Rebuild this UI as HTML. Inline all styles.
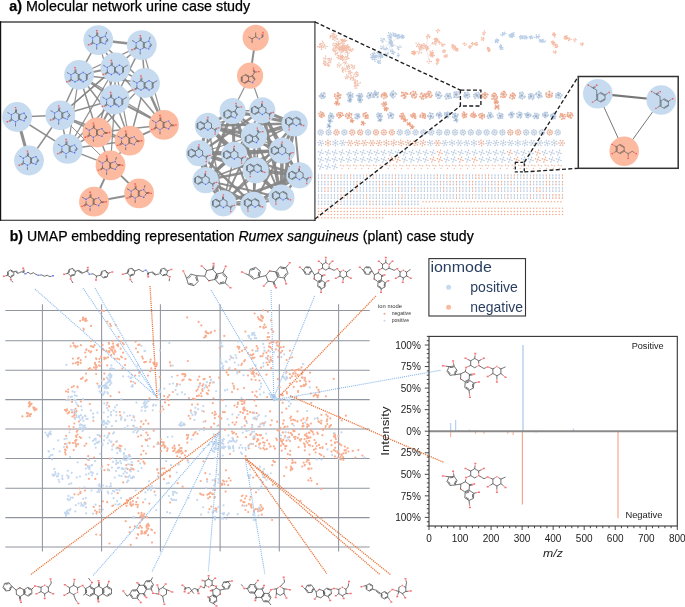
<!DOCTYPE html>
<html><head><meta charset="utf-8"><style>
html,body{margin:0;padding:0;background:#fff;width:685px;height:607px;overflow:hidden}
svg{display:block;will-change:transform}
text{font-family:"Liberation Sans",sans-serif}
</style></head><body>
<svg width="685" height="607" viewBox="0 0 685 607">
<text x="9.2" y="10.9" font-size="14.2" textLength="241" lengthAdjust="spacingAndGlyphs" fill="#000" stroke="#000" stroke-width="0.25"><tspan font-weight="bold">a)</tspan> Molecular network urine case study</text>
<text x="9.7" y="241.3" font-size="14.2" textLength="464" lengthAdjust="spacingAndGlyphs" fill="#000" stroke="#000" stroke-width="0.25"><tspan font-weight="bold">b)</tspan> UMAP embedding representation <tspan font-style="italic">Rumex sanguineus</tspan> (plant) case study</text>
<line x1="98.3" y1="40.1" x2="141.8" y2="45.1" stroke="#858585" stroke-width="2.5" stroke-opacity="0.92"/>
<line x1="98.3" y1="40.1" x2="115.4" y2="67.5" stroke="#858585" stroke-width="1.5" stroke-opacity="0.92"/>
<line x1="98.3" y1="40.1" x2="79.1" y2="74.8" stroke="#858585" stroke-width="1.5" stroke-opacity="0.92"/>
<line x1="141.8" y1="45.1" x2="115.4" y2="67.5" stroke="#858585" stroke-width="1.5" stroke-opacity="0.92"/>
<line x1="141.8" y1="45.1" x2="145" y2="83" stroke="#858585" stroke-width="1.5" stroke-opacity="0.92"/>
<line x1="115.4" y1="67.5" x2="79.1" y2="74.8" stroke="#858585" stroke-width="2" stroke-opacity="0.92"/>
<line x1="115.4" y1="67.5" x2="145" y2="83" stroke="#858585" stroke-width="1.5" stroke-opacity="0.92"/>
<line x1="115.4" y1="67.5" x2="114.7" y2="99.5" stroke="#858585" stroke-width="1.5" stroke-opacity="0.92"/>
<line x1="79.1" y1="74.8" x2="114.7" y2="99.5" stroke="#858585" stroke-width="2" stroke-opacity="0.92"/>
<line x1="79.1" y1="74.8" x2="145" y2="83" stroke="#858585" stroke-width="1.5" stroke-opacity="0.92"/>
<line x1="145" y1="83" x2="114.7" y2="99.5" stroke="#858585" stroke-width="1.5" stroke-opacity="0.92"/>
<line x1="79.1" y1="74.8" x2="60.3" y2="115.3" stroke="#858585" stroke-width="1.5" stroke-opacity="0.92"/>
<line x1="79.1" y1="74.8" x2="97.3" y2="132.5" stroke="#858585" stroke-width="1.5" stroke-opacity="0.92"/>
<line x1="79.1" y1="74.8" x2="129.6" y2="140.7" stroke="#858585" stroke-width="1.5" stroke-opacity="0.92"/>
<line x1="115.4" y1="67.5" x2="97.3" y2="132.5" stroke="#858585" stroke-width="1.5" stroke-opacity="0.92"/>
<line x1="114.7" y1="99.5" x2="97.3" y2="132.5" stroke="#858585" stroke-width="2" stroke-opacity="0.92"/>
<line x1="114.7" y1="99.5" x2="129.6" y2="140.7" stroke="#858585" stroke-width="1.5" stroke-opacity="0.92"/>
<line x1="114.7" y1="99.5" x2="163.9" y2="124.9" stroke="#858585" stroke-width="2" stroke-opacity="0.92"/>
<line x1="145" y1="83" x2="163.9" y2="124.9" stroke="#858585" stroke-width="2.5" stroke-opacity="0.92"/>
<line x1="145" y1="83" x2="129.6" y2="140.7" stroke="#858585" stroke-width="1.5" stroke-opacity="0.92"/>
<line x1="115.4" y1="67.5" x2="163.9" y2="124.9" stroke="#858585" stroke-width="1.5" stroke-opacity="0.92"/>
<line x1="114.7" y1="99.5" x2="60.3" y2="115.3" stroke="#858585" stroke-width="1.5" stroke-opacity="0.92"/>
<line x1="17.1" y1="117" x2="60.3" y2="115.3" stroke="#858585" stroke-width="1.5" stroke-opacity="0.92"/>
<line x1="17.1" y1="117" x2="29" y2="160.5" stroke="#858585" stroke-width="3" stroke-opacity="0.92"/>
<line x1="17.1" y1="117" x2="67.6" y2="148.9" stroke="#858585" stroke-width="1.5" stroke-opacity="0.92"/>
<line x1="60.3" y1="115.3" x2="29" y2="160.5" stroke="#858585" stroke-width="1.5" stroke-opacity="0.92"/>
<line x1="60.3" y1="115.3" x2="67.6" y2="148.9" stroke="#858585" stroke-width="1.5" stroke-opacity="0.92"/>
<line x1="67.6" y1="148.9" x2="97.3" y2="132.5" stroke="#858585" stroke-width="1.5" stroke-opacity="0.92"/>
<line x1="67.6" y1="148.9" x2="110.5" y2="165.4" stroke="#858585" stroke-width="1.5" stroke-opacity="0.92"/>
<line x1="60.3" y1="115.3" x2="129.6" y2="140.7" stroke="#858585" stroke-width="1.5" stroke-opacity="0.92"/>
<line x1="97.3" y1="132.5" x2="129.6" y2="140.7" stroke="#858585" stroke-width="1.5" stroke-opacity="0.92"/>
<line x1="129.6" y1="140.7" x2="163.9" y2="124.9" stroke="#858585" stroke-width="2" stroke-opacity="0.92"/>
<line x1="97.3" y1="132.5" x2="110.5" y2="165.4" stroke="#858585" stroke-width="1.5" stroke-opacity="0.92"/>
<line x1="129.6" y1="140.7" x2="110.5" y2="165.4" stroke="#858585" stroke-width="1.5" stroke-opacity="0.92"/>
<line x1="110.5" y1="165.4" x2="139.1" y2="193.4" stroke="#858585" stroke-width="2" stroke-opacity="0.92"/>
<line x1="110.5" y1="165.4" x2="94" y2="201.7" stroke="#858585" stroke-width="2" stroke-opacity="0.92"/>
<line x1="139.1" y1="193.4" x2="94" y2="201.7" stroke="#858585" stroke-width="2" stroke-opacity="0.92"/>
<line x1="60.3" y1="115.3" x2="115.4" y2="67.5" stroke="#858585" stroke-width="1.5" stroke-opacity="0.92"/>
<line x1="67.6" y1="148.9" x2="114.7" y2="99.5" stroke="#858585" stroke-width="1.5" stroke-opacity="0.92"/>
<line x1="98.3" y1="40.1" x2="145" y2="83" stroke="#858585" stroke-width="1.5" stroke-opacity="0.92"/>
<line x1="141.8" y1="45.1" x2="114.7" y2="99.5" stroke="#858585" stroke-width="1.5" stroke-opacity="0.92"/>
<line x1="60.3" y1="115.3" x2="97.3" y2="132.5" stroke="#858585" stroke-width="1.5" stroke-opacity="0.92"/>
<line x1="67.6" y1="148.9" x2="129.6" y2="140.7" stroke="#858585" stroke-width="1.5" stroke-opacity="0.92"/>
<line x1="145" y1="83" x2="97.3" y2="132.5" stroke="#858585" stroke-width="1.2" stroke-opacity="0.92"/>
<line x1="115.4" y1="67.5" x2="129.6" y2="140.7" stroke="#858585" stroke-width="1.2" stroke-opacity="0.92"/>
<line x1="141.8" y1="45.1" x2="79.1" y2="74.8" stroke="#858585" stroke-width="1.2" stroke-opacity="0.92"/>
<line x1="163.9" y1="124.9" x2="97.3" y2="132.5" stroke="#858585" stroke-width="1.5" stroke-opacity="0.92"/>
<line x1="67.6" y1="148.9" x2="79.1" y2="74.8" stroke="#858585" stroke-width="1.2" stroke-opacity="0.92"/>
<line x1="98.3" y1="40.1" x2="114.7" y2="99.5" stroke="#858585" stroke-width="1.2" stroke-opacity="0.92"/>
<line x1="115.4" y1="67.5" x2="67.6" y2="148.9" stroke="#858585" stroke-width="1.2" stroke-opacity="0.92"/>
<line x1="79.1" y1="74.8" x2="163.9" y2="124.9" stroke="#858585" stroke-width="1.2" stroke-opacity="0.92"/>
<line x1="141.8" y1="45.1" x2="163.9" y2="124.9" stroke="#858585" stroke-width="1.2" stroke-opacity="0.92"/>
<line x1="114.7" y1="99.5" x2="110.5" y2="165.4" stroke="#858585" stroke-width="1.2" stroke-opacity="0.92"/>
<line x1="60.3" y1="115.3" x2="110.5" y2="165.4" stroke="#858585" stroke-width="1.0" stroke-opacity="0.92"/>
<line x1="115.4" y1="67.5" x2="60.3" y2="115.3" stroke="#858585" stroke-width="1.2" stroke-opacity="0.92"/>
<line x1="255.7" y1="37.8" x2="250.1" y2="75.7" stroke="#858585" stroke-width="2" stroke-opacity="0.92"/>
<line x1="250.1" y1="75.7" x2="232.6" y2="111" stroke="#858585" stroke-width="1.2" stroke-opacity="0.92"/>
<line x1="250.1" y1="75.7" x2="262.3" y2="110.3" stroke="#858585" stroke-width="1.2" stroke-opacity="0.92"/>
<line x1="294.6" y1="123.5" x2="299.5" y2="175.3" stroke="#858585" stroke-width="2" stroke-opacity="0.92"/>
<line x1="232.6" y1="111" x2="262.3" y2="110.3" stroke="#858585" stroke-width="1.5" stroke-opacity="0.92"/>
<line x1="232.6" y1="111" x2="207.9" y2="125.8" stroke="#858585" stroke-width="3" stroke-opacity="0.92"/>
<line x1="232.6" y1="111" x2="294.6" y2="123.5" stroke="#858585" stroke-width="3" stroke-opacity="0.92"/>
<line x1="232.6" y1="111" x2="254" y2="135.7" stroke="#858585" stroke-width="1.5" stroke-opacity="0.92"/>
<line x1="232.6" y1="111" x2="199" y2="153.2" stroke="#858585" stroke-width="2" stroke-opacity="0.92"/>
<line x1="232.6" y1="111" x2="234.3" y2="154.8" stroke="#858585" stroke-width="3" stroke-opacity="0.92"/>
<line x1="232.6" y1="111" x2="282.1" y2="150.5" stroke="#858585" stroke-width="2.5" stroke-opacity="0.92"/>
<line x1="232.6" y1="111" x2="255.7" y2="170.3" stroke="#858585" stroke-width="3.5" stroke-opacity="0.92"/>
<line x1="232.6" y1="111" x2="205.6" y2="180.2" stroke="#858585" stroke-width="3" stroke-opacity="0.92"/>
<line x1="262.3" y1="110.3" x2="207.9" y2="125.8" stroke="#858585" stroke-width="1.2" stroke-opacity="0.92"/>
<line x1="262.3" y1="110.3" x2="294.6" y2="123.5" stroke="#858585" stroke-width="3" stroke-opacity="0.92"/>
<line x1="262.3" y1="110.3" x2="254" y2="135.7" stroke="#858585" stroke-width="1.2" stroke-opacity="0.92"/>
<line x1="262.3" y1="110.3" x2="199" y2="153.2" stroke="#858585" stroke-width="2.5" stroke-opacity="0.92"/>
<line x1="262.3" y1="110.3" x2="234.3" y2="154.8" stroke="#858585" stroke-width="2" stroke-opacity="0.92"/>
<line x1="262.3" y1="110.3" x2="282.1" y2="150.5" stroke="#858585" stroke-width="3" stroke-opacity="0.92"/>
<line x1="262.3" y1="110.3" x2="255.7" y2="170.3" stroke="#858585" stroke-width="1.5" stroke-opacity="0.92"/>
<line x1="262.3" y1="110.3" x2="299.5" y2="175.3" stroke="#858585" stroke-width="1.5" stroke-opacity="0.92"/>
<line x1="262.3" y1="110.3" x2="281.4" y2="197.7" stroke="#858585" stroke-width="3.5" stroke-opacity="0.92"/>
<line x1="207.9" y1="125.8" x2="294.6" y2="123.5" stroke="#858585" stroke-width="2.5" stroke-opacity="0.92"/>
<line x1="207.9" y1="125.8" x2="254" y2="135.7" stroke="#858585" stroke-width="3" stroke-opacity="0.92"/>
<line x1="207.9" y1="125.8" x2="199" y2="153.2" stroke="#858585" stroke-width="3" stroke-opacity="0.92"/>
<line x1="207.9" y1="125.8" x2="234.3" y2="154.8" stroke="#858585" stroke-width="2.5" stroke-opacity="0.92"/>
<line x1="207.9" y1="125.8" x2="282.1" y2="150.5" stroke="#858585" stroke-width="2.5" stroke-opacity="0.92"/>
<line x1="207.9" y1="125.8" x2="255.7" y2="170.3" stroke="#858585" stroke-width="3.5" stroke-opacity="0.92"/>
<line x1="207.9" y1="125.8" x2="205.6" y2="180.2" stroke="#858585" stroke-width="1.5" stroke-opacity="0.92"/>
<line x1="207.9" y1="125.8" x2="223.4" y2="203.3" stroke="#858585" stroke-width="1.5" stroke-opacity="0.92"/>
<line x1="294.6" y1="123.5" x2="254" y2="135.7" stroke="#858585" stroke-width="3.5" stroke-opacity="0.92"/>
<line x1="294.6" y1="123.5" x2="234.3" y2="154.8" stroke="#858585" stroke-width="1.5" stroke-opacity="0.92"/>
<line x1="294.6" y1="123.5" x2="282.1" y2="150.5" stroke="#858585" stroke-width="3" stroke-opacity="0.92"/>
<line x1="294.6" y1="123.5" x2="255.7" y2="170.3" stroke="#858585" stroke-width="2.5" stroke-opacity="0.92"/>
<line x1="294.6" y1="123.5" x2="281.4" y2="197.7" stroke="#858585" stroke-width="3.5" stroke-opacity="0.92"/>
<line x1="254" y1="135.7" x2="199" y2="153.2" stroke="#858585" stroke-width="1.2" stroke-opacity="0.92"/>
<line x1="254" y1="135.7" x2="234.3" y2="154.8" stroke="#858585" stroke-width="3.5" stroke-opacity="0.92"/>
<line x1="254" y1="135.7" x2="282.1" y2="150.5" stroke="#858585" stroke-width="1.2" stroke-opacity="0.92"/>
<line x1="254" y1="135.7" x2="255.7" y2="170.3" stroke="#858585" stroke-width="1.5" stroke-opacity="0.92"/>
<line x1="254" y1="135.7" x2="205.6" y2="180.2" stroke="#858585" stroke-width="3" stroke-opacity="0.92"/>
<line x1="254" y1="135.7" x2="299.5" y2="175.3" stroke="#858585" stroke-width="1.2" stroke-opacity="0.92"/>
<line x1="254" y1="135.7" x2="223.4" y2="203.3" stroke="#858585" stroke-width="2" stroke-opacity="0.92"/>
<line x1="254" y1="135.7" x2="253.4" y2="204.9" stroke="#858585" stroke-width="1.2" stroke-opacity="0.92"/>
<line x1="254" y1="135.7" x2="281.4" y2="197.7" stroke="#858585" stroke-width="2" stroke-opacity="0.92"/>
<line x1="199" y1="153.2" x2="234.3" y2="154.8" stroke="#858585" stroke-width="2.5" stroke-opacity="0.92"/>
<line x1="199" y1="153.2" x2="282.1" y2="150.5" stroke="#858585" stroke-width="3" stroke-opacity="0.92"/>
<line x1="199" y1="153.2" x2="255.7" y2="170.3" stroke="#858585" stroke-width="3.5" stroke-opacity="0.92"/>
<line x1="199" y1="153.2" x2="205.6" y2="180.2" stroke="#858585" stroke-width="2.5" stroke-opacity="0.92"/>
<line x1="199" y1="153.2" x2="223.4" y2="203.3" stroke="#858585" stroke-width="3.5" stroke-opacity="0.92"/>
<line x1="199" y1="153.2" x2="253.4" y2="204.9" stroke="#858585" stroke-width="2.5" stroke-opacity="0.92"/>
<line x1="234.3" y1="154.8" x2="282.1" y2="150.5" stroke="#858585" stroke-width="2.5" stroke-opacity="0.92"/>
<line x1="234.3" y1="154.8" x2="255.7" y2="170.3" stroke="#858585" stroke-width="3.5" stroke-opacity="0.92"/>
<line x1="234.3" y1="154.8" x2="205.6" y2="180.2" stroke="#858585" stroke-width="3" stroke-opacity="0.92"/>
<line x1="234.3" y1="154.8" x2="299.5" y2="175.3" stroke="#858585" stroke-width="2.5" stroke-opacity="0.92"/>
<line x1="234.3" y1="154.8" x2="223.4" y2="203.3" stroke="#858585" stroke-width="1.5" stroke-opacity="0.92"/>
<line x1="234.3" y1="154.8" x2="253.4" y2="204.9" stroke="#858585" stroke-width="2" stroke-opacity="0.92"/>
<line x1="234.3" y1="154.8" x2="281.4" y2="197.7" stroke="#858585" stroke-width="1.2" stroke-opacity="0.92"/>
<line x1="282.1" y1="150.5" x2="255.7" y2="170.3" stroke="#858585" stroke-width="1.2" stroke-opacity="0.92"/>
<line x1="282.1" y1="150.5" x2="205.6" y2="180.2" stroke="#858585" stroke-width="1.5" stroke-opacity="0.92"/>
<line x1="282.1" y1="150.5" x2="299.5" y2="175.3" stroke="#858585" stroke-width="2.5" stroke-opacity="0.92"/>
<line x1="282.1" y1="150.5" x2="223.4" y2="203.3" stroke="#858585" stroke-width="1.5" stroke-opacity="0.92"/>
<line x1="282.1" y1="150.5" x2="253.4" y2="204.9" stroke="#858585" stroke-width="2" stroke-opacity="0.92"/>
<line x1="282.1" y1="150.5" x2="281.4" y2="197.7" stroke="#858585" stroke-width="3.5" stroke-opacity="0.92"/>
<line x1="255.7" y1="170.3" x2="205.6" y2="180.2" stroke="#858585" stroke-width="2.5" stroke-opacity="0.92"/>
<line x1="255.7" y1="170.3" x2="299.5" y2="175.3" stroke="#858585" stroke-width="3.5" stroke-opacity="0.92"/>
<line x1="255.7" y1="170.3" x2="223.4" y2="203.3" stroke="#858585" stroke-width="2" stroke-opacity="0.92"/>
<line x1="255.7" y1="170.3" x2="253.4" y2="204.9" stroke="#858585" stroke-width="2.5" stroke-opacity="0.92"/>
<line x1="255.7" y1="170.3" x2="281.4" y2="197.7" stroke="#858585" stroke-width="3" stroke-opacity="0.92"/>
<line x1="205.6" y1="180.2" x2="223.4" y2="203.3" stroke="#858585" stroke-width="2.5" stroke-opacity="0.92"/>
<line x1="205.6" y1="180.2" x2="253.4" y2="204.9" stroke="#858585" stroke-width="3" stroke-opacity="0.92"/>
<line x1="205.6" y1="180.2" x2="281.4" y2="197.7" stroke="#858585" stroke-width="2" stroke-opacity="0.92"/>
<line x1="299.5" y1="175.3" x2="223.4" y2="203.3" stroke="#858585" stroke-width="3" stroke-opacity="0.92"/>
<line x1="299.5" y1="175.3" x2="253.4" y2="204.9" stroke="#858585" stroke-width="3" stroke-opacity="0.92"/>
<line x1="299.5" y1="175.3" x2="281.4" y2="197.7" stroke="#858585" stroke-width="2.5" stroke-opacity="0.92"/>
<line x1="223.4" y1="203.3" x2="253.4" y2="204.9" stroke="#858585" stroke-width="3" stroke-opacity="0.92"/>
<line x1="223.4" y1="203.3" x2="281.4" y2="197.7" stroke="#858585" stroke-width="1.5" stroke-opacity="0.92"/>
<line x1="253.4" y1="204.9" x2="281.4" y2="197.7" stroke="#858585" stroke-width="2" stroke-opacity="0.92"/>
<circle cx="98.3" cy="40.1" r="14.9" fill="#c6dbef"/>
<circle cx="141.8" cy="45.1" r="14.9" fill="#c6dbef"/>
<circle cx="115.4" cy="67.5" r="14.9" fill="#c6dbef"/>
<circle cx="79.1" cy="74.8" r="14.9" fill="#c6dbef"/>
<circle cx="145" cy="83" r="14.9" fill="#c6dbef"/>
<circle cx="114.7" cy="99.5" r="14.9" fill="#c6dbef"/>
<circle cx="17.1" cy="117" r="14.9" fill="#c6dbef"/>
<circle cx="60.3" cy="115.3" r="14.9" fill="#c6dbef"/>
<circle cx="163.9" cy="124.9" r="14.9" fill="#fcbba1"/>
<circle cx="97.3" cy="132.5" r="14.9" fill="#fcbba1"/>
<circle cx="129.6" cy="140.7" r="14.9" fill="#fcbba1"/>
<circle cx="67.6" cy="148.9" r="14.9" fill="#c6dbef"/>
<circle cx="29" cy="160.5" r="14.9" fill="#c6dbef"/>
<circle cx="110.5" cy="165.4" r="14.9" fill="#fcbba1"/>
<circle cx="139.1" cy="193.4" r="14.9" fill="#fcbba1"/>
<circle cx="94" cy="201.7" r="14.9" fill="#fcbba1"/>
<circle cx="255.7" cy="37.8" r="13.1" fill="#fcbba1"/>
<circle cx="250.1" cy="75.7" r="13.1" fill="#fcbba1"/>
<circle cx="232.6" cy="111" r="13.1" fill="#c6dbef"/>
<circle cx="262.3" cy="110.3" r="13.1" fill="#c6dbef"/>
<circle cx="207.9" cy="125.8" r="13.1" fill="#c6dbef"/>
<circle cx="294.6" cy="123.5" r="13.1" fill="#c6dbef"/>
<circle cx="254" cy="135.7" r="13.1" fill="#c6dbef"/>
<circle cx="199" cy="153.2" r="13.1" fill="#c6dbef"/>
<circle cx="234.3" cy="154.8" r="13.1" fill="#c6dbef"/>
<circle cx="282.1" cy="150.5" r="13.1" fill="#c6dbef"/>
<circle cx="255.7" cy="170.3" r="13.1" fill="#c6dbef"/>
<circle cx="205.6" cy="180.2" r="13.1" fill="#c6dbef"/>
<circle cx="299.5" cy="175.3" r="13.1" fill="#c6dbef"/>
<circle cx="223.4" cy="203.3" r="13.1" fill="#c6dbef"/>
<circle cx="253.4" cy="204.9" r="13.1" fill="#c6dbef"/>
<circle cx="281.4" cy="197.7" r="13.1" fill="#c6dbef"/>
<path d="M96.7 35.4L98.8 36.6M98.8 36.6L100.8 37.8M100.8 37.8L100.8 40.1M99.8 37.8L99.8 40.1M100.8 40.1L100.8 42.5M99.8 40.1L99.8 42.5M100.8 42.5L98.8 43.6M94.7 43.6L92.6 42.5M92.6 42.5L92.6 40.1M94.7 36.6L96.7 35.4M100.8 42.5L103 43.2M106.6 42L108 40.1M105.9 41.4L107.3 39.5M108 40.1L106.6 38.2M103 37L100.8 37.8M96.7 35.4L96.7 33M97.7 35.4L97.7 33M92.6 42.5L90.6 43.6M93.1 43.3L91.1 44.4M90.6 36.6L88.6 35.4M96.7 47.2L96.7 49.5M106 34.1L106.7 31.8M140.2 40.4L142.3 41.6M142.3 41.6L144.3 42.8M144.3 42.8L144.3 45.1M143.3 42.8L143.3 45.1M144.3 45.1L144.3 47.5M143.3 45.1L143.3 47.5M144.3 47.5L142.3 48.6M138.2 48.6L136.1 47.5M136.1 47.5L136.1 45.1M138.2 41.6L140.2 40.4M144.3 47.5L146.5 48.2M150.1 47L151.5 45.1M149.4 46.4L150.8 44.5M151.5 45.1L150.1 43.2M146.5 42L144.3 42.8M140.2 40.4L140.2 38M141.2 40.4L141.2 38M136.1 47.5L134.1 48.6M136.6 48.3L134.6 49.4M134.1 41.6L132.1 40.4M140.2 52.2L140.2 54.5M149.5 39.1L150.2 36.8M111.3 65.2L113.4 66.3M113.4 66.3L115.4 67.5M115.4 67.5L115.4 69.8M114.5 67.5L114.5 69.8M115.4 69.8L115.4 72.2M114.5 69.8L114.5 72.2M115.4 72.2L113.4 73.4M109.3 73.4L107.3 72.2M107.3 72.2L107.3 69.8M109.3 66.3L111.3 65.2M121.5 66.3L123.5 67.5M123.5 67.5L123.5 69.8M122.6 67.5L122.6 69.8M123.5 69.8L123.5 72.2M122.6 69.8L122.6 72.2M123.5 72.2L121.5 73.4M117.4 73.4L115.4 72.2M117.9 72.6L115.9 71.4M115.4 67.5L117.4 66.3M111.3 65.2L111.3 62.8M112.3 65.2L112.3 62.8M107.3 72.2L105.2 73.4M107.7 73L105.7 74.2M105.2 66.3L103.2 65.2M123.5 67.5L125.6 66.3M125.6 66.3L127.6 65.2M75 72.5L77.1 73.6M77.1 73.6L79.1 74.8M79.1 74.8L79.1 77.2M78.2 74.8L78.2 77.2M79.1 77.2L79.1 79.5M78.2 77.2L78.2 79.5M79.1 79.5L77.1 80.7M73 80.7L71 79.5M71 79.5L71 77.2M73 73.6L75 72.5M85.2 73.6L87.2 74.8M87.2 74.8L87.2 77.2M86.3 74.8L86.3 77.2M87.2 77.2L87.2 79.5M86.3 77.2L86.3 79.5M87.2 79.5L85.2 80.7M81.1 80.7L79.1 79.5M81.6 79.9L79.6 78.7M79.1 74.8L81.1 73.6M75 72.5L75 70.1M76 72.5L76 70.1M71 79.5L68.9 80.7M71.4 80.3L69.4 81.5M68.9 73.6L66.9 72.5M87.2 74.8L89.3 73.6M89.3 73.6L91.3 72.5M140.9 80.7L143 81.8M143 81.8L145 83M145 83L145 85.3M144.1 83L144.1 85.3M145 85.3L145 87.7M144.1 85.3L144.1 87.7M145 87.7L143 88.9M138.9 88.9L136.9 87.7M136.9 87.7L136.9 85.3M138.9 81.8L140.9 80.7M151.1 81.8L153.1 83M153.1 83L153.1 85.3M152.2 83L152.2 85.3M153.1 85.3L153.1 87.7M152.2 85.3L152.2 87.7M153.1 87.7L151.1 88.9M147 88.9L145 87.7M147.5 88.1L145.5 86.9M145 83L147 81.8M140.9 80.7L140.9 78.3M141.9 80.7L141.9 78.3M136.9 87.7L134.8 88.9M137.3 88.5L135.3 89.7M134.8 81.8L132.8 80.7M153.1 83L155.2 81.8M155.2 81.8L157.2 80.7M110.6 97.2L112.7 98.3M112.7 98.3L114.7 99.5M114.7 99.5L114.7 101.8M113.8 99.5L113.8 101.8M114.7 101.8L114.7 104.2M113.8 101.8L113.8 104.2M114.7 104.2L112.7 105.4M108.6 105.4L106.6 104.2M106.6 104.2L106.6 101.8M108.6 98.3L110.6 97.2M120.8 98.3L122.8 99.5M122.8 99.5L122.8 101.8M121.9 99.5L121.9 101.8M122.8 101.8L122.8 104.2M121.9 101.8L121.9 104.2M122.8 104.2L120.8 105.4M116.7 105.4L114.7 104.2M117.2 104.6L115.2 103.4M114.7 99.5L116.7 98.3M110.6 97.2L110.6 94.8M111.6 97.2L111.6 94.8M106.6 104.2L104.5 105.4M107 105L105 106.2M104.5 98.3L102.5 97.2M122.8 99.5L124.9 98.3M124.9 98.3L126.9 97.2M15.5 112.3L17.6 113.5M17.6 113.5L19.6 114.7M19.6 114.7L19.6 117M18.6 114.7L18.6 117M19.6 117L19.6 119.3M18.6 117L18.6 119.3M19.6 119.3L17.6 120.5M13.5 120.5L11.4 119.3M11.4 119.3L11.4 117M13.5 113.5L15.5 112.3M19.6 119.3L21.8 120.1M25.4 118.9L26.8 117M24.7 118.3L26.1 116.4M26.8 117L25.4 115.1M21.8 113.9L19.6 114.7M15.5 112.3L15.5 109.9M16.5 112.3L16.5 109.9M11.4 119.3L9.4 120.5M11.9 120.2L9.9 121.3M9.4 113.5L7.4 112.3M15.5 124.1L15.5 126.4M58.7 110.6L60.8 111.8M60.8 111.8L62.8 113M62.8 113L62.8 115.3M61.8 113L61.8 115.3M62.8 115.3L62.8 117.6M61.8 115.3L61.8 117.6M62.8 117.6L60.8 118.8M56.7 118.8L54.6 117.6M54.6 117.6L54.6 115.3M56.7 111.8L58.7 110.6M62.8 117.6L65 118.4M68.6 117.2L70 115.3M67.9 116.6L69.3 114.7M70 115.3L68.6 113.4M65 112.2L62.8 113M58.7 110.6L58.7 108.2M59.7 110.6L59.7 108.2M54.6 117.6L52.6 118.8M55.1 118.5L53.1 119.6M52.6 111.8L50.6 110.6M58.7 122.3L58.7 124.7M160 120.2L162 121.4M162 121.4L164 122.6M164 122.6L164 124.9M163.1 122.6L163.1 124.9M164 124.9L164 127.2M163.1 124.9L163.1 127.2M164 127.2L162 128.4M157.9 128.4L155.9 127.2M155.9 127.2L155.9 124.9M157.9 121.4L160 120.2M164 127.2L166.3 128M169.9 126.8L171.3 124.9M171.3 124.9L169.9 123M166.3 121.8L164 122.6M160 120.2L160 117.8M160.9 120.2L160.9 117.8M155.9 127.2L153.9 128.4M156.4 128.1L154.3 129.2M153.9 121.4L151.8 120.2M160 131.9L160 134.3M171.3 124.9L173.6 124.9M171.3 125.8L173.6 125.8M93.4 127.8L95.4 129M95.4 129L97.4 130.2M97.4 130.2L97.4 132.5M96.5 130.2L96.5 132.5M97.4 132.5L97.4 134.8M96.5 132.5L96.5 134.8M97.4 134.8L95.4 136M91.3 136L89.3 134.8M89.3 134.8L89.3 132.5M91.3 129L93.4 127.8M97.4 134.8L99.7 135.6M103.3 134.4L104.7 132.5M104.7 132.5L103.3 130.6M99.7 129.4L97.4 130.2M93.4 127.8L93.4 125.4M94.3 127.8L94.3 125.4M89.3 134.8L87.3 136M89.8 135.7L87.7 136.8M87.3 129L85.2 127.8M93.4 139.6L93.4 141.9M104.7 132.5L107 132.5M104.7 133.4L107 133.4M125.7 136L127.7 137.2M127.7 137.2L129.7 138.3M129.7 138.3L129.7 140.7M128.8 138.3L128.8 140.7M129.7 140.7L129.7 143M128.8 140.7L128.8 143M129.7 143L127.7 144.2M123.6 144.2L121.6 143M121.6 143L121.6 140.7M123.6 137.2L125.7 136M129.7 143L132 143.8M135.6 142.6L137 140.7M137 140.7L135.6 138.8M132 137.6L129.7 138.3M125.7 136L125.7 133.6M126.6 136L126.6 133.6M121.6 143L119.6 144.2M122.1 143.9L120 145M119.6 137.2L117.5 136M125.7 147.8L125.7 150.1M137 140.7L139.3 140.7M137 141.6L139.3 141.6M66 144.2L68.1 145.4M68.1 145.4L70.1 146.6M70.1 146.6L70.1 148.9M69.1 146.6L69.1 148.9M70.1 148.9L70.1 151.2M69.1 148.9L69.1 151.2M70.1 151.2L68.1 152.4M64 152.4L61.9 151.2M61.9 151.2L61.9 148.9M64 145.4L66 144.2M70.1 151.2L72.3 152M75.9 150.8L77.3 148.9M75.2 150.2L76.6 148.3M77.3 148.9L75.9 147M72.3 145.8L70.1 146.6M66 144.2L66 141.9M67 144.2L67 141.9M61.9 151.2L59.9 152.4M62.4 152.1L60.4 153.2M59.9 145.4L57.9 144.2M66 155.9L66 158.3M27.4 155.8L29.5 157M29.5 157L31.5 158.2M31.5 158.2L31.5 160.5M30.5 158.2L30.5 160.5M31.5 160.5L31.5 162.8M30.5 160.5L30.5 162.8M31.5 162.8L29.5 164M25.4 164L23.3 162.8M23.3 162.8L23.3 160.5M25.4 157L27.4 155.8M31.5 162.8L33.7 163.6M37.3 162.4L38.7 160.5M36.6 161.8L38 159.9M38.7 160.5L37.3 158.6M33.7 157.4L31.5 158.2M27.4 155.8L27.4 153.4M28.4 155.8L28.4 153.4M23.3 162.8L21.3 164M23.8 163.7L21.8 164.8M21.3 157L19.3 155.8M27.4 167.6L27.4 169.9M106.6 160.7L108.6 161.9M108.6 161.9L110.6 163.1M110.6 163.1L110.6 165.4M109.7 163.1L109.7 165.4M110.6 165.4L110.6 167.8M109.7 165.4L109.7 167.8M110.6 167.8L108.6 168.9M104.5 168.9L102.5 167.8M102.5 167.8L102.5 165.4M104.5 161.9L106.6 160.7M110.6 167.8L112.9 168.5M116.5 167.3L117.9 165.4M117.9 165.4L116.5 163.5M112.9 162.3L110.6 163.1M106.6 160.7L106.6 158.4M107.5 160.7L107.5 158.4M102.5 167.8L100.5 168.9M103 168.6L100.9 169.7M100.5 161.9L98.4 160.7M106.6 172.4L106.6 174.8M117.9 165.4L120.2 165.4M117.9 164.5L120.2 164.5M115.8 159.4L116.5 157.1M135.2 188.7L137.2 189.9M137.2 189.9L139.2 191.1M139.2 191.1L139.2 193.4M138.3 191.1L138.3 193.4M139.2 193.4L139.2 195.8M138.3 193.4L138.3 195.8M139.2 195.8L137.2 196.9M133.1 196.9L131.1 195.8M131.1 195.8L131.1 193.4M133.1 189.9L135.2 188.7M139.2 195.8L141.5 196.5M145.1 195.3L146.5 193.4M146.5 193.4L145.1 191.5M141.5 190.3L139.2 191.1M135.2 188.7L135.2 186.4M136.1 188.7L136.1 186.4M131.1 195.8L129.1 196.9M131.6 196.6L129.5 197.7M129.1 189.9L127 188.7M135.2 200.4L135.2 202.8M146.5 193.4L148.8 193.4M146.5 192.5L148.8 192.5M144.4 187.4L145.1 185.1M90.1 197L92.1 198.2M92.1 198.2L94.1 199.3M94.1 199.3L94.1 201.7M93.2 199.3L93.2 201.7M94.1 201.7L94.1 204M93.2 201.7L93.2 204M94.1 204L92.1 205.2M88 205.2L86 204M86 204L86 201.7M88 198.2L90.1 197M94.1 204L96.4 204.8M100 203.6L101.4 201.7M101.4 201.7L100 199.8M96.4 198.6L94.1 199.3M90.1 197L90.1 194.6M91 197L91 194.6M86 204L84 205.2M86.5 204.9L84.4 206M84 198.2L81.9 197M90.1 208.8L90.1 211.1M101.4 201.7L103.7 201.7M101.4 202.6L103.7 202.6M248.4 36.8L250.2 37.8M250.2 37.8L252.1 38.8M252.1 38.8L253.9 37.8M253.9 37.8L255.7 36.8M255.7 36.8L257.5 37.8M261.2 37.8L263 36.8M263 36.8L263 34.6M262.1 36.8L262.1 34.6M252.1 38.8L252.1 40.9M252.1 40.9L252.1 43M255.7 36.8L255.7 34.6M255.7 34.6L255.7 32.5M245 74.9L246.8 76M245.4 74.2L247.2 75.2M246.8 76L248.6 77M247.2 75.2L249 76.3M248.6 77L248.6 79.1M248.6 79.1L248.6 81.2M248.6 81.2L246.8 82.3M248.2 80.5L246.4 81.5M246.8 82.3L245 83.3M246.4 81.5L244.5 82.6M245 83.3L243.1 82.3M243.1 82.3L241.3 81.2M241.3 81.2L241.3 79.1M242.2 81.2L242.2 79.1M241.3 79.1L241.3 77M242.2 79.1L242.2 77M241.3 77L243.1 76M243.1 76L245 74.9M248.6 81.2L250.6 81.9M253.8 80.8L255.1 79.1M255.1 79.1L253.8 77.4M254.4 79.6L253.1 77.9M253.8 77.4L252.6 75.7M253.1 77.9L251.9 76.2M252.6 75.7L250.6 76.4M250.6 76.4L248.6 77M252.6 75.7L253.6 73.9M253.6 73.9L254.7 72.1M254.7 72.1L254.1 70.1M253.9 72.3L253.3 70.3M254.7 72.1L256.8 71.9M227.5 110.2L229.3 111.3M227.9 109.5L229.7 110.5M229.3 111.3L231.1 112.3M229.7 110.5L231.5 111.6M231.1 112.3L231.1 114.4M231.1 114.4L231.1 116.5M231.1 116.5L229.3 117.6M230.7 115.8L228.9 116.8M229.3 117.6L227.5 118.6M228.9 116.8L227 117.9M227.5 118.6L225.6 117.6M225.6 117.6L223.8 116.5M223.8 116.5L223.8 114.4M224.7 116.5L224.7 114.4M223.8 114.4L223.8 112.3M224.7 114.4L224.7 112.3M223.8 112.3L225.6 111.3M225.6 111.3L227.5 110.2M231.1 116.5L233.1 117.2M236.3 116.1L237.6 114.4M237.6 114.4L236.3 112.7M236.9 114.9L235.6 113.2M236.3 112.7L235.1 111M235.6 113.2L234.4 111.5M235.1 111L233.1 111.7M233.1 111.7L231.1 112.3M235.1 111L236.1 109.2M236.1 109.2L237.2 107.4M237.2 107.4L236.6 105.4M236.4 107.6L235.8 105.6M237.2 107.4L239.3 107.2M255 106.1L256.8 107.2M254.6 106.8L256.4 107.9M256.8 107.2L258.7 108.2M256.4 107.9L258.2 108.9M258.7 108.2L258.7 110.3M258.7 110.3L258.7 112.4M258.7 112.4L256.8 113.4M258.2 111.7L256.4 112.7M256.8 113.4L255 114.5M256.4 112.7L254.6 113.8M255 114.5L253.2 113.4M253.2 113.4L251.4 112.4M251.4 112.4L251.4 110.3M252.2 112.4L252.2 110.3M251.4 110.3L251.4 108.2M252.2 110.3L252.2 108.2M251.4 108.2L253.2 107.2M253.2 107.2L255 106.1M262.3 106.1L264.1 107.2M264.1 107.2L265.9 108.2M265.9 108.2L265.9 110.3M265.9 110.3L265.9 112.4M265.9 112.4L264.1 113.4M260.5 113.4L258.7 112.4M258.7 108.2L260.5 107.2M260.5 107.2L262.3 106.1M262.3 106.1L262.3 104M261.5 106.1L261.5 104M265.9 112.4L267.8 113.4M267.8 113.4L269.6 114.5M269.6 114.5L271.4 113.4M269.2 113.8L271 112.7M269.6 114.5L269.6 116.6M200.6 121.6L202.4 122.7M200.2 122.3L202 123.4M202.4 122.7L204.3 123.7M202 123.4L203.8 124.4M204.3 123.7L204.3 125.8M204.3 125.8L204.3 127.9M204.3 127.9L202.4 128.9M203.8 127.2L202 128.2M202.4 128.9L200.6 130M202 128.2L200.2 129.3M200.6 130L198.8 128.9M198.8 128.9L197 127.9M197 127.9L197 125.8M197.8 127.9L197.8 125.8M197 125.8L197 123.7M197.8 125.8L197.8 123.7M197 123.7L198.8 122.7M198.8 122.7L200.6 121.6M207.9 121.6L209.7 122.7M209.7 122.7L211.5 123.7M211.5 123.7L211.5 125.8M211.5 125.8L211.5 127.9M211.5 127.9L209.7 128.9M206.1 128.9L204.3 127.9M204.3 123.7L206.1 122.7M206.1 122.7L207.9 121.6M207.9 121.6L207.9 119.5M207.1 121.6L207.1 119.5M211.5 127.9L213.4 128.9M213.4 128.9L215.2 130M215.2 130L217 128.9M214.8 129.3L216.6 128.2M215.2 130L215.2 132.1M289.1 117.2L291 118.2M288.7 117.9L290.5 119M291 118.2L292.8 119.3M290.5 119L292.4 120M292.8 119.3L292.8 121.4M292.8 121.4L292.8 123.5M292.8 123.5L291 124.5M292.4 122.8L290.5 123.8M291 124.5L289.1 125.6M290.5 123.8L288.7 124.9M289.1 125.6L287.3 124.5M287.3 124.5L285.5 123.5M285.5 123.5L285.5 121.4M286.3 123.5L286.3 121.4M285.5 121.4L285.5 119.3M286.3 121.4L286.3 119.3M285.5 119.3L287.3 118.2M287.3 118.2L289.1 117.2M296.4 117.2L298.2 118.2M296 117.9L297.8 119M298.2 118.2L300.1 119.3M297.8 119L299.6 120M300.1 119.3L300.1 121.4M300.1 121.4L300.1 123.5M300.1 123.5L298.2 124.5M294.6 124.5L292.8 123.5M292.8 119.3L294.6 118.2M294.6 118.2L296.4 117.2M289.1 125.6L289.1 127.7M300.1 123.5L301.9 124.5M299.6 124.2L301.5 125.3M248.9 134.9L250.7 136M249.3 134.2L251.1 135.2M250.7 136L252.5 137M251.1 135.2L252.9 136.3M252.5 137L252.5 139.1M252.5 139.1L252.5 141.2M252.5 141.2L250.7 142.3M252.1 140.5L250.3 141.5M250.7 142.3L248.9 143.3M250.3 141.5L248.4 142.6M248.9 143.3L247 142.3M247 142.3L245.2 141.2M245.2 141.2L245.2 139.1M246.1 141.2L246.1 139.1M245.2 139.1L245.2 137M246.1 139.1L246.1 137M245.2 137L247 136M247 136L248.9 134.9M252.5 141.2L254.5 141.9M257.7 140.8L259 139.1M259 139.1L257.7 137.4M258.3 139.6L257 137.9M257.7 137.4L256.5 135.7M257 137.9L255.8 136.2M256.5 135.7L254.5 136.4M254.5 136.4L252.5 137M256.5 135.7L257.5 133.9M257.5 133.9L258.6 132.1M258.6 132.1L258 130.1M257.8 132.3L257.2 130.3M258.6 132.1L260.7 131.9M191.7 149L193.5 150.1M191.3 149.7L193.1 150.8M193.5 150.1L195.4 151.1M193.1 150.8L194.9 151.8M195.4 151.1L195.4 153.2M195.4 153.2L195.4 155.3M195.4 155.3L193.5 156.3M194.9 154.6L193.1 155.6M193.5 156.3L191.7 157.4M193.1 155.6L191.3 156.7M191.7 157.4L189.9 156.3M189.9 156.3L188.1 155.3M188.1 155.3L188.1 153.2M188.9 155.3L188.9 153.2M188.1 153.2L188.1 151.1M188.9 153.2L188.9 151.1M188.1 151.1L189.9 150.1M189.9 150.1L191.7 149M199 149L200.8 150.1M200.8 150.1L202.6 151.1M202.6 151.1L202.6 153.2M202.6 153.2L202.6 155.3M202.6 155.3L200.8 156.3M197.2 156.3L195.4 155.3M195.4 151.1L197.2 150.1M197.2 150.1L199 149M199 149L199 146.9M198.2 149L198.2 146.9M202.6 155.3L204.5 156.3M204.5 156.3L206.3 157.4M206.3 157.4L208.1 156.3M205.9 156.7L207.7 155.6M206.3 157.4L206.3 159.5M227 150.6L228.8 151.7M226.6 151.3L228.4 152.4M228.8 151.7L230.7 152.7M228.4 152.4L230.2 153.4M230.7 152.7L230.7 154.8M230.7 154.8L230.7 156.9M230.7 156.9L228.8 157.9M230.2 156.2L228.4 157.2M228.8 157.9L227 159M228.4 157.2L226.6 158.3M227 159L225.2 157.9M225.2 157.9L223.4 156.9M223.4 156.9L223.4 154.8M224.2 156.9L224.2 154.8M223.4 154.8L223.4 152.7M224.2 154.8L224.2 152.7M223.4 152.7L225.2 151.7M225.2 151.7L227 150.6M234.3 150.6L236.1 151.7M236.1 151.7L237.9 152.7M237.9 152.7L237.9 154.8M237.9 154.8L237.9 156.9M237.9 156.9L236.1 157.9M232.5 157.9L230.7 156.9M230.7 152.7L232.5 151.7M232.5 151.7L234.3 150.6M234.3 150.6L234.3 148.5M233.5 150.6L233.5 148.5M237.9 156.9L239.8 157.9M239.8 157.9L241.6 159M241.6 159L243.4 157.9M241.2 158.3L243 157.2M241.6 159L241.6 161.1M274.8 146.3L276.6 147.4M274.4 147L276.2 148.1M276.6 147.4L278.5 148.4M276.2 148.1L278 149.1M278.5 148.4L278.5 150.5M278.5 150.5L278.5 152.6M278.5 152.6L276.6 153.6M278 151.9L276.2 152.9M276.6 153.6L274.8 154.7M276.2 152.9L274.4 154M274.8 154.7L273 153.6M273 153.6L271.2 152.6M271.2 152.6L271.2 150.5M272 152.6L272 150.5M271.2 150.5L271.2 148.4M272 150.5L272 148.4M271.2 148.4L273 147.4M273 147.4L274.8 146.3M282.1 146.3L283.9 147.4M283.9 147.4L285.7 148.4M285.7 148.4L285.7 150.5M285.7 150.5L285.7 152.6M285.7 152.6L283.9 153.6M280.3 153.6L278.5 152.6M278.5 148.4L280.3 147.4M280.3 147.4L282.1 146.3M282.1 146.3L282.1 144.2M281.3 146.3L281.3 144.2M285.7 152.6L287.6 153.6M287.6 153.6L289.4 154.7M289.4 154.7L291.2 153.6M289 154L290.8 152.9M289.4 154.7L289.4 156.8M250.2 164L252.1 165.1M249.8 164.7L251.6 165.8M252.1 165.1L253.9 166.1M251.6 165.8L253.5 166.8M253.9 166.1L253.9 168.2M253.9 168.2L253.9 170.3M253.9 170.3L252.1 171.4M253.5 169.6L251.6 170.6M252.1 171.4L250.2 172.4M251.6 170.6L249.8 171.7M250.2 172.4L248.4 171.4M248.4 171.4L246.6 170.3M246.6 170.3L246.6 168.2M247.4 170.3L247.4 168.2M246.6 168.2L246.6 166.1M247.4 168.2L247.4 166.1M246.6 166.1L248.4 165.1M248.4 165.1L250.2 164M257.5 164L259.3 165.1M257.1 164.7L258.9 165.8M259.3 165.1L261.2 166.1M258.9 165.8L260.7 166.8M261.2 166.1L261.2 168.2M261.2 168.2L261.2 170.3M261.2 170.3L259.3 171.4M255.7 171.4L253.9 170.3M253.9 166.1L255.7 165.1M255.7 165.1L257.5 164M250.2 172.4L250.2 174.5M261.2 170.3L263 171.4M260.7 171L262.6 172.1M198.3 176L200.1 177.1M197.9 176.7L199.7 177.8M200.1 177.1L202 178.1M199.7 177.8L201.5 178.8M202 178.1L202 180.2M202 180.2L202 182.3M202 182.3L200.1 183.3M201.5 181.6L199.7 182.6M200.1 183.3L198.3 184.4M199.7 182.6L197.9 183.7M198.3 184.4L196.5 183.3M196.5 183.3L194.7 182.3M194.7 182.3L194.7 180.2M195.5 182.3L195.5 180.2M194.7 180.2L194.7 178.1M195.5 180.2L195.5 178.1M194.7 178.1L196.5 177.1M196.5 177.1L198.3 176M205.6 176L207.4 177.1M207.4 177.1L209.2 178.1M209.2 178.1L209.2 180.2M209.2 180.2L209.2 182.3M209.2 182.3L207.4 183.3M203.8 183.3L202 182.3M202 178.1L203.8 177.1M203.8 177.1L205.6 176M205.6 176L205.6 173.9M204.8 176L204.8 173.9M209.2 182.3L211.1 183.3M211.1 183.3L212.9 184.4M212.9 184.4L214.7 183.3M212.5 183.7L214.3 182.6M212.9 184.4L212.9 186.5M292.2 171.1L294 172.2M291.8 171.8L293.6 172.9M294 172.2L295.9 173.2M293.6 172.9L295.4 173.9M295.9 173.2L295.9 175.3M295.9 175.3L295.9 177.4M295.9 177.4L294 178.4M295.4 176.7L293.6 177.7M294 178.4L292.2 179.5M293.6 177.7L291.8 178.8M292.2 179.5L290.4 178.4M290.4 178.4L288.6 177.4M288.6 177.4L288.6 175.3M289.4 177.4L289.4 175.3M288.6 175.3L288.6 173.2M289.4 175.3L289.4 173.2M288.6 173.2L290.4 172.2M290.4 172.2L292.2 171.1M299.5 171.1L301.3 172.2M301.3 172.2L303.1 173.2M303.1 173.2L303.1 175.3M303.1 175.3L303.1 177.4M303.1 177.4L301.3 178.4M297.7 178.4L295.9 177.4M295.9 173.2L297.7 172.2M297.7 172.2L299.5 171.1M299.5 171.1L299.5 169M298.7 171.1L298.7 169M303.1 177.4L305 178.4M305 178.4L306.8 179.5M306.8 179.5L308.6 178.4M306.4 178.8L308.2 177.7M306.8 179.5L306.8 181.6M216.1 199.1L217.9 200.2M215.7 199.8L217.5 200.9M217.9 200.2L219.8 201.2M217.5 200.9L219.3 201.9M219.8 201.2L219.8 203.3M219.8 203.3L219.8 205.4M219.8 205.4L217.9 206.4M219.3 204.7L217.5 205.7M217.9 206.4L216.1 207.5M217.5 205.7L215.7 206.8M216.1 207.5L214.3 206.4M214.3 206.4L212.5 205.4M212.5 205.4L212.5 203.3M213.3 205.4L213.3 203.3M212.5 203.3L212.5 201.2M213.3 203.3L213.3 201.2M212.5 201.2L214.3 200.2M214.3 200.2L216.1 199.1M223.4 199.1L225.2 200.2M225.2 200.2L227 201.2M227 201.2L227 203.3M227 203.3L227 205.4M227 205.4L225.2 206.4M221.6 206.4L219.8 205.4M219.8 201.2L221.6 200.2M221.6 200.2L223.4 199.1M223.4 199.1L223.4 197M222.6 199.1L222.6 197M227 205.4L228.9 206.4M228.9 206.4L230.7 207.5M230.7 207.5L232.5 206.4M230.3 206.8L232.1 205.7M230.7 207.5L230.7 209.6M247.9 198.6L249.8 199.7M247.5 199.3L249.3 200.4M249.8 199.7L251.6 200.7M249.3 200.4L251.2 201.4M251.6 200.7L251.6 202.8M251.6 202.8L251.6 204.9M251.6 204.9L249.8 205.9M251.2 204.2L249.3 205.2M249.8 205.9L247.9 207M249.3 205.2L247.5 206.3M247.9 207L246.1 205.9M246.1 205.9L244.3 204.9M244.3 204.9L244.3 202.8M245.1 204.9L245.1 202.8M244.3 202.8L244.3 200.7M245.1 202.8L245.1 200.7M244.3 200.7L246.1 199.7M246.1 199.7L247.9 198.6M255.2 198.6L257 199.7M254.8 199.3L256.6 200.4M257 199.7L258.9 200.7M256.6 200.4L258.4 201.4M258.9 200.7L258.9 202.8M258.9 202.8L258.9 204.9M258.9 204.9L257 205.9M253.4 205.9L251.6 204.9M251.6 200.7L253.4 199.7M253.4 199.7L255.2 198.6M247.9 207L247.9 209.1M258.9 204.9L260.7 205.9M258.4 205.6L260.3 206.7M275.9 191.4L277.8 192.4M275.5 192.1L277.3 193.2M277.8 192.4L279.6 193.5M277.3 193.2L279.2 194.2M279.6 193.5L279.6 195.6M279.6 195.6L279.6 197.7M279.6 197.7L277.8 198.8M279.2 197L277.3 198M277.8 198.8L275.9 199.8M277.3 198L275.5 199.1M275.9 199.8L274.1 198.8M274.1 198.8L272.3 197.7M272.3 197.7L272.3 195.6M273.1 197.7L273.1 195.6M272.3 195.6L272.3 193.5M273.1 195.6L273.1 193.5M272.3 193.5L274.1 192.4M274.1 192.4L275.9 191.4M283.2 191.4L285 192.4M282.8 192.1L284.6 193.2M285 192.4L286.9 193.5M284.6 193.2L286.4 194.2M286.9 193.5L286.9 195.6M286.9 195.6L286.9 197.7M286.9 197.7L285 198.8M281.4 198.8L279.6 197.7M279.6 193.5L281.4 192.4M281.4 192.4L283.2 191.4M275.9 199.8L275.9 201.9M286.9 197.7L288.7 198.8M286.4 198.4L288.3 199.5" stroke="#3c3c3c" stroke-width="0.6" fill="none"/>
<path d="M98.8 43.6L97.9 44.1M95.6 44.1L94.7 43.6M92.6 40.1L92.6 39.1M93.8 37.1L94.7 36.6M103 43.2L104 43.5M106 42.8L106.6 42M105.3 42.3L105.9 41.4M106.6 38.2L106 37.4M104 36.7L103 37M91.5 37.1L90.6 36.6M96.7 46.1L96.7 47.2M105.7 35L106 34.1M142.3 48.6L141.4 49.1M139.1 49.1L138.2 48.6M136.1 45.1L136.1 44.1M137.3 42.1L138.2 41.6M146.5 48.2L147.5 48.5M149.5 47.8L150.1 47M148.8 47.3L149.4 46.4M150.1 43.2L149.5 42.4M147.5 41.7L146.5 42M135 42.1L134.1 41.6M140.2 51.1L140.2 52.2M149.2 40L149.5 39.1M113.4 73.4L112.5 73.9M110.2 73.9L109.3 73.4M107.3 69.8L107.3 68.8M108.4 66.8L109.3 66.3M120.6 65.8L121.5 66.3M121.5 73.4L120.6 73.9M118.3 73.9L117.4 73.4M118.8 73.1L117.9 72.6M117.4 66.3L118.3 65.8M106.1 66.8L105.2 66.3M77.1 80.7L76.2 81.2M73.9 81.2L73 80.7M71 77.2L71 76.1M72.1 74.1L73 73.6M84.3 73.1L85.2 73.6M85.2 80.7L84.3 81.2M82 81.2L81.1 80.7M82.5 80.4L81.6 79.9M81.1 73.6L82 73.1M69.8 74.1L68.9 73.6M143 88.9L142.1 89.4M139.8 89.4L138.9 88.9M136.9 85.3L136.9 84.3M138 82.3L138.9 81.8M150.2 81.3L151.1 81.8M151.1 88.9L150.2 89.4M147.9 89.4L147 88.9M148.4 88.6L147.5 88.1M147 81.8L147.9 81.3M135.7 82.3L134.8 81.8M112.7 105.4L111.8 105.9M109.5 105.9L108.6 105.4M106.6 101.8L106.6 100.8M107.7 98.8L108.6 98.3M119.9 97.8L120.8 98.3M120.8 105.4L119.9 105.9M117.6 105.9L116.7 105.4M118.1 105.1L117.2 104.6M116.7 98.3L117.6 97.8M105.4 98.8L104.5 98.3M17.6 120.5L16.7 121M14.4 121L13.5 120.5M11.4 117L11.4 116M12.6 114L13.5 113.5M21.8 120.1L22.8 120.4M24.8 119.7L25.4 118.9M24.1 119.2L24.7 118.3M25.4 115.1L24.8 114.3M22.8 113.6L21.8 113.9M10.3 114L9.4 113.5M15.5 123L15.5 124.1M60.8 118.8L59.9 119.3M57.6 119.3L56.7 118.8M54.6 115.3L54.6 114.3M55.8 112.3L56.7 111.8M65 118.4L66 118.7M68 118L68.6 117.2M67.3 117.5L67.9 116.6M68.6 113.4L68 112.6M66 111.9L65 112.2M53.5 112.3L52.6 111.8M58.7 121.3L58.7 122.3M162 128.4L161.1 128.9M158.8 128.9L157.9 128.4M155.9 124.9L155.9 123.9M157 121.9L157.9 121.4M166.3 128L167.3 128.3M169.3 127.6L169.9 126.8M169.9 123L169.3 122.2M167.3 121.5L166.3 121.8M154.8 121.9L153.9 121.4M160 130.9L160 131.9M95.4 136L94.5 136.5M92.2 136.5L91.3 136M89.3 132.5L89.3 131.5M90.4 129.5L91.3 129M99.7 135.6L100.7 135.9M102.7 135.2L103.3 134.4M103.3 130.6L102.7 129.8M100.7 129.1L99.7 129.4M88.2 129.5L87.3 129M93.4 138.5L93.4 139.6M127.7 144.2L126.8 144.7M124.5 144.7L123.6 144.2M121.6 140.7L121.6 139.7M122.7 137.7L123.6 137.2M132 143.8L133 144.1M135 143.4L135.6 142.6M135.6 138.8L135 138M133 137.3L132 137.6M120.5 137.7L119.6 137.2M125.7 146.7L125.7 147.8M68.1 152.4L67.2 152.9M64.9 152.9L64 152.4M61.9 148.9L61.9 147.9M63.1 145.9L64 145.4M72.3 152L73.3 152.3M75.3 151.6L75.9 150.8M74.6 151.1L75.2 150.2M75.9 147L75.3 146.2M73.3 145.5L72.3 145.8M60.8 145.9L59.9 145.4M66 154.9L66 155.9M29.5 164L28.6 164.5M26.3 164.5L25.4 164M23.3 160.5L23.3 159.5M24.5 157.5L25.4 157M33.7 163.6L34.7 163.9M36.7 163.2L37.3 162.4M36 162.7L36.6 161.8M37.3 158.6L36.7 157.8M34.7 157.1L33.7 157.4M22.2 157.5L21.3 157M27.4 166.5L27.4 167.6M108.6 168.9L107.7 169.4M105.4 169.4L104.5 168.9M102.5 165.4L102.5 164.4M103.6 162.4L104.5 161.9M112.9 168.5L113.9 168.8M115.9 168.1L116.5 167.3M116.5 163.5L115.9 162.7M113.9 162L112.9 162.3M101.4 162.4L100.5 161.9M106.6 171.4L106.6 172.4M115.5 160.3L115.8 159.4M137.2 196.9L136.3 197.4M134 197.4L133.1 196.9M131.1 193.4L131.1 192.4M132.2 190.4L133.1 189.9M141.5 196.5L142.5 196.8M144.5 196.1L145.1 195.3M145.1 191.5L144.5 190.7M142.5 190L141.5 190.3M130 190.4L129.1 189.9M135.2 199.4L135.2 200.4M144.1 188.3L144.4 187.4M92.1 205.2L91.2 205.7M88.9 205.7L88 205.2M86 201.7L86 200.7M87.1 198.7L88 198.2M96.4 204.8L97.4 205.1M99.4 204.4L100 203.6M100 199.8L99.4 199M97.4 198.3L96.4 198.6M84.9 198.7L84 198.2M90.1 207.7L90.1 208.8M257.5 37.8L258.3 38.3M260.4 38.3L261.2 37.8M250.6 81.9L251.5 82.2M253.3 81.6L253.8 80.8M233.1 117.2L234 117.5M235.8 116.9L236.3 116.1M264.1 113.4L263.3 113.9M261.3 113.9L260.5 113.4M209.7 128.9L208.9 129.4M206.9 129.4L206.1 128.9M298.2 124.5L297.4 125M295.4 125L294.6 124.5M254.5 141.9L255.4 142.2M257.2 141.6L257.7 140.8M200.8 156.3L200 156.8M198 156.8L197.2 156.3M236.1 157.9L235.3 158.4M233.3 158.4L232.5 157.9M283.9 153.6L283.1 154.1M281.1 154.1L280.3 153.6M259.3 171.4L258.5 171.8M256.5 171.8L255.7 171.4M207.4 183.3L206.6 183.8M204.6 183.8L203.8 183.3M301.3 178.4L300.5 178.9M298.5 178.9L297.7 178.4M225.2 206.4L224.4 206.9M222.4 206.9L221.6 206.4M257 205.9L256.2 206.4M254.2 206.4L253.4 205.9M285 198.8L284.2 199.2M282.2 199.2L281.4 198.8" stroke="#4058f0" stroke-width="0.6" fill="none"/>
<path d="M96.7 33L96.7 32M97.7 33L97.7 32M90.6 43.6L89.7 44.1M91.1 44.4L90.2 45M140.2 38L140.2 37M141.2 38L141.2 37M134.1 48.6L133.2 49.1M134.6 49.4L133.7 50M111.3 62.8L111.3 61.8M112.3 62.8L112.3 61.8M105.2 73.4L104.3 73.9M105.7 74.2L104.8 74.7M75 70.1L75 69.1M76 70.1L76 69.1M68.9 80.7L68 81.2M69.4 81.5L68.5 82M140.9 78.3L140.9 77.3M141.9 78.3L141.9 77.3M134.8 88.9L133.9 89.4M135.3 89.7L134.4 90.2M110.6 94.8L110.6 93.8M111.6 94.8L111.6 93.8M104.5 105.4L103.6 105.9M105 106.2L104.1 106.7M15.5 109.9L15.5 108.9M16.5 109.9L16.5 108.9M9.4 120.5L8.5 121M9.9 121.3L9 121.9M58.7 108.2L58.7 107.2M59.7 108.2L59.7 107.2M52.6 118.8L51.7 119.3M53.1 119.6L52.2 120.2M160 117.8L160 116.8M160.9 117.8L160.9 116.8M153.9 128.4L153 128.9M154.3 129.2L153.4 129.8M173.6 124.9L174.7 124.9M173.6 125.8L174.7 125.8M93.4 125.4L93.4 124.4M94.3 125.4L94.3 124.4M87.3 136L86.4 136.5M87.7 136.8L86.8 137.4M107 132.5L108.1 132.5M107 133.4L108.1 133.4M125.7 133.6L125.7 132.6M126.6 133.6L126.6 132.6M119.6 144.2L118.7 144.7M120 145L119.1 145.6M139.3 140.7L140.4 140.7M139.3 141.6L140.4 141.6M66 141.9L66 140.8M67 141.9L67 140.8M59.9 152.4L59 152.9M60.4 153.2L59.5 153.8M27.4 153.4L27.4 152.4M28.4 153.4L28.4 152.4M21.3 164L20.4 164.5M21.8 164.8L20.9 165.4M106.6 158.4L106.6 157.3M107.5 158.4L107.5 157.3M100.5 168.9L99.6 169.4M100.9 169.7L100 170.3M120.2 165.4L121.3 165.4M120.2 164.5L121.3 164.5M135.2 186.4L135.2 185.3M136.1 186.4L136.1 185.3M129.1 196.9L128.2 197.4M129.5 197.7L128.6 198.3M148.8 193.4L149.9 193.4M148.8 192.5L149.9 192.5M90.1 194.6L90.1 193.6M91 194.6L91 193.6M84 205.2L83.1 205.7M84.4 206L83.5 206.6M103.7 201.7L104.8 201.7M103.7 202.6L104.8 202.6M263 34.6L263 33.7M262.1 34.6L262.1 33.7M254.1 70.1L253.8 69.2M253.3 70.3L253 69.5M256.8 71.9L257.7 71.8M236.6 105.4L236.3 104.5M235.8 105.6L235.5 104.8M239.3 107.2L240.2 107.1M262.3 104L262.3 103.1M261.5 104L261.5 103.1M271.4 113.4L272.2 113M271 112.7L271.8 112.3M269.6 116.6L269.6 117.5M207.9 119.5L207.9 118.6M207.1 119.5L207.1 118.6M217 128.9L217.8 128.5M216.6 128.2L217.4 127.8M215.2 132.1L215.2 133M289.1 127.7L289.1 128.6M301.9 124.5L302.7 125M301.5 125.3L302.3 125.7M258 130.1L257.7 129.2M257.2 130.3L256.9 129.5M260.7 131.9L261.6 131.8M199 146.9L199 146M198.2 146.9L198.2 146M208.1 156.3L208.9 155.9M207.7 155.6L208.5 155.2M206.3 159.5L206.3 160.4M234.3 148.5L234.3 147.6M233.5 148.5L233.5 147.6M243.4 157.9L244.2 157.5M243 157.2L243.8 156.8M241.6 161.1L241.6 162M282.1 144.2L282.1 143.3M281.3 144.2L281.3 143.3M291.2 153.6L292 153.2M290.8 152.9L291.6 152.5M289.4 156.8L289.4 157.7M250.2 174.5L250.2 175.4M263 171.4L263.8 171.8M262.6 172.1L263.4 172.5M205.6 173.9L205.6 173M204.8 173.9L204.8 173M214.7 183.3L215.5 182.9M214.3 182.6L215.1 182.2M212.9 186.5L212.9 187.4M299.5 169L299.5 168.1M298.7 169L298.7 168.1M308.6 178.4L309.4 178M308.2 177.7L309 177.3M306.8 181.6L306.8 182.5M223.4 197L223.4 196.1M222.6 197L222.6 196.1M232.5 206.4L233.3 206M232.1 205.7L232.9 205.3M230.7 209.6L230.7 210.5M247.9 209.1L247.9 210M260.7 205.9L261.5 206.4M260.3 206.7L261.1 207.1M275.9 201.9L275.9 202.8M288.7 198.8L289.5 199.2M288.3 199.5L289.1 199.9" stroke="#f03c3c" stroke-width="0.6" fill="none"/>
<path d="M96 44.8L97.5 44.8M91.9 37.8L93.4 37.8M104.5 43.9L106 43.9M104.5 36.3L106 36.3M139.5 49.8L141 49.8M135.4 42.8L136.9 42.8M148 48.9L149.5 48.9M148 41.3L149.5 41.3M110.6 74.5L112.1 74.5M106.5 67.5L108 67.5M118.7 65.2L120.2 65.2M118.7 74.5L120.2 74.5M74.3 81.8L75.8 81.8M70.2 74.8L71.7 74.8M82.4 72.5L83.9 72.5M82.4 81.8L83.9 81.8M140.2 90L141.7 90M136.1 83L137.6 83M148.3 80.7L149.8 80.7M148.3 90L149.8 90M109.9 106.5L111.4 106.5M105.8 99.5L107.3 99.5M118 97.2L119.5 97.2M118 106.5L119.5 106.5M14.8 121.7L16.3 121.7M10.7 114.7L12.2 114.7M23.3 120.8L24.8 120.8M23.3 113.2L24.8 113.2M58 120L59.5 120M53.9 113L55.4 113M66.5 119.1L68 119.1M66.5 111.5L68 111.5M159.2 129.6L160.7 129.6M155.1 122.6L156.7 122.6M167.8 128.7L169.3 128.7M167.8 121.1L169.3 121.1M92.6 137.2L94.1 137.2M88.5 130.2L90.1 130.2M101.2 136.3L102.7 136.3M101.2 128.7L102.7 128.7M124.9 145.4L126.4 145.4M120.8 138.3L122.4 138.3M133.5 144.5L135 144.5M133.5 136.9L135 136.9M65.3 153.6L66.8 153.6M61.2 146.6L62.7 146.6M73.8 152.7L75.3 152.7M73.8 145.1L75.3 145.1M26.7 165.2L28.2 165.2M22.6 158.2L24.1 158.2M35.2 164.3L36.7 164.3M35.2 156.7L36.7 156.7M105.8 170.1L107.3 170.1M101.7 163.1L103.3 163.1M114.4 169.2L115.9 169.2M114.4 161.6L115.9 161.6M134.4 198.1L135.9 198.1M130.3 191.1L131.9 191.1M143 197.2L144.5 197.2M143 189.6L144.5 189.6M89.3 206.4L90.8 206.4M85.2 199.3L86.8 199.3M97.9 205.5L99.4 205.5M97.9 197.9L99.4 197.9" stroke="#4058f0" stroke-width="1.41" stroke-opacity="0.8" fill="none"/>
<path d="M96 30.7L97.5 30.7M87.8 44.8L89.3 44.8M139.5 35.7L141 35.7M131.3 49.8L132.8 49.8M110.6 60.5L112.1 60.5M102.4 74.5L103.9 74.5M74.3 67.8L75.8 67.8M66.1 81.8L67.6 81.8M140.2 76L141.7 76M132 90L133.5 90M109.9 92.5L111.4 92.5M101.7 106.5L103.2 106.5M14.8 107.6L16.3 107.6M6.6 121.7L8.1 121.7M58 105.9L59.5 105.9M49.8 120L51.3 120M159.2 115.5L160.7 115.5M151.1 129.6L152.6 129.6M175.2 124.9L176.7 124.9M92.6 123.1L94.1 123.1M84.5 137.2L86 137.2M108.6 132.5L110.1 132.5M124.9 131.3L126.4 131.3M116.8 145.4L118.3 145.4M140.9 140.7L142.4 140.7M65.3 139.5L66.8 139.5M57.1 153.6L58.6 153.6M26.7 151.1L28.2 151.1M18.5 165.2L20 165.2M105.8 156L107.3 156M97.7 170.1L99.2 170.1M121.8 165.4L123.3 165.4M134.4 184L135.9 184M126.3 198.1L127.8 198.1M150.4 193.4L151.9 193.4M89.3 192.3L90.8 192.3M81.2 206.4L82.7 206.4M105.3 201.7L106.8 201.7" stroke="#f03c3c" stroke-width="1.41" stroke-opacity="0.8" fill="none"/>
<path d="M258.7 38.8L260 38.8M251.9 82.5L253.3 82.5M234.4 117.8L235.8 117.8M261.6 114.5L263 114.5M207.2 130L208.6 130M295.7 125.6L297.1 125.6M255.8 142.5L257.2 142.5M198.3 157.4L199.7 157.4M233.6 159L235 159M281.4 154.7L282.8 154.7M256.8 172.4L258.2 172.4M204.9 184.4L206.3 184.4M298.8 179.5L300.2 179.5M222.7 207.5L224.1 207.5M254.5 207L255.9 207M282.5 199.8L283.9 199.8" stroke="#4058f0" stroke-width="1.26" stroke-opacity="0.8" fill="none"/>
<path d="M262.3 32.5L263.6 32.5M252.8 68.1L254.1 68.1M258.2 71.6L259.6 71.6M235.3 103.4L236.6 103.4M240.7 106.9L242.1 106.9M261.6 101.9L263 101.9M272.5 112.4L273.9 112.4M268.9 118.7L270.2 118.7M207.2 117.4L208.6 117.4M218.1 127.9L219.5 127.9M214.5 134.2L215.8 134.2M288.5 129.8L289.8 129.8M303 125.6L304.4 125.6M256.7 128.1L258 128.1M262.1 131.6L263.5 131.6M198.3 144.8L199.7 144.8M209.2 155.3L210.6 155.3M205.6 161.6L206.9 161.6M233.6 146.4L235 146.4M244.5 156.9L245.9 156.9M240.9 163.2L242.2 163.2M281.4 142.1L282.8 142.1M292.3 152.6L293.7 152.6M288.7 158.9L290 158.9M249.6 176.6L250.9 176.6M264.1 172.4L265.5 172.4M204.9 171.8L206.3 171.8M215.8 182.3L217.2 182.3M212.2 188.6L213.5 188.6M298.8 166.9L300.2 166.9M309.7 177.4L311.1 177.4M306.1 183.7L307.4 183.7M222.7 194.9L224.1 194.9M233.6 205.4L235 205.4M230 211.7L231.3 211.7M247.3 211.2L248.6 211.2M261.8 207L263.2 207M275.3 204L276.6 204M289.8 199.8L291.2 199.8" stroke="#f03c3c" stroke-width="1.26" stroke-opacity="0.8" fill="none"/>
<path d="M0 22H315.6" stroke="#4a4a4a" stroke-width="1.4" fill="none"/>
<path d="M314.9 21.3V221" stroke="#4a4a4a" stroke-width="1.3" fill="none"/>
<path d="M0.6 21.3V220.8" stroke="#111" stroke-width="1.2" fill="none"/>
<path d="M0 220.3H315.5" stroke="#1a1a1a" stroke-width="1.1" fill="none"/>
<path d="M5.3 310.5H369.7M5.3 340.8H369.7M5.3 370.2H369.7M5.3 399.6H369.7M5.3 429.0H369.7M5.3 458.4H369.7M5.3 488.2H369.7M5.3 517.6H369.7M5.3 547.0H369.7M42.4 304.2V551.4M101.6 304.2V551.4M160.4 304.2V551.4M220.1 304.2V551.4M279.3 304.2V551.4M338.6 304.2V551.4" stroke="#7d838f" stroke-width="1.05" stroke-opacity="0.85" fill="none"/>
<path d="M91.1 340.9h0M181.6 450.9h0M203.3 384.3h0M243.0 412.9h0M245.1 417.1h0M282.1 412.5h0M144.6 463.7h0M118.2 346.2h0M310.8 393.6h0M301.3 420.4h0M163.8 472.9h0M319.6 453.8h0M257.9 317.3h0M234.7 424.7h0M77.5 430.5h0M179.6 451.3h0M256.6 373.7h0M293.4 373.1h0M74.3 423.5h0M301.8 374.2h0M187.1 438.8h0M142.1 446.1h0M279.9 400.1h0M93.7 506.9h0M85.6 320.0h0M216.0 510.5h0M307.6 443.0h0M75.1 440.8h0M246.3 496.2h0M76.4 437.0h0M258.6 510.1h0M108.4 464.8h0M119.2 359.3h0M161.8 474.7h0M244.6 400.5h0M74.5 494.3h0M246.4 505.6h0M111.7 347.0h0M81.8 378.8h0M181.4 453.6h0M298.1 391.0h0M259.5 380.5h0M187.3 442.7h0M337.4 452.6h0M107.2 502.2h0M207.4 494.7h0M331.1 440.5h0M263.3 353.7h0M330.3 418.3h0M291.0 468.9h0M126.3 465.1h0M228.2 485.2h0M310.1 372.7h0M263.4 448.2h0M113.1 343.7h0M247.2 411.0h0M250.7 496.9h0M273.3 460.9h0M261.9 321.0h0M226.6 372.5h0M294.0 437.1h0M69.1 426.5h0M246.1 437.2h0M145.5 531.6h0M317.9 433.8h0M141.3 533.6h0M165.0 402.4h0M244.4 401.9h0M228.8 369.3h0M170.7 365.7h0M169.7 470.6h0M76.1 446.5h0M180.6 451.0h0M289.8 358.0h0M258.4 439.9h0M130.7 544.8h0M325.7 426.1h0M65.0 443.9h0M322.4 429.1h0M278.1 356.9h0M117.3 358.7h0M241.9 496.0h0M331.0 425.2h0M184.5 424.5h0M190.7 380.1h0M321.3 455.2h0M69.1 412.4h0M137.9 504.8h0M297.5 411.4h0M68.1 392.0h0M131.7 465.0h0M260.4 319.9h0M185.0 374.0h0M269.0 346.3h0M130.0 470.2h0M278.6 345.8h0M140.6 426.8h0M200.7 481.0h0M143.3 515.3h0M142.9 358.6h0M291.9 376.3h0M169.3 395.2h0M94.1 457.6h0M142.0 531.3h0M204.7 378.8h0M253.9 372.6h0M333.9 450.0h0M335.0 436.2h0M183.6 379.5h0M80.4 491.9h0M237.0 407.0h0M308.5 438.0h0M263.8 328.1h0M26.9 412.9h0M326.8 421.2h0M162.4 406.5h0M72.9 443.1h0M188.3 435.0h0M127.8 500.7h0M293.2 462.3h0M309.2 440.9h0M75.7 408.8h0M257.8 348.3h0M185.5 451.2h0M110.6 396.1h0M299.7 369.7h0M123.1 352.7h0M244.1 361.3h0M327.7 416.4h0M66.7 446.6h0M283.0 432.4h0M150.2 371.3h0M277.9 379.2h0M271.1 368.1h0M222.9 412.2h0M293.1 419.7h0M71.4 409.8h0M27.1 416.5h0M120.9 340.9h0M280.8 352.7h0M107.4 402.8h0M175.0 448.5h0M315.7 443.3h0M266.5 352.7h0M90.9 346.0h0M102.5 344.9h0M141.5 514.7h0M114.2 354.1h0M139.5 344.7h0M109.4 543.5h0M239.4 371.9h0M141.3 531.4h0M147.2 524.7h0M131.2 504.6h0M238.0 402.6h0M107.2 365.3h0M281.8 450.7h0M247.6 414.0h0M85.7 356.8h0M244.2 403.4h0M201.0 393.3h0M69.8 443.1h0M274.1 461.8h0M295.4 462.7h0M76.5 411.2h0M109.0 351.2h0M67.6 413.3h0M304.9 464.8h0M180.3 448.2h0M295.3 462.6h0M301.7 373.4h0M304.6 465.5h0M352.7 450.9h0M297.5 421.1h0M161.0 445.9h0M282.7 432.5h0M113.6 347.8h0M262.4 356.1h0M257.5 509.1h0M309.4 381.4h0M260.2 326.8h0M267.9 364.9h0M290.1 454.8h0M300.4 440.7h0M291.8 468.0h0M138.2 436.5h0M96.4 359.1h0M85.1 503.8h0M73.0 363.5h0M242.3 350.5h0M160.6 411.4h0M167.6 448.8h0M358.4 450.1h0M122.7 343.2h0M28.5 413.5h0M293.1 374.0h0M210.0 496.9h0M135.6 341.7h0M125.2 419.8h0M271.6 342.3h0M84.5 319.0h0M289.9 374.2h0M212.9 494.2h0M174.4 450.4h0M66.1 435.8h0M208.2 498.3h0M216.5 508.8h0M267.1 440.3h0M280.8 438.8h0M88.8 460.0h0M149.8 438.5h0M143.5 424.1h0M294.5 431.2h0M125.0 503.6h0M109.2 433.3h0M161.3 446.1h0M320.0 447.8h0M201.4 396.2h0M245.0 498.5h0M309.0 432.7h0M106.4 350.9h0M244.7 425.7h0M117.1 447.5h0M107.4 321.7h0M193.0 398.6h0M269.2 443.9h0M256.4 475.5h0M243.4 409.6h0M212.8 403.2h0M80.9 378.8h0M117.7 493.2h0M196.9 396.2h0M301.8 377.5h0M31.6 403.8h0M76.2 444.7h0M213.8 382.3h0M197.7 389.5h0M296.8 370.0h0M245.4 331.6h0M335.6 451.0h0M95.3 478.9h0M233.0 438.8h0M335.2 447.8h0M285.2 446.2h0M122.3 368.5h0M205.6 335.5h0M289.9 383.5h0M91.1 325.9h0M267.6 337.2h0M96.8 511.9h0M290.3 417.9h0M164.4 468.3h0M96.0 365.2h0M149.0 525.7h0M295.3 370.4h0M272.2 361.0h0M248.2 512.1h0M278.9 346.1h0M250.3 370.7h0M89.8 404.1h0M90.5 352.4h0M144.3 362.2h0M180.0 457.7h0M253.5 439.1h0M244.4 502.2h0M269.2 337.0h0M130.4 502.4h0M310.5 478.1h0M208.6 390.4h0M253.1 372.8h0M279.7 387.0h0M246.4 347.4h0M221.9 484.9h0M96.0 369.2h0M286.5 399.9h0M137.8 352.2h0M266.7 362.6h0M292.4 460.0h0M226.6 481.3h0M255.6 380.0h0M111.0 349.7h0M69.6 443.2h0M234.0 432.5h0M138.4 460.9h0M78.3 406.1h0M301.8 386.2h0M271.6 329.3h0M86.3 443.7h0M209.3 385.6h0M93.4 420.8h0M80.4 493.2h0M72.9 358.6h0M254.5 376.4h0M309.0 468.5h0M295.1 439.0h0M298.3 369.4h0M86.0 373.6h0M322.4 435.2h0M242.1 363.5h0M355.5 457.6h0M102.1 466.5h0M211.1 332.1h0M73.7 386.2h0M74.2 345.7h0M143.5 450.8h0M348.4 451.5h0M75.2 346.1h0M305.7 381.6h0M73.2 343.2h0M209.5 509.2h0M280.3 440.5h0M255.5 509.2h0M197.9 379.8h0M308.8 425.8h0M89.0 478.8h0M127.6 468.9h0M85.2 320.9h0M272.1 520.0h0M104.4 373.6h0M81.0 438.0h0M113.4 346.3h0M94.8 363.8h0M144.3 462.9h0M86.4 349.4h0M251.9 358.4h0M153.4 362.6h0M271.8 420.3h0M240.4 400.5h0M78.4 494.5h0M219.7 348.0h0M215.5 508.4h0M149.3 503.6h0M221.2 418.1h0M269.6 361.5h0M109.0 343.8h0M76.7 431.7h0M253.0 443.9h0M97.3 383.6h0M288.5 432.6h0M335.0 456.4h0M86.7 379.8h0M242.5 505.4h0M152.0 542.5h0M335.0 443.0h0M137.6 507.1h0M261.7 315.8h0M167.5 448.4h0M341.2 445.3h0M239.5 352.0h0M267.8 311.7h0M261.7 510.1h0M292.0 370.0h0M112.4 505.9h0M74.5 413.5h0M30.0 416.1h0M156.2 366.3h0M148.1 535.2h0M172.9 392.0h0M163.6 444.0h0M256.4 391.5h0M73.7 450.1h0M165.4 446.6h0M283.6 346.9h0M303.6 425.8h0M176.2 452.5h0M273.3 331.7h0M218.9 425.3h0M317.0 395.5h0M198.6 387.0h0M318.5 389.9h0M36.6 409.3h0M131.5 506.0h0M77.5 434.5h0M203.5 461.3h0M118.7 336.8h0M136.6 538.2h0M250.4 434.7h0M79.7 437.0h0M307.1 438.3h0M298.0 370.0h0M125.8 476.9h0M261.0 435.2h0M75.9 435.8h0M269.6 343.3h0M299.9 439.7h0M147.1 517.2h0M89.9 368.2h0M170.0 475.8h0M74.7 415.4h0M146.1 453.5h0M139.1 372.7h0M194.5 433.4h0M309.9 445.4h0M93.5 347.1h0M273.8 446.4h0M88.7 350.8h0M261.1 367.7h0M339.7 443.9h0M200.1 383.4h0M278.7 350.7h0M141.1 454.6h0M141.6 512.8h0M235.3 369.2h0M102.9 348.9h0M163.4 409.3h0M244.9 349.3h0M88.2 456.2h0M174.9 448.4h0M225.0 429.9h0M300.8 386.3h0M245.0 409.7h0M257.5 435.0h0M290.8 466.6h0M206.1 335.9h0M340.9 459.4h0M244.1 407.5h0M177.0 384.1h0M125.4 358.9h0M313.9 449.8h0M157.3 469.8h0M29.7 404.1h0M214.1 423.7h0M202.4 389.1h0M111.7 349.5h0M267.2 397.0h0M281.5 441.2h0M154.8 532.8h0M28.9 406.5h0M96.2 534.5h0M215.0 481.0h0M123.3 482.4h0M131.0 381.4h0M185.9 450.8h0M72.1 412.4h0M205.4 421.2h0M309.2 462.9h0M215.0 411.8h0M334.0 433.5h0M285.1 436.0h0M116.3 441.7h0M250.7 505.4h0M133.2 504.4h0M236.2 434.1h0M254.5 438.1h0M245.7 456.2h0M343.6 453.3h0M145.8 420.5h0M177.8 451.4h0M143.1 502.3h0M187.9 437.4h0M207.3 387.3h0M204.1 428.0h0M290.7 470.3h0M339.6 458.8h0M104.0 379.5h0M27.3 413.5h0M179.7 451.4h0M236.3 422.3h0M317.6 397.3h0M103.9 378.8h0M263.1 442.3h0M148.4 525.8h0M233.8 386.2h0M137.7 534.0h0M318.4 421.3h0M253.4 374.2h0M338.2 451.1h0M141.0 435.3h0M100.4 535.0h0M121.1 356.6h0M164.7 445.9h0M144.9 532.2h0M133.7 425.9h0M309.8 464.2h0M132.1 465.0h0M228.1 374.9h0M151.2 529.5h0M242.6 495.6h0M76.5 439.8h0M306.7 461.7h0M77.9 364.7h0M242.1 404.2h0M282.7 443.8h0M292.4 469.1h0M246.3 421.2h0M104.3 359.2h0M300.0 380.8h0M277.2 421.7h0M115.4 351.8h0M80.2 320.8h0M264.7 449.5h0M282.2 350.8h0M245.4 510.0h0M114.8 358.8h0M30.8 404.1h0M286.5 440.7h0M270.1 411.3h0M231.6 357.5h0M263.0 508.7h0M66.0 391.3h0M109.0 470.3h0M34.8 410.5h0M264.3 445.5h0M290.1 441.1h0M174.4 445.9h0M258.7 375.1h0M282.8 376.5h0M207.1 479.4h0M75.6 363.1h0M91.8 369.9h0M22.4 416.4h0M34.8 408.0h0M184.7 376.5h0M34.6 408.0h0M339.8 458.0h0M283.0 423.7h0M232.8 433.4h0M69.2 411.9h0M136.1 504.5h0M65.0 409.9h0M177.4 384.4h0M301.5 367.4h0M174.3 445.6h0M316.7 387.4h0M286.5 446.0h0M286.8 378.2h0M205.3 473.2h0M96.1 358.4h0M301.3 439.0h0M148.1 523.8h0M223.1 480.6h0M270.9 359.8h0M136.3 502.0h0M77.5 346.3h0M95.0 510.5h0M254.1 412.7h0M186.7 435.1h0M149.5 398.3h0M295.0 420.4h0M168.7 400.1h0M142.2 356.7h0M190.3 418.6h0M80.7 360.2h0M158.7 443.8h0M292.3 423.8h0M197.7 404.3h0M276.2 438.5h0M284.8 426.7h0M214.6 414.9h0M187.8 361.0h0M258.8 319.2h0M260.3 510.7h0M259.8 426.5h0M230.0 454.1h0M108.6 351.8h0M188.7 415.8h0M307.3 460.0h0M272.8 484.9h0M270.6 446.4h0M303.9 443.3h0M305.0 377.9h0M214.8 330.8h0M141.9 519.7h0M259.8 435.1h0M244.3 410.4h0M33.3 407.7h0M304.6 439.0h0M282.1 441.9h0M279.5 341.7h0M177.2 456.3h0M343.4 460.0h0M309.3 432.9h0M272.0 348.8h0M160.9 439.5h0M315.6 452.5h0M99.9 365.8h0M302.5 377.9h0M286.8 392.1h0M302.2 466.5h0M206.0 385.5h0M257.6 439.0h0M163.0 445.1h0M275.0 448.7h0M147.0 530.7h0M341.6 420.5h0M240.4 412.2h0M302.5 426.2h0M212.4 413.0h0M297.8 437.9h0M262.7 438.2h0M183.5 374.2h0M272.3 465.2h0M77.4 362.0h0M132.9 501.1h0M75.6 347.4h0M275.0 462.0h0M130.5 503.6h0M303.9 384.8h0M210.8 332.8h0M211.9 493.7h0M225.6 491.6h0M292.2 357.3h0M281.4 394.6h0M339.5 416.9h0M362.5 455.6h0M96.9 367.0h0M108.8 342.8h0M341.5 455.5h0M244.0 388.1h0M287.8 454.0h0M293.4 429.8h0M256.9 397.0h0M285.3 448.7h0M207.0 332.9h0M241.3 365.0h0M138.7 527.9h0M286.3 467.4h0M96.7 350.1h0M293.4 373.2h0M210.0 383.1h0M86.2 350.0h0M267.8 340.0h0M269.5 362.2h0M170.1 502.5h0M227.0 370.5h0M248.7 445.4h0M65.0 449.5h0M228.9 478.1h0M307.5 436.3h0M118.5 448.2h0M30.3 403.7h0M72.1 401.9h0M179.0 450.2h0M225.9 470.3h0M188.9 398.0h0M95.5 369.4h0M181.6 448.1h0M169.9 476.7h0M103.4 349.8h0M262.6 423.4h0M214.4 497.7h0M311.2 403.1h0M80.9 401.5h0M151.3 368.3h0M146.5 526.2h0M140.5 516.2h0M318.2 395.4h0M164.4 447.7h0M196.4 390.8h0M195.8 413.0h0M82.8 319.3h0M277.0 440.0h0M198.6 321.9h0M345.9 415.7h0M296.5 397.1h0M314.8 394.8h0M275.8 349.4h0M270.6 357.4h0M335.0 434.5h0M260.1 443.4h0M256.7 346.2h0M256.1 405.8h0M300.5 500.8h0M221.2 418.7h0M327.3 424.1h0M123.8 344.3h0M84.6 445.8h0M251.2 489.0h0M256.0 492.3h0M254.5 357.5h0M78.3 362.4h0M201.3 325.4h0M335.0 442.3h0M28.8 402.8h0M135.2 383.3h0M167.1 450.8h0M291.1 416.5h0M230.6 480.6h0M289.9 350.7h0M306.7 420.1h0M270.6 425.1h0M314.5 440.0h0M337.8 457.5h0M321.4 414.8h0M210.1 492.7h0M145.6 439.6h0M237.7 389.3h0M125.7 521.2h0M86.7 320.7h0M295.7 373.4h0M304.5 379.8h0M177.6 483.2h0M243.4 408.2h0M237.6 436.9h0M304.3 370.0h0M119.9 450.6h0M120.6 348.7h0M190.8 410.7h0M215.9 414.0h0M333.7 378.9h0M270.2 446.6h0M224.8 412.2h0M264.8 477.6h0M326.2 443.9h0M252.5 392.1h0M287.2 458.8h0M260.4 356.4h0M266.8 448.9h0M207.8 394.2h0M321.1 423.4h0M144.3 513.9h0M70.7 346.3h0M195.6 432.0h0M327.2 419.4h0M78.1 444.1h0M168.8 404.9h0M313.6 396.1h0M256.4 419.1h0M133.6 469.4h0M302.7 377.7h0M283.2 439.8h0M134.7 526.4h0M154.5 491.7h0M302.8 428.5h0M244.8 418.7h0M129.2 455.2h0M76.1 446.3h0M162.2 468.5h0M73.6 427.0h0M83.0 317.7h0M277.6 341.3h0M66.0 411.1h0M272.1 340.7h0M252.9 371.4h0M247.9 353.0h0M323.9 456.5h0M71.8 387.3h0M331.6 445.2h0M304.6 379.8h0M267.5 358.9h0M173.3 451.2h0M307.1 426.9h0M202.4 385.9h0M85.9 318.7h0M91.2 351.3h0M305.0 435.1h0M145.9 361.8h0M344.6 450.4h0M33.4 407.3h0M199.3 376.7h0M245.0 360.0h0M189.3 379.4h0M304.8 444.7h0M197.5 433.8h0M317.7 418.6h0M283.5 444.2h0M108.2 470.1h0M290.9 433.1h0M276.5 342.9h0M119.6 445.7h0M253.3 354.2h0M232.0 431.5h0M158.5 473.2h0M117.6 345.2h0M259.6 510.7h0M95.1 362.8h0M255.8 446.0h0M69.4 442.6h0M204.1 337.5h0M99.5 358.8h0M187.2 317.4h0M153.8 446.7h0M319.3 392.2h0M251.5 504.4h0M141.2 421.4h0M184.9 455.3h0M297.8 374.9h0M33.8 407.7h0M30.3 405.5h0M96.0 367.1h0M67.2 447.6h0M200.1 493.6h0M185.5 375.5h0M306.4 441.3h0M115.8 325.0h0M307.3 424.4h0M137.7 498.0h0M305.0 446.8h0M299.0 434.3h0M213.5 398.3h0M29.5 402.2h0M329.7 426.2h0M131.3 468.7h0M101.0 356.7h0M119.2 392.3h0M219.1 416.7h0M67.9 399.6h0M268.1 356.0h0M326.3 414.6h0M238.8 348.7h0M251.6 428.7h0M259.6 508.8h0M141.2 459.0h0M126.7 500.1h0M153.7 363.4h0M146.6 527.7h0M114.8 350.4h0M257.5 350.5h0M65.7 454.4h0M341.8 454.3h0M224.0 481.4h0M143.3 461.6h0M308.4 425.4h0M303.7 462.6h0M270.9 320.4h0M30.3 404.2h0M208.5 333.4h0M258.1 511.3h0M253.1 358.2h0M232.0 392.1h0M112.2 350.8h0M319.5 422.3h0M145.9 532.8h0M316.8 446.0h0M234.1 388.4h0M298.5 447.2h0M96.5 513.6h0M306.0 384.2h0M296.6 381.6h0M275.9 398.8h0M308.8 469.2h0M347.6 448.2h0M236.9 417.6h0M112.7 340.9h0M113.3 352.7h0M85.0 490.6h0M232.6 422.5h0M129.6 532.4h0M329.5 427.6h0M304.9 385.4h0M109.0 351.1h0M335.2 437.5h0M163.7 442.4h0M345.8 450.4h0M287.5 426.7h0M157.3 469.1h0M339.6 418.1h0M211.3 506.6h0M282.8 395.4h0M31.0 414.1h0M205.7 331.9h0M346.0 453.0h0M141.8 527.7h0M254.4 418.3h0M138.3 344.9h0M84.9 502.5h0M68.2 389.5h0M311.4 480.7h0M255.0 395.6h0M146.1 440.4h0M85.1 352.5h0M295.5 376.2h0M307.4 417.9h0M131.4 504.9h0M286.6 360.1h0M325.5 428.1h0M268.4 350.7h0M269.5 347.2h0M77.6 387.5h0M142.3 533.3h0M280.3 427.9h0M101.7 310.7h0M262.8 318.3h0M262.7 474.5h0M182.2 374.1h0M166.4 399.5h0M138.2 534.8h0M82.8 377.6h0M261.6 316.9h0M94.5 345.2h0M74.6 418.0h0M308.4 480.4h0M121.9 357.3h0M147.8 435.1h0M281.0 445.7h0M286.5 372.1h0M248.0 375.5h0M110.1 324.1h0M279.4 430.2h0M202.5 390.9h0M192.0 404.6h0M72.4 416.5h0M224.4 484.3h0M292.2 462.9h0M152.0 530.1h0M198.8 395.4h0M214.9 497.1h0M193.2 435.2h0M121.3 446.0h0M340.4 457.3h0M120.1 448.5h0M194.8 399.0h0M316.0 442.5h0M306.6 433.6h0M78.7 357.8h0M245.0 400.0h0M293.6 386.9h0M222.6 400.2h0M264.5 442.8h0M142.7 518.7h0M306.4 436.2h0M112.1 349.5h0M282.7 402.8h0M65.7 450.2h0M252.5 368.4h0M138.6 513.2h0M277.1 345.4h0M208.9 494.1h0M120.3 415.4h0M263.4 327.1h0M255.8 369.5h0M284.4 427.8h0M259.2 444.1h0M132.8 468.8h0M331.5 451.5h0M283.8 420.4h0M35.0 409.4h0M166.4 471.0h0M78.0 358.6h0M29.1 406.4h0M154.1 364.3h0M76.1 440.4h0M263.1 317.3h0M297.4 421.5h0M240.7 500.6h0M315.6 448.7h0M108.0 357.4h0M109.3 352.2h0M77.4 386.5h0M130.0 527.3h0M260.7 505.0h0M250.0 412.2h0M159.7 377.1h0M78.9 421.6h0M80.8 345.2h0M79.6 488.6h0M99.2 361.8h0M303.4 418.7h0M205.5 336.8h0M344.9 446.6h0M345.8 450.1h0M96.1 374.0h0M104.0 311.0h0M252.5 350.3h0M147.9 525.0h0M67.0 410.1h0M280.9 347.3h0M339.5 454.1h0M116.9 345.0h0M259.1 444.4h0M322.4 448.1h0M304.8 450.4h0M187.6 460.3h0M148.4 423.7h0M29.5 414.7h0M254.6 313.5h0M321.3 488.9h0M144.6 533.5h0M130.3 504.5h0M291.4 433.8h0M131.1 505.3h0M292.1 434.9h0M252.6 412.7h0M265.8 327.2h0M298.1 392.0h0M261.1 315.6h0M337.2 442.0h0M338.3 436.0h0M310.4 437.4h0M308.9 445.2h0M182.3 380.5h0M241.3 500.4h0M209.9 376.9h0M310.9 423.6h0M74.1 415.5h0M140.2 525.9h0M290.3 378.1h0M261.3 320.4h0M83.7 329.8h0M131.1 469.0h0M161.2 451.2h0M311.5 468.5h0M118.1 344.3h0M219.1 377.7h0M153.7 430.7h0M107.9 469.7h0M142.4 517.2h0M182.6 486.7h0M206.8 393.1h0M91.9 346.4h0M202.5 389.4h0M323.1 430.0h0M310.8 430.0h0M252.2 425.2h0M27.7 416.2h0M264.3 423.3h0M85.3 381.2h0M220.1 415.5h0M315.5 394.3h0M67.1 409.4h0M256.7 413.2h0M74.6 411.9h0M144.6 516.9h0M251.2 506.5h0M237.7 404.2h0M148.3 528.7h0M162.0 442.1h0M75.3 442.9h0M203.4 495.1h0M201.4 494.5h0M234.5 405.6h0M146.4 432.7h0M150.7 359.7h0M129.8 498.6h0M302.5 372.3h0M164.0 479.2h0M248.9 503.9h0M264.5 324.7h0M254.4 400.5h0M133.8 417.2h0M270.4 347.2h0M65.0 452.3h0M101.4 362.8h0M251.5 379.4h0M232.7 383.6h0M313.5 434.3h0M309.5 454.5h0M99.0 365.3h0M203.5 379.3h0M343.2 457.1h0M304.0 386.1h0M290.3 450.8h0M322.5 447.2h0M105.9 358.2h0M294.8 370.8h0M99.7 506.0h0M215.0 490.0h0M110.0 458.7h0M136.0 348.5h0M253.8 439.2h0M224.3 335.9h0M182.7 453.0h0M100.2 436.3h0M289.3 437.2h0M125.0 365.2h0M113.5 444.7h0M164.2 396.2h0M321.4 420.7h0M237.6 346.7h0M250.4 354.8h0M312.7 432.1h0M311.5 430.9h0M272.6 395.1h0M242.1 401.2h0M109.1 406.4h0M284.2 476.1h0M295.5 436.8h0M256.2 434.1h0M82.9 319.9h0M325.9 396.3h0M251.7 507.6h0M252.1 355.4h0M277.6 430.5h0M178.4 452.4h0M293.4 431.1h0M286.4 408.7h0M113.1 505.5h0M286.9 393.6h0M99.6 512.0h0M110.9 326.0h0M266.5 374.7h0M257.0 441.4h0M253.1 477.6h0M212.9 512.3h0M104.4 470.2h0M302.9 423.4h0M267.3 358.4h0M291.1 420.3h0M260.5 448.5h0M222.0 483.7h0M319.0 444.9h0M335.9 439.1h0M158.0 442.7h0M150.1 362.1h0M156.6 363.1h0M172.7 447.9h0M169.9 362.4h0M243.4 502.2h0M312.6 446.1h0M34.0 409.2h0M261.4 507.0h0M94.0 367.4h0M203.7 411.5h0M88.6 369.2h0M87.6 459.4h0M258.6 469.0h0M177.4 375.5h0M167.9 397.1h0M69.8 429.5h0M205.9 331.3h0M253.9 510.9h0M126.5 505.9h0M148.0 375.6h0M85.8 464.7h0M249.8 499.6h0M333.9 436.3h0M251.7 373.4h0M317.1 483.9h0M104.3 357.6h0M111.2 355.2h0M259.2 319.4h0M248.8 448.5h0M308.6 460.0h0M261.8 514.7h0M317.3 432.5h0M127.2 503.2h0M263.2 310.3h0M139.9 522.6h0M242.1 350.9h0M273.4 342.1h0M147.0 440.2h0M178.4 450.5h0M80.7 362.9h0M179.1 445.2h0M102.9 501.3h0M83.5 328.5h0M308.3 468.7h0M251.0 443.8h0M239.3 347.2h0M119.8 412.0h0M268.3 333.0h0M135.1 375.5h0M211.2 427.2h0M99.7 509.5h0M214.8 418.2h0M109.5 348.1h0M156.8 364.8h0" stroke="#f8ad8f" stroke-width="2.20" stroke-linecap="round" fill="none"/>
<path d="M249.7 477.9h0M263.8 425.4h0M48.0 436.7h0M223.5 505.3h0M95.0 439.7h0M100.7 490.2h0M47.0 434.9h0M98.9 441.6h0M151.2 488.7h0M242.7 432.7h0M111.4 365.4h0M97.1 474.1h0M180.1 384.6h0M110.9 375.4h0M269.0 360.3h0M139.4 375.8h0M225.3 446.8h0M125.4 476.3h0M233.2 358.0h0M131.7 374.5h0M106.8 405.0h0M101.2 386.0h0M97.8 442.7h0M275.0 398.3h0M106.9 437.6h0M160.4 391.7h0M309.8 387.4h0M212.5 442.1h0M254.7 436.2h0M227.3 515.1h0M228.3 442.7h0M286.3 400.0h0M114.1 432.3h0M87.6 418.8h0M65.1 513.3h0M267.5 474.7h0M266.5 487.2h0M85.5 416.3h0M80.2 420.1h0M83.1 399.1h0M58.2 440.4h0M191.4 439.3h0M101.1 513.5h0M270.3 351.6h0M169.7 384.1h0M168.6 482.9h0M314.8 418.7h0M102.5 445.2h0M228.4 435.4h0M109.2 422.1h0M164.3 388.7h0M223.0 447.5h0M148.1 400.5h0M214.7 441.8h0M215.0 484.0h0M66.9 443.7h0M221.7 518.3h0M67.8 470.8h0M89.7 467.0h0M129.1 458.7h0M264.5 351.2h0M188.4 462.4h0M253.8 334.4h0M88.7 473.7h0M67.9 510.3h0M58.5 473.9h0M98.7 485.4h0M223.3 366.1h0M99.6 391.4h0M241.5 398.0h0M55.3 472.1h0M136.0 428.2h0M144.3 406.2h0M152.7 410.4h0M135.7 490.5h0M68.3 478.2h0M257.5 416.7h0M274.9 396.9h0M147.9 490.0h0M181.4 422.3h0M183.3 424.4h0M116.4 415.3h0M99.4 484.4h0M263.0 481.8h0M133.5 516.9h0M128.1 477.1h0M105.8 388.0h0M289.8 399.4h0M83.4 505.9h0M218.5 506.9h0M130.4 456.3h0M215.3 447.6h0M291.5 396.7h0M108.4 380.7h0M133.9 477.2h0M104.5 393.1h0M106.7 388.4h0M214.1 485.4h0M274.1 352.2h0M84.5 487.3h0M147.9 439.0h0M106.9 387.4h0M283.5 377.1h0M221.2 362.5h0M261.0 383.4h0M239.2 448.1h0M148.6 401.1h0M81.8 428.4h0M174.9 491.9h0M48.9 451.6h0M236.7 440.7h0M260.2 394.4h0M266.1 357.9h0M274.7 395.6h0M67.7 498.9h0M85.0 415.5h0M248.3 335.8h0M287.5 437.6h0M321.6 459.6h0M107.1 408.0h0M127.7 425.8h0M244.2 505.8h0M107.7 491.6h0M259.1 447.4h0M218.8 479.6h0M130.1 415.5h0M274.0 400.5h0M65.7 514.1h0M252.3 427.4h0M110.0 368.9h0M142.0 407.3h0M98.6 385.8h0M223.7 448.4h0M167.6 437.1h0M249.2 337.7h0M114.4 491.6h0M151.9 486.0h0M82.8 430.0h0M240.7 445.0h0M255.9 351.1h0M219.9 365.0h0M68.4 500.1h0M80.0 476.5h0M129.6 475.7h0M132.1 478.2h0M316.7 459.4h0M130.9 468.4h0M116.0 471.1h0M217.4 449.2h0M202.0 410.8h0M220.6 359.7h0M71.9 396.7h0M232.3 437.8h0M79.8 425.2h0M102.4 443.7h0M282.3 400.2h0M180.5 423.3h0M263.9 474.6h0M229.7 359.4h0M78.6 503.5h0M216.0 445.7h0M81.2 505.4h0M107.6 382.5h0M109.9 384.9h0M211.9 449.8h0M52.0 459.4h0M256.5 419.7h0M99.1 435.2h0M147.3 406.5h0M95.7 447.7h0M207.1 481.7h0M215.0 436.8h0M95.0 439.7h0M108.2 493.2h0M205.6 385.7h0M88.2 467.3h0M146.7 402.8h0M77.1 404.5h0M85.9 428.0h0M158.6 390.6h0M102.1 421.1h0M88.1 459.1h0M116.0 421.2h0M106.4 387.2h0M97.5 412.7h0M68.4 396.6h0M125.0 428.1h0M290.7 403.6h0M77.6 462.3h0M134.9 428.2h0M213.1 490.0h0M167.2 512.2h0M66.6 438.5h0M215.0 458.1h0M48.5 451.1h0M117.1 501.2h0M109.8 486.8h0M137.8 430.9h0M111.5 441.6h0M58.7 479.8h0M272.0 396.0h0M110.9 368.3h0M125.0 420.5h0M116.7 463.0h0M137.0 527.7h0M259.7 389.3h0M111.0 442.1h0M121.3 399.2h0M221.2 342.7h0M233.1 446.1h0M111.3 376.1h0M74.2 399.9h0M108.5 470.0h0M121.1 419.7h0M242.0 340.5h0M265.3 422.2h0M121.8 469.0h0M270.7 395.2h0M71.8 410.2h0M293.8 425.6h0M106.7 377.7h0M212.6 512.2h0M215.0 449.4h0M147.8 401.0h0M222.4 346.2h0M332.2 454.9h0M93.0 413.8h0M72.7 497.7h0M183.5 425.0h0M173.0 491.9h0M89.6 437.6h0M130.9 471.4h0M237.3 373.5h0M168.8 496.0h0M86.1 474.6h0M172.3 436.5h0M212.7 480.2h0M218.3 474.6h0M252.9 444.0h0M113.6 498.2h0M201.1 514.7h0M216.4 440.3h0M225.7 361.4h0M123.5 473.5h0M171.9 376.9h0M52.6 474.8h0M62.1 478.4h0M141.5 491.0h0M287.3 378.2h0M284.2 354.4h0M261.3 486.7h0M125.0 471.5h0M133.4 432.2h0M121.6 417.3h0M206.0 488.0h0M62.3 475.8h0M123.9 454.7h0M229.5 367.9h0M114.7 477.5h0M85.1 427.5h0M263.4 363.1h0M157.9 476.0h0M263.8 392.4h0M98.8 441.9h0M252.0 334.8h0M194.7 412.0h0M317.4 417.8h0M280.9 435.4h0M127.0 482.2h0M260.0 466.7h0M108.1 393.7h0M144.4 351.1h0M103.4 420.8h0M258.7 489.5h0M226.4 518.8h0M70.3 399.5h0M131.6 377.6h0M157.2 444.2h0M130.1 464.6h0M263.1 477.2h0M241.9 453.9h0M215.3 449.2h0M110.7 414.6h0M66.5 400.2h0M111.9 467.5h0M92.1 465.1h0M120.2 461.2h0M255.6 365.4h0M199.6 385.2h0M128.5 376.5h0M76.8 417.0h0M82.1 418.6h0M110.2 376.1h0M66.0 514.8h0M258.8 510.3h0M111.0 415.3h0M93.3 417.7h0M113.0 433.5h0M147.8 489.4h0M117.8 468.2h0M231.9 441.0h0M170.1 513.1h0M104.7 391.6h0M49.4 432.9h0M105.1 423.4h0M108.3 435.3h0M66.8 512.2h0M112.0 426.1h0M141.4 345.8h0M216.5 442.5h0M145.2 405.1h0M67.0 511.2h0M92.9 513.7h0M128.6 455.8h0M303.0 364.2h0M131.1 477.9h0M82.2 505.2h0M255.1 335.5h0M222.8 455.5h0M221.5 518.5h0M116.8 405.2h0M141.5 410.7h0M237.7 514.2h0M125.1 449.3h0M91.4 472.2h0M91.0 472.2h0M233.7 451.0h0M223.4 444.1h0M227.3 389.7h0M146.6 407.1h0M117.3 453.2h0M214.6 443.8h0M50.6 455.3h0M116.4 448.3h0M215.0 519.2h0M140.2 463.4h0M174.0 499.9h0M120.5 449.6h0M93.1 413.6h0M113.6 410.4h0M249.0 477.1h0M123.1 376.3h0M215.6 442.2h0M242.3 447.8h0M198.2 409.2h0M223.7 446.5h0M216.1 391.0h0M172.6 365.6h0M208.8 444.9h0M172.0 499.9h0M106.9 388.3h0M111.8 493.5h0M45.5 432.6h0M278.2 398.9h0M228.8 424.9h0M83.2 498.8h0M75.8 505.2h0M156.3 510.1h0M122.4 468.2h0M180.9 426.0h0M134.7 428.3h0M222.8 441.3h0M80.9 415.2h0M149.1 481.2h0M254.2 413.0h0M107.4 423.9h0M285.7 432.2h0M103.0 394.9h0M107.8 420.9h0M229.0 448.6h0M118.1 462.8h0M253.2 437.3h0M250.3 369.2h0M119.7 504.0h0M288.4 400.0h0M288.6 439.7h0M209.8 474.1h0M233.1 439.4h0M208.4 512.3h0M132.7 386.4h0M214.2 451.9h0M203.5 448.8h0M137.7 365.3h0M219.9 515.0h0M228.6 447.0h0M81.8 410.0h0M126.8 472.8h0M110.7 376.4h0M141.6 468.1h0M207.0 382.2h0M284.7 437.5h0M108.1 417.0h0M221.1 447.1h0M203.2 406.0h0M112.1 368.6h0M158.0 476.5h0M195.4 407.8h0M249.1 335.8h0M234.1 441.2h0M121.1 418.3h0M133.0 476.5h0M113.4 369.3h0M107.3 387.4h0M145.4 492.4h0M180.2 424.2h0M248.3 475.8h0M70.4 509.2h0M124.1 412.5h0M80.4 424.3h0M274.8 399.6h0M83.8 429.4h0M364.5 457.4h0M110.8 376.0h0M221.5 443.3h0M214.1 448.4h0M131.8 462.2h0M69.5 432.5h0M250.0 469.5h0M76.3 415.2h0M62.6 479.1h0M79.2 417.7h0M48.6 434.4h0M263.3 366.3h0M155.9 405.3h0M79.0 416.2h0M237.9 341.6h0M159.1 394.3h0M87.6 465.8h0M145.2 401.1h0M136.8 427.8h0M253.3 418.5h0M266.5 480.0h0M110.8 486.2h0M138.2 471.1h0M194.4 419.9h0M91.6 465.1h0M133.4 415.9h0M223.1 518.6h0M108.3 387.8h0M231.0 441.5h0M184.9 394.3h0M49.3 457.0h0M76.7 477.4h0M295.8 399.8h0M102.9 386.1h0M177.4 394.4h0M251.0 339.1h0M112.2 446.3h0M263.1 471.3h0M253.7 512.8h0M98.9 387.6h0M338.6 458.5h0M101.0 392.7h0M89.3 466.4h0M124.0 453.2h0M67.2 475.5h0M103.0 485.6h0M213.3 444.4h0M105.0 385.8h0M66.5 364.8h0M218.6 479.0h0M235.6 355.3h0M110.0 377.8h0M110.8 483.6h0M216.5 511.8h0M215.0 518.6h0M145.2 350.8h0M155.5 495.2h0M243.5 375.2h0M116.3 411.8h0M210.9 379.6h0M237.3 371.8h0M203.7 430.2h0M145.2 499.3h0M230.6 356.2h0M119.7 450.7h0M57.9 476.1h0M69.5 510.4h0M274.5 399.3h0M305.2 422.6h0M250.0 444.0h0M274.1 399.6h0M228.7 446.4h0M258.6 515.6h0M82.6 430.9h0M90.8 410.4h0M217.5 425.9h0M107.4 392.3h0M83.7 426.9h0M67.4 513.4h0M82.7 417.2h0M209.2 444.5h0M117.2 441.3h0M228.8 513.4h0M258.3 426.7h0M281.3 357.1h0M222.1 447.3h0M75.9 402.5h0M191.3 412.7h0M229.8 447.1h0M171.0 465.2h0M218.5 444.4h0M265.6 416.2h0M341.5 432.3h0M92.7 472.9h0M100.2 486.7h0M143.0 430.0h0M307.1 410.9h0M224.0 513.2h0M140.3 371.5h0M95.0 461.2h0M143.7 403.5h0M173.0 383.5h0M223.8 439.2h0M253.1 515.0h0M222.5 513.7h0M134.8 420.5h0M144.2 402.6h0M70.1 457.0h0M81.3 503.0h0M110.4 381.6h0M222.6 440.2h0M255.8 520.0h0M229.6 440.9h0M116.1 464.2h0M125.0 460.0h0M102.2 423.2h0M68.7 513.7h0M80.1 427.7h0M130.3 378.2h0M232.9 447.7h0M246.3 430.9h0M112.1 449.7h0M212.2 442.0h0M169.3 343.0h0M74.7 392.2h0M83.4 420.8h0M101.4 489.7h0M126.0 456.1h0M254.7 338.1h0M181.9 392.3h0M95.6 438.5h0M102.9 509.5h0M127.2 457.8h0M192.5 414.9h0M131.5 386.5h0M285.7 379.7h0M135.0 430.0h0M286.5 376.7h0M195.2 414.7h0M217.5 443.5h0M84.7 425.3h0M159.5 399.0h0M247.0 422.9h0M104.0 440.3h0M104.5 435.8h0M166.9 483.5h0M195.6 411.9h0M104.7 387.3h0M188.6 497.8h0M239.3 447.7h0M259.3 507.6h0M183.7 423.6h0M173.2 493.7h0M214.6 510.7h0M68.5 495.9h0M262.8 472.0h0M119.2 467.5h0M59.3 482.0h0M334.5 433.0h0M75.1 418.8h0M99.1 435.5h0M158.5 391.2h0M104.5 388.0h0M154.3 488.0h0M101.7 380.5h0M218.3 443.2h0M82.0 425.1h0M145.2 407.6h0M115.0 407.3h0M173.0 495.0h0M233.4 448.4h0M55.2 474.5h0M184.2 425.1h0M97.5 434.8h0M108.3 410.4h0M222.0 447.7h0M75.7 400.0h0M104.4 386.2h0M71.3 483.3h0M127.5 416.0h0M203.1 507.3h0M275.9 399.6h0M108.3 493.3h0M107.9 443.3h0M116.2 421.1h0M223.0 368.7h0M89.5 469.2h0M153.1 405.7h0M94.5 439.3h0M218.4 482.7h0M121.0 498.1h0M271.0 397.2h0M64.5 439.1h0M263.2 343.9h0M254.9 417.4h0M271.7 395.2h0M55.6 474.1h0M64.0 447.0h0M50.0 433.7h0M59.7 451.4h0M106.0 383.3h0M166.2 461.2h0M213.8 434.4h0M249.0 430.0h0M252.2 431.7h0M124.1 457.3h0M113.0 490.8h0M220.2 366.7h0M106.1 385.6h0M285.8 373.3h0M84.5 503.7h0M123.1 459.4h0M222.2 363.6h0M101.2 468.6h0M215.0 479.3h0M118.2 504.7h0M227.5 419.1h0M236.4 357.9h0M251.9 425.6h0M257.3 351.0h0M238.5 365.1h0M107.5 437.4h0M58.4 473.8h0M104.1 385.6h0M210.7 380.6h0M69.2 484.2h0M215.0 519.6h0M272.3 397.9h0M270.8 473.3h0M218.8 448.1h0M147.8 445.9h0M52.4 454.8h0M125.0 419.6h0M121.1 463.3h0M159.8 350.4h0M203.5 421.9h0M103.5 424.9h0M117.2 489.7h0M288.9 401.1h0M264.1 469.0h0M128.1 464.3h0M254.0 431.7h0M131.8 420.0h0M145.2 410.8h0M53.2 474.6h0M171.3 498.8h0M126.6 460.0h0M181.7 425.5h0M75.4 413.0h0M108.6 375.3h0M121.5 476.2h0M116.3 489.6h0M91.6 490.5h0M220.5 439.5h0M104.3 403.4h0M88.3 467.7h0M253.9 436.7h0M178.9 464.4h0M176.7 493.1h0M70.8 497.5h0M113.3 369.6h0M240.9 452.5h0M107.5 387.5h0M108.8 382.2h0M107.8 378.6h0M214.6 447.5h0M71.7 472.8h0M75.3 511.4h0M48.1 435.5h0M74.7 395.4h0M97.4 492.0h0M76.0 412.6h0M103.6 422.0h0M132.5 385.1h0M136.5 402.6h0M98.7 490.0h0M204.6 387.8h0M149.6 487.0h0M94.8 444.2h0M85.9 507.4h0M176.5 386.2h0M99.2 492.0h0M264.3 347.5h0M85.8 468.6h0M99.6 385.8h0M272.6 395.3h0M81.2 406.3h0M119.5 490.3h0M106.6 423.2h0M212.6 382.6h0M199.4 430.1h0M226.6 362.0h0M106.0 426.9h0M116.4 460.7h0M54.3 468.9h0M248.4 446.9h0M262.2 483.4h0M261.2 423.6h0M230.1 448.5h0M251.3 433.3h0M112.6 458.2h0M130.5 459.0h0M235.8 442.0h0M245.5 447.9h0M216.5 470.5h0M260.7 480.1h0M222.0 346.7h0M266.1 433.6h0M175.5 389.9h0M258.9 414.9h0M95.6 504.5h0M133.1 425.8h0M106.0 387.2h0M110.2 379.9h0M111.5 375.0h0M245.8 450.0h0M261.1 386.6h0M95.6 504.7h0M253.8 519.9h0M276.2 397.8h0M97.2 442.5h0M128.6 480.6h0M66.1 515.8h0M93.3 417.1h0M264.4 350.6h0M273.8 397.0h0M284.4 378.2h0M153.0 344.2h0M92.1 475.4h0M214.8 516.8h0M70.7 396.9h0M74.5 409.9h0M234.7 362.5h0M133.3 381.9h0M212.7 451.0h0M238.6 414.8h0M222.4 367.6h0M53.8 476.0h0M274.8 398.0h0M136.8 432.7h0M109.8 373.7h0M131.6 377.3h0M68.0 513.1h0M197.2 499.9h0M70.0 499.5h0M176.1 500.2h0M327.4 449.4h0M103.1 393.8h0M115.4 504.4h0M254.2 332.8h0M223.7 514.3h0M241.8 427.2h0M226.0 406.0h0M51.0 434.3h0M72.5 391.4h0M153.6 404.5h0M74.4 399.6h0M273.4 398.0h0M85.7 497.9h0M96.6 442.7h0M65.0 512.5h0M111.2 377.1h0M225.0 390.4h0M179.3 425.2h0M256.2 338.2h0M123.8 469.1h0M126.0 468.4h0M50.5 431.6h0M57.0 476.4h0M246.8 431.0h0M109.3 440.3h0M289.0 406.2h0M127.8 480.5h0M103.8 412.5h0M76.8 395.8h0M215.6 447.9h0M216.6 443.5h0M119.2 475.6h0M111.0 412.0h0M111.3 383.3h0M260.3 424.2h0M106.6 486.4h0M53.7 448.8h0M68.7 476.5h0M83.3 426.0h0M93.0 440.9h0M107.7 382.6h0M222.1 517.8h0M276.0 397.5h0M221.8 443.1h0M113.9 368.8h0M220.6 344.8h0M250.3 475.1h0M269.4 393.8h0M86.1 513.3h0M120.5 451.3h0M145.6 404.3h0M150.9 490.0h0M232.4 414.4h0M113.0 461.8h0M131.1 497.9h0M105.4 384.5h0M176.8 472.5h0M95.7 439.7h0M106.8 385.6h0M252.2 333.0h0M159.5 389.7h0M86.5 419.1h0M100.3 453.9h0M104.1 421.2h0M85.7 503.6h0" stroke="#c4d8ef" stroke-width="2.20" stroke-linecap="round" fill="none"/>
<text x="378" y="308.3" font-size="6" textLength="24" lengthAdjust="spacingAndGlyphs" fill="#333">ion mode</text>
<circle cx="384.5" cy="313.7" r="1" fill="#f6a383"/>
<text x="391.7" y="315" font-size="5.4" textLength="19.3" lengthAdjust="spacingAndGlyphs" fill="#333">negative</text>
<circle cx="384.5" cy="320.8" r="1" fill="#c2d7ef"/>
<text x="391.7" y="322.3" font-size="5.4" textLength="17.3" lengthAdjust="spacingAndGlyphs" fill="#333">positive</text>
<path d="M338 44.6L342.5 49M345 40.3L338 44.6M342 40.4L345 40.3M346.7 49.8L342.5 49M347.7 47.1L346.7 49.8M344 47.9L342.5 49M339.7 49.6L342.5 49M337.7 47.7L339.7 49.6M345.1 49.2L346.7 49.8M340.9 57.3L339.7 49.6M342.7 46.8L344 47.9M343.1 47L342.7 46.8M341 47.7L342.7 46.8M424.2 45.1L421.3 45.9M421 47.9L421.3 45.9M420.6 48L421 47.9M436 39.3L436.4 40.2M439.7 42.5L436.4 40.2M432.4 55.7L431.7 54.4M431 53.8L431.7 54.4M414.4 52.7L413.7 53.5M413.4 52.7L413.7 53.5M437.8 60L437.4 63M453 45.7L454.2 47.8M456.6 49.4L454.2 47.8M472.7 43.8L476 44M489.1 50.2L488.4 48.7M554.5 35.1L553.9 34.5M552.9 42.6L553.9 44M556.5 46.2L553.9 44M565.6 37.4L566.2 37.3M569.1 39L566.2 37.3" stroke="#ebd2c8" stroke-width="0.5" fill="none"/>
<path d="M342.5 49L343.4 49.3M342.5 49L342.2 50.9M342.5 49L341.4 49.2M342.5 49L342.4 47.9M338 44.6L340 44.3M338 44.6L339 46.4M338 44.6L337.3 45.2M338 44.6L336.4 43.6M338 44.6L338.2 43.4M345 40.3L346.7 40.4M345 40.3L345.4 41.5M345 40.3L343.4 40.5M345 40.3L344.8 38.9M342 40.4L343.9 39.9M342 40.4L342.9 41.8M342 40.4L341.1 40.8M342 40.4L341 39.5M342 40.4L342.3 39.6M346.7 49.8L348.3 50M346.7 49.8L346.4 50.8M346.7 49.8L344.9 50M346.7 49.8L346.7 48.3M347.7 47.1L348.7 47.3M347.7 47.1L348.3 48.7M347.7 47.1L347 47.8M347.7 47.1L346.7 46.8M347.7 47.1L346.7 45.8M347.7 47.1L348.5 46.2M344 47.9L345.3 47.8M344 47.9L344.2 48.9M344 47.9L342.4 48.3M344 47.9L344.3 46.9M339.7 49.6L341.2 49.2M339.7 49.6L339.5 50.5M339.7 49.6L338.4 49.4M339.7 49.6L339.5 48M337.7 47.7L339.6 47.1M337.7 47.7L338.5 48.8M337.7 47.7L336.8 48.1M337.7 47.7L336.3 46.3M337.7 47.7L338.4 46M345.1 49.2L346.4 49M345.1 49.2L345.5 50.5M345.1 49.2L343.3 49.6M345.1 49.2L345.2 48.1M340.9 57.3L342.5 57.8M340.9 57.3L341.8 58.2M340.9 57.3L340.6 59.2M340.9 57.3L339.5 58.5M340.9 57.3L340 56.8M340.9 57.3L341 55.5M340.9 57.3L341.6 56M342.7 46.8L344.4 46.3M342.7 46.8L343.6 48M342.7 46.8L342.4 48M342.7 46.8L341.1 46.7M342.7 46.8L342.3 45.6M342.7 46.8L343.9 45.6M343.1 47L344.6 47.2M343.1 47L344.2 48M343.1 47L342.5 48.5M343.1 47L341.3 47.1M343.1 47L342.4 45.4M343.1 47L343.8 45.6M341 47.7L342.9 47.5M341 47.7L341.8 49.2M341 47.7L340.1 49.4M341 47.7L339.7 48.3M341 47.7L339.3 47.2M341 47.7L341.1 46.2M341 47.7L342.2 46.5M421.3 45.9L423 45.4M421.3 45.9L422.2 47.5M421.3 45.9L420.8 46.8M421.3 45.9L420.1 46.1M421.3 45.9L421 44.8M421.3 45.9L421.7 44.7M424.2 45.1L425.6 45.2M424.2 45.1L424.2 46.4M424.2 45.1L422.3 45.4M424.2 45.1L423.9 43.7M421 47.9L422 48.2M421 47.9L421.9 49.1M421 47.9L420 49.5M421 47.9L419.4 47.9M421 47.9L420 46.4M421 47.9L421.8 47M420.6 48L421.9 47.7M420.6 48L420.2 49.4M420.6 48L418.9 48M420.6 48L420.1 46.2M436.4 40.2L437.9 40.5M436.4 40.2L437.8 41.6M436.4 40.2L435.7 41.6M436.4 40.2L435.2 40M436.4 40.2L435.7 39.1M436.4 40.2L436.7 39.3M436 39.3L437.9 39.2M436 39.3L436.9 40.2M436 39.3L435.4 41.1M436 39.3L434.2 39M436 39.3L435.5 38.4M436 39.3L436.6 38.3M439.7 42.5L441.2 42.9M439.7 42.5L439.6 44.1M439.7 42.5L438.4 42.6M439.7 42.5L439.4 41.2M431.7 54.4L432.9 54.4M431.7 54.4L432.9 56M431.7 54.4L431.5 55.5M431.7 54.4L430 55.2M431.7 54.4L430.2 53.8M431.7 54.4L431.7 53.1M431.7 54.4L432.8 53.4M432.4 55.7L434.3 55.5M432.4 55.7L432.7 56.9M432.4 55.7L431 56.7M432.4 55.7L431.5 54.9M432.4 55.7L432.6 54.1M431 53.8L432.8 53.8M431 53.8L431.6 54.7M431 53.8L431 55.5M431 53.8L430.1 54.1M431 53.8L430.3 53.1M431 53.8L430.6 52.9M431 53.8L432 52.5M413.7 53.5L415.4 53.6M413.7 53.5L414.4 54.8M413.7 53.5L413.4 54.4M413.7 53.5L412.3 53.4M413.7 53.5L413.1 51.7M413.7 53.5L414.5 52.2M414.4 52.7L415.5 52.3M414.4 52.7L415 53.7M414.4 52.7L413.6 54.2M414.4 52.7L413.3 52.8M414.4 52.7L414.1 51.8M414.4 52.7L414.9 51.7M413.4 52.7L414.8 52.8M413.4 52.7L414.2 54.2M413.4 52.7L413.2 54.4M413.4 52.7L411.9 53.4M413.4 52.7L411.9 51.8M413.4 52.7L412.8 51.4M413.4 52.7L414.1 51M437.4 63L438.3 62.9M437.4 63L436.9 64.6M437.4 63L436.3 63.2M437.4 63L437.4 61.4M437.8 60L439.1 60.1M437.8 60L438.4 60.9M437.8 60L437.7 60.9M437.8 60L436.4 60.5M437.8 60L436.6 59.2M437.8 60L437.5 58.8M437.8 60L438.8 59.1M427 48L428.7 48.3M427 48L427.6 49.3M427 48L427.1 49.4M427 48L426 48.5M427 48L425.9 47.7M427 48L427 46.1M427 48L427.7 47M438 31L439.7 30.5M438 31L437.7 32.6M438 31L436.5 30.7M438 31L438.2 29.2M443 45L444.8 44.5M443 45L443 46.1M443 45L442.2 46M443 45L441.8 44.5M443 45L443.1 43.9M454.2 47.8L455.5 47.6M454.2 47.8L454.7 48.6M454.2 47.8L453.7 49.5M454.2 47.8L452.4 48.2M454.2 47.8L452.7 46.7M454.2 47.8L454.1 46.8M454.2 47.8L455.4 46.3M453 45.7L454 45.7M453 45.7L453.6 47M453 45.7L451.9 47M453 45.7L451.9 45.2M453 45.7L453.1 44.5M456.6 49.4L457.6 49.3M456.6 49.4L458 50.8M456.6 49.4L456.6 50.7M456.6 49.4L455.3 50.4M456.6 49.4L455.7 49M456.6 49.4L456.6 48.2M456.6 49.4L457.6 48.4M464.7 44L466.6 44.1M464.7 44L464.9 45.4M464.7 44L463.3 43.7M464.7 44L464.7 43M476 44L477.6 44.1M476 44L476.9 45M476 44L476 45.4M476 44L474.8 44.3M476 44L474.5 43.4M476 44L475.8 42.9M476 44L477 42.6M472.7 43.8L474.2 43.8M472.7 43.8L472.6 44.7M472.7 43.8L471.5 43.5M472.7 43.8L472.5 42.4M482.7 39.2L484 38.8M482.7 39.2L483.3 40.3M482.7 39.2L481.4 39.9M482.7 39.2L481.5 37.8M482.7 39.2L483.4 37.5M488.4 48.7L489.4 48.9M488.4 48.7L489 49.7M488.4 48.7L487.5 49.6M488.4 48.7L487.4 48.6M488.4 48.7L487.6 47.5M488.4 48.7L488.8 47.7M489.1 50.2L490.2 50.1M489.1 50.2L489.5 51.1M489.1 50.2L488.7 51.4M489.1 50.2L488.3 50.9M489.1 50.2L488 49.3M489.1 50.2L488.6 49M489.1 50.2L489.7 49.2M444 51L445.4 50.8M444 51L444.9 52.2M444 51L443.2 52.6M444 51L442.9 51.7M444 51L443.1 50.5M444 51L444 50.1M444 51L444.7 50.1M484 33L485.1 32.7M484 33L484 34.8M484 33L483 34M484 33L483 32.6M484 33L484.3 31M553.9 34.5L555 34.4M553.9 34.5L554.4 36.2M553.9 34.5L553.2 35.2M553.9 34.5L552.7 34.5M553.9 34.5L553.1 33.1M553.9 34.5L554.3 32.9M554.5 35.1L555.7 34.8M554.5 35.1L554.9 37M554.5 35.1L553.3 35.3M554.5 35.1L554.3 33.7M553.9 44L555.7 44.3M553.9 44L554.9 44.7M553.9 44L553.5 45.9M553.9 44L552.9 44.2M553.9 44L552.8 43M553.9 44L553.6 43.1M553.9 44L554.8 42.8M552.9 42.6L554.6 42.5M552.9 42.6L553.2 43.5M552.9 42.6L552.6 43.5M552.9 42.6L551.9 42.7M552.9 42.6L551.5 41.8M552.9 42.6L552.6 41.3M552.9 42.6L553.6 41.1M556.5 46.2L557.8 46.3M556.5 46.2L557.2 46.8M556.5 46.2L556.5 47.6M556.5 46.2L555.3 47.4M556.5 46.2L555.4 45.8M556.5 46.2L556 44.9M556.5 46.2L557.3 44.6M566.2 37.3L567.5 37.7M566.2 37.3L566.8 38.6M566.2 37.3L565.9 38.4M566.2 37.3L564.7 37.5M566.2 37.3L565.9 36.3M566.2 37.3L566.9 35.8M565.6 37.4L567 37.1M565.6 37.4L566.4 39.1M565.6 37.4L565.2 39.1M565.6 37.4L564.1 38.6M565.6 37.4L564.5 36.5M565.6 37.4L565.6 36.1M565.6 37.4L566.6 36.6M569.1 39L571 39.4M569.1 39L569.5 39.9M569.1 39L568.5 40.5M569.1 39L567.5 38.6M569.1 39L568.2 38.1M569.1 39L569.5 38M555 52L556.3 51.9M555 52L555.3 53.3M555 52L554 52.5M555 52L553.5 51.3M555 52L555.7 50.9M575 40L576.1 39.7M575 40L574.8 41.7M575 40L573.6 39.9M575 40L575.2 38.6M582 44L583.3 43.9M582 44L582.4 45.3M582 44L581.2 44.8M582 44L580.8 43.5M582 44L582.6 42.9M470 47L471.8 46.6M470 47L470.3 47.9M470 47L469.5 48M470 47L468.7 46.9M470 47L469.3 46M470 47L470.8 45.8M446 56L447.1 56.2M446 56L447 56.9M446 56L445.4 57M446 56L444.2 56.7M446 56L444.2 55.7M446 56L445.8 55M446 56L447.1 55.0" stroke="#ebd2c8" stroke-width="0.45" fill="none"/>
<path d="M342.5 50L351.2 50M342.5 50L347.6 52.9M342.5 50L347 57.7M342.5 50L342.5 57.9M342.5 50L338.3 57.2M342.5 50L336.3 53.6M342.5 50L334.4 50M342.5 50L334.8 45.6M342.5 50L338.4 42.9M342.5 50L342.5 41.4M342.5 50L345.1 45.6M342.5 50L347.5 47.1M345 62L348 67.2M345 62L343.6 69.9M345 62L352.8 66.5M345 62L338.9 65.5M350 72L352.1 77.6M350 72L356.6 74.4M350 72L347 77.2M355 81L355.9 85.9M355 81L358.1 83.6M330 60L324.8 63M330 60L325.3 58.3M330 60L328.3 64.7M325 46L320 46M325 46L321.9 43.4M325 46L321.5 48M336 38L333.5 33.7M336 38L332.2 36.6M426 48L417.5 44.9M426 48L419.1 52M426 48L434.7 43M426 48L432.1 53.1M426 48L429.6 61.5M426 48L428.1 36.2" stroke="#e5d3cb" stroke-width="0.5" fill="none"/>
<path d="M342.5 50L343.9 50.1M342.5 50L343.2 51.3M342.5 50L341.5 52.4M342.5 50L341.1 50.1M342.5 50L341.5 49.1M342.5 50L342.8 48.1M342.5 50L343.7 48.7M351.2 50L353.2 49.8M351.2 50L351.8 51.4M351.2 50L350.3 50.8M351.2 50L349.6 50.1M351.2 50L350.4 48.9M351.2 50L352.4 48.8M347.6 52.9L349.2 53M347.6 52.9L347.9 54.8M347.6 52.9L346.1 52.4M347.6 52.9L347.4 51.6M347 57.7L349 58.2M347 57.7L347.9 58.7M347 57.7L346.4 59.6M347 57.7L344.4 57.9M347 57.7L345.5 56.8M347 57.7L347.1 56.5M347 57.7L347.7 55.8M342.5 57.9L344.2 58M342.5 57.9L343.4 59.7M342.5 57.9L342.6 60.5M342.5 57.9L341.2 59.2M342.5 57.9L340.8 57.6M342.5 57.9L341.8 56.7M342.5 57.9L342.7 55.7M342.5 57.9L343.4 56.6M338.3 57.2L340.9 56.8M338.3 57.2L338.3 58.8M338.3 57.2L337 57.2M338.3 57.2L338.5 55.4M336.3 53.6L337.6 53.1M336.3 53.6L337.4 55.1M336.3 53.6L335.5 54.8M336.3 53.6L335.1 53.6M336.3 53.6L335.1 51.5M336.3 53.6L337.4 52.3M334.4 50L336.2 50.2M334.4 50L335.5 51.7M334.4 50L333.8 51.2M334.4 50L332.8 50.4M334.4 50L332.9 49.2M334.4 50L333.6 48.2M334.4 50L335.4 48.6M334.8 45.6L336 45.2M334.8 45.6L336.3 47.2M334.8 45.6L335.5 47.6M334.8 45.6L333.9 47.1M334.8 45.6L332.8 45.1M334.8 45.6L333.3 43.5M334.8 45.6L335.1 43.2M334.8 45.6L336.4 44.6M338.4 42.9L340.2 43.5M338.4 42.9L338.6 44.5M338.4 42.9L337.2 44.9M338.4 42.9L336.8 41.6M338.4 42.9L338.9 41.3M342.5 41.4L344.5 41.4M342.5 41.4L343 43M342.5 41.4L341.3 43M342.5 41.4L341.7 40.4M342.5 41.4L342.7 39.1M345.1 45.6L346.3 45.7M345.1 45.6L344.6 48.1M345.1 45.6L343.1 44.7M345.1 45.6L344.2 43.3M347.5 47.1L349.9 47.3M347.5 47.1L349 49.1M347.5 47.1L345.4 47.6M347.5 47.1L346.3 46.3M347.5 47.1L347.7 44.8M345 62L346.3 62.1M345 62L345.5 63.6M345 62L343.8 62.4M345 62L345.1 59.8M348 67.2L349.7 66.7M348 67.2L349.6 68.4M348 67.2L348 69.7M348 67.2L347.2 68.2M348 67.2L346.6 67M348 67.2L346.8 65.7M348 67.2L348.6 65.3M348 67.2L349.2 66.2M343.6 69.9L345.9 69.4M343.6 69.9L345.7 71.4M343.6 69.9L343 72.2M343.6 69.9L342.4 71.2M343.6 69.9L342.4 70.2M343.6 69.9L342 68.7M343.6 69.9L342.7 67.6M343.6 69.9L344.9 68.6M352.8 66.5L354.6 67.1M352.8 66.5L354.5 68.1M352.8 66.5L353.1 68.7M352.8 66.5L351.8 67.5M352.8 66.5L351.3 64.9M352.8 66.5L352.2 65.3M352.8 66.5L354.6 65.4M338.9 65.5L340.9 64.9M338.9 65.5L339.6 66.9M338.9 65.5L337.4 66.9M338.9 65.5L337.4 64.7M338.9 65.5L339 63.1M350 72L351.8 72.4M350 72L350.5 73.9M350 72L348.9 73.7M350 72L348.3 71.7M350 72L349.1 71.2M350 72L350.4 70.8M352.1 77.6L353.7 77.9M352.1 77.6L353.1 78.8M352.1 77.6L350.7 79.7M352.1 77.6L350.5 78.7M352.1 77.6L350 77.2M352.1 77.6L350.8 75.6M352.1 77.6L353.6 76.6M356.6 74.4L358.1 74.1M356.6 74.4L358 75.2M356.6 74.4L357 76.2M356.6 74.4L355.6 76.7M356.6 74.4L354.1 74.7M356.6 74.4L355.3 72.7M356.6 74.4L356.5 71.9M356.6 74.4L357.6 72.5M347 77.2L348.5 77.1M347 77.2L347.2 78.4M347 77.2L345.7 78.7M347 77.2L345 76.9M347 77.2L346.6 75M347 77.2L347.9 76.1M355 81L357.2 80.6M355 81L355.5 82.3M355 81L354.3 83M355 81L353 80.3M355 81L353.6 78.9M355 81L355.2 79.7M355.9 85.9L357.1 85.6M355.9 85.9L356.8 88.1M355.9 85.9L355.2 88.3M355.9 85.9L354.4 86.3M355.9 85.9L354.8 85.1M355.9 85.9L355.3 83.8M355.9 85.9L357.2 84.6M358.1 83.6L360.3 82.7M358.1 83.6L358.2 85.7M358.1 83.6L355.6 82.8M358.1 83.6L357.5 81.5M330 60L331.5 59.6M330 60L330.8 62.2M330 60L330.3 62.6M330 60L329 60.9M330 60L328.3 58.8M330 60L329.5 58.4M330 60L331.3 58.1M324.8 63L327 63.2M324.8 63L325.5 64.5M324.8 63L324.9 65.4M324.8 63L324.1 64.2M324.8 63L323.5 63.2M324.8 63L323.5 61M324.8 63L324.6 61.6M324.8 63L325.5 61.6M325.3 58.3L327.8 58.9M325.3 58.3L325.1 59.9M325.3 58.3L323.8 58.3M325.3 58.3L325.7 56M328.3 64.7L329.5 65.1M328.3 64.7L328.8 66.3M328.3 64.7L327.5 65.6M328.3 64.7L325.8 65.1M328.3 64.7L327.4 63.9M328.3 64.7L328.8 62.6M325 46L327.1 46.4M325 46L325.4 48.3M325 46L323.6 46.1M325 46L324.5 44.6M320 46L321.7 46M320 46L321.5 47.2M320 46L319.2 46.9M320 46L317.6 46.8M320 46L319.5 44.3M320 46L320.8 43.6M321.9 43.4L323.7 43M321.9 43.4L322.1 45.1M321.9 43.4L320.1 44.2M321.9 43.4L322.5 41.3M321.5 48L323.5 47.6M321.5 48L321.4 49.4M321.5 48L319.8 47.6M321.5 48L321.4 46.3M336 38L337.7 38.6M336 38L337.2 39.4M336 38L334.9 40.3M336 38L333.7 39M336 38L334.8 37.3M336 38L336 36.2M336 38L336.8 35.6M333.5 33.7L334.9 34.2M333.5 33.7L333.2 35.3M333.5 33.7L332 33.7M333.5 33.7L333.9 32.1M332.2 36.6L334.5 36.4M332.2 36.6L333.7 37.6M332.2 36.6L332.8 39.2M332.2 36.6L330.2 37.8M332.2 36.6L330.5 36.5M332.2 36.6L330.2 35.5M332.2 36.6L332.2 35.4M332.2 36.6L332.9 35.5M426 48L427.2 47.5M426 48L426.6 50.3M426 48L423.7 48.2M426 48L425.5 46.3M417.5 44.9L419.3 44.5M417.5 44.9L418.2 46.6M417.5 44.9L416.6 46.5M417.5 44.9L416.1 43.3M417.5 44.9L418.8 43.1M419.1 52L421.4 52.7M419.1 52L418.7 53.7M419.1 52L417 51.7M419.1 52L419.7 49.9M434.7 43L436.1 43.3M434.7 43L435.9 44.8M434.7 43L434 44.1M434.7 43L432.1 43.5M434.7 43L432.6 42.6M434.7 43L434.6 41.2M434.7 43L436.3 41.8M432.1 53.1L433.4 52.6M432.1 53.1L432.6 54.4M432.1 53.1L431.1 54.8M432.1 53.1L430.8 51.2M432.1 53.1L432.6 50.7M429.6 61.5L431.3 61.5M429.6 61.5L428.8 63.6M429.6 61.5L427.2 61.8M429.6 61.5L429.2 59.6M428.1 36.2L430 36.4M428.1 36.2L429.4 37.5M428.1 36.2L427 38.3M428.1 36.2L426.5 36.5M428.1 36.2L427.7 34.9M428.1 36.2L428.9 34.9" stroke="#e5d3cb" stroke-width="0.45" fill="none"/>
<path d="M390.1 37.8L391 42M392.1 45.4L391 42M373.5 55.8L373.8 57.3M375.1 56.7L373.8 57.3M380.9 56.7L381.4 55.4M378.6 52.7L381.4 55.4M401.5 36.5L402.3 36.4M402.7 37.4L402.3 36.4M396.1 35.7L393.7 34.5M496.5 41.3L497 40.2M501.2 48.2L500.7 45.9M504.3 33.4L502.6 34.5M510.3 35.2L512.1 36.4M512.8 34.2L512.1 36.4M536.4 36.9L538.7 36.4M540.7 40.7L543.4 41.0" stroke="#cdd5df" stroke-width="0.5" fill="none"/>
<path d="M391 42L392.4 42M391 42L391.5 42.9M391 42L390.4 43.6M391 42L389.5 42.4M391 42L390.2 40.4M391 42L391.4 40.4M390.1 37.8L391.6 37.8M390.1 37.8L390.9 39.3M390.1 37.8L389.3 39.4M390.1 37.8L388.2 37.7M390.1 37.8L389.7 36.9M390.1 37.8L390.6 36.5M392.1 45.4L393.6 45.6M392.1 45.4L392.2 46.4M392.1 45.4L390.9 45.7M392.1 45.4L392.2 43.7M373.8 57.3L375.5 56.9M373.8 57.3L374.2 59.2M373.8 57.3L372.3 57.9M373.8 57.3L372.6 56M373.8 57.3L374.2 56.3M373.5 55.8L374.6 56.1M373.5 55.8L373 57.2M373.5 55.8L372.6 55.9M373.5 55.8L373.4 54.7M375.1 56.7L376.6 57.1M375.1 56.7L375.5 57.6M375.1 56.7L373.8 57.4M375.1 56.7L374.1 55.8M375.1 56.7L375.7 55.7M381.4 55.4L382.7 55.1M381.4 55.4L382.2 56.8M381.4 55.4L380.1 56.3M381.4 55.4L380.3 54.4M381.4 55.4L381.7 54.3M380.9 56.7L382.8 56.8M380.9 56.7L381.8 57.6M380.9 56.7L380.4 58.6M380.9 56.7L380.2 57.3M380.9 56.7L379.4 56.4M380.9 56.7L380.7 55.6M380.9 56.7L381.6 55.4M378.6 52.7L379.6 52.9M378.6 52.7L379.6 54.3M378.6 52.7L377.7 53.6M378.6 52.7L377.1 52.4M378.6 52.7L378.3 51.6M378.6 52.7L379.7 51.3M402.3 36.4L403.6 36.3M402.3 36.4L402.1 37.9M402.3 36.4L401 36.4M402.3 36.4L402.5 35.3M401.5 36.5L403.3 36.4M401.5 36.5L401.7 37.8M401.5 36.5L399.6 36.9M401.5 36.5L402 34.9M402.7 37.4L404.2 37.3M402.7 37.4L403.1 38.3M402.7 37.4L401.6 38.1M402.7 37.4L401.6 36.4M402.7 37.4L403.7 35.8M393.7 34.5L395.4 34M393.7 34.5L394.1 36.2M393.7 34.5L393.3 35.7M393.7 34.5L391.8 34.9M393.7 34.5L393 32.9M393.7 34.5L394 33.5M396.1 35.7L398 35.5M396.1 35.7L396.7 36.4M396.1 35.7L395.9 36.8M396.1 35.7L395.2 36M396.1 35.7L395.2 35.4M396.1 35.7L395.7 33.8M396.1 35.7L397 34.7M386 49L387.3 48.7M386 49L386.1 49.9M386 49L384.8 49.6M386 49L384.9 48.6M386 49L386.4 47.7M398.5 55.4L399.6 55.1M398.5 55.4L398.1 56.7M398.5 55.4L397.5 55.4M398.5 55.4L398.2 53.5M379 62L380 62M379 62L380.2 63.3M379 62L378.7 63.5M379 62L377.4 62.3M379 62L378.2 61.5M379 62L378.1 60.5M379 62L380.1 60.5M497 40.2L498.7 40.3M497 40.2L496.6 41.7M497 40.2L495.8 39.9M497 40.2L496.9 38.9M496.5 41.3L497.9 41.2M496.5 41.3L497.8 42.8M496.5 41.3L495.4 42.6M496.5 41.3L495.4 41.3M496.5 41.3L495.3 40.1M496.5 41.3L497.8 39.8M500.7 45.9L501.6 45.8M500.7 45.9L500.9 47.3M500.7 45.9L499.7 46.1M500.7 45.9L500.5 44.6M501.2 48.2L502.8 47.7M501.2 48.2L502.8 49.3M501.2 48.2L500.9 49.5M501.2 48.2L500.2 48.9M501.2 48.2L499.9 47.3M501.2 48.2L500.8 46.6M501.2 48.2L501.9 47.4M502.6 34.5L503.7 34.3M502.6 34.5L502.4 36M502.6 34.5L500.9 34.7M502.6 34.5L502.3 32.6M504.3 33.4L505.9 33.5M504.3 33.4L504 34.9M504.3 33.4L503 33.6M504.3 33.4L504.2 32.2M512.1 36.4L514 36.5M512.1 36.4L512.3 37.3M512.1 36.4L511.9 37.5M512.1 36.4L510.4 36.8M512.1 36.4L511.1 34.9M512.1 36.4L513.2 35.2M510.3 35.2L511.7 34.9M510.3 35.2L510.9 36.2M510.3 35.2L509.8 37M510.3 35.2L509 35.6M510.3 35.2L509.8 34.4M510.3 35.2L510.8 34.2M512.8 34.2L514 34.4M512.8 34.2L513.5 35.2M512.8 34.2L512.8 35.4M512.8 34.2L511 34.9M512.8 34.2L511.8 33.4M512.8 34.2L512.8 33.2M512.8 34.2L514 32.6M521 37.3L522.7 37.5M521 37.3L521.9 38.5M521 37.3L520.3 39.1M521 37.3L520.1 37.7M521 37.3L519.5 36.6M521 37.3L520.5 35.7M521 37.3L521.9 36M526 37.3L527.6 37.7M526 37.3L526.3 38.9M526 37.3L524.9 38.4M526 37.3L525.3 36.7M526 37.3L526.5 36.3M531 37.3L532.8 37.3M531 37.3L532.4 38.5M531 37.3L530.7 38.7M531 37.3L529.9 37.7M531 37.3L529.4 36.8M531 37.3L530.6 36.3M531 37.3L531.6 36M538.7 36.4L539.7 36.6M538.7 36.4L538.7 38M538.7 36.4L536.8 36.2M538.7 36.4L539 34.6M536.4 36.9L537.8 37.1M536.4 36.9L536.6 37.9M536.4 36.9L534.7 37.4M536.4 36.9L536.3 34.9M543.4 41L545.4 41.3M543.4 41L544.1 42.2M543.4 41L542.5 42.2M543.4 41L541.5 41.5M543.4 41L542.5 39.8M543.4 41L543.7 39.9M540.7 40.7L542 40.5M540.7 40.7L541.1 41.8M540.7 40.7L539.8 41.9M540.7 40.7L539.3 40.3M540.7 40.7L540 39.7M540.7 40.7L541.1 39.9M524 37L525.7 37.2M524 37L524.6 38.8M524 37L523 38.6M524 37L522.1 36.8M524 37L523 35.9M524 37L525 35.6" stroke="#cdd5df" stroke-width="0.45" fill="none"/>
<path d="M391 43L382.5 39.9M391 43L382.3 48M391 43L398.8 47.5M391 43L398.7 36.6M391 43L389.6 35.1M391 43L392.6 51.9M391 43L386.9 54.3M378 56L372 56M378 56L373.7 53.5M378 56L374.2 59.2" stroke="#cfd3d9" stroke-width="0.5" fill="none"/>
<path d="M391 43L392.6 43.6M391 43L391.6 45.2M391 43L390.3 44.2M391 43L389.3 43.4M391 43L389.2 41.1M391 43L390.2 41.4M391 43L391.9 41.4M382.5 39.9L384.5 39.1M382.5 39.9L383.2 42.1M382.5 39.9L382.1 42M382.5 39.9L380.9 40.6M382.5 39.9L381 38.5M382.5 39.9L383.8 38.5M382.3 48L383.7 48.1M382.3 48L384 49.8M382.3 48L381.4 48.8M382.3 48L380.6 48.4M382.3 48L380.9 46.3M382.3 48L383.3 45.9M398.8 47.5L401.2 47.1M398.8 47.5L398.8 49.5M398.8 47.5L397.9 48.5M398.8 47.5L397.4 46.7M398.8 47.5L400 45.9M398.7 36.6L400.1 37.1M398.7 36.6L399.6 37.9M398.7 36.6L398.1 38.7M398.7 36.6L397.3 37.8M398.7 36.6L397.7 35.9M398.7 36.6L398.6 34.8M398.7 36.6L399.9 35M389.6 35.1L391.4 34.5M389.6 35.1L391 36.2M389.6 35.1L389.1 36.3M389.6 35.1L387.8 35.4M389.6 35.1L388.6 32.8M389.6 35.1L390.4 33.3M392.6 51.9L394.9 52.7M392.6 51.9L393.2 53.4M392.6 51.9L393.2 54.3M392.6 51.9L391.8 53.5M392.6 51.9L390.7 51.5M392.6 51.9L390.6 50.3M392.6 51.9L392.2 49.9M392.6 51.9L393.8 51.2M386.9 54.3L388 53.9M386.9 54.3L387.8 56.1M386.9 54.3L386.5 56.5M386.9 54.3L384.6 55M386.9 54.3L385.9 52.9M386.9 54.3L388.2 52.9M378 56L379.5 56.3M378 56L378.1 58.1M378 56L376.4 57.4M378 56L376.6 55.4M378 56L379 54.5M372 56L374 56.1M372 56L372 57.7M372 56L370.9 57.5M372 56L370.5 54.5M372 56L372.9 54.1M373.7 53.5L375 53.6M373.7 53.5L373.3 55.5M373.7 53.5L372.2 53.4M373.7 53.5L374.1 52.2M374.2 59.2L376.2 59.6M374.2 59.2L375 61.3M374.2 59.2L372.3 59.5M374.2 59.2L374.2 56.8" stroke="#cfd3d9" stroke-width="0.45" fill="none"/>
<path d="M322.6 95.8L325.1 96.5M322.6 95.8L324.4 97.4M322.6 95.8L323.5 98M322.6 95.8L321.5 98.4M322.6 95.8L320 96.7M322.6 95.8L319.4 95.9M322.6 95.8L320.7 94.7M322.6 95.8L321.4 93.3M322.6 95.8L323.8 92.7M322.6 95.8L324.9 93.5M350.1 95.4L352.3 95.9M350.1 95.4L352.8 96.9M350.1 95.4L350.7 97.8M350.1 95.4L350 97.7M350.1 95.4L348.3 96.8M350.1 95.4L347.4 94.7M350.1 95.4L347.1 94.2M350.1 95.4L348.6 92.9M350.1 95.4L350.5 92.4M350.1 95.4L352.7 93.9M359.6 96.2L362.5 96.2M359.6 96.2L361.8 97.1M359.6 96.2L360.5 98.7M359.6 96.2L358.3 99.3M359.6 96.2L358.2 98.1M359.6 96.2L356.6 95.5M359.6 96.2L357.6 95.3M359.6 96.2L359.2 93.5M359.6 96.2L361.3 93.7M359.6 96.2L361.9 94.5M370 95.2L373.3 94.7M370 95.2L372.9 97.3M370 95.2L370.1 97.6M370 95.2L368.5 98.4M370 95.2L367.2 96.7M370 95.2L367 96.1M370 95.2L368 93.3M370 95.2L368.7 93M370 95.2L371.4 92.9M370 95.2L371.6 93.3M375.7 94.5L377.9 94M375.7 94.5L377.9 96.5M375.7 94.5L377.6 97.4M375.7 94.5L374.2 96.9M375.7 94.5L373.2 95.7M375.7 94.5L373.3 94.4M375.7 94.5L374.3 92.7M375.7 94.5L374.9 91.1M375.7 94.5L376.1 92.4M375.7 94.5L378.3 92.5M392.8 94.4L396.4 94.1M392.8 94.4L394.7 96.5M392.8 94.4L393.1 97.8M392.8 94.4L392 96.8M392.8 94.4L391.1 95.8M392.8 94.4L390.2 94.9M392.8 94.4L390.6 93.6M392.8 94.4L391.6 92.1M392.8 94.4L393.3 90.9M392.8 94.4L395.3 92.8M438.3 94.9L441.7 95.6M438.3 94.9L440.7 96.4M438.3 94.9L439.7 98.2M438.3 94.9L437.8 98.4M438.3 94.9L436 96M438.3 94.9L436.1 94.3M438.3 94.9L435.8 93.9M438.3 94.9L436.4 92M438.3 94.9L439.3 92.1M438.3 94.9L440.4 92.8M448.2 96.1L450.5 96.2M448.2 96.1L451.3 97.8M448.2 96.1L449.1 98.4M448.2 96.1L446.3 98.9M448.2 96.1L445.9 98.7M448.2 96.1L444.8 96.3M448.2 96.1L446.1 94.6M448.2 96.1L446.9 93.7M448.2 96.1L449.5 93.7M448.2 96.1L450.3 93.7M456.3 94.6L459.4 94.2M456.3 94.6L458.5 96.9M456.3 94.6L457 97.5M456.3 94.6L454.8 97.2M456.3 94.6L454.1 97.2M456.3 94.6L454.1 94.8M456.3 94.6L454.1 92.6M456.3 94.6L454.7 92.2M456.3 94.6L456.4 91.9M456.3 94.6L458.6 92M466.6 95.3L468.9 94.6M466.6 95.3L469.6 96.5M466.6 95.3L467.8 98.1M466.6 95.3L465.4 97.3M466.6 95.3L464.3 96.3M466.6 95.3L464.2 95.1M466.6 95.3L464.6 92.9M466.6 95.3L465.3 92.9M466.6 95.3L467.8 92.3M466.6 95.3L469.2 94.4M476.8 95.5L479.2 96M476.8 95.5L478.9 97.6M476.8 95.5L478.3 97.6M476.8 95.5L475 98.3M476.8 95.5L473.9 96.5M476.8 95.5L473.9 94.6M476.8 95.5L475.3 93.9M476.8 95.5L476.2 93M476.8 95.5L478.5 92.5M476.8 95.5L479.3 94.1M521.7 95.5L525.2 96.5M521.7 95.5L524.2 97.4M521.7 95.5L522.4 98.8M521.7 95.5L520.5 98.1M521.7 95.5L519.3 97.5M521.7 95.5L519.5 96.2M521.7 95.5L519.7 93.3M521.7 95.5L520 92.7M521.7 95.5L522.2 92.2M521.7 95.5L523.4 93.3M530.9 96.3L533.7 96.9M530.9 96.3L533.8 98.1M530.9 96.3L532.6 99.4M530.9 96.3L529.7 98.3M530.9 96.3L529.1 98.7M530.9 96.3L528.7 96.9M530.9 96.3L528.7 94.5M530.9 96.3L530.2 93.9M530.9 96.3L531.9 93.8M530.9 96.3L534 95.1M539.1 95L541.4 95.5M539.1 95L541.9 96.7M539.1 95L540 97M539.1 95L538.7 97.9M539.1 95L537.5 96.9M539.1 95L535.9 94.4M539.1 95L536.4 92.9M539.1 95L538.9 91.4M539.1 95L539.3 91.6M539.1 95L540.9 93.1M558.5 95L562 95M558.5 95L560.7 96.7M558.5 95L560.2 98M558.5 95L558.1 98M558.5 95L556.1 97.3M558.5 95L556 95.7M558.5 95L556.2 93.8M558.5 95L558 92.8M558.5 95L558.5 92.7M558.5 95L560.2 93.3M350 100L351.6 99.5M350 100L350.8 101.8M350 100L349.3 101.7M350 100L347.9 100.6M350 100L348.7 98.2M350 100L350.9 98.7M360 100L362.4 99.8M360 100L361 102.3M360 100L359.1 102M360 100L357.9 100.2M360 100L359.2 97.7M360 100L360.6 98.1M331.1 116.2L333.7 116.3M331.1 116.2L333.1 118.2M331.1 116.2L330.8 119.5M331.1 116.2L329.2 118.4M331.1 116.2L328.6 117.1M331.1 116.2L328.9 115.3M331.1 116.2L330.2 113.2M331.1 116.2L331.9 113.5M331.1 116.2L332.6 114.8M357.7 116L359.8 116.5M357.7 116L359.3 117.5M357.7 116L357.5 118.7M357.7 116L356.1 118.3M357.7 116L355.1 117.9M357.7 116L355.1 114.6M357.7 116L356.5 113.9M357.7 116L358.4 114M357.7 116L359.1 114.3M379.5 115.7L382.3 116M379.5 115.7L381.8 116.8M379.5 115.7L380.6 118.1M379.5 115.7L378.1 117.8M379.5 115.7L377.2 116.5M379.5 115.7L377 114.4M379.5 115.7L378.1 113.1M379.5 115.7L380.2 113.8M379.5 115.7L381.1 113.6M390.9 115.6L393.6 115M390.9 115.6L392.9 117.5M390.9 115.6L392.1 118.3M390.9 115.6L388.7 118M390.9 115.6L388.8 116M390.9 115.6L387.9 114.3M390.9 115.6L389.9 112.5M390.9 115.6L391.6 113.4M390.9 115.6L393.1 114.2M430.8 116.2L433.5 116.5M430.8 116.2L432.8 118.1M430.8 116.2L430.6 118.2M430.8 116.2L429.8 119.2M430.8 116.2L428 116.5M430.8 116.2L427.6 115.7M430.8 116.2L429.7 113.2M430.8 116.2L430.8 113.3M430.8 116.2L432.8 113.6M439.3 114.9L441.7 115.4M439.3 114.9L441.4 116.6M439.3 114.9L439.2 117.9M439.3 114.9L438.7 116.8M439.3 114.9L436.4 115.3M439.3 114.9L436.8 113.9M439.3 114.9L437.7 113.4M439.3 114.9L439.9 112.3M439.3 114.9L440.8 113.5M447.2 114.6L450.3 113.7M447.2 114.6L448.5 116.3M447.2 114.6L447.9 117.8M447.2 114.6L446.1 116.4M447.2 114.6L444.7 114.8M447.2 114.6L444.7 113.1M447.2 114.6L446.2 112.8M447.2 114.6L447.7 112M447.2 114.6L449.6 113.1M455.3 115.9L457.6 116.1M455.3 115.9L456.7 117.7M455.3 115.9L455 118.5M455.3 115.9L453.5 117.6M455.3 115.9L452.6 116.9M455.3 115.9L453.1 114.3M455.3 115.9L454.1 113.9M455.3 115.9L455.3 113.4M455.3 115.9L458 114.4M490.1 115.6L493.2 116.4M490.1 115.6L491.6 117.1M490.1 115.6L490.5 117.8M490.1 115.6L488.2 118.2M490.1 115.6L487.3 116.4M490.1 115.6L487.8 115.3M490.1 115.6L488.7 112.9M490.1 115.6L490.7 112.7M490.1 115.6L491.8 114M500.3 116.1L502.6 116.2M500.3 116.1L502.6 118M500.3 116.1L500.7 118.1M500.3 116.1L498.8 118.4M500.3 116.1L498 117.8M500.3 116.1L497.4 114.8M500.3 116.1L499.2 113.2M500.3 116.1L501.5 113.8M500.3 116.1L502.8 114.3M511.5 114.6L513.8 114M511.5 114.6L512.9 116M511.5 114.6L512.1 117.3M511.5 114.6L510.6 117.5M511.5 114.6L508.8 114.9M511.5 114.6L509.3 114.1M511.5 114.6L510.7 112.6M511.5 114.6L512.1 112.2M511.5 114.6L514 113.5M519.7 115.1L521.8 114.7M519.7 115.1L521.4 116.8M519.7 115.1L520.6 117.8M519.7 115.1L518 117.4M519.7 115.1L517.3 116.9M519.7 115.1L516.8 113.5M519.7 115.1L518.9 112.2M519.7 115.1L520.9 112.6M519.7 115.1L521.6 113.6M527.9 115.1L531 115M527.9 115.1L530.1 116.3M527.9 115.1L528 117.7M527.9 115.1L526.4 117.1M527.9 115.1L525.9 115.5M527.9 115.1L525 113.9M527.9 115.1L526.4 113.7M527.9 115.1L527.8 112.5M527.9 115.1L529.9 114.1M536.1 116.2L538.1 116.5M536.1 116.2L538.3 118.1M536.1 116.2L537.1 118.4M536.1 116.2L534.4 118.3M536.1 116.2L533 116.6M536.1 116.2L534.1 115.6M536.1 116.2L534.8 113.3M536.1 116.2L536.9 113.6M536.1 116.2L538.9 114.7M545.3 115.3L548.2 115.1M545.3 115.3L547.3 116.2M545.3 115.3L545.6 117.4M545.3 115.3L544.8 117.3M545.3 115.3L543 115.8M545.3 115.3L542.7 114.1M545.3 115.3L544.4 112.8M545.3 115.3L545.5 112.3M545.3 115.3L547.2 112.6M553.4 116.3L555.5 116.4M553.4 116.3L554.9 118.4M553.4 116.3L553.1 118.8M553.4 116.3L552.1 118M553.4 116.3L550.8 116.4M553.4 116.3L550.9 115.1M553.4 116.3L552.1 114M553.4 116.3L553.8 113.2M553.4 116.3L554.6 114.6M330 121L332.1 121.4M330 121L330.2 123M330 121L328.7 121.4M330 121L328.4 120.2M330 121L330.7 119.7M329 126L330.6 126.3M329 126L329.6 127.9M329 126L327.3 127.1M329 126L327.7 124.4M329 126L329.2 124.2M456 120L457.6 120M456 120L457 121.9M456 120L454.2 120.7M456 120L454.7 118.3M456 120L456.1 118.6M380 120L381.7 119.6M380 120L380.6 121.2M380 120L378.2 120.8M380 120L378.4 118.6M380 120L380.6 118.1M318.5 174.9L318.5 178.3M321.7 174.9L321.7 178.3M328.1 174.9L328.1 178.3M334.5 174.9L334.5 178.3M337.8 174.9L337.8 178.3M344.2 174.9L344.2 178.3M347.4 174.9L347.4 178.3M353.8 174.9L353.8 178.3M357 174.9L357 178.3M360.2 174.9L360.2 178.3M363.4 174.9L363.4 178.3M369.9 174.9L369.9 178.3M376.3 174.9L376.3 178.3M379.5 174.9L379.5 178.3M382.7 174.9L382.7 178.3M385.9 174.9L385.9 178.3M389.1 174.9L389.1 178.3M392.3 174.9L392.3 178.3M398.7 174.9L398.7 178.3M402 174.9L402 178.3M405.2 174.9L405.2 178.3M408.4 174.9L408.4 178.3M414.8 174.9L414.8 178.3M418 174.9L418 178.3M421.2 174.9L421.2 178.3M424.4 174.9L424.4 178.3M427.6 174.9L427.6 178.3M430.8 174.9L430.8 178.3M434.1 174.9L434.1 178.3M440.5 174.9L440.5 178.3M443.7 174.9L443.7 178.3M450.1 174.9L450.1 178.3M453.3 174.9L453.3 178.3M459.7 174.9L459.7 178.3M466.2 174.9L466.2 178.3M469.4 174.9L469.4 178.3M472.6 174.9L472.6 178.3M482.2 174.9L482.2 178.3M491.8 174.9L491.8 178.3M495 174.9L495 178.3M498.3 174.9L498.3 178.3M501.5 174.9L501.5 178.3M504.7 174.9L504.7 178.3M511.1 174.9L511.1 178.3M517.5 174.9L517.5 178.3M520.7 174.9L520.7 178.3M527.1 174.9L527.1 178.3M530.4 174.9L530.4 178.3M536.8 174.9L536.8 178.3M540 174.9L540 178.3M543.2 174.9L543.2 178.3M549.6 174.9L549.6 178.3M552.8 174.9L552.8 178.3M556 174.9L556 178.3M559.2 174.9L559.2 178.3M318.5 181.4L318.5 184.8M321.7 181.4L321.7 184.8M324.9 181.4L324.9 184.8M328.1 181.4L328.1 184.8M334.5 181.4L334.5 184.8M337.8 181.4L337.8 184.8M341 181.4L341 184.8M344.2 181.4L344.2 184.8M347.4 181.4L347.4 184.8M350.6 181.4L350.6 184.8M353.8 181.4L353.8 184.8M360.2 181.4L360.2 184.8M363.4 181.4L363.4 184.8M366.6 181.4L366.6 184.8M369.9 181.4L369.9 184.8M373.1 181.4L373.1 184.8M376.3 181.4L376.3 184.8M382.7 181.4L382.7 184.8M389.1 181.4L389.1 184.8M395.5 181.4L395.5 184.8M398.7 181.4L398.7 184.8M402 181.4L402 184.8M405.2 181.4L405.2 184.8M408.4 181.4L408.4 184.8M411.6 181.4L411.6 184.8M414.8 181.4L414.8 184.8M418 181.4L418 184.8M421.2 181.4L421.2 184.8M424.4 181.4L424.4 184.8M427.6 181.4L427.6 184.8M430.8 181.4L430.8 184.8M434.1 181.4L434.1 184.8M437.3 181.4L437.3 184.8M443.7 181.4L443.7 184.8M446.9 181.4L446.9 184.8M453.3 181.4L453.3 184.8M459.7 181.4L459.7 184.8M462.9 181.4L462.9 184.8M466.2 181.4L466.2 184.8M475.8 181.4L475.8 184.8M479 181.4L479 184.8M482.2 181.4L482.2 184.8M485.4 181.4L485.4 184.8M488.6 181.4L488.6 184.8M495 181.4L495 184.8M504.7 181.4L504.7 184.8M507.9 181.4L507.9 184.8M514.3 181.4L514.3 184.8M517.5 181.4L517.5 184.8M520.7 181.4L520.7 184.8M523.9 181.4L523.9 184.8M527.1 181.4L527.1 184.8M533.6 181.4L533.6 184.8M536.8 181.4L536.8 184.8M540 181.4L540 184.8M543.2 181.4L543.2 184.8M552.8 181.4L552.8 184.8M559.2 181.4L559.2 184.8M318.5 187.8L318.5 191.2M321.7 187.8L321.7 191.2M331.3 187.8L331.3 191.2M334.5 187.8L334.5 191.2M337.8 187.8L337.8 191.2M344.2 187.8L344.2 191.2M347.4 187.8L347.4 191.2M350.6 187.8L350.6 191.2M353.8 187.8L353.8 191.2M360.2 187.8L360.2 191.2M363.4 187.8L363.4 191.2M366.6 187.8L366.6 191.2M369.9 187.8L369.9 191.2M373.1 187.8L373.1 191.2M376.3 187.8L376.3 191.2M382.7 187.8L382.7 191.2M385.9 187.8L385.9 191.2M389.1 187.8L389.1 191.2M392.3 187.8L392.3 191.2M395.5 187.8L395.5 191.2M402 187.8L402 191.2M405.2 187.8L405.2 191.2M408.4 187.8L408.4 191.2M411.6 187.8L411.6 191.2M418 187.8L418 191.2M421.2 187.8L421.2 191.2M424.4 187.8L424.4 191.2M427.6 187.8L427.6 191.2M430.8 187.8L430.8 191.2M434.1 187.8L434.1 191.2M437.3 187.8L437.3 191.2M440.5 187.8L440.5 191.2M446.9 187.8L446.9 191.2M450.1 187.8L450.1 191.2M453.3 187.8L453.3 191.2M456.5 187.8L456.5 191.2M462.9 187.8L462.9 191.2M466.2 187.8L466.2 191.2M469.4 187.8L469.4 191.2M475.8 187.8L475.8 191.2M479 187.8L479 191.2M482.2 187.8L482.2 191.2M488.6 187.8L488.6 191.2M491.8 187.8L491.8 191.2M495 187.8L495 191.2M501.5 187.8L501.5 191.2M504.7 187.8L504.7 191.2M507.9 187.8L507.9 191.2M511.1 187.8L511.1 191.2M514.3 187.8L514.3 191.2M520.7 187.8L520.7 191.2M523.9 187.8L523.9 191.2M527.1 187.8L527.1 191.2M530.4 187.8L530.4 191.2M533.6 187.8L533.6 191.2M543.2 187.8L543.2 191.2M546.4 187.8L546.4 191.2M549.6 187.8L549.6 191.2M552.8 187.8L552.8 191.2M556 187.8L556 191.2M559.2 187.8L559.2 191.2M562.5 187.8L562.5 191.2M318.5 194.8L318.5 198.2M321.7 194.8L321.7 198.2M324.9 194.8L324.9 198.2M328.1 194.8L328.1 198.2M331.3 194.8L331.3 198.2M334.5 194.8L334.5 198.2M337.8 194.8L337.8 198.2M347.4 194.8L347.4 198.2M353.8 194.8L353.8 198.2M357 194.8L357 198.2M360.2 194.8L360.2 198.2M363.4 194.8L363.4 198.2M369.9 194.8L369.9 198.2M373.1 194.8L373.1 198.2M376.3 194.8L376.3 198.2M379.5 194.8L379.5 198.2M382.7 194.8L382.7 198.2M385.9 194.8L385.9 198.2M389.1 194.8L389.1 198.2M392.3 194.8L392.3 198.2M395.5 194.8L395.5 198.2M398.7 194.8L398.7 198.2M405.2 194.8L405.2 198.2M408.4 194.8L408.4 198.2M411.6 194.8L411.6 198.2M414.8 194.8L414.8 198.2M418 194.8L418 198.2M421.2 194.8L421.2 198.2M424.4 194.8L424.4 198.2M427.6 194.8L427.6 198.2M430.8 194.8L430.8 198.2M434.1 194.8L434.1 198.2M437.3 194.8L437.3 198.2M440.5 194.8L440.5 198.2M443.7 194.8L443.7 198.2M446.9 194.8L446.9 198.2M450.1 194.8L450.1 198.2M453.3 194.8L453.3 198.2M459.7 194.8L459.7 198.2M462.9 194.8L462.9 198.2M466.2 194.8L466.2 198.2M469.4 194.8L469.4 198.2M475.8 194.8L475.8 198.2M479 194.8L479 198.2M482.2 194.8L482.2 198.2M485.4 194.8L485.4 198.2M488.6 194.8L488.6 198.2M491.8 194.8L491.8 198.2M495 194.8L495 198.2M498.3 194.8L498.3 198.2M501.5 194.8L501.5 198.2M504.7 194.8L504.7 198.2M511.1 194.8L511.1 198.2M514.3 194.8L514.3 198.2M517.5 194.8L517.5 198.2M520.7 194.8L520.7 198.2M523.9 194.8L523.9 198.2M527.1 194.8L527.1 198.2M533.6 194.8L533.6 198.2M536.8 194.8L536.8 198.2M540 194.8L540 198.2M549.6 194.8L549.6 198.2M318.5 201.2L318.5 204.6M321.7 201.2L321.7 204.6M324.9 201.2L324.9 204.6M328.1 201.2L328.1 204.6M331.3 201.2L331.3 204.6M334.5 201.2L334.5 204.6M341 201.2L341 204.6M344.2 201.2L344.2 204.6M347.4 201.2L347.4 204.6M350.6 201.2L350.6 204.6M353.8 201.2L353.8 204.6M357 201.2L357 204.6M360.2 201.2L360.2 204.6M363.4 201.2L363.4 204.6M366.6 201.2L366.6 204.6M373.1 201.2L373.1 204.6M379.5 201.2L379.5 204.6M382.7 201.2L382.7 204.6M385.9 201.2L385.9 204.6M389.1 201.2L389.1 204.6M392.3 201.2L392.3 204.6M395.5 201.2L395.5 204.6M402 201.2L402 204.6M405.2 201.2L405.2 204.6M408.4 201.2L408.4 204.6M411.6 201.2L411.6 204.6M414.8 201.2L414.8 204.6M418 201.2L418 204.6" stroke="#c4c8cf" stroke-width="0.6" fill="none"/>
<path d="M325.1 96.5L324.4 97.4M324.4 97.4L323.5 98M323.5 98L321.5 98.4M321.5 98.4L320 96.7M320 96.7L319.4 95.9M319.4 95.9L320.7 94.7M320.7 94.7L321.4 93.3M321.4 93.3L323.8 92.7M323.8 92.7L324.9 93.5M324.9 93.5L325.1 96.5M352.3 95.9L352.8 96.9M352.8 96.9L350.7 97.8M350.7 97.8L350 97.7M350 97.7L348.3 96.8M348.3 96.8L347.4 94.7M347.4 94.7L347.1 94.2M347.1 94.2L348.6 92.9M348.6 92.9L350.5 92.4M350.5 92.4L352.7 93.9M352.7 93.9L352.3 95.9M362.5 96.2L361.8 97.1M361.8 97.1L360.5 98.7M360.5 98.7L358.3 99.3M358.3 99.3L358.2 98.1M358.2 98.1L356.6 95.5M356.6 95.5L357.6 95.3M357.6 95.3L359.2 93.5M359.2 93.5L361.3 93.7M361.3 93.7L361.9 94.5M361.9 94.5L362.5 96.2M373.3 94.7L372.9 97.3M372.9 97.3L370.1 97.6M370.1 97.6L368.5 98.4M368.5 98.4L367.2 96.7M367.2 96.7L367 96.1M367 96.1L368 93.3M368 93.3L368.7 93M368.7 93L371.4 92.9M371.4 92.9L371.6 93.3M371.6 93.3L373.3 94.7M377.9 94L377.9 96.5M377.9 96.5L377.6 97.4M377.6 97.4L374.2 96.9M374.2 96.9L373.2 95.7M373.2 95.7L373.3 94.4M373.3 94.4L374.3 92.7M374.3 92.7L374.9 91.1M374.9 91.1L376.1 92.4M376.1 92.4L378.3 92.5M378.3 92.5L377.9 94M396.4 94.1L394.7 96.5M394.7 96.5L393.1 97.8M393.1 97.8L392 96.8M392 96.8L391.1 95.8M391.1 95.8L390.2 94.9M390.2 94.9L390.6 93.6M390.6 93.6L391.6 92.1M391.6 92.1L393.3 90.9M393.3 90.9L395.3 92.8M395.3 92.8L396.4 94.1M441.7 95.6L440.7 96.4M440.7 96.4L439.7 98.2M439.7 98.2L437.8 98.4M437.8 98.4L436 96M436 96L436.1 94.3M436.1 94.3L435.8 93.9M435.8 93.9L436.4 92M436.4 92L439.3 92.1M439.3 92.1L440.4 92.8M440.4 92.8L441.7 95.6M450.5 96.2L451.3 97.8M451.3 97.8L449.1 98.4M449.1 98.4L446.3 98.9M446.3 98.9L445.9 98.7M445.9 98.7L444.8 96.3M444.8 96.3L446.1 94.6M446.1 94.6L446.9 93.7M446.9 93.7L449.5 93.7M449.5 93.7L450.3 93.7M450.3 93.7L450.5 96.2M459.4 94.2L458.5 96.9M458.5 96.9L457 97.5M457 97.5L454.8 97.2M454.8 97.2L454.1 97.2M454.1 97.2L454.1 94.8M454.1 94.8L454.1 92.6M454.1 92.6L454.7 92.2M454.7 92.2L456.4 91.9M456.4 91.9L458.6 92M458.6 92L459.4 94.2M468.9 94.6L469.6 96.5M469.6 96.5L467.8 98.1M467.8 98.1L465.4 97.3M465.4 97.3L464.3 96.3M464.3 96.3L464.2 95.1M464.2 95.1L464.6 92.9M464.6 92.9L465.3 92.9M465.3 92.9L467.8 92.3M467.8 92.3L469.2 94.4M469.2 94.4L468.9 94.6M479.2 96L478.9 97.6M478.9 97.6L478.3 97.6M478.3 97.6L475 98.3M475 98.3L473.9 96.5M473.9 96.5L473.9 94.6M473.9 94.6L475.3 93.9M475.3 93.9L476.2 93M476.2 93L478.5 92.5M478.5 92.5L479.3 94.1M479.3 94.1L479.2 96M525.2 96.5L524.2 97.4M524.2 97.4L522.4 98.8M522.4 98.8L520.5 98.1M520.5 98.1L519.3 97.5M519.3 97.5L519.5 96.2M519.5 96.2L519.7 93.3M519.7 93.3L520 92.7M520 92.7L522.2 92.2M522.2 92.2L523.4 93.3M523.4 93.3L525.2 96.5M533.7 96.9L533.8 98.1M533.8 98.1L532.6 99.4M532.6 99.4L529.7 98.3M529.7 98.3L529.1 98.7M529.1 98.7L528.7 96.9M528.7 96.9L528.7 94.5M528.7 94.5L530.2 93.9M530.2 93.9L531.9 93.8M531.9 93.8L534 95.1M534 95.1L533.7 96.9M541.4 95.5L541.9 96.7M541.9 96.7L540 97M540 97L538.7 97.9M538.7 97.9L537.5 96.9M537.5 96.9L535.9 94.4M535.9 94.4L536.4 92.9M536.4 92.9L538.9 91.4M538.9 91.4L539.3 91.6M539.3 91.6L540.9 93.1M540.9 93.1L541.4 95.5M562 95L560.7 96.7M560.7 96.7L560.2 98M560.2 98L558.1 98M558.1 98L556.1 97.3M556.1 97.3L556 95.7M556 95.7L556.2 93.8M556.2 93.8L558 92.8M558 92.8L558.5 92.7M558.5 92.7L560.2 93.3M560.2 93.3L562 95M351.6 99.5L350.8 101.8M350.8 101.8L349.3 101.7M349.3 101.7L347.9 100.6M347.9 100.6L348.7 98.2M348.7 98.2L350.9 98.7M350.9 98.7L351.6 99.5M362.4 99.8L361 102.3M361 102.3L359.1 102M359.1 102L357.9 100.2M357.9 100.2L359.2 97.7M359.2 97.7L360.6 98.1M360.6 98.1L362.4 99.8M333.7 116.3L333.1 118.2M333.1 118.2L330.8 119.5M330.8 119.5L329.2 118.4M329.2 118.4L328.6 117.1M328.6 117.1L328.9 115.3M328.9 115.3L330.2 113.2M330.2 113.2L331.9 113.5M331.9 113.5L332.6 114.8M332.6 114.8L333.7 116.3M359.8 116.5L359.3 117.5M359.3 117.5L357.5 118.7M357.5 118.7L356.1 118.3M356.1 118.3L355.1 117.9M355.1 117.9L355.1 114.6M355.1 114.6L356.5 113.9M356.5 113.9L358.4 114M358.4 114L359.1 114.3M359.1 114.3L359.8 116.5M382.3 116L381.8 116.8M381.8 116.8L380.6 118.1M380.6 118.1L378.1 117.8M378.1 117.8L377.2 116.5M377.2 116.5L377 114.4M377 114.4L378.1 113.1M378.1 113.1L380.2 113.8M380.2 113.8L381.1 113.6M381.1 113.6L382.3 116M393.6 115L392.9 117.5M392.9 117.5L392.1 118.3M392.1 118.3L388.7 118M388.7 118L388.8 116M388.8 116L387.9 114.3M387.9 114.3L389.9 112.5M389.9 112.5L391.6 113.4M391.6 113.4L393.1 114.2M393.1 114.2L393.6 115M433.5 116.5L432.8 118.1M432.8 118.1L430.6 118.2M430.6 118.2L429.8 119.2M429.8 119.2L428 116.5M428 116.5L427.6 115.7M427.6 115.7L429.7 113.2M429.7 113.2L430.8 113.3M430.8 113.3L432.8 113.6M432.8 113.6L433.5 116.5M441.7 115.4L441.4 116.6M441.4 116.6L439.2 117.9M439.2 117.9L438.7 116.8M438.7 116.8L436.4 115.3M436.4 115.3L436.8 113.9M436.8 113.9L437.7 113.4M437.7 113.4L439.9 112.3M439.9 112.3L440.8 113.5M440.8 113.5L441.7 115.4M450.3 113.7L448.5 116.3M448.5 116.3L447.9 117.8M447.9 117.8L446.1 116.4M446.1 116.4L444.7 114.8M444.7 114.8L444.7 113.1M444.7 113.1L446.2 112.8M446.2 112.8L447.7 112M447.7 112L449.6 113.1M449.6 113.1L450.3 113.7M457.6 116.1L456.7 117.7M456.7 117.7L455 118.5M455 118.5L453.5 117.6M453.5 117.6L452.6 116.9M452.6 116.9L453.1 114.3M453.1 114.3L454.1 113.9M454.1 113.9L455.3 113.4M455.3 113.4L458 114.4M458 114.4L457.6 116.1M493.2 116.4L491.6 117.1M491.6 117.1L490.5 117.8M490.5 117.8L488.2 118.2M488.2 118.2L487.3 116.4M487.3 116.4L487.8 115.3M487.8 115.3L488.7 112.9M488.7 112.9L490.7 112.7M490.7 112.7L491.8 114M491.8 114L493.2 116.4M502.6 116.2L502.6 118M502.6 118L500.7 118.1M500.7 118.1L498.8 118.4M498.8 118.4L498 117.8M498 117.8L497.4 114.8M497.4 114.8L499.2 113.2M499.2 113.2L501.5 113.8M501.5 113.8L502.8 114.3M502.8 114.3L502.6 116.2M513.8 114L512.9 116M512.9 116L512.1 117.3M512.1 117.3L510.6 117.5M510.6 117.5L508.8 114.9M508.8 114.9L509.3 114.1M509.3 114.1L510.7 112.6M510.7 112.6L512.1 112.2M512.1 112.2L514 113.5M514 113.5L513.8 114M521.8 114.7L521.4 116.8M521.4 116.8L520.6 117.8M520.6 117.8L518 117.4M518 117.4L517.3 116.9M517.3 116.9L516.8 113.5M516.8 113.5L518.9 112.2M518.9 112.2L520.9 112.6M520.9 112.6L521.6 113.6M521.6 113.6L521.8 114.7M531 115L530.1 116.3M530.1 116.3L528 117.7M528 117.7L526.4 117.1M526.4 117.1L525.9 115.5M525.9 115.5L525 113.9M525 113.9L526.4 113.7M526.4 113.7L527.8 112.5M527.8 112.5L529.9 114.1M529.9 114.1L531 115M538.1 116.5L538.3 118.1M538.3 118.1L537.1 118.4M537.1 118.4L534.4 118.3M534.4 118.3L533 116.6M533 116.6L534.1 115.6M534.1 115.6L534.8 113.3M534.8 113.3L536.9 113.6M536.9 113.6L538.9 114.7M538.9 114.7L538.1 116.5M548.2 115.1L547.3 116.2M547.3 116.2L545.6 117.4M545.6 117.4L544.8 117.3M544.8 117.3L543 115.8M543 115.8L542.7 114.1M542.7 114.1L544.4 112.8M544.4 112.8L545.5 112.3M545.5 112.3L547.2 112.6M547.2 112.6L548.2 115.1M555.5 116.4L554.9 118.4M554.9 118.4L553.1 118.8M553.1 118.8L552.1 118M552.1 118L550.8 116.4M550.8 116.4L550.9 115.1M550.9 115.1L552.1 114M552.1 114L553.8 113.2M553.8 113.2L554.6 114.6M554.6 114.6L555.5 116.4M323.2 131.6L323 133.6M323 133.6L321.5 134.9M321.5 134.9L319.5 134.7M319.5 134.7L318.2 133.2M318.2 133.2L318.4 131.2M318.4 131.2L319.9 129.9M319.9 129.9L321.9 130.1M321.9 130.1L323.2 131.6M326.5 134L326 132.1M326 132.1L327 130.3M327 130.3L328.9 129.8M328.9 129.8L330.7 130.8M330.7 130.8L331.2 132.7M331.2 132.7L330.2 134.5M330.2 134.5L328.3 135M328.3 135L326.5 134M345 129.9L346.6 131.1M346.6 131.1L346.9 133M346.9 133L345.7 134.6M345.7 134.6L343.8 134.9M343.8 134.9L342.2 133.7M342.2 133.7L341.9 131.8M341.9 131.8L343.1 130.2M343.1 130.2L345 129.9M370.1 134.1L368.3 135M368.3 135L366.4 134.4M366.4 134.4L365.5 132.6M365.5 132.6L366.1 130.7M366.1 130.7L367.9 129.8M367.9 129.8L369.8 130.4M369.8 130.4L370.7 132.2M370.7 132.2L370.1 134.1M398.6 130L400.6 130M400.6 130L402.1 131.3M402.1 131.3L402.1 133.3M402.1 133.3L400.8 134.8M400.8 134.8L398.8 134.8M398.8 134.8L397.3 133.5M397.3 133.5L397.3 131.5M397.3 131.5L398.6 130M408.8 134.7L406.8 134.9M406.8 134.9L405.3 133.6M405.3 133.6L405.1 131.6M405.1 131.6L406.4 130.1M406.4 130.1L408.4 129.9M408.4 129.9L409.9 131.2M409.9 131.2L410.1 133.2M410.1 133.2L408.8 134.7M416.4 130L417.9 131.4M417.9 131.4L417.9 133.3M417.9 133.3L416.5 134.8M416.5 134.8L414.6 134.8M414.6 134.8L413.1 133.4M413.1 133.4L413.1 131.5M413.1 131.5L414.5 130M414.5 130L416.4 130M423.1 135L421.4 134M421.4 134L420.8 132.1M420.8 132.1L421.8 130.4M421.8 130.4L423.7 129.8M423.7 129.8L425.4 130.8M425.4 130.8L426 132.7M426 132.7L425 134.4M425 134.4L423.1 135M428.9 133.5L428.9 131.5M428.9 131.5L430.2 130M430.2 130L432.2 130M432.2 130L433.7 131.3M433.7 131.3L433.7 133.3M433.7 133.3L432.4 134.8M432.4 134.8L430.4 134.8M430.4 134.8L428.9 133.5M441.1 134.2L439.3 135M439.3 135L437.4 134.3M437.4 134.3L436.6 132.5M436.6 132.5L437.3 130.6M437.3 130.6L439.1 129.8M439.1 129.8L441 130.5M441 130.5L441.8 132.3M441.8 132.3L441.1 134.2M444.8 133.7L444.6 131.7M444.6 131.7L445.8 130.1M445.8 130.1L447.8 129.9M447.8 129.9L449.4 131.1M449.4 131.1L449.6 133.1M449.6 133.1L448.4 134.7M448.4 134.7L446.4 134.9M446.4 134.9L444.8 133.7M456.9 130.6L457.6 132.5M457.6 132.5L456.8 134.3M456.8 134.3L454.9 135M454.9 135L453.1 134.2M453.1 134.2L452.4 132.3M452.4 132.3L453.2 130.5M453.2 130.5L455.1 129.8M455.1 129.8L456.9 130.6M462.3 129.9L464.3 130.2M464.3 130.2L465.4 131.8M465.4 131.8L465.1 133.8M465.1 133.8L463.5 134.9M463.5 134.9L461.5 134.6M461.5 134.6L460.4 133M460.4 133L460.7 131M460.7 131L462.3 129.9M470.3 135L468.6 133.9M468.6 133.9L468.2 131.9M468.2 131.9L469.3 130.2M469.3 130.2L471.3 129.8M471.3 129.8L473 130.9M473 130.9L473.4 132.9M473.4 132.9L472.3 134.6M472.3 134.6L470.3 135M479.2 129.9L480.9 131M480.9 131L481.2 132.9M481.2 132.9L480.1 134.6M480.1 134.6L478.2 134.9M478.2 134.9L476.5 133.8M476.5 133.8L476.2 131.9M476.2 131.9L477.3 130.2M477.3 130.2L479.2 129.9M484.3 131.1L485.9 129.9M485.9 129.9L487.9 130.1M487.9 130.1L489.1 131.7M489.1 131.7L488.9 133.7M488.9 133.7L487.3 134.9M487.3 134.9L485.3 134.7M485.3 134.7L484.1 133.1M484.1 133.1L484.3 131.1M494 129.8L496 130.3M496 130.3L497.1 131.9M497.1 131.9L496.6 133.9M496.6 133.9L495 135M495 135L493 134.5M493 134.5L491.9 132.9M491.9 132.9L492.4 130.9M492.4 130.9L494 129.8M504 134.4L502.1 135M502.1 135L500.4 134M500.4 134L499.8 132.1M499.8 132.1L500.8 130.4M500.8 130.4L502.7 129.8M502.7 129.8L504.4 130.8M504.4 130.8L505 132.7M505 132.7L504 134.4M524.4 134.4L523.5 132.6M523.5 132.6L524.1 130.7M524.1 130.7L525.9 129.8M525.9 129.8L527.8 130.4M527.8 130.4L528.7 132.2M528.7 132.2L528.1 134.1M528.1 134.1L526.3 135M526.3 135L524.4 134.4M535.6 130.4L536.6 132.1M536.6 132.1L536 134M536 134L534.3 135M534.3 135L532.4 134.4M532.4 134.4L531.4 132.7M531.4 132.7L532 130.8M532 130.8L533.7 129.8M533.7 129.8L535.6 130.4M540.3 130.4L542.2 129.8M542.2 129.8L543.9 130.8M543.9 130.8L544.5 132.7M544.5 132.7L543.5 134.4M543.5 134.4L541.6 135M541.6 135L539.9 134M539.9 134L539.3 132.1M539.3 132.1L540.3 130.4M555.3 133.4L555.3 131.4M555.3 131.4L556.7 130M556.7 130L558.7 130M558.7 130L560.1 131.4M560.1 131.4L560.1 133.4M560.1 133.4L558.7 134.8M558.7 134.8L556.7 134.8M556.7 134.8L555.3 133.4" stroke="#c4c8cf" stroke-width="0.5" fill="none"/>
<path d="M337.8 96L340 95.4M337.8 96L340.4 97.7M337.8 96L339.2 98.3M337.8 96L337.5 99.4M337.8 96L335.9 98.4M337.8 96L334.7 96.3M337.8 96L334.8 94.4M337.8 96L337.7 92.7M337.8 96L338.7 93.7M337.8 96L340.8 94.9M384.3 95.2L386.9 95.8M384.3 95.2L387.1 96.4M384.3 95.2L385.9 97.5M384.3 95.2L383.9 98.5M384.3 95.2L381.4 96.8M384.3 95.2L381.4 95.2M384.3 95.2L382.4 93.9M384.3 95.2L384.1 92.8M384.3 95.2L385.4 93.2M384.3 95.2L386.4 94.3M404.2 94.9L407.6 94.2M404.2 94.9L405.7 96.6M404.2 94.9L405 97.8M404.2 94.9L404.1 98.3M404.2 94.9L401.5 95.9M404.2 94.9L402.1 95.5M404.2 94.9L401.7 92.4M404.2 94.9L402.9 92.5M404.2 94.9L405.4 92.8M404.2 94.9L406.8 93.1M413.7 94.9L416.7 94.4M413.7 94.9L416.2 96.8M413.7 94.9L414.9 97.9M413.7 94.9L412.5 97.5M413.7 94.9L411.7 95.9M413.7 94.9L410.3 93.9M413.7 94.9L410.9 92.7M413.7 94.9L413.2 91.4M413.7 94.9L415.6 91.9M413.7 94.9L415.2 93.2M423.2 95.9L425.4 95.7M423.2 95.9L426 97.8M423.2 95.9L423.3 99M423.2 95.9L421.5 98.7M423.2 95.9L421.5 97.6M423.2 95.9L419.9 96.6M423.2 95.9L420.9 93.8M423.2 95.9L421.7 93.1M423.2 95.9L424.4 94M423.2 95.9L425.1 94.2M428.9 94.6L432 95.4M428.9 94.6L431.1 96.7M428.9 94.6L430.1 97.3M428.9 94.6L427.7 96.6M428.9 94.6L426.4 96.8M428.9 94.6L426.2 94.3M428.9 94.6L427.3 93M428.9 94.6L428.3 91.3M428.9 94.6L430.1 91.5M428.9 94.6L430.8 92.6M485 95.1L487.9 94.5M485 95.1L486.7 96.8M485 95.1L485.4 98.5M485 95.1L484.6 98.2M485 95.1L482.9 96.9M485 95.1L481.8 94.9M485 95.1L483 94M485 95.1L484.7 92.8M485 95.1L485.2 92.5M485 95.1L487.3 94.1M494.2 96.3L497.3 96.9M494.2 96.3L496.9 98.2M494.2 96.3L496 99.1M494.2 96.3L493.7 98.7M494.2 96.3L492 99.1M494.2 96.3L492 95.9M494.2 96.3L492.5 94.4M494.2 96.3L494 93.2M494.2 96.3L495.2 93.6M494.2 96.3L496.3 94.9M503.4 94.6L506.4 94.7M503.4 94.6L505.4 96.7M503.4 94.6L504.5 97.1M503.4 94.6L503 97.2M503.4 94.6L500.9 96.8M503.4 94.6L501 94M503.4 94.6L501.6 93.2M503.4 94.6L503.3 91.5M503.4 94.6L504.3 91.3M503.4 94.6L505.1 92.7M512.6 95.9L515.3 95.6M512.6 95.9L514.4 98.2M512.6 95.9L513.7 97.8M512.6 95.9L512.3 99M512.6 95.9L509.7 97.7M512.6 95.9L510.5 95.4M512.6 95.9L510.5 94.7M512.6 95.9L512.5 93.2M512.6 95.9L513.8 93.5M512.6 95.9L514.5 94.3M549.3 94.7L551.9 95.3M549.3 94.7L551.8 96.6M549.3 94.7L549.8 97.1M549.3 94.7L548.1 97.4M549.3 94.7L546.5 96.5M549.3 94.7L546.1 94.6M549.3 94.7L546.2 93.1M549.3 94.7L549.2 91.3M549.3 94.7L549.6 91.5M549.3 94.7L552.3 93.3M337 103L339.4 103.6M337 103L338.6 104.7M337 103L336.4 104.8M337 103L335 103.4M337 103L336 101.6M337 103L337.7 100.9M384.5 104L386.5 104.2M384.5 104L385.5 105.5M384.5 104L383.1 106.1M384.5 104L381.9 104M384.5 104L383.6 102.4M384.5 104L385.9 102.1M386 109L388.1 108.5M386 109L386.7 110.6M386 109L384.8 110.2M386 109L384.3 108.5M386 109L384.7 107M386 109L386.8 107.5M496 102L498.2 101.9M496 102L497.4 103.3M496 102L494.9 103.5M496 102L494.3 102.1M496 102L494.9 99.9M496 102L497 100.4M497 107L498.6 106.8M497 107L498.7 108.9M497 107L495.2 108.7M497 107L495.4 107.3M497 107L495.6 105.4M497 107L498.6 105.3M321.6 114.8L324.2 115.4M321.6 114.8L323.8 116.1M321.6 114.8L321.9 117.3M321.6 114.8L320.8 117M321.6 114.8L319.5 115.9M321.6 114.8L318.9 113.6M321.6 114.8L320.5 111.8M321.6 114.8L322.4 112.7M321.6 114.8L323.5 113.4M339.7 115L343 115.2M339.7 115L341.4 116.2M339.7 115L340 117.3M339.7 115L338.8 117.8M339.7 115L337.1 116M339.7 115L336.8 114.3M339.7 115L338.4 112.8M339.7 115L340.4 112.6M339.7 115L342.2 113.2M348.8 115.5L351.6 114.7M348.8 115.5L351 117.4M348.8 115.5L348.9 118M348.8 115.5L347.4 118.3M348.8 115.5L345.7 116.5M348.8 115.5L345.6 115M348.8 115.5L346.8 113.5M348.8 115.5L349.5 113.1M348.8 115.5L351.4 113.9M365.9 115.9L368 115.8M365.9 115.9L368 117.9M365.9 115.9L366.7 118.1M365.9 115.9L365.2 118.1M365.9 115.9L363.2 116.1M365.9 115.9L363.2 114.1M365.9 115.9L364.3 113.4M365.9 115.9L365.9 112.7M365.9 115.9L367.6 114.8M402.3 116.4L404.7 116.4M402.3 116.4L404 118.3M402.3 116.4L402.4 118.4M402.3 116.4L401.5 118.8M402.3 116.4L400.1 116.6M402.3 116.4L400 115.9M402.3 116.4L401.3 113.6M402.3 116.4L402.9 113.3M402.3 116.4L403.6 114.8M413.7 115.8L415.6 116.4M413.7 115.8L415.6 118.3M413.7 115.8L414.7 118M413.7 115.8L412.3 117.3M413.7 115.8L411.3 116.1M413.7 115.8L410.8 115M413.7 115.8L412.7 114M413.7 115.8L413.7 113.3M413.7 115.8L415.1 114.2M423.2 115.6L425.3 116.1M423.2 115.6L425.3 118M423.2 115.6L424.3 117.8M423.2 115.6L422.6 117.5M423.2 115.6L420.2 116.9M423.2 115.6L420.2 115.2M423.2 115.6L422.2 113.2M423.2 115.6L423.9 113.7M423.2 115.6L425.2 114.4M464.5 114.9L466.4 114.4M464.5 114.9L466.2 116.7M464.5 114.9L464.9 117.1M464.5 114.9L463.5 117.7M464.5 114.9L462.5 115.9M464.5 114.9L462.4 113.8M464.5 114.9L463.6 112M464.5 114.9L464.4 112.7M464.5 114.9L466.7 114M473.7 115.2L476.2 115.9M473.7 115.2L475.4 116.6M473.7 115.2L474.1 117.4M473.7 115.2L472.1 116.8M473.7 115.2L470.6 115.7M473.7 115.2L471.4 113.9M473.7 115.2L473.1 113.3M473.7 115.2L473.5 112.1M473.7 115.2L475.3 114.1M481.9 115.8L484.3 115.4M481.9 115.8L484.5 117.1M481.9 115.8L482.3 118.7M481.9 115.8L481.1 117.6M481.9 115.8L479.7 117.3M481.9 115.8L478.7 115.1M481.9 115.8L480.1 113.8M481.9 115.8L482.1 113.4M481.9 115.8L484.1 114.7M562.6 116.1L565.5 116.5M562.6 116.1L564.5 118.6M562.6 116.1L563.6 118.3M562.6 116.1L561.9 119.1M562.6 116.1L559.8 116.8M562.6 116.1L560.5 115.1M562.6 116.1L560.9 113.7M562.6 116.1L562.5 114.1M562.6 116.1L564.7 114.6M569.8 115.4L572.8 115.5M569.8 115.4L571.5 117.9M569.8 115.4L570.3 117.7M569.8 115.4L568.4 116.8M569.8 115.4L567.5 116.1M569.8 115.4L567.2 114.7M569.8 115.4L567.8 112.7M569.8 115.4L570.9 112.7M569.8 115.4L572.2 114.2M405 120L407.1 119.9M405 120L405.6 121.3M405 120L403.6 121.3M405 120L403.4 119.2M405 120L405.1 118.4M409 124L410.6 124.3M409 124L410 125.6M409 124L407.5 124.7M409 124L407.4 122.8M409 124L409.7 122.5M412 127L413.6 126.7M412 127L412.7 128.2M412 127L410.8 128.5M412 127L410.2 126M412 127L412.3 125.4M352 121L353.7 120.5M352 121L352.5 122.3M352 121L350.7 121.5M352 121L350.8 120M352 121L352.1 118.9M363 123L364.9 123.3M363 123L363.5 124.9M363 123L361.5 124.5M363 123L361.7 121.9M363 123L363.2 121.6M324.9 174.9L324.9 178.3M331.3 174.9L331.3 178.3M341 174.9L341 178.3M350.6 174.9L350.6 178.3M366.6 174.9L366.6 178.3M373.1 174.9L373.1 178.3M395.5 174.9L395.5 178.3M411.6 174.9L411.6 178.3M437.3 174.9L437.3 178.3M446.9 174.9L446.9 178.3M456.5 174.9L456.5 178.3M462.9 174.9L462.9 178.3M475.8 174.9L475.8 178.3M479 174.9L479 178.3M485.4 174.9L485.4 178.3M488.6 174.9L488.6 178.3M507.9 174.9L507.9 178.3M514.3 174.9L514.3 178.3M523.9 174.9L523.9 178.3M533.6 174.9L533.6 178.3M546.4 174.9L546.4 178.3M562.5 174.9L562.5 178.3M331.3 181.4L331.3 184.8M357 181.4L357 184.8M379.5 181.4L379.5 184.8M385.9 181.4L385.9 184.8M392.3 181.4L392.3 184.8M440.5 181.4L440.5 184.8M450.1 181.4L450.1 184.8M456.5 181.4L456.5 184.8M469.4 181.4L469.4 184.8M472.6 181.4L472.6 184.8M491.8 181.4L491.8 184.8M498.3 181.4L498.3 184.8M501.5 181.4L501.5 184.8M511.1 181.4L511.1 184.8M530.4 181.4L530.4 184.8M546.4 181.4L546.4 184.8M549.6 181.4L549.6 184.8M556 181.4L556 184.8M562.5 181.4L562.5 184.8M324.9 187.8L324.9 191.2M328.1 187.8L328.1 191.2M341 187.8L341 191.2M357 187.8L357 191.2M379.5 187.8L379.5 191.2M398.7 187.8L398.7 191.2M414.8 187.8L414.8 191.2M443.7 187.8L443.7 191.2M459.7 187.8L459.7 191.2M472.6 187.8L472.6 191.2M485.4 187.8L485.4 191.2M498.3 187.8L498.3 191.2M517.5 187.8L517.5 191.2M536.8 187.8L536.8 191.2M540 187.8L540 191.2M341 194.8L341 198.2M344.2 194.8L344.2 198.2M350.6 194.8L350.6 198.2M366.6 194.8L366.6 198.2M402 194.8L402 198.2M456.5 194.8L456.5 198.2M472.6 194.8L472.6 198.2M507.9 194.8L507.9 198.2M530.4 194.8L530.4 198.2M543.2 194.8L543.2 198.2M546.4 194.8L546.4 198.2M552.8 194.8L552.8 198.2M556 194.8L556 198.2M559.2 194.8L559.2 198.2M562.5 194.8L562.5 198.2M337.8 201.2L337.8 204.6M369.9 201.2L369.9 204.6M376.3 201.2L376.3 204.6M398.7 201.2L398.7 204.6" stroke="#d9c4bb" stroke-width="0.6" fill="none"/>
<path d="M340 95.4L340.4 97.7M340.4 97.7L339.2 98.3M339.2 98.3L337.5 99.4M337.5 99.4L335.9 98.4M335.9 98.4L334.7 96.3M334.7 96.3L334.8 94.4M334.8 94.4L337.7 92.7M337.7 92.7L338.7 93.7M338.7 93.7L340.8 94.9M340.8 94.9L340 95.4M386.9 95.8L387.1 96.4M387.1 96.4L385.9 97.5M385.9 97.5L383.9 98.5M383.9 98.5L381.4 96.8M381.4 96.8L381.4 95.2M381.4 95.2L382.4 93.9M382.4 93.9L384.1 92.8M384.1 92.8L385.4 93.2M385.4 93.2L386.4 94.3M386.4 94.3L386.9 95.8M407.6 94.2L405.7 96.6M405.7 96.6L405 97.8M405 97.8L404.1 98.3M404.1 98.3L401.5 95.9M401.5 95.9L402.1 95.5M402.1 95.5L401.7 92.4M401.7 92.4L402.9 92.5M402.9 92.5L405.4 92.8M405.4 92.8L406.8 93.1M406.8 93.1L407.6 94.2M416.7 94.4L416.2 96.8M416.2 96.8L414.9 97.9M414.9 97.9L412.5 97.5M412.5 97.5L411.7 95.9M411.7 95.9L410.3 93.9M410.3 93.9L410.9 92.7M410.9 92.7L413.2 91.4M413.2 91.4L415.6 91.9M415.6 91.9L415.2 93.2M415.2 93.2L416.7 94.4M425.4 95.7L426 97.8M426 97.8L423.3 99M423.3 99L421.5 98.7M421.5 98.7L421.5 97.6M421.5 97.6L419.9 96.6M419.9 96.6L420.9 93.8M420.9 93.8L421.7 93.1M421.7 93.1L424.4 94M424.4 94L425.1 94.2M425.1 94.2L425.4 95.7M432 95.4L431.1 96.7M431.1 96.7L430.1 97.3M430.1 97.3L427.7 96.6M427.7 96.6L426.4 96.8M426.4 96.8L426.2 94.3M426.2 94.3L427.3 93M427.3 93L428.3 91.3M428.3 91.3L430.1 91.5M430.1 91.5L430.8 92.6M430.8 92.6L432 95.4M487.9 94.5L486.7 96.8M486.7 96.8L485.4 98.5M485.4 98.5L484.6 98.2M484.6 98.2L482.9 96.9M482.9 96.9L481.8 94.9M481.8 94.9L483 94M483 94L484.7 92.8M484.7 92.8L485.2 92.5M485.2 92.5L487.3 94.1M487.3 94.1L487.9 94.5M497.3 96.9L496.9 98.2M496.9 98.2L496 99.1M496 99.1L493.7 98.7M493.7 98.7L492 99.1M492 99.1L492 95.9M492 95.9L492.5 94.4M492.5 94.4L494 93.2M494 93.2L495.2 93.6M495.2 93.6L496.3 94.9M496.3 94.9L497.3 96.9M506.4 94.7L505.4 96.7M505.4 96.7L504.5 97.1M504.5 97.1L503 97.2M503 97.2L500.9 96.8M500.9 96.8L501 94M501 94L501.6 93.2M501.6 93.2L503.3 91.5M503.3 91.5L504.3 91.3M504.3 91.3L505.1 92.7M505.1 92.7L506.4 94.7M515.3 95.6L514.4 98.2M514.4 98.2L513.7 97.8M513.7 97.8L512.3 99M512.3 99L509.7 97.7M509.7 97.7L510.5 95.4M510.5 95.4L510.5 94.7M510.5 94.7L512.5 93.2M512.5 93.2L513.8 93.5M513.8 93.5L514.5 94.3M514.5 94.3L515.3 95.6M551.9 95.3L551.8 96.6M551.8 96.6L549.8 97.1M549.8 97.1L548.1 97.4M548.1 97.4L546.5 96.5M546.5 96.5L546.1 94.6M546.1 94.6L546.2 93.1M546.2 93.1L549.2 91.3M549.2 91.3L549.6 91.5M549.6 91.5L552.3 93.3M552.3 93.3L551.9 95.3M339.4 103.6L338.6 104.7M338.6 104.7L336.4 104.8M336.4 104.8L335 103.4M335 103.4L336 101.6M336 101.6L337.7 100.9M337.7 100.9L339.4 103.6M386.5 104.2L385.5 105.5M385.5 105.5L383.1 106.1M383.1 106.1L381.9 104M381.9 104L383.6 102.4M383.6 102.4L385.9 102.1M385.9 102.1L386.5 104.2M388.1 108.5L386.7 110.6M386.7 110.6L384.8 110.2M384.8 110.2L384.3 108.5M384.3 108.5L384.7 107M384.7 107L386.8 107.5M386.8 107.5L388.1 108.5M498.2 101.9L497.4 103.3M497.4 103.3L494.9 103.5M494.9 103.5L494.3 102.1M494.3 102.1L494.9 99.9M494.9 99.9L497 100.4M497 100.4L498.2 101.9M498.6 106.8L498.7 108.9M498.7 108.9L495.2 108.7M495.2 108.7L495.4 107.3M495.4 107.3L495.6 105.4M495.6 105.4L498.6 105.3M498.6 105.3L498.6 106.8M324.2 115.4L323.8 116.1M323.8 116.1L321.9 117.3M321.9 117.3L320.8 117M320.8 117L319.5 115.9M319.5 115.9L318.9 113.6M318.9 113.6L320.5 111.8M320.5 111.8L322.4 112.7M322.4 112.7L323.5 113.4M323.5 113.4L324.2 115.4M343 115.2L341.4 116.2M341.4 116.2L340 117.3M340 117.3L338.8 117.8M338.8 117.8L337.1 116M337.1 116L336.8 114.3M336.8 114.3L338.4 112.8M338.4 112.8L340.4 112.6M340.4 112.6L342.2 113.2M342.2 113.2L343 115.2M351.6 114.7L351 117.4M351 117.4L348.9 118M348.9 118L347.4 118.3M347.4 118.3L345.7 116.5M345.7 116.5L345.6 115M345.6 115L346.8 113.5M346.8 113.5L349.5 113.1M349.5 113.1L351.4 113.9M351.4 113.9L351.6 114.7M368 115.8L368 117.9M368 117.9L366.7 118.1M366.7 118.1L365.2 118.1M365.2 118.1L363.2 116.1M363.2 116.1L363.2 114.1M363.2 114.1L364.3 113.4M364.3 113.4L365.9 112.7M365.9 112.7L367.6 114.8M367.6 114.8L368 115.8M404.7 116.4L404 118.3M404 118.3L402.4 118.4M402.4 118.4L401.5 118.8M401.5 118.8L400.1 116.6M400.1 116.6L400 115.9M400 115.9L401.3 113.6M401.3 113.6L402.9 113.3M402.9 113.3L403.6 114.8M403.6 114.8L404.7 116.4M415.6 116.4L415.6 118.3M415.6 118.3L414.7 118M414.7 118L412.3 117.3M412.3 117.3L411.3 116.1M411.3 116.1L410.8 115M410.8 115L412.7 114M412.7 114L413.7 113.3M413.7 113.3L415.1 114.2M415.1 114.2L415.6 116.4M425.3 116.1L425.3 118M425.3 118L424.3 117.8M424.3 117.8L422.6 117.5M422.6 117.5L420.2 116.9M420.2 116.9L420.2 115.2M420.2 115.2L422.2 113.2M422.2 113.2L423.9 113.7M423.9 113.7L425.2 114.4M425.2 114.4L425.3 116.1M466.4 114.4L466.2 116.7M466.2 116.7L464.9 117.1M464.9 117.1L463.5 117.7M463.5 117.7L462.5 115.9M462.5 115.9L462.4 113.8M462.4 113.8L463.6 112M463.6 112L464.4 112.7M464.4 112.7L466.7 114M466.7 114L466.4 114.4M476.2 115.9L475.4 116.6M475.4 116.6L474.1 117.4M474.1 117.4L472.1 116.8M472.1 116.8L470.6 115.7M470.6 115.7L471.4 113.9M471.4 113.9L473.1 113.3M473.1 113.3L473.5 112.1M473.5 112.1L475.3 114.1M475.3 114.1L476.2 115.9M484.3 115.4L484.5 117.1M484.5 117.1L482.3 118.7M482.3 118.7L481.1 117.6M481.1 117.6L479.7 117.3M479.7 117.3L478.7 115.1M478.7 115.1L480.1 113.8M480.1 113.8L482.1 113.4M482.1 113.4L484.1 114.7M484.1 114.7L484.3 115.4M565.5 116.5L564.5 118.6M564.5 118.6L563.6 118.3M563.6 118.3L561.9 119.1M561.9 119.1L559.8 116.8M559.8 116.8L560.5 115.1M560.5 115.1L560.9 113.7M560.9 113.7L562.5 114.1M562.5 114.1L564.7 114.6M564.7 114.6L565.5 116.5M572.8 115.5L571.5 117.9M571.5 117.9L570.3 117.7M570.3 117.7L568.4 116.8M568.4 116.8L567.5 116.1M567.5 116.1L567.2 114.7M567.2 114.7L567.8 112.7M567.8 112.7L570.9 112.7M570.9 112.7L572.2 114.2M572.2 114.2L572.8 115.5M338.9 133.3L337.5 134.8M337.5 134.8L335.6 134.8M335.6 134.8L334.1 133.4M334.1 133.4L334.1 131.5M334.1 131.5L335.5 130M335.5 130L337.4 130M337.4 130L338.9 131.4M338.9 131.4L338.9 133.3M351.5 134.9L350 133.6M350 133.6L349.8 131.6M349.8 131.6L351.1 130.1M351.1 130.1L353.1 129.9M353.1 129.9L354.6 131.2M354.6 131.2L354.8 133.2M354.8 133.2L353.5 134.7M353.5 134.7L351.5 134.9M359.6 129.9L361.6 130.2M361.6 130.2L362.7 131.8M362.7 131.8L362.4 133.8M362.4 133.8L360.8 134.9M360.8 134.9L358.8 134.6M358.8 134.6L357.7 133M357.7 133L358 131M358 131L359.6 129.9M373.6 131.5L375 130M375 130L376.9 130M376.9 130L378.4 131.4M378.4 131.4L378.4 133.3M378.4 133.3L377 134.8M377 134.8L375.1 134.8M375.1 134.8L373.6 133.4M373.6 133.4L373.6 131.5M383.9 129.8L385.8 130.6M385.8 130.6L386.5 132.4M386.5 132.4L385.7 134.3M385.7 134.3L383.9 135M383.9 135L382 134.2M382 134.2L381.3 132.4M381.3 132.4L382.1 130.5M382.1 130.5L383.9 129.8M389.4 131.4L390.9 130M390.9 130L392.8 130M392.8 130L394.2 131.5M394.2 131.5L394.2 133.4M394.2 133.4L392.7 134.8M392.7 134.8L390.8 134.8M390.8 134.8L389.4 133.3M389.4 133.3L389.4 131.4M512.3 134.1L510.5 135M510.5 135L508.6 134.4M508.6 134.4L507.7 132.6M507.7 132.6L508.3 130.7M508.3 130.7L510.1 129.8M510.1 129.8L512 130.4M512 130.4L512.9 132.2M512.9 132.2L512.3 134.1M517.3 130L519.3 130M519.3 130L520.6 131.5M520.6 131.5L520.6 133.5M520.6 133.5L519.1 134.8M519.1 134.8L517.1 134.8M517.1 134.8L515.8 133.3M515.8 133.3L515.8 131.3M515.8 131.3L517.3 130M552.3 132.9L551.2 134.6M551.2 134.6L549.3 134.9M549.3 134.9L547.6 133.8M547.6 133.8L547.3 131.9M547.3 131.9L548.4 130.2M548.4 130.2L550.3 129.9M550.3 129.9L552 131M552 131L552.3 132.9" stroke="#d9c4bb" stroke-width="0.5" fill="none"/>
<path d="M320.7 132.4L323.2 131.6M320.7 132.4L323 133.6M320.7 132.4L321.5 134.9M320.7 132.4L319.5 134.7M320.7 132.4L318.2 133.2M320.7 132.4L318.4 131.2M320.7 132.4L319.9 129.9M320.7 132.4L321.9 130.1M328.6 132.4L326.5 134M328.6 132.4L326 132.1M328.6 132.4L327 130.3M328.6 132.4L328.9 129.8M328.6 132.4L330.7 130.8M328.6 132.4L331.2 132.7M328.6 132.4L330.2 134.5M328.6 132.4L328.3 135M344.4 132.4L345 129.9M344.4 132.4L346.6 131.1M344.4 132.4L346.9 133M344.4 132.4L345.7 134.6M344.4 132.4L343.8 134.9M344.4 132.4L342.2 133.7M344.4 132.4L341.9 131.8M344.4 132.4L343.1 130.2M368.1 132.4L370.1 134.1M368.1 132.4L368.3 135M368.1 132.4L366.4 134.4M368.1 132.4L365.5 132.6M368.1 132.4L366.1 130.7M368.1 132.4L367.9 129.8M368.1 132.4L369.8 130.4M368.1 132.4L370.7 132.2M399.7 132.4L398.6 130M399.7 132.4L400.6 130M399.7 132.4L402.1 131.3M399.7 132.4L402.1 133.3M399.7 132.4L400.8 134.8M399.7 132.4L398.8 134.8M399.7 132.4L397.3 133.5M399.7 132.4L397.3 131.5M407.6 132.4L408.8 134.7M407.6 132.4L406.8 134.9M407.6 132.4L405.3 133.6M407.6 132.4L405.1 131.6M407.6 132.4L406.4 130.1M407.6 132.4L408.4 129.9M407.6 132.4L409.9 131.2M407.6 132.4L410.1 133.2M415.5 132.4L416.4 130M415.5 132.4L417.9 131.4M415.5 132.4L417.9 133.3M415.5 132.4L416.5 134.8M415.5 132.4L414.6 134.8M415.5 132.4L413.1 133.4M415.5 132.4L413.1 131.5M415.5 132.4L414.5 130M423.4 132.4L423.1 135M423.4 132.4L421.4 134M423.4 132.4L420.8 132.1M423.4 132.4L421.8 130.4M423.4 132.4L423.7 129.8M423.4 132.4L425.4 130.8M423.4 132.4L426 132.7M423.4 132.4L425 134.4M431.3 132.4L428.9 133.5M431.3 132.4L428.9 131.5M431.3 132.4L430.2 130M431.3 132.4L432.2 130M431.3 132.4L433.7 131.3M431.3 132.4L433.7 133.3M431.3 132.4L432.4 134.8M431.3 132.4L430.4 134.8M439.2 132.4L441.1 134.2M439.2 132.4L439.3 135M439.2 132.4L437.4 134.3M439.2 132.4L436.6 132.5M439.2 132.4L437.3 130.6M439.2 132.4L439.1 129.8M439.2 132.4L441 130.5M439.2 132.4L441.8 132.3M447.1 132.4L444.8 133.7M447.1 132.4L444.6 131.7M447.1 132.4L445.8 130.1M447.1 132.4L447.8 129.9M447.1 132.4L449.4 131.1M447.1 132.4L449.6 133.1M447.1 132.4L448.4 134.7M447.1 132.4L446.4 134.9M455 132.4L456.9 130.6M455 132.4L457.6 132.5M455 132.4L456.8 134.3M455 132.4L454.9 135M455 132.4L453.1 134.2M455 132.4L452.4 132.3M455 132.4L453.2 130.5M455 132.4L455.1 129.8M462.9 132.4L462.3 129.9M462.9 132.4L464.3 130.2M462.9 132.4L465.4 131.8M462.9 132.4L465.1 133.8M462.9 132.4L463.5 134.9M462.9 132.4L461.5 134.6M462.9 132.4L460.4 133M462.9 132.4L460.7 131M470.8 132.4L470.3 135M470.8 132.4L468.6 133.9M470.8 132.4L468.2 131.9M470.8 132.4L469.3 130.2M470.8 132.4L471.3 129.8M470.8 132.4L473 130.9M470.8 132.4L473.4 132.9M470.8 132.4L472.3 134.6M478.7 132.4L479.2 129.9M478.7 132.4L480.9 131M478.7 132.4L481.2 132.9M478.7 132.4L480.1 134.6M478.7 132.4L478.2 134.9M478.7 132.4L476.5 133.8M478.7 132.4L476.2 131.9M478.7 132.4L477.3 130.2M486.6 132.4L484.3 131.1M486.6 132.4L485.9 129.9M486.6 132.4L487.9 130.1M486.6 132.4L489.1 131.7M486.6 132.4L488.9 133.7M486.6 132.4L487.3 134.9M486.6 132.4L485.3 134.7M486.6 132.4L484.1 133.1M494.5 132.4L494 129.8M494.5 132.4L496 130.3M494.5 132.4L497.1 131.9M494.5 132.4L496.6 133.9M494.5 132.4L495 135M494.5 132.4L493 134.5M494.5 132.4L491.9 132.9M494.5 132.4L492.4 130.9M502.4 132.4L504 134.4M502.4 132.4L502.1 135M502.4 132.4L500.4 134M502.4 132.4L499.8 132.1M502.4 132.4L500.8 130.4M502.4 132.4L502.7 129.8M502.4 132.4L504.4 130.8M502.4 132.4L505 132.7M526.1 132.4L524.4 134.4M526.1 132.4L523.5 132.6M526.1 132.4L524.1 130.7M526.1 132.4L525.9 129.8M526.1 132.4L527.8 130.4M526.1 132.4L528.7 132.2M526.1 132.4L528.1 134.1M526.1 132.4L526.3 135M534 132.4L535.6 130.4M534 132.4L536.6 132.1M534 132.4L536 134M534 132.4L534.3 135M534 132.4L532.4 134.4M534 132.4L531.4 132.7M534 132.4L532 130.8M534 132.4L533.7 129.8M541.9 132.4L540.3 130.4M541.9 132.4L542.2 129.8M541.9 132.4L543.9 130.8M541.9 132.4L544.5 132.7M541.9 132.4L543.5 134.4M541.9 132.4L541.6 135M541.9 132.4L539.9 134M541.9 132.4L539.3 132.1M557.7 132.4L555.3 133.4M557.7 132.4L555.3 131.4M557.7 132.4L556.7 130M557.7 132.4L558.7 130M557.7 132.4L560.1 131.4M557.7 132.4L560.1 133.4M557.7 132.4L558.7 134.8M557.7 132.4L556.7 134.8M320.7 143L321.5 145.6M320.7 143L318.9 145M320.7 143L318.1 142.4M320.7 143L319.9 140.4M320.7 143L322.5 141M320.7 143L323.3 143.6M335.3 143L333 141.7M335.3 143L335.3 140.3M335.3 143L337.6 141.6M335.3 143L337.6 144.3M335.3 143L335.3 145.7M335.3 143L333 144.4M342.6 143L341.8 145.6M342.6 143L340 143.6M342.6 143L340.8 141M342.6 143L343.4 140.4M342.6 143L345.2 142.4M342.6 143L344.4 145M430.2 143L428.2 144.8M430.2 143L427.6 142.2M430.2 143L429.6 140.4M430.2 143L432.2 141.2M430.2 143L432.8 143.8M430.2 143L430.8 145.6M444.8 143L442.1 143.5M444.8 143L443.1 140.9M444.8 143L445.7 140.5M444.8 143L447.5 142.5M444.8 143L446.5 145.1M444.8 143L443.9 145.5M452.1 143L449.9 144.6M452.1 143L449.6 141.9M452.1 143L451.8 140.3M452.1 143L454.3 141.4M452.1 143L454.6 144.1M452.1 143L452.4 145.7M459.4 143L460.9 140.7M459.4 143L462.1 143.2M459.4 143L460.6 145.4M459.4 143L457.9 145.3M459.4 143L456.7 142.8M459.4 143L458.2 140.6M466.7 143L468.6 141.1M466.7 143L469.3 143.7M466.7 143L467.4 145.6M466.7 143L464.8 144.9M466.7 143L464.1 142.3M466.7 143L466 140.4M474 143L473.9 140.3M474 143L476.3 141.5M474 143L476.4 144.2M474 143L474.1 145.7M474 143L471.7 144.5M474 143L471.6 141.8M488.6 143L486.7 141.1M488.6 143L489.4 140.4M488.6 143L491.2 142.4M488.6 143L490.5 144.9M488.6 143L487.8 145.6M488.6 143L486 143.6M495.9 143L496.8 140.5M495.9 143L498.6 142.5M495.9 143L497.7 145M495.9 143L495 145.5M495.9 143L493.2 143.5M495.9 143L494.1 141M503.2 143L501.1 141.3M503.2 143L503.6 140.3M503.2 143L505.7 142M503.2 143L505.3 144.7M503.2 143L502.8 145.7M503.2 143L500.7 144M510.5 143L513.2 143.4M510.5 143L511.5 145.5M510.5 143L508.8 145.1M510.5 143L507.8 142.6M510.5 143L509.5 140.5M510.5 143L512.2 140.9M517.8 143L515.5 144.4M517.8 143L515.4 141.7M517.8 143L517.7 140.3M517.8 143L520.1 141.6M517.8 143L520.2 144.3M517.8 143L517.9 145.7M525.1 143L524.6 145.7M525.1 143L522.6 143.9M525.1 143L523 141.3M525.1 143L525.6 140.3M525.1 143L527.6 142.1M525.1 143L527.2 144.7M532.4 143L533.9 140.7M532.4 143L535.1 143.2M532.4 143L533.6 145.4M532.4 143L530.9 145.3M532.4 143L529.7 142.8M532.4 143L531.2 140.6M539.7 143L541.2 140.7M539.7 143L542.4 143.1M539.7 143L540.9 145.4M539.7 143L538.2 145.3M539.7 143L537 142.9M539.7 143L538.5 140.6M547 143L544.4 142.2M547 143L546.4 140.4M547 143L549 141.1M547 143L549.6 143.8M547 143L547.6 145.6M547 143L545 144.9M554.3 143L556.4 141.3M554.3 143L556.8 144M554.3 143L554.7 145.7M554.3 143L552.2 144.7M554.3 143L551.8 142M554.3 143L553.9 140.3M320.7 152.6L323 153.5M320.7 152.6L319.8 154.9M320.7 152.6L318.4 151.7M320.7 152.6L321.6 150.3M327.7 152.6L330 153.5M327.7 152.6L326.8 154.9M327.7 152.6L325.4 151.7M327.7 152.6L328.6 150.3M334.7 152.6L337 153.5M334.7 152.6L333.8 154.9M334.7 152.6L332.4 151.7M334.7 152.6L335.6 150.3M341.7 152.6L344 153.5M341.7 152.6L340.8 154.9M341.7 152.6L339.4 151.7M341.7 152.6L342.6 150.3M348.7 152.6L351 153.5M348.7 152.6L347.8 154.9M348.7 152.6L346.4 151.7M348.7 152.6L349.6 150.3M355.7 152.6L358 153.5M355.7 152.6L354.8 154.9M355.7 152.6L353.4 151.7M355.7 152.6L356.6 150.3M362.7 152.6L365 153.5M362.7 152.6L361.8 154.9M362.7 152.6L360.4 151.7M362.7 152.6L363.6 150.3M369.7 152.6L372 153.5M369.7 152.6L368.8 154.9M369.7 152.6L367.4 151.7M369.7 152.6L370.6 150.3M376.7 152.6L379 153.5M376.7 152.6L375.8 154.9M376.7 152.6L374.4 151.7M376.7 152.6L377.6 150.3M383.7 152.6L386 153.5M383.7 152.6L382.8 154.9M383.7 152.6L381.4 151.7M383.7 152.6L384.6 150.3M390.7 152.6L393 153.5M390.7 152.6L389.8 154.9M390.7 152.6L388.4 151.7M390.7 152.6L391.6 150.3M397.7 152.6L400 153.5M397.7 152.6L396.8 154.9M397.7 152.6L395.4 151.7M397.7 152.6L398.6 150.3M404.7 152.6L407 153.5M404.7 152.6L403.8 154.9M404.7 152.6L402.4 151.7M404.7 152.6L405.6 150.3M411.7 152.6L414 153.5M411.7 152.6L410.8 154.9M411.7 152.6L409.4 151.7M411.7 152.6L412.6 150.3M418.7 152.6L421 153.5M418.7 152.6L417.8 154.9M418.7 152.6L416.4 151.7M418.7 152.6L419.6 150.3M425.7 152.6L428 153.5M425.7 152.6L424.8 154.9M425.7 152.6L423.4 151.7M425.7 152.6L426.6 150.3M432.7 152.6L435 153.5M432.7 152.6L431.8 154.9M432.7 152.6L430.4 151.7M432.7 152.6L433.6 150.3M446.7 152.6L449 153.5M446.7 152.6L445.8 154.9M446.7 152.6L444.4 151.7M446.7 152.6L447.6 150.3M453.7 152.6L456 153.5M453.7 152.6L452.8 154.9M453.7 152.6L451.4 151.7M453.7 152.6L454.6 150.3M460.7 152.6L463 153.5M460.7 152.6L459.8 154.9M460.7 152.6L458.4 151.7M460.7 152.6L461.6 150.3M467.7 152.6L470 153.5M467.7 152.6L466.8 154.9M467.7 152.6L465.4 151.7M467.7 152.6L468.6 150.3M474.7 152.6L477 153.5M474.7 152.6L473.8 154.9M474.7 152.6L472.4 151.7M474.7 152.6L475.6 150.3M481.7 152.6L484 153.5M481.7 152.6L480.8 154.9M481.7 152.6L479.4 151.7M481.7 152.6L482.6 150.3M488.7 152.6L491 153.5M488.7 152.6L487.8 154.9M488.7 152.6L486.4 151.7M488.7 152.6L489.6 150.3M495.7 152.6L498 153.5M495.7 152.6L494.8 154.9M495.7 152.6L493.4 151.7M495.7 152.6L496.6 150.3M502.7 152.6L505 153.5M502.7 152.6L501.8 154.9M502.7 152.6L500.4 151.7M502.7 152.6L503.6 150.3M516.7 152.6L519 153.5M516.7 152.6L515.8 154.9M516.7 152.6L514.4 151.7M516.7 152.6L517.6 150.3M523.7 152.6L526 153.5M523.7 152.6L522.8 154.9M523.7 152.6L521.4 151.7M523.7 152.6L524.6 150.3M530.7 152.6L533 153.5M530.7 152.6L529.8 154.9M530.7 152.6L528.4 151.7M530.7 152.6L531.6 150.3M544.7 152.6L547 153.5M544.7 152.6L543.8 154.9M544.7 152.6L542.4 151.7M544.7 152.6L545.6 150.3M551.7 152.6L554 153.5M551.7 152.6L550.8 154.9M551.7 152.6L549.4 151.7M551.7 152.6L552.6 150.3M558.7 152.6L561 153.5M558.7 152.6L557.8 154.9M558.7 152.6L556.4 151.7M558.7 152.6L559.6 150.3M320.7 159.6L323 160.5M320.7 159.6L319.8 161.9M320.7 159.6L318.4 158.7M320.7 159.6L321.6 157.3M327.7 159.6L330 160.5M327.7 159.6L326.8 161.9M327.7 159.6L325.4 158.7M327.7 159.6L328.6 157.3M334.7 159.6L337 160.5M334.7 159.6L333.8 161.9M334.7 159.6L332.4 158.7M334.7 159.6L335.6 157.3M341.7 159.6L344 160.5M341.7 159.6L340.8 161.9M341.7 159.6L339.4 158.7M341.7 159.6L342.6 157.3M348.7 159.6L351 160.5M348.7 159.6L347.8 161.9M348.7 159.6L346.4 158.7M348.7 159.6L349.6 157.3M355.7 159.6L358 160.5M355.7 159.6L354.8 161.9M355.7 159.6L353.4 158.7M355.7 159.6L356.6 157.3M362.7 159.6L365 160.5M362.7 159.6L361.8 161.9M362.7 159.6L360.4 158.7M362.7 159.6L363.6 157.3M369.7 159.6L372 160.5M369.7 159.6L368.8 161.9M369.7 159.6L367.4 158.7M369.7 159.6L370.6 157.3M376.7 159.6L379 160.5M376.7 159.6L375.8 161.9M376.7 159.6L374.4 158.7M376.7 159.6L377.6 157.3M383.7 159.6L386 160.5M383.7 159.6L382.8 161.9M383.7 159.6L381.4 158.7M383.7 159.6L384.6 157.3M404.7 159.6L407 160.5M404.7 159.6L403.8 161.9M404.7 159.6L402.4 158.7M404.7 159.6L405.6 157.3M411.7 159.6L414 160.5M411.7 159.6L410.8 161.9M411.7 159.6L409.4 158.7M411.7 159.6L412.6 157.3M418.7 159.6L421 160.5M418.7 159.6L417.8 161.9M418.7 159.6L416.4 158.7M418.7 159.6L419.6 157.3M425.7 159.6L428 160.5M425.7 159.6L424.8 161.9M425.7 159.6L423.4 158.7M425.7 159.6L426.6 157.3M446.7 159.6L449 160.5M446.7 159.6L445.8 161.9M446.7 159.6L444.4 158.7M446.7 159.6L447.6 157.3M453.7 159.6L456 160.5M453.7 159.6L452.8 161.9M453.7 159.6L451.4 158.7M453.7 159.6L454.6 157.3M467.7 159.6L470 160.5M467.7 159.6L466.8 161.9M467.7 159.6L465.4 158.7M467.7 159.6L468.6 157.3M481.7 159.6L484 160.5M481.7 159.6L480.8 161.9M481.7 159.6L479.4 158.7M481.7 159.6L482.6 157.3M488.7 159.6L491 160.5M488.7 159.6L487.8 161.9M488.7 159.6L486.4 158.7M488.7 159.6L489.6 157.3M495.7 159.6L498 160.5M495.7 159.6L494.8 161.9M495.7 159.6L493.4 158.7M495.7 159.6L496.6 157.3M502.7 159.6L505 160.5M502.7 159.6L501.8 161.9M502.7 159.6L500.4 158.7M502.7 159.6L503.6 157.3M509.7 159.6L512 160.5M509.7 159.6L508.8 161.9M509.7 159.6L507.4 158.7M509.7 159.6L510.6 157.3M523.7 159.6L526 160.5M523.7 159.6L522.8 161.9M523.7 159.6L521.4 158.7M523.7 159.6L524.6 157.3M530.7 159.6L533 160.5M530.7 159.6L529.8 161.9M530.7 159.6L528.4 158.7M530.7 159.6L531.6 157.3M551.7 159.6L554 160.5M551.7 159.6L550.8 161.9M551.7 159.6L549.4 158.7M551.7 159.6L552.6 157.3M558.7 159.6L561 160.5M558.7 159.6L557.8 161.9M558.7 159.6L556.4 158.7M558.7 159.6L559.6 157.3M320.7 166.6L323 167.5M320.7 166.6L319.8 168.9M320.7 166.6L318.4 165.7M320.7 166.6L321.6 164.3M327.7 166.6L330 167.5M327.7 166.6L326.8 168.9M327.7 166.6L325.4 165.7M327.7 166.6L328.6 164.3M334.7 166.6L337 167.5M334.7 166.6L333.8 168.9M334.7 166.6L332.4 165.7M334.7 166.6L335.6 164.3" stroke="#c4c8cf" stroke-width="0.55" fill="none"/>
<path d="M336.5 132.4L338.9 133.3M336.5 132.4L337.5 134.8M336.5 132.4L335.6 134.8M336.5 132.4L334.1 133.4M336.5 132.4L334.1 131.5M336.5 132.4L335.5 130M336.5 132.4L337.4 130M336.5 132.4L338.9 131.4M352.3 132.4L351.5 134.9M352.3 132.4L350 133.6M352.3 132.4L349.8 131.6M352.3 132.4L351.1 130.1M352.3 132.4L353.1 129.9M352.3 132.4L354.6 131.2M352.3 132.4L354.8 133.2M352.3 132.4L353.5 134.7M360.2 132.4L359.6 129.9M360.2 132.4L361.6 130.2M360.2 132.4L362.7 131.8M360.2 132.4L362.4 133.8M360.2 132.4L360.8 134.9M360.2 132.4L358.8 134.6M360.2 132.4L357.7 133M360.2 132.4L358 131M376 132.4L373.6 131.5M376 132.4L375 130M376 132.4L376.9 130M376 132.4L378.4 131.4M376 132.4L378.4 133.3M376 132.4L377 134.8M376 132.4L375.1 134.8M376 132.4L373.6 133.4M383.9 132.4L383.9 129.8M383.9 132.4L385.8 130.6M383.9 132.4L386.5 132.4M383.9 132.4L385.7 134.3M383.9 132.4L383.9 135M383.9 132.4L382 134.2M383.9 132.4L381.3 132.4M383.9 132.4L382.1 130.5M391.8 132.4L389.4 131.4M391.8 132.4L390.9 130M391.8 132.4L392.8 130M391.8 132.4L394.2 131.5M391.8 132.4L394.2 133.4M391.8 132.4L392.7 134.8M391.8 132.4L390.8 134.8M391.8 132.4L389.4 133.3M510.3 132.4L512.3 134.1M510.3 132.4L510.5 135M510.3 132.4L508.6 134.4M510.3 132.4L507.7 132.6M510.3 132.4L508.3 130.7M510.3 132.4L510.1 129.8M510.3 132.4L512 130.4M510.3 132.4L512.9 132.2M518.2 132.4L517.3 130M518.2 132.4L519.3 130M518.2 132.4L520.6 131.5M518.2 132.4L520.6 133.5M518.2 132.4L519.1 134.8M518.2 132.4L517.1 134.8M518.2 132.4L515.8 133.3M518.2 132.4L515.8 131.3M549.8 132.4L552.3 132.9M549.8 132.4L551.2 134.6M549.8 132.4L549.3 134.9M549.8 132.4L547.6 133.8M549.8 132.4L547.3 131.9M549.8 132.4L548.4 130.2M549.8 132.4L550.3 129.9M549.8 132.4L552 131M328 143L328.1 145.7M328 143L325.7 144.4M328 143L325.6 141.7M328 143L327.9 140.3M328 143L330.3 141.6M328 143L330.4 144.3M349.9 143L348.9 140.5M349.9 143L351.6 140.9M349.9 143L352.6 143.4M349.9 143L350.9 145.5M349.9 143L348.2 145.1M349.9 143L347.2 142.6M357.2 143L359.8 143.7M357.2 143L357.9 145.6M357.2 143L355.3 144.9M357.2 143L354.6 142.3M357.2 143L356.5 140.4M357.2 143L359.1 141.1M364.5 143L361.9 143.5M364.5 143L362.7 141M364.5 143L365.4 140.4M364.5 143L367.1 142.5M364.5 143L366.3 145M364.5 143L363.6 145.6M371.8 143L370.4 140.7M371.8 143L373.1 140.6M371.8 143L374.5 142.9M371.8 143L373.2 145.3M371.8 143L370.5 145.4M371.8 143L369.1 143.1M379.1 143L381.7 142.4M379.1 143L380.9 145M379.1 143L378.3 145.6M379.1 143L376.5 143.6M379.1 143L377.3 141M379.1 143L379.9 140.4M386.4 143L386.3 140.3M386.4 143L388.7 141.6M386.4 143L388.8 144.3M386.4 143L386.5 145.7M386.4 143L384.1 144.4M386.4 143L384 141.7M393.7 143L391.5 141.4M393.7 143L394 140.3M393.7 143L396.2 141.9M393.7 143L395.9 144.6M393.7 143L393.4 145.7M393.7 143L391.2 144.1M401 143L403.5 144M401 143L401.3 145.7M401 143L398.9 144.6M401 143L398.5 142M401 143L400.7 140.3M401 143L403.1 141.4M408.3 143L408.9 145.6M408.3 143L406.3 144.8M408.3 143L405.7 142.2M408.3 143L407.7 140.4M408.3 143L410.3 141.2M408.3 143L410.9 143.8M415.6 143L418.2 142.4M415.6 143L417.4 145M415.6 143L414.8 145.6M415.6 143L413 143.6M415.6 143L413.8 141M415.6 143L416.4 140.4M422.9 143L422.4 145.7M422.9 143L420.4 143.9M422.9 143L420.9 141.2M422.9 143L423.4 140.3M422.9 143L425.4 142.1M422.9 143L424.9 144.8M437.5 143L436.2 145.4M437.5 143L434.8 143.1M437.5 143L436.1 140.7M437.5 143L438.8 140.6M437.5 143L440.2 142.9M437.5 143L438.9 145.3M481.3 143L478.8 141.9M481.3 143L481 140.3M481.3 143L483.5 141.4M481.3 143L483.8 144.1M481.3 143L481.6 145.7M481.3 143L479.1 144.6M561.6 143L564.3 143M561.6 143L562.9 145.4M561.6 143L560.2 145.3M561.6 143L558.9 143M561.6 143L560.3 140.6M561.6 143L563 140.7M439.7 152.6L442 153.5M439.7 152.6L438.8 154.9M439.7 152.6L437.4 151.7M439.7 152.6L440.6 150.3M509.7 152.6L512 153.5M509.7 152.6L508.8 154.9M509.7 152.6L507.4 151.7M509.7 152.6L510.6 150.3M537.7 152.6L540 153.5M537.7 152.6L536.8 154.9M537.7 152.6L535.4 151.7M537.7 152.6L538.6 150.3M390.7 159.6L393 160.5M390.7 159.6L389.8 161.9M390.7 159.6L388.4 158.7M390.7 159.6L391.6 157.3M397.7 159.6L400 160.5M397.7 159.6L396.8 161.9M397.7 159.6L395.4 158.7M397.7 159.6L398.6 157.3M432.7 159.6L435 160.5M432.7 159.6L431.8 161.9M432.7 159.6L430.4 158.7M432.7 159.6L433.6 157.3M439.7 159.6L442 160.5M439.7 159.6L438.8 161.9M439.7 159.6L437.4 158.7M439.7 159.6L440.6 157.3M460.7 159.6L463 160.5M460.7 159.6L459.8 161.9M460.7 159.6L458.4 158.7M460.7 159.6L461.6 157.3M474.7 159.6L477 160.5M474.7 159.6L473.8 161.9M474.7 159.6L472.4 158.7M474.7 159.6L475.6 157.3M516.7 159.6L519 160.5M516.7 159.6L515.8 161.9M516.7 159.6L514.4 158.7M516.7 159.6L517.6 157.3M537.7 159.6L540 160.5M537.7 159.6L536.8 161.9M537.7 159.6L535.4 158.7M537.7 159.6L538.6 157.3M544.7 159.6L547 160.5M544.7 159.6L543.8 161.9M544.7 159.6L542.4 158.7M544.7 159.6L545.6 157.3" stroke="#d9c4bb" stroke-width="0.55" fill="none"/>
<path d="M340.5 165.2L343.6 165.8M347.1 165.2L350.2 165.8M353.7 165.2L356.8 165.8M360.3 165.2L363.4 165.8M366.9 165.2L370 165.8M373.5 165.2L376.6 165.8M380.1 165.2L383.2 165.8M386.7 165.2L389.8 165.8M393.3 165.2L396.4 165.8M399.9 165.2L403 165.8M406.5 165.2L409.6 165.8M413.1 165.2L416.2 165.8M419.7 165.2L422.8 165.8M426.3 165.2L429.4 165.8M432.9 165.2L436 165.8M439.5 165.2L442.6 165.8M446.1 165.2L449.2 165.8M452.7 165.2L455.8 165.8M459.3 165.2L462.4 165.8M465.9 165.2L469 165.8M472.5 165.2L475.6 165.8M479.1 165.2L482.2 165.8M485.7 165.2L488.8 165.8M492.3 165.2L495.4 165.8M498.9 165.2L502 165.8M505.5 165.2L508.6 165.8M512.1 165.2L515.2 165.8M518.7 165.2L521.8 165.8M525.3 165.2L528.4 165.8M531.9 165.2L535 165.8M538.5 165.2L541.6 165.8M545.1 165.2L548.2 165.8M551.7 165.2L554.8 165.8M558.3 165.2L561.4 165.8" stroke="#d9c4bb" stroke-width="0.4" fill="none"/>
<path d="M343.4 49.3h0M342.2 50.9h0M341.4 49.2h0M342.4 47.9h0M340.0 44.3h0M339.0 46.4h0M337.3 45.2h0M336.4 43.6h0M338.2 43.4h0M346.7 40.4h0M345.4 41.5h0M343.4 40.5h0M344.8 38.9h0M343.9 39.9h0M342.9 41.8h0M341.1 40.8h0M341.0 39.5h0M342.3 39.6h0M348.3 50.0h0M346.4 50.8h0M344.9 50.0h0M346.7 48.3h0M348.7 47.3h0M348.3 48.7h0M347.0 47.8h0M346.7 46.8h0M346.7 45.8h0M348.5 46.2h0M345.3 47.8h0M344.2 48.9h0M342.4 48.3h0M344.3 46.9h0M341.2 49.2h0M339.5 50.5h0M338.4 49.4h0M339.5 48.0h0M339.6 47.1h0M338.5 48.8h0M336.8 48.1h0M336.3 46.3h0M338.4 46.0h0M346.4 49.0h0M345.5 50.5h0M343.3 49.6h0M345.2 48.1h0M342.5 57.8h0M341.8 58.2h0M340.6 59.2h0M339.5 58.5h0M340.0 56.8h0M341.0 55.5h0M341.6 56.0h0M344.4 46.3h0M343.6 48.0h0M342.4 48.0h0M341.1 46.7h0M342.3 45.6h0M343.9 45.6h0M344.6 47.2h0M344.2 48.0h0M342.5 48.5h0M341.3 47.1h0M342.4 45.4h0M343.8 45.6h0M342.9 47.5h0M341.8 49.2h0M340.1 49.4h0M339.7 48.3h0M339.3 47.2h0M341.1 46.2h0M342.2 46.5h0M423.0 45.4h0M422.2 47.5h0M420.8 46.8h0M420.1 46.1h0M421.0 44.8h0M421.7 44.7h0M425.6 45.2h0M424.2 46.4h0M422.3 45.4h0M423.9 43.7h0M422.0 48.2h0M421.9 49.1h0M420.0 49.5h0M419.4 47.9h0M420.0 46.4h0M421.8 47.0h0M421.9 47.7h0M420.2 49.4h0M418.9 48.0h0M420.1 46.2h0M437.9 40.5h0M437.8 41.6h0M435.7 41.6h0M435.2 40.0h0M435.7 39.1h0M436.7 39.3h0M437.9 39.2h0M436.9 40.2h0M435.4 41.1h0M434.2 39.0h0M435.5 38.4h0M436.6 38.3h0M441.2 42.9h0M439.6 44.1h0M438.4 42.6h0M439.4 41.2h0M432.9 54.4h0M432.9 56.0h0M431.5 55.5h0M430.0 55.2h0M430.2 53.8h0M431.7 53.1h0M432.8 53.4h0M434.3 55.5h0M432.7 56.9h0M431.0 56.7h0M431.5 54.9h0M432.6 54.1h0M432.8 53.8h0M431.6 54.7h0M431.0 55.5h0M430.1 54.1h0M430.3 53.1h0M430.6 52.9h0M432.0 52.5h0M415.4 53.6h0M414.4 54.8h0M413.4 54.4h0M412.3 53.4h0M413.1 51.7h0M414.5 52.2h0M415.5 52.3h0M415.0 53.7h0M413.6 54.2h0M413.3 52.8h0M414.1 51.8h0M414.9 51.7h0M414.8 52.8h0M414.2 54.2h0M413.2 54.4h0M411.9 53.4h0M411.9 51.8h0M412.8 51.4h0M414.1 51.0h0M438.3 62.9h0M436.9 64.6h0M436.3 63.2h0M437.4 61.4h0M439.1 60.1h0M438.4 60.9h0M437.7 60.9h0M436.4 60.5h0M436.6 59.2h0M437.5 58.8h0M438.8 59.1h0M428.7 48.3h0M427.6 49.3h0M427.1 49.4h0M426.0 48.5h0M425.9 47.7h0M427.0 46.1h0M427.7 47.0h0M439.7 30.5h0M437.7 32.6h0M436.5 30.7h0M438.2 29.2h0M444.8 44.5h0M443.0 46.1h0M442.2 46.0h0M441.8 44.5h0M443.1 43.9h0M455.5 47.6h0M454.7 48.6h0M453.7 49.5h0M452.4 48.2h0M452.7 46.7h0M454.1 46.8h0M455.4 46.3h0M454.0 45.7h0M453.6 47.0h0M451.9 47.0h0M451.9 45.2h0M453.1 44.5h0M457.6 49.3h0M458.0 50.8h0M456.6 50.7h0M455.3 50.4h0M455.7 49.0h0M456.6 48.2h0M457.6 48.4h0M466.6 44.1h0M464.9 45.4h0M463.3 43.7h0M464.7 43.0h0M477.6 44.1h0M476.9 45.0h0M476.0 45.4h0M474.8 44.3h0M474.5 43.4h0M475.8 42.9h0M477.0 42.6h0M474.2 43.8h0M472.6 44.7h0M471.5 43.5h0M472.5 42.4h0M484.0 38.8h0M483.3 40.3h0M481.4 39.9h0M481.5 37.8h0M483.4 37.5h0M489.4 48.9h0M489.0 49.7h0M487.5 49.6h0M487.4 48.6h0M487.6 47.5h0M488.8 47.7h0M490.2 50.1h0M489.5 51.1h0M488.7 51.4h0M488.3 50.9h0M488.0 49.3h0M488.6 49.0h0M489.7 49.2h0M445.4 50.8h0M444.9 52.2h0M443.2 52.6h0M442.9 51.7h0M443.1 50.5h0M444.0 50.1h0M444.7 50.1h0M485.1 32.7h0M484.0 34.8h0M483.0 34.0h0M483.0 32.6h0M484.3 31.0h0M555.0 34.4h0M554.4 36.2h0M553.2 35.2h0M552.7 34.5h0M553.1 33.1h0M554.3 32.9h0M555.7 34.8h0M554.9 37.0h0M553.3 35.3h0M554.3 33.7h0M555.7 44.3h0M554.9 44.7h0M553.5 45.9h0M552.9 44.2h0M552.8 43.0h0M553.6 43.1h0M554.8 42.8h0M554.6 42.5h0M553.2 43.5h0M552.6 43.5h0M551.9 42.7h0M551.5 41.8h0M552.6 41.3h0M553.6 41.1h0M557.8 46.3h0M557.2 46.8h0M556.5 47.6h0M555.3 47.4h0M555.4 45.8h0M556.0 44.9h0M557.3 44.6h0M567.5 37.7h0M566.8 38.6h0M565.9 38.4h0M564.7 37.5h0M565.9 36.3h0M566.9 35.8h0M567.0 37.1h0M566.4 39.1h0M565.2 39.1h0M564.1 38.6h0M564.5 36.5h0M565.6 36.1h0M566.6 36.6h0M571.0 39.4h0M569.5 39.9h0M568.5 40.5h0M567.5 38.6h0M568.2 38.1h0M569.5 38.0h0M556.3 51.9h0M555.3 53.3h0M554.0 52.5h0M553.5 51.3h0M555.7 50.9h0M576.1 39.7h0M574.8 41.7h0M573.6 39.9h0M575.2 38.6h0M583.3 43.9h0M582.4 45.3h0M581.2 44.8h0M580.8 43.5h0M582.6 42.9h0M471.8 46.6h0M470.3 47.9h0M469.5 48.0h0M468.7 46.9h0M469.3 46.0h0M470.8 45.8h0M447.1 56.2h0M447.0 56.9h0M445.4 57.0h0M444.2 56.7h0M444.2 55.7h0M445.8 55.0h0M447.1 55.0h0" stroke="#f7bba3" stroke-width="1.44" stroke-linecap="round" fill="none"/>
<path d="M342.5 49.0h0M338.0 44.6h0M345.0 40.3h0M342.0 40.4h0M346.7 49.8h0M347.7 47.1h0M344.0 47.9h0M339.7 49.6h0M337.7 47.7h0M345.1 49.2h0M340.9 57.3h0M342.7 46.8h0M343.1 47.0h0M341.0 47.7h0M421.3 45.9h0M424.2 45.1h0M421.0 47.9h0M420.6 48.0h0M436.4 40.2h0M436.0 39.3h0M439.7 42.5h0M431.7 54.4h0M432.4 55.7h0M431.0 53.8h0M413.7 53.5h0M414.4 52.7h0M413.4 52.7h0M437.4 63.0h0M437.8 60.0h0M427.0 48.0h0M438.0 31.0h0M443.0 45.0h0M454.2 47.8h0M453.0 45.7h0M456.6 49.4h0M464.7 44.0h0M476.0 44.0h0M472.7 43.8h0M482.7 39.2h0M488.4 48.7h0M489.1 50.2h0M444.0 51.0h0M484.0 33.0h0M553.9 34.5h0M554.5 35.1h0M553.9 44.0h0M552.9 42.6h0M556.5 46.2h0M566.2 37.3h0M565.6 37.4h0M569.1 39.0h0M555.0 52.0h0M575.0 40.0h0M582.0 44.0h0M470.0 47.0h0M446.0 56.0h0" stroke="#f7bba3" stroke-width="1.20" stroke-linecap="round" fill="none"/>
<path d="M343.9 50.1h0M343.2 51.3h0M341.5 52.4h0M341.1 50.1h0M341.5 49.1h0M342.8 48.1h0M343.7 48.7h0M353.2 49.8h0M351.8 51.4h0M350.3 50.8h0M349.6 50.1h0M350.4 48.9h0M352.4 48.8h0M349.2 53.0h0M347.9 54.8h0M346.1 52.4h0M347.4 51.6h0M349.0 58.2h0M347.9 58.7h0M346.4 59.6h0M344.4 57.9h0M345.5 56.8h0M347.1 56.5h0M347.7 55.8h0M344.2 58.0h0M343.4 59.7h0M342.6 60.5h0M341.2 59.2h0M340.8 57.6h0M341.8 56.7h0M342.7 55.7h0M343.4 56.6h0M340.9 56.8h0M338.3 58.8h0M337.0 57.2h0M338.5 55.4h0M337.6 53.1h0M337.4 55.1h0M335.5 54.8h0M335.1 53.6h0M335.1 51.5h0M337.4 52.3h0M336.2 50.2h0M335.5 51.7h0M333.8 51.2h0M332.8 50.4h0M332.9 49.2h0M333.6 48.2h0M335.4 48.6h0M336.0 45.2h0M336.3 47.2h0M335.5 47.6h0M333.9 47.1h0M332.8 45.1h0M333.3 43.5h0M335.1 43.2h0M336.4 44.6h0M340.2 43.5h0M338.6 44.5h0M337.2 44.9h0M336.8 41.6h0M338.9 41.3h0M344.5 41.4h0M343.0 43.0h0M341.3 43.0h0M341.7 40.4h0M342.7 39.1h0M346.3 45.7h0M344.6 48.1h0M343.1 44.7h0M344.2 43.3h0M349.9 47.3h0M349.0 49.1h0M345.4 47.6h0M346.3 46.3h0M347.7 44.8h0M346.3 62.1h0M345.5 63.6h0M343.8 62.4h0M345.1 59.8h0M349.7 66.7h0M349.6 68.4h0M348.0 69.7h0M347.2 68.2h0M346.6 67.0h0M346.8 65.7h0M348.6 65.3h0M349.2 66.2h0M345.9 69.4h0M345.7 71.4h0M343.0 72.2h0M342.4 71.2h0M342.4 70.2h0M342.0 68.7h0M342.7 67.6h0M344.9 68.6h0M354.6 67.1h0M354.5 68.1h0M353.1 68.7h0M351.8 67.5h0M351.3 64.9h0M352.2 65.3h0M354.6 65.4h0M340.9 64.9h0M339.6 66.9h0M337.4 66.9h0M337.4 64.7h0M339.0 63.1h0M351.8 72.4h0M350.5 73.9h0M348.9 73.7h0M348.3 71.7h0M349.1 71.2h0M350.4 70.8h0M353.7 77.9h0M353.1 78.8h0M350.7 79.7h0M350.5 78.7h0M350.0 77.2h0M350.8 75.6h0M353.6 76.6h0M358.1 74.1h0M358.0 75.2h0M357.0 76.2h0M355.6 76.7h0M354.1 74.7h0M355.3 72.7h0M356.5 71.9h0M357.6 72.5h0M348.5 77.1h0M347.2 78.4h0M345.7 78.7h0M345.0 76.9h0M346.6 75.0h0M347.9 76.1h0M357.2 80.6h0M355.5 82.3h0M354.3 83.0h0M353.0 80.3h0M353.6 78.9h0M355.2 79.7h0M357.1 85.6h0M356.8 88.1h0M355.2 88.3h0M354.4 86.3h0M354.8 85.1h0M355.3 83.8h0M357.2 84.6h0M360.3 82.7h0M358.2 85.7h0M355.6 82.8h0M357.5 81.5h0M331.5 59.6h0M330.8 62.2h0M330.3 62.6h0M329.0 60.9h0M328.3 58.8h0M329.5 58.4h0M331.3 58.1h0M327.0 63.2h0M325.5 64.5h0M324.9 65.4h0M324.1 64.2h0M323.5 63.2h0M323.5 61.0h0M324.6 61.6h0M325.5 61.6h0M327.8 58.9h0M325.1 59.9h0M323.8 58.3h0M325.7 56.0h0M329.5 65.1h0M328.8 66.3h0M327.5 65.6h0M325.8 65.1h0M327.4 63.9h0M328.8 62.6h0M327.1 46.4h0M325.4 48.3h0M323.6 46.1h0M324.5 44.6h0M321.7 46.0h0M321.5 47.2h0M319.2 46.9h0M317.6 46.8h0M319.5 44.3h0M320.8 43.6h0M323.7 43.0h0M322.1 45.1h0M320.1 44.2h0M322.5 41.3h0M323.5 47.6h0M321.4 49.4h0M319.8 47.6h0M321.4 46.3h0M337.7 38.6h0M337.2 39.4h0M334.9 40.3h0M333.7 39.0h0M334.8 37.3h0M336.0 36.2h0M336.8 35.6h0M334.9 34.2h0M333.2 35.3h0M332.0 33.7h0M333.9 32.1h0M334.5 36.4h0M333.7 37.6h0M332.8 39.2h0M330.2 37.8h0M330.5 36.5h0M330.2 35.5h0M332.2 35.4h0M332.9 35.5h0M427.2 47.5h0M426.6 50.3h0M423.7 48.2h0M425.5 46.3h0M419.3 44.5h0M418.2 46.6h0M416.6 46.5h0M416.1 43.3h0M418.8 43.1h0M421.4 52.7h0M418.7 53.7h0M417.0 51.7h0M419.7 49.9h0M436.1 43.3h0M435.9 44.8h0M434.0 44.1h0M432.1 43.5h0M432.6 42.6h0M434.6 41.2h0M436.3 41.8h0M433.4 52.6h0M432.6 54.4h0M431.1 54.8h0M430.8 51.2h0M432.6 50.7h0M431.3 61.5h0M428.8 63.6h0M427.2 61.8h0M429.2 59.6h0M430.0 36.4h0M429.4 37.5h0M427.0 38.3h0M426.5 36.5h0M427.7 34.9h0M428.9 34.9h0" stroke="#f6bca5" stroke-width="1.40" stroke-linecap="round" fill="none"/>
<path d="M342.5 50.0h0M351.2 50.0h0M347.6 52.9h0M347.0 57.7h0M342.5 57.9h0M338.3 57.2h0M336.3 53.6h0M334.4 50.0h0M334.8 45.6h0M338.4 42.9h0M342.5 41.4h0M345.1 45.6h0M347.5 47.1h0M345.0 62.0h0M348.0 67.2h0M343.6 69.9h0M352.8 66.5h0M338.9 65.5h0M350.0 72.0h0M352.1 77.6h0M356.6 74.4h0M347.0 77.2h0M355.0 81.0h0M355.9 85.9h0M358.1 83.6h0M330.0 60.0h0M324.8 63.0h0M325.3 58.3h0M328.3 64.7h0M325.0 46.0h0M320.0 46.0h0M321.9 43.4h0M321.5 48.0h0M336.0 38.0h0M333.5 33.7h0M332.2 36.6h0M426.0 48.0h0M417.5 44.9h0M419.1 52.0h0M434.7 43.0h0M432.1 53.1h0M429.6 61.5h0M428.1 36.2h0" stroke="#f6bca5" stroke-width="1.20" stroke-linecap="round" fill="none"/>
<path d="M392.4 42.0h0M391.5 42.9h0M390.4 43.6h0M389.5 42.4h0M390.2 40.4h0M391.4 40.4h0M391.6 37.8h0M390.9 39.3h0M389.3 39.4h0M388.2 37.7h0M389.7 36.9h0M390.6 36.5h0M393.6 45.6h0M392.2 46.4h0M390.9 45.7h0M392.2 43.7h0M375.5 56.9h0M374.2 59.2h0M372.3 57.9h0M372.6 56.0h0M374.2 56.3h0M374.6 56.1h0M373.0 57.2h0M372.6 55.9h0M373.4 54.7h0M376.6 57.1h0M375.5 57.6h0M373.8 57.4h0M374.1 55.8h0M375.7 55.7h0M382.7 55.1h0M382.2 56.8h0M380.1 56.3h0M380.3 54.4h0M381.7 54.3h0M382.8 56.8h0M381.8 57.6h0M380.4 58.6h0M380.2 57.3h0M379.4 56.4h0M380.7 55.6h0M381.6 55.4h0M379.6 52.9h0M379.6 54.3h0M377.7 53.6h0M377.1 52.4h0M378.3 51.6h0M379.7 51.3h0M403.6 36.3h0M402.1 37.9h0M401.0 36.4h0M402.5 35.3h0M403.3 36.4h0M401.7 37.8h0M399.6 36.9h0M402.0 34.9h0M404.2 37.3h0M403.1 38.3h0M401.6 38.1h0M401.6 36.4h0M403.7 35.8h0M395.4 34.0h0M394.1 36.2h0M393.3 35.7h0M391.8 34.9h0M393.0 32.9h0M394.0 33.5h0M398.0 35.5h0M396.7 36.4h0M395.9 36.8h0M395.2 36.0h0M395.2 35.4h0M395.7 33.8h0M397.0 34.7h0M387.3 48.7h0M386.1 49.9h0M384.8 49.6h0M384.9 48.6h0M386.4 47.7h0M399.6 55.1h0M398.1 56.7h0M397.5 55.4h0M398.2 53.5h0M380.0 62.0h0M380.2 63.3h0M378.7 63.5h0M377.4 62.3h0M378.2 61.5h0M378.1 60.5h0M380.1 60.5h0M498.7 40.3h0M496.6 41.7h0M495.8 39.9h0M496.9 38.9h0M497.9 41.2h0M497.8 42.8h0M495.4 42.6h0M495.4 41.3h0M495.3 40.1h0M497.8 39.8h0M501.6 45.8h0M500.9 47.3h0M499.7 46.1h0M500.5 44.6h0M502.8 47.7h0M502.8 49.3h0M500.9 49.5h0M500.2 48.9h0M499.9 47.3h0M500.8 46.6h0M501.9 47.4h0M503.7 34.3h0M502.4 36.0h0M500.9 34.7h0M502.3 32.6h0M505.9 33.5h0M504.0 34.9h0M503.0 33.6h0M504.2 32.2h0M514.0 36.5h0M512.3 37.3h0M511.9 37.5h0M510.4 36.8h0M511.1 34.9h0M513.2 35.2h0M511.7 34.9h0M510.9 36.2h0M509.8 37.0h0M509.0 35.6h0M509.8 34.4h0M510.8 34.2h0M514.0 34.4h0M513.5 35.2h0M512.8 35.4h0M511.0 34.9h0M511.8 33.4h0M512.8 33.2h0M514.0 32.6h0M522.7 37.5h0M521.9 38.5h0M520.3 39.1h0M520.1 37.7h0M519.5 36.6h0M520.5 35.7h0M521.9 36.0h0M527.6 37.7h0M526.3 38.9h0M524.9 38.4h0M525.3 36.7h0M526.5 36.3h0M532.8 37.3h0M532.4 38.5h0M530.7 38.7h0M529.9 37.7h0M529.4 36.8h0M530.6 36.3h0M531.6 36.0h0M539.7 36.6h0M538.7 38.0h0M536.8 36.2h0M539.0 34.6h0M537.8 37.1h0M536.6 37.9h0M534.7 37.4h0M536.3 34.9h0M545.4 41.3h0M544.1 42.2h0M542.5 42.2h0M541.5 41.5h0M542.5 39.8h0M543.7 39.9h0M542.0 40.5h0M541.1 41.8h0M539.8 41.9h0M539.3 40.3h0M540.0 39.7h0M541.1 39.9h0M525.7 37.2h0M524.6 38.8h0M523.0 38.6h0M522.1 36.8h0M523.0 35.9h0M525.0 35.6h0" stroke="#b5cce8" stroke-width="1.44" stroke-linecap="round" fill="none"/>
<path d="M391.0 42.0h0M390.1 37.8h0M392.1 45.4h0M373.8 57.3h0M373.5 55.8h0M375.1 56.7h0M381.4 55.4h0M380.9 56.7h0M378.6 52.7h0M402.3 36.4h0M401.5 36.5h0M402.7 37.4h0M393.7 34.5h0M396.1 35.7h0M386.0 49.0h0M398.5 55.4h0M379.0 62.0h0M497.0 40.2h0M496.5 41.3h0M500.7 45.9h0M501.2 48.2h0M502.6 34.5h0M504.3 33.4h0M512.1 36.4h0M510.3 35.2h0M512.8 34.2h0M521.0 37.3h0M526.0 37.3h0M531.0 37.3h0M538.7 36.4h0M536.4 36.9h0M543.4 41.0h0M540.7 40.7h0M524.0 37.0h0" stroke="#b5cce8" stroke-width="1.20" stroke-linecap="round" fill="none"/>
<path d="M392.6 43.6h0M391.6 45.2h0M390.3 44.2h0M389.3 43.4h0M389.2 41.1h0M390.2 41.4h0M391.9 41.4h0M384.5 39.1h0M383.2 42.1h0M382.1 42.0h0M380.9 40.6h0M381.0 38.5h0M383.8 38.5h0M383.7 48.1h0M384.0 49.8h0M381.4 48.8h0M380.6 48.4h0M380.9 46.3h0M383.3 45.9h0M401.2 47.1h0M398.8 49.5h0M397.9 48.5h0M397.4 46.7h0M400.0 45.9h0M400.1 37.1h0M399.6 37.9h0M398.1 38.7h0M397.3 37.8h0M397.7 35.9h0M398.6 34.8h0M399.9 35.0h0M391.4 34.5h0M391.0 36.2h0M389.1 36.3h0M387.8 35.4h0M388.6 32.8h0M390.4 33.3h0M394.9 52.7h0M393.2 53.4h0M393.2 54.3h0M391.8 53.5h0M390.7 51.5h0M390.6 50.3h0M392.2 49.9h0M393.8 51.2h0M388.0 53.9h0M387.8 56.1h0M386.5 56.5h0M384.6 55.0h0M385.9 52.9h0M388.2 52.9h0M379.5 56.3h0M378.1 58.1h0M376.4 57.4h0M376.6 55.4h0M379.0 54.5h0M374.0 56.1h0M372.0 57.7h0M370.9 57.5h0M370.5 54.5h0M372.9 54.1h0M375.0 53.6h0M373.3 55.5h0M372.2 53.4h0M374.1 52.2h0M376.2 59.6h0M375.0 61.3h0M372.3 59.5h0M374.2 56.8h0" stroke="#b3c9e4" stroke-width="1.40" stroke-linecap="round" fill="none"/>
<path d="M391.0 43.0h0M382.5 39.9h0M382.3 48.0h0M398.8 47.5h0M398.7 36.6h0M389.6 35.1h0M392.6 51.9h0M386.9 54.3h0M378.0 56.0h0M372.0 56.0h0M373.7 53.5h0M374.2 59.2h0" stroke="#b3c9e4" stroke-width="1.20" stroke-linecap="round" fill="none"/>
<path d="M325.1 96.5h0M324.4 97.4h0M323.5 98.0h0M321.5 98.4h0M320.0 96.7h0M319.4 95.9h0M320.7 94.7h0M321.4 93.3h0M323.8 92.7h0M324.9 93.5h0M352.3 95.9h0M352.8 96.9h0M350.7 97.8h0M350.0 97.7h0M348.3 96.8h0M347.4 94.7h0M347.1 94.2h0M348.6 92.9h0M350.5 92.4h0M352.7 93.9h0M362.5 96.2h0M361.8 97.1h0M360.5 98.7h0M358.3 99.3h0M358.2 98.1h0M356.6 95.5h0M357.6 95.3h0M359.2 93.5h0M361.3 93.7h0M361.9 94.5h0M373.3 94.7h0M372.9 97.3h0M370.1 97.6h0M368.5 98.4h0M367.2 96.7h0M367.0 96.1h0M368.0 93.3h0M368.7 93.0h0M371.4 92.9h0M371.6 93.3h0M377.9 94.0h0M377.9 96.5h0M377.6 97.4h0M374.2 96.9h0M373.2 95.7h0M373.3 94.4h0M374.3 92.7h0M374.9 91.1h0M376.1 92.4h0M378.3 92.5h0M396.4 94.1h0M394.7 96.5h0M393.1 97.8h0M392.0 96.8h0M391.1 95.8h0M390.2 94.9h0M390.6 93.6h0M391.6 92.1h0M393.3 90.9h0M395.3 92.8h0M441.7 95.6h0M440.7 96.4h0M439.7 98.2h0M437.8 98.4h0M436.0 96.0h0M436.1 94.3h0M435.8 93.9h0M436.4 92.0h0M439.3 92.1h0M440.4 92.8h0M450.5 96.2h0M451.3 97.8h0M449.1 98.4h0M446.3 98.9h0M445.9 98.7h0M444.8 96.3h0M446.1 94.6h0M446.9 93.7h0M449.5 93.7h0M450.3 93.7h0M459.4 94.2h0M458.5 96.9h0M457.0 97.5h0M454.8 97.2h0M454.1 97.2h0M454.1 94.8h0M454.1 92.6h0M454.7 92.2h0M456.4 91.9h0M458.6 92.0h0M468.9 94.6h0M469.6 96.5h0M467.8 98.1h0M465.4 97.3h0M464.3 96.3h0M464.2 95.1h0M464.6 92.9h0M465.3 92.9h0M467.8 92.3h0M469.2 94.4h0M479.2 96.0h0M478.9 97.6h0M478.3 97.6h0M475.0 98.3h0M473.9 96.5h0M473.9 94.6h0M475.3 93.9h0M476.2 93.0h0M478.5 92.5h0M479.3 94.1h0M525.2 96.5h0M524.2 97.4h0M522.4 98.8h0M520.5 98.1h0M519.3 97.5h0M519.5 96.2h0M519.7 93.3h0M520.0 92.7h0M522.2 92.2h0M523.4 93.3h0M533.7 96.9h0M533.8 98.1h0M532.6 99.4h0M529.7 98.3h0M529.1 98.7h0M528.7 96.9h0M528.7 94.5h0M530.2 93.9h0M531.9 93.8h0M534.0 95.1h0M541.4 95.5h0M541.9 96.7h0M540.0 97.0h0M538.7 97.9h0M537.5 96.9h0M535.9 94.4h0M536.4 92.9h0M538.9 91.4h0M539.3 91.6h0M540.9 93.1h0M562.0 95.0h0M560.7 96.7h0M560.2 98.0h0M558.1 98.0h0M556.1 97.3h0M556.0 95.7h0M556.2 93.8h0M558.0 92.8h0M558.5 92.7h0M560.2 93.3h0M351.6 99.5h0M350.8 101.8h0M349.3 101.7h0M347.9 100.6h0M348.7 98.2h0M350.9 98.7h0M362.4 99.8h0M361.0 102.3h0M359.1 102.0h0M357.9 100.2h0M359.2 97.7h0M360.6 98.1h0M333.7 116.3h0M333.1 118.2h0M330.8 119.5h0M329.2 118.4h0M328.6 117.1h0M328.9 115.3h0M330.2 113.2h0M331.9 113.5h0M332.6 114.8h0M359.8 116.5h0M359.3 117.5h0M357.5 118.7h0M356.1 118.3h0M355.1 117.9h0M355.1 114.6h0M356.5 113.9h0M358.4 114.0h0M359.1 114.3h0M382.3 116.0h0M381.8 116.8h0M380.6 118.1h0M378.1 117.8h0M377.2 116.5h0M377.0 114.4h0M378.1 113.1h0M380.2 113.8h0M381.1 113.6h0M393.6 115.0h0M392.9 117.5h0M392.1 118.3h0M388.7 118.0h0M388.8 116.0h0M387.9 114.3h0M389.9 112.5h0M391.6 113.4h0M393.1 114.2h0M433.5 116.5h0M432.8 118.1h0M430.6 118.2h0M429.8 119.2h0M428.0 116.5h0M427.6 115.7h0M429.7 113.2h0M430.8 113.3h0M432.8 113.6h0M441.7 115.4h0M441.4 116.6h0M439.2 117.9h0M438.7 116.8h0M436.4 115.3h0M436.8 113.9h0M437.7 113.4h0M439.9 112.3h0M440.8 113.5h0M450.3 113.7h0M448.5 116.3h0M447.9 117.8h0M446.1 116.4h0M444.7 114.8h0M444.7 113.1h0M446.2 112.8h0M447.7 112.0h0M449.6 113.1h0M457.6 116.1h0M456.7 117.7h0M455.0 118.5h0M453.5 117.6h0M452.6 116.9h0M453.1 114.3h0M454.1 113.9h0M455.3 113.4h0M458.0 114.4h0M493.2 116.4h0M491.6 117.1h0M490.5 117.8h0M488.2 118.2h0M487.3 116.4h0M487.8 115.3h0M488.7 112.9h0M490.7 112.7h0M491.8 114.0h0M502.6 116.2h0M502.6 118.0h0M500.7 118.1h0M498.8 118.4h0M498.0 117.8h0M497.4 114.8h0M499.2 113.2h0M501.5 113.8h0M502.8 114.3h0M513.8 114.0h0M512.9 116.0h0M512.1 117.3h0M510.6 117.5h0M508.8 114.9h0M509.3 114.1h0M510.7 112.6h0M512.1 112.2h0M514.0 113.5h0M521.8 114.7h0M521.4 116.8h0M520.6 117.8h0M518.0 117.4h0M517.3 116.9h0M516.8 113.5h0M518.9 112.2h0M520.9 112.6h0M521.6 113.6h0M531.0 115.0h0M530.1 116.3h0M528.0 117.7h0M526.4 117.1h0M525.9 115.5h0M525.0 113.9h0M526.4 113.7h0M527.8 112.5h0M529.9 114.1h0M538.1 116.5h0M538.3 118.1h0M537.1 118.4h0M534.4 118.3h0M533.0 116.6h0M534.1 115.6h0M534.8 113.3h0M536.9 113.6h0M538.9 114.7h0M548.2 115.1h0M547.3 116.2h0M545.6 117.4h0M544.8 117.3h0M543.0 115.8h0M542.7 114.1h0M544.4 112.8h0M545.5 112.3h0M547.2 112.6h0M555.5 116.4h0M554.9 118.4h0M553.1 118.8h0M552.1 118.0h0M550.8 116.4h0M550.9 115.1h0M552.1 114.0h0M553.8 113.2h0M554.6 114.6h0M332.1 121.4h0M330.2 123.0h0M328.7 121.4h0M328.4 120.2h0M330.7 119.7h0M330.6 126.3h0M329.6 127.9h0M327.3 127.1h0M327.7 124.4h0M329.2 124.2h0M457.6 120.0h0M457.0 121.9h0M454.2 120.7h0M454.7 118.3h0M456.1 118.6h0M381.7 119.6h0M380.6 121.2h0M378.2 120.8h0M378.4 118.6h0M380.6 118.1h0" stroke="#b3cbe8" stroke-width="1.70" stroke-linecap="round" fill="none"/>
<path d="M322.6 95.8h0M350.1 95.4h0M359.6 96.2h0M370.0 95.2h0M375.7 94.5h0M392.8 94.4h0M438.3 94.9h0M448.2 96.1h0M456.3 94.6h0M466.6 95.3h0M476.8 95.5h0M521.7 95.5h0M530.9 96.3h0M539.1 95.0h0M558.5 95.0h0M350.0 100.0h0M360.0 100.0h0M331.1 116.2h0M357.7 116.0h0M379.5 115.7h0M390.9 115.6h0M430.8 116.2h0M439.3 114.9h0M447.2 114.6h0M455.3 115.9h0M490.1 115.6h0M500.3 116.1h0M511.5 114.6h0M519.7 115.1h0M527.9 115.1h0M536.1 116.2h0M545.3 115.3h0M553.4 116.3h0M330.0 121.0h0M329.0 126.0h0M456.0 120.0h0M380.0 120.0h0" stroke="#9fb0c6" stroke-width="2.50" stroke-linecap="round" fill="none"/>
<path d="M340.0 95.4h0M340.4 97.7h0M339.2 98.3h0M337.5 99.4h0M335.9 98.4h0M334.7 96.3h0M334.8 94.4h0M337.7 92.7h0M338.7 93.7h0M340.8 94.9h0M386.9 95.8h0M387.1 96.4h0M385.9 97.5h0M383.9 98.5h0M381.4 96.8h0M381.4 95.2h0M382.4 93.9h0M384.1 92.8h0M385.4 93.2h0M386.4 94.3h0M407.6 94.2h0M405.7 96.6h0M405.0 97.8h0M404.1 98.3h0M401.5 95.9h0M402.1 95.5h0M401.7 92.4h0M402.9 92.5h0M405.4 92.8h0M406.8 93.1h0M416.7 94.4h0M416.2 96.8h0M414.9 97.9h0M412.5 97.5h0M411.7 95.9h0M410.3 93.9h0M410.9 92.7h0M413.2 91.4h0M415.6 91.9h0M415.2 93.2h0M425.4 95.7h0M426.0 97.8h0M423.3 99.0h0M421.5 98.7h0M421.5 97.6h0M419.9 96.6h0M420.9 93.8h0M421.7 93.1h0M424.4 94.0h0M425.1 94.2h0M432.0 95.4h0M431.1 96.7h0M430.1 97.3h0M427.7 96.6h0M426.4 96.8h0M426.2 94.3h0M427.3 93.0h0M428.3 91.3h0M430.1 91.5h0M430.8 92.6h0M487.9 94.5h0M486.7 96.8h0M485.4 98.5h0M484.6 98.2h0M482.9 96.9h0M481.8 94.9h0M483.0 94.0h0M484.7 92.8h0M485.2 92.5h0M487.3 94.1h0M497.3 96.9h0M496.9 98.2h0M496.0 99.1h0M493.7 98.7h0M492.0 99.1h0M492.0 95.9h0M492.5 94.4h0M494.0 93.2h0M495.2 93.6h0M496.3 94.9h0M506.4 94.7h0M505.4 96.7h0M504.5 97.1h0M503.0 97.2h0M500.9 96.8h0M501.0 94.0h0M501.6 93.2h0M503.3 91.5h0M504.3 91.3h0M505.1 92.7h0M515.3 95.6h0M514.4 98.2h0M513.7 97.8h0M512.3 99.0h0M509.7 97.7h0M510.5 95.4h0M510.5 94.7h0M512.5 93.2h0M513.8 93.5h0M514.5 94.3h0M551.9 95.3h0M551.8 96.6h0M549.8 97.1h0M548.1 97.4h0M546.5 96.5h0M546.1 94.6h0M546.2 93.1h0M549.2 91.3h0M549.6 91.5h0M552.3 93.3h0M339.4 103.6h0M338.6 104.7h0M336.4 104.8h0M335.0 103.4h0M336.0 101.6h0M337.7 100.9h0M386.5 104.2h0M385.5 105.5h0M383.1 106.1h0M381.9 104.0h0M383.6 102.4h0M385.9 102.1h0M388.1 108.5h0M386.7 110.6h0M384.8 110.2h0M384.3 108.5h0M384.7 107.0h0M386.8 107.5h0M498.2 101.9h0M497.4 103.3h0M494.9 103.5h0M494.3 102.1h0M494.9 99.9h0M497.0 100.4h0M498.6 106.8h0M498.7 108.9h0M495.2 108.7h0M495.4 107.3h0M495.6 105.4h0M498.6 105.3h0M324.2 115.4h0M323.8 116.1h0M321.9 117.3h0M320.8 117.0h0M319.5 115.9h0M318.9 113.6h0M320.5 111.8h0M322.4 112.7h0M323.5 113.4h0M343.0 115.2h0M341.4 116.2h0M340.0 117.3h0M338.8 117.8h0M337.1 116.0h0M336.8 114.3h0M338.4 112.8h0M340.4 112.6h0M342.2 113.2h0M351.6 114.7h0M351.0 117.4h0M348.9 118.0h0M347.4 118.3h0M345.7 116.5h0M345.6 115.0h0M346.8 113.5h0M349.5 113.1h0M351.4 113.9h0M368.0 115.8h0M368.0 117.9h0M366.7 118.1h0M365.2 118.1h0M363.2 116.1h0M363.2 114.1h0M364.3 113.4h0M365.9 112.7h0M367.6 114.8h0M404.7 116.4h0M404.0 118.3h0M402.4 118.4h0M401.5 118.8h0M400.1 116.6h0M400.0 115.9h0M401.3 113.6h0M402.9 113.3h0M403.6 114.8h0M415.6 116.4h0M415.6 118.3h0M414.7 118.0h0M412.3 117.3h0M411.3 116.1h0M410.8 115.0h0M412.7 114.0h0M413.7 113.3h0M415.1 114.2h0M425.3 116.1h0M425.3 118.0h0M424.3 117.8h0M422.6 117.5h0M420.2 116.9h0M420.2 115.2h0M422.2 113.2h0M423.9 113.7h0M425.2 114.4h0M466.4 114.4h0M466.2 116.7h0M464.9 117.1h0M463.5 117.7h0M462.5 115.9h0M462.4 113.8h0M463.6 112.0h0M464.4 112.7h0M466.7 114.0h0M476.2 115.9h0M475.4 116.6h0M474.1 117.4h0M472.1 116.8h0M470.6 115.7h0M471.4 113.9h0M473.1 113.3h0M473.5 112.1h0M475.3 114.1h0M484.3 115.4h0M484.5 117.1h0M482.3 118.7h0M481.1 117.6h0M479.7 117.3h0M478.7 115.1h0M480.1 113.8h0M482.1 113.4h0M484.1 114.7h0M565.5 116.5h0M564.5 118.6h0M563.6 118.3h0M561.9 119.1h0M559.8 116.8h0M560.5 115.1h0M560.9 113.7h0M562.5 114.1h0M564.7 114.6h0M572.8 115.5h0M571.5 117.9h0M570.3 117.7h0M568.4 116.8h0M567.5 116.1h0M567.2 114.7h0M567.8 112.7h0M570.9 112.7h0M572.2 114.2h0M407.1 119.9h0M405.6 121.3h0M403.6 121.3h0M403.4 119.2h0M405.1 118.4h0M410.6 124.3h0M410.0 125.6h0M407.5 124.7h0M407.4 122.8h0M409.7 122.5h0M413.6 126.7h0M412.7 128.2h0M410.8 128.5h0M410.2 126.0h0M412.3 125.4h0M353.7 120.5h0M352.5 122.3h0M350.7 121.5h0M350.8 120.0h0M352.1 118.9h0M364.9 123.3h0M363.5 124.9h0M361.5 124.5h0M361.7 121.9h0M363.2 121.6h0" stroke="#f5a98b" stroke-width="1.70" stroke-linecap="round" fill="none"/>
<path d="M337.8 96.0h0M384.3 95.2h0M404.2 94.9h0M413.7 94.9h0M423.2 95.9h0M428.9 94.6h0M485.0 95.1h0M494.2 96.3h0M503.4 94.6h0M512.6 95.9h0M549.3 94.7h0M337.0 103.0h0M384.5 104.0h0M386.0 109.0h0M496.0 102.0h0M497.0 107.0h0M321.6 114.8h0M339.7 115.0h0M348.8 115.5h0M365.9 115.9h0M402.3 116.4h0M413.7 115.8h0M423.2 115.6h0M464.5 114.9h0M473.7 115.2h0M481.9 115.8h0M562.6 116.1h0M569.8 115.4h0M405.0 120.0h0M409.0 124.0h0M412.0 127.0h0M352.0 121.0h0M363.0 123.0h0" stroke="#e3a488" stroke-width="2.50" stroke-linecap="round" fill="none"/>
<path d="M320.7 132.4h0M328.6 132.4h0M344.4 132.4h0M368.1 132.4h0M399.7 132.4h0M407.6 132.4h0M415.5 132.4h0M423.4 132.4h0M431.3 132.4h0M439.2 132.4h0M447.1 132.4h0M455.0 132.4h0M462.9 132.4h0M470.8 132.4h0M478.7 132.4h0M486.6 132.4h0M494.5 132.4h0M502.4 132.4h0M526.1 132.4h0M534.0 132.4h0M541.9 132.4h0M557.7 132.4h0M320.7 143.0h0M335.3 143.0h0M342.6 143.0h0M430.2 143.0h0M444.8 143.0h0M452.1 143.0h0M459.4 143.0h0M466.7 143.0h0M474.0 143.0h0M488.6 143.0h0M495.9 143.0h0M503.2 143.0h0M510.5 143.0h0M517.8 143.0h0M525.1 143.0h0M532.4 143.0h0M539.7 143.0h0M547.0 143.0h0M554.3 143.0h0M320.7 152.6h0M327.7 152.6h0M334.7 152.6h0M341.7 152.6h0M348.7 152.6h0M355.7 152.6h0M362.7 152.6h0M369.7 152.6h0M376.7 152.6h0M383.7 152.6h0M390.7 152.6h0M397.7 152.6h0M404.7 152.6h0M411.7 152.6h0M418.7 152.6h0M425.7 152.6h0M432.7 152.6h0M446.7 152.6h0M453.7 152.6h0M460.7 152.6h0M467.7 152.6h0M474.7 152.6h0M481.7 152.6h0M488.7 152.6h0M495.7 152.6h0M502.7 152.6h0M516.7 152.6h0M523.7 152.6h0M530.7 152.6h0M544.7 152.6h0M551.7 152.6h0M558.7 152.6h0M320.7 159.6h0M327.7 159.6h0M334.7 159.6h0M341.7 159.6h0M348.7 159.6h0M355.7 159.6h0M362.7 159.6h0M369.7 159.6h0M376.7 159.6h0M383.7 159.6h0M404.7 159.6h0M411.7 159.6h0M418.7 159.6h0M425.7 159.6h0M446.7 159.6h0M453.7 159.6h0M467.7 159.6h0M481.7 159.6h0M488.7 159.6h0M495.7 159.6h0M502.7 159.6h0M509.7 159.6h0M523.7 159.6h0M530.7 159.6h0M551.7 159.6h0M558.7 159.6h0M320.7 166.6h0M327.7 166.6h0M334.7 166.6h0" stroke="#b3cbe8" stroke-width="1.40" stroke-linecap="round" fill="none"/>
<path d="M323.2 131.6h0M323.0 133.6h0M321.5 134.9h0M319.5 134.7h0M318.2 133.2h0M318.4 131.2h0M319.9 129.9h0M321.9 130.1h0M326.5 134.0h0M326.0 132.1h0M327.0 130.3h0M328.9 129.8h0M330.7 130.8h0M331.2 132.7h0M330.2 134.5h0M328.3 135.0h0M345.0 129.9h0M346.6 131.1h0M346.9 133.0h0M345.7 134.6h0M343.8 134.9h0M342.2 133.7h0M341.9 131.8h0M343.1 130.2h0M370.1 134.1h0M368.3 135.0h0M366.4 134.4h0M365.5 132.6h0M366.1 130.7h0M367.9 129.8h0M369.8 130.4h0M370.7 132.2h0M398.6 130.0h0M400.6 130.0h0M402.1 131.3h0M402.1 133.3h0M400.8 134.8h0M398.8 134.8h0M397.3 133.5h0M397.3 131.5h0M408.8 134.7h0M406.8 134.9h0M405.3 133.6h0M405.1 131.6h0M406.4 130.1h0M408.4 129.9h0M409.9 131.2h0M410.1 133.2h0M416.4 130.0h0M417.9 131.4h0M417.9 133.3h0M416.5 134.8h0M414.6 134.8h0M413.1 133.4h0M413.1 131.5h0M414.5 130.0h0M423.1 135.0h0M421.4 134.0h0M420.8 132.1h0M421.8 130.4h0M423.7 129.8h0M425.4 130.8h0M426.0 132.7h0M425.0 134.4h0M428.9 133.5h0M428.9 131.5h0M430.2 130.0h0M432.2 130.0h0M433.7 131.3h0M433.7 133.3h0M432.4 134.8h0M430.4 134.8h0M441.1 134.2h0M439.3 135.0h0M437.4 134.3h0M436.6 132.5h0M437.3 130.6h0M439.1 129.8h0M441.0 130.5h0M441.8 132.3h0M444.8 133.7h0M444.6 131.7h0M445.8 130.1h0M447.8 129.9h0M449.4 131.1h0M449.6 133.1h0M448.4 134.7h0M446.4 134.9h0M456.9 130.6h0M457.6 132.5h0M456.8 134.3h0M454.9 135.0h0M453.1 134.2h0M452.4 132.3h0M453.2 130.5h0M455.1 129.8h0M462.3 129.9h0M464.3 130.2h0M465.4 131.8h0M465.1 133.8h0M463.5 134.9h0M461.5 134.6h0M460.4 133.0h0M460.7 131.0h0M470.3 135.0h0M468.6 133.9h0M468.2 131.9h0M469.3 130.2h0M471.3 129.8h0M473.0 130.9h0M473.4 132.9h0M472.3 134.6h0M479.2 129.9h0M480.9 131.0h0M481.2 132.9h0M480.1 134.6h0M478.2 134.9h0M476.5 133.8h0M476.2 131.9h0M477.3 130.2h0M484.3 131.1h0M485.9 129.9h0M487.9 130.1h0M489.1 131.7h0M488.9 133.7h0M487.3 134.9h0M485.3 134.7h0M484.1 133.1h0M494.0 129.8h0M496.0 130.3h0M497.1 131.9h0M496.6 133.9h0M495.0 135.0h0M493.0 134.5h0M491.9 132.9h0M492.4 130.9h0M504.0 134.4h0M502.1 135.0h0M500.4 134.0h0M499.8 132.1h0M500.8 130.4h0M502.7 129.8h0M504.4 130.8h0M505.0 132.7h0M524.4 134.4h0M523.5 132.6h0M524.1 130.7h0M525.9 129.8h0M527.8 130.4h0M528.7 132.2h0M528.1 134.1h0M526.3 135.0h0M535.6 130.4h0M536.6 132.1h0M536.0 134.0h0M534.3 135.0h0M532.4 134.4h0M531.4 132.7h0M532.0 130.8h0M533.7 129.8h0M540.3 130.4h0M542.2 129.8h0M543.9 130.8h0M544.5 132.7h0M543.5 134.4h0M541.6 135.0h0M539.9 134.0h0M539.3 132.1h0M555.3 133.4h0M555.3 131.4h0M556.7 130.0h0M558.7 130.0h0M560.1 131.4h0M560.1 133.4h0M558.7 134.8h0M556.7 134.8h0M321.5 145.6h0M318.9 145.0h0M318.1 142.4h0M319.9 140.4h0M322.5 141.0h0M323.3 143.6h0M333.0 141.7h0M335.3 140.3h0M337.6 141.6h0M337.6 144.3h0M335.3 145.7h0M333.0 144.4h0M341.8 145.6h0M340.0 143.6h0M340.8 141.0h0M343.4 140.4h0M345.2 142.4h0M344.4 145.0h0M428.2 144.8h0M427.6 142.2h0M429.6 140.4h0M432.2 141.2h0M432.8 143.8h0M430.8 145.6h0M442.1 143.5h0M443.1 140.9h0M445.7 140.5h0M447.5 142.5h0M446.5 145.1h0M443.9 145.5h0M449.9 144.6h0M449.6 141.9h0M451.8 140.3h0M454.3 141.4h0M454.6 144.1h0M452.4 145.7h0M460.9 140.7h0M462.1 143.2h0M460.6 145.4h0M457.9 145.3h0M456.7 142.8h0M458.2 140.6h0M468.6 141.1h0M469.3 143.7h0M467.4 145.6h0M464.8 144.9h0M464.1 142.3h0M466.0 140.4h0M473.9 140.3h0M476.3 141.5h0M476.4 144.2h0M474.1 145.7h0M471.7 144.5h0M471.6 141.8h0M486.7 141.1h0M489.4 140.4h0M491.2 142.4h0M490.5 144.9h0M487.8 145.6h0M486.0 143.6h0M496.8 140.5h0M498.6 142.5h0M497.7 145.0h0M495.0 145.5h0M493.2 143.5h0M494.1 141.0h0M501.1 141.3h0M503.6 140.3h0M505.7 142.0h0M505.3 144.7h0M502.8 145.7h0M500.7 144.0h0M513.2 143.4h0M511.5 145.5h0M508.8 145.1h0M507.8 142.6h0M509.5 140.5h0M512.2 140.9h0M515.5 144.4h0M515.4 141.7h0M517.7 140.3h0M520.1 141.6h0M520.2 144.3h0M517.9 145.7h0M524.6 145.7h0M522.6 143.9h0M523.0 141.3h0M525.6 140.3h0M527.6 142.1h0M527.2 144.7h0M533.9 140.7h0M535.1 143.2h0M533.6 145.4h0M530.9 145.3h0M529.7 142.8h0M531.2 140.6h0M541.2 140.7h0M542.4 143.1h0M540.9 145.4h0M538.2 145.3h0M537.0 142.9h0M538.5 140.6h0M544.4 142.2h0M546.4 140.4h0M549.0 141.1h0M549.6 143.8h0M547.6 145.6h0M545.0 144.9h0M556.4 141.3h0M556.8 144.0h0M554.7 145.7h0M552.2 144.7h0M551.8 142.0h0M553.9 140.3h0M323.0 153.5h0M319.8 154.9h0M318.4 151.7h0M321.6 150.3h0M330.0 153.5h0M326.8 154.9h0M325.4 151.7h0M328.6 150.3h0M337.0 153.5h0M333.8 154.9h0M332.4 151.7h0M335.6 150.3h0M344.0 153.5h0M340.8 154.9h0M339.4 151.7h0M342.6 150.3h0M351.0 153.5h0M347.8 154.9h0M346.4 151.7h0M349.6 150.3h0M358.0 153.5h0M354.8 154.9h0M353.4 151.7h0M356.6 150.3h0M365.0 153.5h0M361.8 154.9h0M360.4 151.7h0M363.6 150.3h0M372.0 153.5h0M368.8 154.9h0M367.4 151.7h0M370.6 150.3h0M379.0 153.5h0M375.8 154.9h0M374.4 151.7h0M377.6 150.3h0M386.0 153.5h0M382.8 154.9h0M381.4 151.7h0M384.6 150.3h0M393.0 153.5h0M389.8 154.9h0M388.4 151.7h0M391.6 150.3h0M400.0 153.5h0M396.8 154.9h0M395.4 151.7h0M398.6 150.3h0M407.0 153.5h0M403.8 154.9h0M402.4 151.7h0M405.6 150.3h0M414.0 153.5h0M410.8 154.9h0M409.4 151.7h0M412.6 150.3h0M421.0 153.5h0M417.8 154.9h0M416.4 151.7h0M419.6 150.3h0M428.0 153.5h0M424.8 154.9h0M423.4 151.7h0M426.6 150.3h0M435.0 153.5h0M431.8 154.9h0M430.4 151.7h0M433.6 150.3h0M449.0 153.5h0M445.8 154.9h0M444.4 151.7h0M447.6 150.3h0M456.0 153.5h0M452.8 154.9h0M451.4 151.7h0M454.6 150.3h0M463.0 153.5h0M459.8 154.9h0M458.4 151.7h0M461.6 150.3h0M470.0 153.5h0M466.8 154.9h0M465.4 151.7h0M468.6 150.3h0M477.0 153.5h0M473.8 154.9h0M472.4 151.7h0M475.6 150.3h0M484.0 153.5h0M480.8 154.9h0M479.4 151.7h0M482.6 150.3h0M491.0 153.5h0M487.8 154.9h0M486.4 151.7h0M489.6 150.3h0M498.0 153.5h0M494.8 154.9h0M493.4 151.7h0M496.6 150.3h0M505.0 153.5h0M501.8 154.9h0M500.4 151.7h0M503.6 150.3h0M519.0 153.5h0M515.8 154.9h0M514.4 151.7h0M517.6 150.3h0M526.0 153.5h0M522.8 154.9h0M521.4 151.7h0M524.6 150.3h0M533.0 153.5h0M529.8 154.9h0M528.4 151.7h0M531.6 150.3h0M547.0 153.5h0M543.8 154.9h0M542.4 151.7h0M545.6 150.3h0M554.0 153.5h0M550.8 154.9h0M549.4 151.7h0M552.6 150.3h0M561.0 153.5h0M557.8 154.9h0M556.4 151.7h0M559.6 150.3h0M323.0 160.5h0M319.8 161.9h0M318.4 158.7h0M321.6 157.3h0M330.0 160.5h0M326.8 161.9h0M325.4 158.7h0M328.6 157.3h0M337.0 160.5h0M333.8 161.9h0M332.4 158.7h0M335.6 157.3h0M344.0 160.5h0M340.8 161.9h0M339.4 158.7h0M342.6 157.3h0M351.0 160.5h0M347.8 161.9h0M346.4 158.7h0M349.6 157.3h0M358.0 160.5h0M354.8 161.9h0M353.4 158.7h0M356.6 157.3h0M365.0 160.5h0M361.8 161.9h0M360.4 158.7h0M363.6 157.3h0M372.0 160.5h0M368.8 161.9h0M367.4 158.7h0M370.6 157.3h0M379.0 160.5h0M375.8 161.9h0M374.4 158.7h0M377.6 157.3h0M386.0 160.5h0M382.8 161.9h0M381.4 158.7h0M384.6 157.3h0M407.0 160.5h0M403.8 161.9h0M402.4 158.7h0M405.6 157.3h0M414.0 160.5h0M410.8 161.9h0M409.4 158.7h0M412.6 157.3h0M421.0 160.5h0M417.8 161.9h0M416.4 158.7h0M419.6 157.3h0M428.0 160.5h0M424.8 161.9h0M423.4 158.7h0M426.6 157.3h0M449.0 160.5h0M445.8 161.9h0M444.4 158.7h0M447.6 157.3h0M456.0 160.5h0M452.8 161.9h0M451.4 158.7h0M454.6 157.3h0M470.0 160.5h0M466.8 161.9h0M465.4 158.7h0M468.6 157.3h0M484.0 160.5h0M480.8 161.9h0M479.4 158.7h0M482.6 157.3h0M491.0 160.5h0M487.8 161.9h0M486.4 158.7h0M489.6 157.3h0M498.0 160.5h0M494.8 161.9h0M493.4 158.7h0M496.6 157.3h0M505.0 160.5h0M501.8 161.9h0M500.4 158.7h0M503.6 157.3h0M512.0 160.5h0M508.8 161.9h0M507.4 158.7h0M510.6 157.3h0M526.0 160.5h0M522.8 161.9h0M521.4 158.7h0M524.6 157.3h0M533.0 160.5h0M529.8 161.9h0M528.4 158.7h0M531.6 157.3h0M554.0 160.5h0M550.8 161.9h0M549.4 158.7h0M552.6 157.3h0M561.0 160.5h0M557.8 161.9h0M556.4 158.7h0M559.6 157.3h0M323.0 167.5h0M319.8 168.9h0M318.4 165.7h0M321.6 164.3h0M330.0 167.5h0M326.8 168.9h0M325.4 165.7h0M328.6 164.3h0M337.0 167.5h0M333.8 168.9h0M332.4 165.7h0M335.6 164.3h0M318.5 174.9h0M318.5 178.3h0M321.7 174.9h0M321.7 178.3h0M328.1 174.9h0M328.1 178.3h0M334.5 174.9h0M334.5 178.3h0M337.8 174.9h0M337.8 178.3h0M344.2 174.9h0M344.2 178.3h0M347.4 174.9h0M347.4 178.3h0M353.8 174.9h0M353.8 178.3h0M357.0 174.9h0M357.0 178.3h0M360.2 174.9h0M360.2 178.3h0M363.4 174.9h0M363.4 178.3h0M369.9 174.9h0M369.9 178.3h0M376.3 174.9h0M376.3 178.3h0M379.5 174.9h0M379.5 178.3h0M382.7 174.9h0M382.7 178.3h0M385.9 174.9h0M385.9 178.3h0M389.1 174.9h0M389.1 178.3h0M392.3 174.9h0M392.3 178.3h0M398.7 174.9h0M398.7 178.3h0M402.0 174.9h0M402.0 178.3h0M405.2 174.9h0M405.2 178.3h0M408.4 174.9h0M408.4 178.3h0M414.8 174.9h0M414.8 178.3h0M418.0 174.9h0M418.0 178.3h0M421.2 174.9h0M421.2 178.3h0M424.4 174.9h0M424.4 178.3h0M427.6 174.9h0M427.6 178.3h0M430.8 174.9h0M430.8 178.3h0M434.1 174.9h0M434.1 178.3h0M440.5 174.9h0M440.5 178.3h0M443.7 174.9h0M443.7 178.3h0M450.1 174.9h0M450.1 178.3h0M453.3 174.9h0M453.3 178.3h0M459.7 174.9h0M459.7 178.3h0M466.2 174.9h0M466.2 178.3h0M469.4 174.9h0M469.4 178.3h0M472.6 174.9h0M472.6 178.3h0M482.2 174.9h0M482.2 178.3h0M491.8 174.9h0M491.8 178.3h0M495.0 174.9h0M495.0 178.3h0M498.3 174.9h0M498.3 178.3h0M501.5 174.9h0M501.5 178.3h0M504.7 174.9h0M504.7 178.3h0M511.1 174.9h0M511.1 178.3h0M517.5 174.9h0M517.5 178.3h0M520.7 174.9h0M520.7 178.3h0M527.1 174.9h0M527.1 178.3h0M530.4 174.9h0M530.4 178.3h0M536.8 174.9h0M536.8 178.3h0M540.0 174.9h0M540.0 178.3h0M543.2 174.9h0M543.2 178.3h0M549.6 174.9h0M549.6 178.3h0M552.8 174.9h0M552.8 178.3h0M556.0 174.9h0M556.0 178.3h0M559.2 174.9h0M559.2 178.3h0M318.5 181.4h0M318.5 184.8h0M321.7 181.4h0M321.7 184.8h0M324.9 181.4h0M324.9 184.8h0M328.1 181.4h0M328.1 184.8h0M334.5 181.4h0M334.5 184.8h0M337.8 181.4h0M337.8 184.8h0M341.0 181.4h0M341.0 184.8h0M344.2 181.4h0M344.2 184.8h0M347.4 181.4h0M347.4 184.8h0M350.6 181.4h0M350.6 184.8h0M353.8 181.4h0M353.8 184.8h0M360.2 181.4h0M360.2 184.8h0M363.4 181.4h0M363.4 184.8h0M366.6 181.4h0M366.6 184.8h0M369.9 181.4h0M369.9 184.8h0M373.1 181.4h0M373.1 184.8h0M376.3 181.4h0M376.3 184.8h0M382.7 181.4h0M382.7 184.8h0M389.1 181.4h0M389.1 184.8h0M395.5 181.4h0M395.5 184.8h0M398.7 181.4h0M398.7 184.8h0M402.0 181.4h0M402.0 184.8h0M405.2 181.4h0M405.2 184.8h0M408.4 181.4h0M408.4 184.8h0M411.6 181.4h0M411.6 184.8h0M414.8 181.4h0M414.8 184.8h0M418.0 181.4h0M418.0 184.8h0M421.2 181.4h0M421.2 184.8h0M424.4 181.4h0M424.4 184.8h0M427.6 181.4h0M427.6 184.8h0M430.8 181.4h0M430.8 184.8h0M434.1 181.4h0M434.1 184.8h0M437.3 181.4h0M437.3 184.8h0M443.7 181.4h0M443.7 184.8h0M446.9 181.4h0M446.9 184.8h0M453.3 181.4h0M453.3 184.8h0M459.7 181.4h0M459.7 184.8h0M462.9 181.4h0M462.9 184.8h0M466.2 181.4h0M466.2 184.8h0M475.8 181.4h0M475.8 184.8h0M479.0 181.4h0M479.0 184.8h0M482.2 181.4h0M482.2 184.8h0M485.4 181.4h0M485.4 184.8h0M488.6 181.4h0M488.6 184.8h0M495.0 181.4h0M495.0 184.8h0M504.7 181.4h0M504.7 184.8h0M507.9 181.4h0M507.9 184.8h0M514.3 181.4h0M514.3 184.8h0M517.5 181.4h0M517.5 184.8h0M520.7 181.4h0M520.7 184.8h0M523.9 181.4h0M523.9 184.8h0M527.1 181.4h0M527.1 184.8h0M533.6 181.4h0M533.6 184.8h0M536.8 181.4h0M536.8 184.8h0M540.0 181.4h0M540.0 184.8h0M543.2 181.4h0M543.2 184.8h0M552.8 181.4h0M552.8 184.8h0M559.2 181.4h0M559.2 184.8h0M318.5 187.8h0M318.5 191.2h0M321.7 187.8h0M321.7 191.2h0M331.3 187.8h0M331.3 191.2h0M334.5 187.8h0M334.5 191.2h0M337.8 187.8h0M337.8 191.2h0M344.2 187.8h0M344.2 191.2h0M347.4 187.8h0M347.4 191.2h0M350.6 187.8h0M350.6 191.2h0M353.8 187.8h0M353.8 191.2h0M360.2 187.8h0M360.2 191.2h0M363.4 187.8h0M363.4 191.2h0M366.6 187.8h0M366.6 191.2h0M369.9 187.8h0M369.9 191.2h0M373.1 187.8h0M373.1 191.2h0M376.3 187.8h0M376.3 191.2h0M382.7 187.8h0M382.7 191.2h0M385.9 187.8h0M385.9 191.2h0M389.1 187.8h0M389.1 191.2h0M392.3 187.8h0M392.3 191.2h0M395.5 187.8h0M395.5 191.2h0M402.0 187.8h0M402.0 191.2h0M405.2 187.8h0M405.2 191.2h0M408.4 187.8h0M408.4 191.2h0M411.6 187.8h0M411.6 191.2h0M418.0 187.8h0M418.0 191.2h0M421.2 187.8h0M421.2 191.2h0M424.4 187.8h0M424.4 191.2h0M427.6 187.8h0M427.6 191.2h0M430.8 187.8h0M430.8 191.2h0M434.1 187.8h0M434.1 191.2h0M437.3 187.8h0M437.3 191.2h0M440.5 187.8h0M440.5 191.2h0M446.9 187.8h0M446.9 191.2h0M450.1 187.8h0M450.1 191.2h0M453.3 187.8h0M453.3 191.2h0M456.5 187.8h0M456.5 191.2h0M462.9 187.8h0M462.9 191.2h0M466.2 187.8h0M466.2 191.2h0M469.4 187.8h0M469.4 191.2h0M475.8 187.8h0M475.8 191.2h0M479.0 187.8h0M479.0 191.2h0M482.2 187.8h0M482.2 191.2h0M488.6 187.8h0M488.6 191.2h0M491.8 187.8h0M491.8 191.2h0M495.0 187.8h0M495.0 191.2h0M501.5 187.8h0M501.5 191.2h0M504.7 187.8h0M504.7 191.2h0M507.9 187.8h0M507.9 191.2h0M511.1 187.8h0M511.1 191.2h0M514.3 187.8h0M514.3 191.2h0M520.7 187.8h0M520.7 191.2h0M523.9 187.8h0M523.9 191.2h0M527.1 187.8h0M527.1 191.2h0M530.4 187.8h0M530.4 191.2h0M533.6 187.8h0M533.6 191.2h0M543.2 187.8h0M543.2 191.2h0M546.4 187.8h0M546.4 191.2h0M549.6 187.8h0M549.6 191.2h0M552.8 187.8h0M552.8 191.2h0M556.0 187.8h0M556.0 191.2h0M559.2 187.8h0M559.2 191.2h0M562.5 187.8h0M562.5 191.2h0M318.5 194.8h0M318.5 198.2h0M321.7 194.8h0M321.7 198.2h0M324.9 194.8h0M324.9 198.2h0M328.1 194.8h0M328.1 198.2h0M331.3 194.8h0M331.3 198.2h0M334.5 194.8h0M334.5 198.2h0M337.8 194.8h0M337.8 198.2h0M347.4 194.8h0M347.4 198.2h0M353.8 194.8h0M353.8 198.2h0M357.0 194.8h0M357.0 198.2h0M360.2 194.8h0M360.2 198.2h0M363.4 194.8h0M363.4 198.2h0M369.9 194.8h0M369.9 198.2h0M373.1 194.8h0M373.1 198.2h0M376.3 194.8h0M376.3 198.2h0M379.5 194.8h0M379.5 198.2h0M382.7 194.8h0M382.7 198.2h0M385.9 194.8h0M385.9 198.2h0M389.1 194.8h0M389.1 198.2h0M392.3 194.8h0M392.3 198.2h0M395.5 194.8h0M395.5 198.2h0M398.7 194.8h0M398.7 198.2h0M405.2 194.8h0M405.2 198.2h0M408.4 194.8h0M408.4 198.2h0M411.6 194.8h0M411.6 198.2h0M414.8 194.8h0M414.8 198.2h0M418.0 194.8h0M418.0 198.2h0M421.2 194.8h0M421.2 198.2h0M424.4 194.8h0M424.4 198.2h0M427.6 194.8h0M427.6 198.2h0M430.8 194.8h0M430.8 198.2h0M434.1 194.8h0M434.1 198.2h0M437.3 194.8h0M437.3 198.2h0M440.5 194.8h0M440.5 198.2h0M443.7 194.8h0M443.7 198.2h0M446.9 194.8h0M446.9 198.2h0M450.1 194.8h0M450.1 198.2h0M453.3 194.8h0M453.3 198.2h0M459.7 194.8h0M459.7 198.2h0M462.9 194.8h0M462.9 198.2h0M466.2 194.8h0M466.2 198.2h0M469.4 194.8h0M469.4 198.2h0M475.8 194.8h0M475.8 198.2h0M479.0 194.8h0M479.0 198.2h0M482.2 194.8h0M482.2 198.2h0M485.4 194.8h0M485.4 198.2h0M488.6 194.8h0M488.6 198.2h0M491.8 194.8h0M491.8 198.2h0M495.0 194.8h0M495.0 198.2h0M498.3 194.8h0M498.3 198.2h0M501.5 194.8h0M501.5 198.2h0M504.7 194.8h0M504.7 198.2h0M511.1 194.8h0M511.1 198.2h0M514.3 194.8h0M514.3 198.2h0M517.5 194.8h0M517.5 198.2h0M520.7 194.8h0M520.7 198.2h0M523.9 194.8h0M523.9 198.2h0M527.1 194.8h0M527.1 198.2h0M533.6 194.8h0M533.6 198.2h0M536.8 194.8h0M536.8 198.2h0M540.0 194.8h0M540.0 198.2h0M549.6 194.8h0M549.6 198.2h0M318.5 201.2h0M318.5 204.6h0M321.7 201.2h0M321.7 204.6h0M324.9 201.2h0M324.9 204.6h0M328.1 201.2h0M328.1 204.6h0M331.3 201.2h0M331.3 204.6h0M334.5 201.2h0M334.5 204.6h0M341.0 201.2h0M341.0 204.6h0M344.2 201.2h0M344.2 204.6h0M347.4 201.2h0M347.4 204.6h0M350.6 201.2h0M350.6 204.6h0M353.8 201.2h0M353.8 204.6h0M357.0 201.2h0M357.0 204.6h0M360.2 201.2h0M360.2 204.6h0M363.4 201.2h0M363.4 204.6h0M366.6 201.2h0M366.6 204.6h0M373.1 201.2h0M373.1 204.6h0M379.5 201.2h0M379.5 204.6h0M382.7 201.2h0M382.7 204.6h0M385.9 201.2h0M385.9 204.6h0M389.1 201.2h0M389.1 204.6h0M392.3 201.2h0M392.3 204.6h0M395.5 201.2h0M395.5 204.6h0M402.0 201.2h0M402.0 204.6h0M405.2 201.2h0M405.2 204.6h0M408.4 201.2h0M408.4 204.6h0M411.6 201.2h0M411.6 204.6h0M414.8 201.2h0M414.8 204.6h0M418.0 201.2h0M418.0 204.6h0" stroke="#b3cbe8" stroke-width="1.50" stroke-linecap="round" fill="none"/>
<path d="M336.5 132.4h0M352.3 132.4h0M360.2 132.4h0M376.0 132.4h0M383.9 132.4h0M391.8 132.4h0M510.3 132.4h0M518.2 132.4h0M549.8 132.4h0M328.0 143.0h0M349.9 143.0h0M357.2 143.0h0M364.5 143.0h0M371.8 143.0h0M379.1 143.0h0M386.4 143.0h0M393.7 143.0h0M401.0 143.0h0M408.3 143.0h0M415.6 143.0h0M422.9 143.0h0M437.5 143.0h0M481.3 143.0h0M561.6 143.0h0M439.7 152.6h0M509.7 152.6h0M537.7 152.6h0M390.7 159.6h0M397.7 159.6h0M432.7 159.6h0M439.7 159.6h0M460.7 159.6h0M474.7 159.6h0M516.7 159.6h0M537.7 159.6h0M544.7 159.6h0" stroke="#f5a98b" stroke-width="1.40" stroke-linecap="round" fill="none"/>
<path d="M338.9 133.3h0M337.5 134.8h0M335.6 134.8h0M334.1 133.4h0M334.1 131.5h0M335.5 130.0h0M337.4 130.0h0M338.9 131.4h0M351.5 134.9h0M350.0 133.6h0M349.8 131.6h0M351.1 130.1h0M353.1 129.9h0M354.6 131.2h0M354.8 133.2h0M353.5 134.7h0M359.6 129.9h0M361.6 130.2h0M362.7 131.8h0M362.4 133.8h0M360.8 134.9h0M358.8 134.6h0M357.7 133.0h0M358.0 131.0h0M373.6 131.5h0M375.0 130.0h0M376.9 130.0h0M378.4 131.4h0M378.4 133.3h0M377.0 134.8h0M375.1 134.8h0M373.6 133.4h0M383.9 129.8h0M385.8 130.6h0M386.5 132.4h0M385.7 134.3h0M383.9 135.0h0M382.0 134.2h0M381.3 132.4h0M382.1 130.5h0M389.4 131.4h0M390.9 130.0h0M392.8 130.0h0M394.2 131.5h0M394.2 133.4h0M392.7 134.8h0M390.8 134.8h0M389.4 133.3h0M512.3 134.1h0M510.5 135.0h0M508.6 134.4h0M507.7 132.6h0M508.3 130.7h0M510.1 129.8h0M512.0 130.4h0M512.9 132.2h0M517.3 130.0h0M519.3 130.0h0M520.6 131.5h0M520.6 133.5h0M519.1 134.8h0M517.1 134.8h0M515.8 133.3h0M515.8 131.3h0M552.3 132.9h0M551.2 134.6h0M549.3 134.9h0M547.6 133.8h0M547.3 131.9h0M548.4 130.2h0M550.3 129.9h0M552.0 131.0h0M328.1 145.7h0M325.7 144.4h0M325.6 141.7h0M327.9 140.3h0M330.3 141.6h0M330.4 144.3h0M348.9 140.5h0M351.6 140.9h0M352.6 143.4h0M350.9 145.5h0M348.2 145.1h0M347.2 142.6h0M359.8 143.7h0M357.9 145.6h0M355.3 144.9h0M354.6 142.3h0M356.5 140.4h0M359.1 141.1h0M361.9 143.5h0M362.7 141.0h0M365.4 140.4h0M367.1 142.5h0M366.3 145.0h0M363.6 145.6h0M370.4 140.7h0M373.1 140.6h0M374.5 142.9h0M373.2 145.3h0M370.5 145.4h0M369.1 143.1h0M381.7 142.4h0M380.9 145.0h0M378.3 145.6h0M376.5 143.6h0M377.3 141.0h0M379.9 140.4h0M386.3 140.3h0M388.7 141.6h0M388.8 144.3h0M386.5 145.7h0M384.1 144.4h0M384.0 141.7h0M391.5 141.4h0M394.0 140.3h0M396.2 141.9h0M395.9 144.6h0M393.4 145.7h0M391.2 144.1h0M403.5 144.0h0M401.3 145.7h0M398.9 144.6h0M398.5 142.0h0M400.7 140.3h0M403.1 141.4h0M408.9 145.6h0M406.3 144.8h0M405.7 142.2h0M407.7 140.4h0M410.3 141.2h0M410.9 143.8h0M418.2 142.4h0M417.4 145.0h0M414.8 145.6h0M413.0 143.6h0M413.8 141.0h0M416.4 140.4h0M422.4 145.7h0M420.4 143.9h0M420.9 141.2h0M423.4 140.3h0M425.4 142.1h0M424.9 144.8h0M436.2 145.4h0M434.8 143.1h0M436.1 140.7h0M438.8 140.6h0M440.2 142.9h0M438.9 145.3h0M478.8 141.9h0M481.0 140.3h0M483.5 141.4h0M483.8 144.1h0M481.6 145.7h0M479.1 144.6h0M564.3 143.0h0M562.9 145.4h0M560.2 145.3h0M558.9 143.0h0M560.3 140.6h0M563.0 140.7h0M442.0 153.5h0M438.8 154.9h0M437.4 151.7h0M440.6 150.3h0M512.0 153.5h0M508.8 154.9h0M507.4 151.7h0M510.6 150.3h0M540.0 153.5h0M536.8 154.9h0M535.4 151.7h0M538.6 150.3h0M393.0 160.5h0M389.8 161.9h0M388.4 158.7h0M391.6 157.3h0M400.0 160.5h0M396.8 161.9h0M395.4 158.7h0M398.6 157.3h0M435.0 160.5h0M431.8 161.9h0M430.4 158.7h0M433.6 157.3h0M442.0 160.5h0M438.8 161.9h0M437.4 158.7h0M440.6 157.3h0M463.0 160.5h0M459.8 161.9h0M458.4 158.7h0M461.6 157.3h0M477.0 160.5h0M473.8 161.9h0M472.4 158.7h0M475.6 157.3h0M519.0 160.5h0M515.8 161.9h0M514.4 158.7h0M517.6 157.3h0M540.0 160.5h0M536.8 161.9h0M535.4 158.7h0M538.6 157.3h0M547.0 160.5h0M543.8 161.9h0M542.4 158.7h0M545.6 157.3h0M324.9 174.9h0M324.9 178.3h0M331.3 174.9h0M331.3 178.3h0M341.0 174.9h0M341.0 178.3h0M350.6 174.9h0M350.6 178.3h0M366.6 174.9h0M366.6 178.3h0M373.1 174.9h0M373.1 178.3h0M395.5 174.9h0M395.5 178.3h0M411.6 174.9h0M411.6 178.3h0M437.3 174.9h0M437.3 178.3h0M446.9 174.9h0M446.9 178.3h0M456.5 174.9h0M456.5 178.3h0M462.9 174.9h0M462.9 178.3h0M475.8 174.9h0M475.8 178.3h0M479.0 174.9h0M479.0 178.3h0M485.4 174.9h0M485.4 178.3h0M488.6 174.9h0M488.6 178.3h0M507.9 174.9h0M507.9 178.3h0M514.3 174.9h0M514.3 178.3h0M523.9 174.9h0M523.9 178.3h0M533.6 174.9h0M533.6 178.3h0M546.4 174.9h0M546.4 178.3h0M562.5 174.9h0M562.5 178.3h0M331.3 181.4h0M331.3 184.8h0M357.0 181.4h0M357.0 184.8h0M379.5 181.4h0M379.5 184.8h0M385.9 181.4h0M385.9 184.8h0M392.3 181.4h0M392.3 184.8h0M440.5 181.4h0M440.5 184.8h0M450.1 181.4h0M450.1 184.8h0M456.5 181.4h0M456.5 184.8h0M469.4 181.4h0M469.4 184.8h0M472.6 181.4h0M472.6 184.8h0M491.8 181.4h0M491.8 184.8h0M498.3 181.4h0M498.3 184.8h0M501.5 181.4h0M501.5 184.8h0M511.1 181.4h0M511.1 184.8h0M530.4 181.4h0M530.4 184.8h0M546.4 181.4h0M546.4 184.8h0M549.6 181.4h0M549.6 184.8h0M556.0 181.4h0M556.0 184.8h0M562.5 181.4h0M562.5 184.8h0M324.9 187.8h0M324.9 191.2h0M328.1 187.8h0M328.1 191.2h0M341.0 187.8h0M341.0 191.2h0M357.0 187.8h0M357.0 191.2h0M379.5 187.8h0M379.5 191.2h0M398.7 187.8h0M398.7 191.2h0M414.8 187.8h0M414.8 191.2h0M443.7 187.8h0M443.7 191.2h0M459.7 187.8h0M459.7 191.2h0M472.6 187.8h0M472.6 191.2h0M485.4 187.8h0M485.4 191.2h0M498.3 187.8h0M498.3 191.2h0M517.5 187.8h0M517.5 191.2h0M536.8 187.8h0M536.8 191.2h0M540.0 187.8h0M540.0 191.2h0M341.0 194.8h0M341.0 198.2h0M344.2 194.8h0M344.2 198.2h0M350.6 194.8h0M350.6 198.2h0M366.6 194.8h0M366.6 198.2h0M402.0 194.8h0M402.0 198.2h0M456.5 194.8h0M456.5 198.2h0M472.6 194.8h0M472.6 198.2h0M507.9 194.8h0M507.9 198.2h0M530.4 194.8h0M530.4 198.2h0M543.2 194.8h0M543.2 198.2h0M546.4 194.8h0M546.4 198.2h0M552.8 194.8h0M552.8 198.2h0M556.0 194.8h0M556.0 198.2h0M559.2 194.8h0M559.2 198.2h0M562.5 194.8h0M562.5 198.2h0M337.8 201.2h0M337.8 204.6h0M369.9 201.2h0M369.9 204.6h0M376.3 201.2h0M376.3 204.6h0M398.7 201.2h0M398.7 204.6h0M423.0 201.8h0M426.2 201.8h0M429.4 201.8h0M432.6 201.8h0M435.8 201.8h0M439.0 201.8h0M442.3 201.8h0M445.5 201.8h0M448.7 201.8h0M451.9 201.8h0M455.1 201.8h0M458.3 201.8h0M461.5 201.8h0M464.7 201.8h0M467.9 201.8h0M471.1 201.8h0M474.4 201.8h0M477.6 201.8h0M480.8 201.8h0M484.0 201.8h0M487.2 201.8h0M490.4 201.8h0M493.6 201.8h0M496.8 201.8h0M500.0 201.8h0M503.2 201.8h0M506.5 201.8h0M509.7 201.8h0M512.9 201.8h0M516.1 201.8h0M519.3 201.8h0M522.5 201.8h0M525.7 201.8h0M528.9 201.8h0M532.1 201.8h0M535.3 201.8h0M538.6 201.8h0M541.8 201.8h0M545.0 201.8h0M548.2 201.8h0M551.4 201.8h0M554.6 201.8h0M557.8 201.8h0M561.0 201.8h0M318.5 208.2h0M321.7 208.2h0M324.9 208.2h0M328.1 208.2h0M331.3 208.2h0M334.5 208.2h0M337.8 208.2h0M341.0 208.2h0M344.2 208.2h0M347.4 208.2h0M350.6 208.2h0M353.8 208.2h0M357.0 208.2h0M360.2 208.2h0M363.4 208.2h0M366.6 208.2h0M369.9 208.2h0M373.1 208.2h0M376.3 208.2h0M379.5 208.2h0M382.7 208.2h0M385.9 208.2h0M389.1 208.2h0M392.3 208.2h0M395.5 208.2h0M398.7 208.2h0M402.0 208.2h0M405.2 208.2h0M408.4 208.2h0M411.6 208.2h0M414.8 208.2h0M418.0 208.2h0M421.2 208.2h0M424.4 208.2h0M427.6 208.2h0M430.8 208.2h0M434.1 208.2h0M437.3 208.2h0M440.5 208.2h0M443.7 208.2h0M446.9 208.2h0M450.1 208.2h0M453.3 208.2h0M456.5 208.2h0M459.7 208.2h0M462.9 208.2h0M466.2 208.2h0M469.4 208.2h0M472.6 208.2h0M475.8 208.2h0M479.0 208.2h0M482.2 208.2h0M485.4 208.2h0M488.6 208.2h0M491.8 208.2h0M495.0 208.2h0M498.3 208.2h0M501.5 208.2h0M504.7 208.2h0M507.9 208.2h0M511.1 208.2h0M514.3 208.2h0M517.5 208.2h0M520.7 208.2h0M523.9 208.2h0M527.1 208.2h0M530.4 208.2h0M533.6 208.2h0M536.8 208.2h0M540.0 208.2h0M543.2 208.2h0M546.4 208.2h0M549.6 208.2h0M552.8 208.2h0M556.0 208.2h0M559.2 208.2h0M562.5 208.2h0M318.5 211.5h0M321.7 211.5h0M324.9 211.5h0M328.1 211.5h0M331.3 211.5h0M334.5 211.5h0M337.8 211.5h0M341.0 211.5h0M344.2 211.5h0M347.4 211.5h0M350.6 211.5h0M353.8 211.5h0M357.0 211.5h0M360.2 211.5h0M363.4 211.5h0M366.6 211.5h0M369.9 211.5h0M373.1 211.5h0M376.3 211.5h0M379.5 211.5h0M382.7 211.5h0M385.9 211.5h0M389.1 211.5h0M392.3 211.5h0M395.5 211.5h0M398.7 211.5h0M402.0 211.5h0M405.2 211.5h0M408.4 211.5h0M411.6 211.5h0M414.8 211.5h0M418.0 211.5h0M421.2 211.5h0M424.4 211.5h0M427.6 211.5h0M430.8 211.5h0M434.1 211.5h0M437.3 211.5h0M440.5 211.5h0M443.7 211.5h0M446.9 211.5h0M450.1 211.5h0M453.3 211.5h0M456.5 211.5h0M459.7 211.5h0M462.9 211.5h0M466.2 211.5h0M469.4 211.5h0M472.6 211.5h0M475.8 211.5h0M479.0 211.5h0M482.2 211.5h0M485.4 211.5h0M488.6 211.5h0M491.8 211.5h0M495.0 211.5h0M498.3 211.5h0M501.5 211.5h0M504.7 211.5h0M507.9 211.5h0M511.1 211.5h0M514.3 211.5h0M517.5 211.5h0M520.7 211.5h0M523.9 211.5h0M527.1 211.5h0M530.4 211.5h0M533.6 211.5h0M536.8 211.5h0M540.0 211.5h0M543.2 211.5h0M546.4 211.5h0M549.6 211.5h0M552.8 211.5h0M556.0 211.5h0M559.2 211.5h0M562.5 211.5h0M318.5 214.6h0M321.7 214.6h0M324.9 214.6h0M328.1 214.6h0M331.3 214.6h0M334.5 214.6h0M337.8 214.6h0M341.0 214.6h0M344.2 214.6h0M347.4 214.6h0M350.6 214.6h0M353.8 214.6h0M357.0 214.6h0M360.2 214.6h0M363.4 214.6h0M366.6 214.6h0M369.9 214.6h0M373.1 214.6h0M376.3 214.6h0M379.5 214.6h0M382.7 214.6h0M385.9 214.6h0M389.1 214.6h0M392.3 214.6h0M395.5 214.6h0M398.7 214.6h0M402.0 214.6h0M405.2 214.6h0M408.4 214.6h0M411.6 214.6h0M414.8 214.6h0M418.0 214.6h0M421.2 214.6h0M424.4 214.6h0M427.6 214.6h0M430.8 214.6h0M434.1 214.6h0M437.3 214.6h0M440.5 214.6h0M443.7 214.6h0M446.9 214.6h0M450.1 214.6h0M453.3 214.6h0M456.5 214.6h0M459.7 214.6h0M462.9 214.6h0M466.2 214.6h0M469.4 214.6h0M472.6 214.6h0M475.8 214.6h0M479.0 214.6h0M482.2 214.6h0M485.4 214.6h0M488.6 214.6h0M491.8 214.6h0M495.0 214.6h0M498.3 214.6h0M501.5 214.6h0M504.7 214.6h0M507.9 214.6h0M511.1 214.6h0M514.3 214.6h0M517.5 214.6h0M520.7 214.6h0M523.9 214.6h0M527.1 214.6h0M530.4 214.6h0M533.6 214.6h0M536.8 214.6h0M540.0 214.6h0M543.2 214.6h0M546.4 214.6h0M549.6 214.6h0M552.8 214.6h0M556.0 214.6h0M559.2 214.6h0M562.5 214.6h0M318.5 217.8h0M321.7 217.8h0M324.9 217.8h0M328.1 217.8h0M331.3 217.8h0M334.5 217.8h0M337.8 217.8h0M341.0 217.8h0M344.2 217.8h0M347.4 217.8h0M350.6 217.8h0M353.8 217.8h0M357.0 217.8h0M360.2 217.8h0M363.4 217.8h0M366.6 217.8h0M369.9 217.8h0M373.1 217.8h0M376.3 217.8h0M379.5 217.8h0M382.7 217.8h0" stroke="#f5a98b" stroke-width="1.50" stroke-linecap="round" fill="none"/>
<path d="M340.5 165.2h0M343.6 165.8h0M342.0 168.3h0M347.1 165.2h0M350.2 165.8h0M348.6 168.3h0M353.7 165.2h0M356.8 165.8h0M355.2 168.3h0M360.3 165.2h0M363.4 165.8h0M361.8 168.3h0M366.9 165.2h0M370.0 165.8h0M368.4 168.3h0M373.5 165.2h0M376.6 165.8h0M375.0 168.3h0M380.1 165.2h0M383.2 165.8h0M381.6 168.3h0M386.7 165.2h0M389.8 165.8h0M388.2 168.3h0M393.3 165.2h0M396.4 165.8h0M394.8 168.3h0M399.9 165.2h0M403.0 165.8h0M401.4 168.3h0M406.5 165.2h0M409.6 165.8h0M408.0 168.3h0M413.1 165.2h0M416.2 165.8h0M414.6 168.3h0M419.7 165.2h0M422.8 165.8h0M421.2 168.3h0M426.3 165.2h0M429.4 165.8h0M427.8 168.3h0M432.9 165.2h0M436.0 165.8h0M434.4 168.3h0M439.5 165.2h0M442.6 165.8h0M441.0 168.3h0M446.1 165.2h0M449.2 165.8h0M447.6 168.3h0M452.7 165.2h0M455.8 165.8h0M454.2 168.3h0M459.3 165.2h0M462.4 165.8h0M460.8 168.3h0M465.9 165.2h0M469.0 165.8h0M467.4 168.3h0M472.5 165.2h0M475.6 165.8h0M474.0 168.3h0M479.1 165.2h0M482.2 165.8h0M480.6 168.3h0M485.7 165.2h0M488.8 165.8h0M487.2 168.3h0M492.3 165.2h0M495.4 165.8h0M493.8 168.3h0M498.9 165.2h0M502.0 165.8h0M500.4 168.3h0M505.5 165.2h0M508.6 165.8h0M507.0 168.3h0M512.1 165.2h0M515.2 165.8h0M513.6 168.3h0M518.7 165.2h0M521.8 165.8h0M520.2 168.3h0M525.3 165.2h0M528.4 165.8h0M526.8 168.3h0M531.9 165.2h0M535.0 165.8h0M533.4 168.3h0M538.5 165.2h0M541.6 165.8h0M540.0 168.3h0M545.1 165.2h0M548.2 165.8h0M546.6 168.3h0M551.7 165.2h0M554.8 165.8h0M553.2 168.3h0M558.3 165.2h0M561.4 165.8h0M559.8 168.3h0" stroke="#f5a98b" stroke-width="1.30" stroke-linecap="round" fill="none"/>
<line x1="35" y1="289" x2="156.4" y2="396.5" stroke="#8dbbec" stroke-width="1.1" stroke-dasharray="1.1 0.9"/>
<line x1="83" y1="288" x2="156.4" y2="396.5" stroke="#8dbbec" stroke-width="1.1" stroke-dasharray="1.1 0.9"/>
<line x1="95" y1="288" x2="156.4" y2="396.5" stroke="#8dbbec" stroke-width="1.1" stroke-dasharray="1.1 0.9"/>
<line x1="150" y1="286" x2="157" y2="398" stroke="#e9763c" stroke-width="1.3" stroke-dasharray="1.2 0.9"/>
<line x1="211" y1="290" x2="273.8" y2="397.7" stroke="#8dbbec" stroke-width="1.1" stroke-dasharray="1.1 0.9"/>
<line x1="271" y1="290" x2="273.8" y2="397.7" stroke="#8dbbec" stroke-width="1.1" stroke-dasharray="1.1 0.9"/>
<line x1="314.6" y1="296" x2="273.8" y2="397.7" stroke="#8dbbec" stroke-width="1.1" stroke-dasharray="1.1 0.9"/>
<line x1="376" y1="296" x2="279.2" y2="396.5" stroke="#e9763c" stroke-width="1.3" stroke-dasharray="1.2 0.9"/>
<line x1="274" y1="400" x2="441" y2="370.2" stroke="#8dbbec" stroke-width="1.1" stroke-dasharray="1.1 0.9"/>
<line x1="290" y1="395.9" x2="443.4" y2="462.2" stroke="#e9763c" stroke-width="1.3" stroke-dasharray="1.2 0.9"/>
<line x1="219.5" y1="431.9" x2="30.5" y2="574.7" stroke="#e9763c" stroke-width="1.3" stroke-dasharray="1.2 0.9"/>
<line x1="219.5" y1="431.9" x2="93" y2="575.6" stroke="#8dbbec" stroke-width="1.1" stroke-dasharray="1.1 0.9"/>
<line x1="219.5" y1="431.9" x2="152" y2="571.8" stroke="#8dbbec" stroke-width="1.1" stroke-dasharray="1.1 0.9"/>
<line x1="219.5" y1="431.9" x2="208.3" y2="571.8" stroke="#8dbbec" stroke-width="1.1" stroke-dasharray="1.1 0.9"/>
<line x1="245.2" y1="458.2" x2="265" y2="574.7" stroke="#8dbbec" stroke-width="1.1" stroke-dasharray="1.1 0.9"/>
<line x1="245.2" y1="458.2" x2="326.8" y2="573.7" stroke="#e9763c" stroke-width="1.3" stroke-dasharray="1.2 0.9"/>
<line x1="245.2" y1="458.2" x2="379.6" y2="574.3" stroke="#e9763c" stroke-width="1.3" stroke-dasharray="1.2 0.9"/>
<line x1="245.2" y1="458.2" x2="390.6" y2="574.7" stroke="#e9763c" stroke-width="1.3" stroke-dasharray="1.2 0.9"/>
<rect x="428.9" y="258.6" width="96.6" height="57.4" fill="#fff" stroke="#333" stroke-width="1.1"/>
<text x="430.4" y="271.7" font-size="15" textLength="61.4" lengthAdjust="spacingAndGlyphs" fill="#2a3f5f">ionmode</text>
<circle cx="448.6" cy="287.2" r="2.5" fill="#c6dbef"/>
<circle cx="448.6" cy="307.2" r="2.5" fill="#fcbba1"/>
<text x="470.3" y="292.1" font-size="14.1" textLength="47.6" lengthAdjust="spacingAndGlyphs" fill="#2a3f5f">positive</text>
<text x="470.3" y="311.8" font-size="14.1" textLength="52.8" lengthAdjust="spacingAndGlyphs" fill="#2a3f5f">negative</text>
<line x1="450.7" y1="431.2" x2="450.7" y2="423.0" stroke="#a9c6ea" stroke-width="1"/>
<line x1="455.7" y1="431.2" x2="455.7" y2="420.0" stroke="#a9c6ea" stroke-width="1"/>
<line x1="458.5" y1="431.2" x2="458.5" y2="429.9" stroke="#a9c6ea" stroke-width="1"/>
<line x1="469.3" y1="431.2" x2="469.3" y2="429.5" stroke="#a9c6ea" stroke-width="1"/>
<line x1="475.6" y1="431.2" x2="475.6" y2="430.3" stroke="#a9c6ea" stroke-width="1"/>
<line x1="523.0" y1="431.2" x2="523.0" y2="345.0" stroke="#a9c6ea" stroke-width="1.2"/>
<line x1="573.3" y1="431.2" x2="573.3" y2="428.6" stroke="#a9c6ea" stroke-width="1"/>
<line x1="536.1" y1="431.2" x2="536.1" y2="430.3" stroke="#a9c6ea" stroke-width="1"/>
<line x1="450.7" y1="431.2" x2="450.7" y2="437.2" stroke="#f7a88c" stroke-width="1"/>
<line x1="475.6" y1="431.2" x2="475.6" y2="433.8" stroke="#f7a88c" stroke-width="1"/>
<line x1="483.9" y1="431.2" x2="483.9" y2="433.8" stroke="#f7a88c" stroke-width="1"/>
<line x1="507.8" y1="431.2" x2="507.8" y2="433.8" stroke="#f7a88c" stroke-width="1"/>
<line x1="513.1" y1="431.2" x2="513.1" y2="435.1" stroke="#f7a88c" stroke-width="1"/>
<line x1="522.4" y1="431.2" x2="522.4" y2="504.5" stroke="#f7a88c" stroke-width="1.2"/>
<line x1="536.1" y1="431.2" x2="536.1" y2="432.5" stroke="#f7a88c" stroke-width="1"/>
<line x1="618.0" y1="431.2" x2="618.0" y2="518.3" stroke="#f7a88c" stroke-width="1.2"/>
<line x1="429.0" y1="431.2" x2="677.3" y2="431.2" stroke="#8a8a8a" stroke-width="2"/>
<rect x="429.0" y="336.4" width="248.3" height="189.6" fill="none" stroke="#333" stroke-width="1.1"/>
<line x1="426.8" y1="526.02" x2="429.0" y2="526.02" stroke="#333" stroke-width="0.9"/>
<line x1="426.8" y1="521.71" x2="429.0" y2="521.71" stroke="#333" stroke-width="0.9"/>
<line x1="424.8" y1="517.40" x2="429.0" y2="517.40" stroke="#333" stroke-width="0.9"/>
<line x1="426.8" y1="513.09" x2="429.0" y2="513.09" stroke="#333" stroke-width="0.9"/>
<line x1="426.8" y1="508.78" x2="429.0" y2="508.78" stroke="#333" stroke-width="0.9"/>
<line x1="426.8" y1="504.47" x2="429.0" y2="504.47" stroke="#333" stroke-width="0.9"/>
<line x1="426.8" y1="500.16" x2="429.0" y2="500.16" stroke="#333" stroke-width="0.9"/>
<line x1="424.8" y1="495.85" x2="429.0" y2="495.85" stroke="#333" stroke-width="0.9"/>
<line x1="426.8" y1="491.54" x2="429.0" y2="491.54" stroke="#333" stroke-width="0.9"/>
<line x1="426.8" y1="487.23" x2="429.0" y2="487.23" stroke="#333" stroke-width="0.9"/>
<line x1="426.8" y1="482.92" x2="429.0" y2="482.92" stroke="#333" stroke-width="0.9"/>
<line x1="426.8" y1="478.61" x2="429.0" y2="478.61" stroke="#333" stroke-width="0.9"/>
<line x1="424.8" y1="474.30" x2="429.0" y2="474.30" stroke="#333" stroke-width="0.9"/>
<line x1="426.8" y1="469.99" x2="429.0" y2="469.99" stroke="#333" stroke-width="0.9"/>
<line x1="426.8" y1="465.68" x2="429.0" y2="465.68" stroke="#333" stroke-width="0.9"/>
<line x1="426.8" y1="461.37" x2="429.0" y2="461.37" stroke="#333" stroke-width="0.9"/>
<line x1="426.8" y1="457.06" x2="429.0" y2="457.06" stroke="#333" stroke-width="0.9"/>
<line x1="424.8" y1="452.75" x2="429.0" y2="452.75" stroke="#333" stroke-width="0.9"/>
<line x1="426.8" y1="448.44" x2="429.0" y2="448.44" stroke="#333" stroke-width="0.9"/>
<line x1="426.8" y1="444.13" x2="429.0" y2="444.13" stroke="#333" stroke-width="0.9"/>
<line x1="426.8" y1="439.82" x2="429.0" y2="439.82" stroke="#333" stroke-width="0.9"/>
<line x1="426.8" y1="435.51" x2="429.0" y2="435.51" stroke="#333" stroke-width="0.9"/>
<line x1="424.8" y1="431.20" x2="429.0" y2="431.20" stroke="#333" stroke-width="0.9"/>
<line x1="426.8" y1="426.89" x2="429.0" y2="426.89" stroke="#333" stroke-width="0.9"/>
<line x1="426.8" y1="422.58" x2="429.0" y2="422.58" stroke="#333" stroke-width="0.9"/>
<line x1="426.8" y1="418.27" x2="429.0" y2="418.27" stroke="#333" stroke-width="0.9"/>
<line x1="426.8" y1="413.96" x2="429.0" y2="413.96" stroke="#333" stroke-width="0.9"/>
<line x1="424.8" y1="409.65" x2="429.0" y2="409.65" stroke="#333" stroke-width="0.9"/>
<line x1="426.8" y1="405.34" x2="429.0" y2="405.34" stroke="#333" stroke-width="0.9"/>
<line x1="426.8" y1="401.03" x2="429.0" y2="401.03" stroke="#333" stroke-width="0.9"/>
<line x1="426.8" y1="396.72" x2="429.0" y2="396.72" stroke="#333" stroke-width="0.9"/>
<line x1="426.8" y1="392.41" x2="429.0" y2="392.41" stroke="#333" stroke-width="0.9"/>
<line x1="424.8" y1="388.10" x2="429.0" y2="388.10" stroke="#333" stroke-width="0.9"/>
<line x1="426.8" y1="383.79" x2="429.0" y2="383.79" stroke="#333" stroke-width="0.9"/>
<line x1="426.8" y1="379.48" x2="429.0" y2="379.48" stroke="#333" stroke-width="0.9"/>
<line x1="426.8" y1="375.17" x2="429.0" y2="375.17" stroke="#333" stroke-width="0.9"/>
<line x1="426.8" y1="370.86" x2="429.0" y2="370.86" stroke="#333" stroke-width="0.9"/>
<line x1="424.8" y1="366.55" x2="429.0" y2="366.55" stroke="#333" stroke-width="0.9"/>
<line x1="426.8" y1="362.24" x2="429.0" y2="362.24" stroke="#333" stroke-width="0.9"/>
<line x1="426.8" y1="357.93" x2="429.0" y2="357.93" stroke="#333" stroke-width="0.9"/>
<line x1="426.8" y1="353.62" x2="429.0" y2="353.62" stroke="#333" stroke-width="0.9"/>
<line x1="426.8" y1="349.31" x2="429.0" y2="349.31" stroke="#333" stroke-width="0.9"/>
<line x1="424.8" y1="345.00" x2="429.0" y2="345.00" stroke="#333" stroke-width="0.9"/>
<line x1="426.8" y1="340.69" x2="429.0" y2="340.69" stroke="#333" stroke-width="0.9"/>
<line x1="426.8" y1="336.38" x2="429.0" y2="336.38" stroke="#333" stroke-width="0.9"/>
<text x="420.8" y="521.0" font-size="10" text-anchor="end" fill="#222">100%</text>
<text x="420.8" y="499.5" font-size="10" text-anchor="end" fill="#222">75%</text>
<text x="420.8" y="477.9" font-size="10" text-anchor="end" fill="#222">50%</text>
<text x="420.8" y="456.4" font-size="10" text-anchor="end" fill="#222">25%</text>
<text x="420.8" y="434.8" font-size="10" text-anchor="end" fill="#222">0%</text>
<text x="420.8" y="413.2" font-size="10" text-anchor="end" fill="#222">25%</text>
<text x="420.8" y="391.7" font-size="10" text-anchor="end" fill="#222">50%</text>
<text x="420.8" y="370.1" font-size="10" text-anchor="end" fill="#222">75%</text>
<text x="420.8" y="348.6" font-size="10" text-anchor="end" fill="#222">100%</text>
<line x1="429.00" y1="526.0" x2="429.00" y2="530.0" stroke="#333" stroke-width="0.9"/>
<line x1="435.21" y1="526.0" x2="435.21" y2="528.2" stroke="#333" stroke-width="0.9"/>
<line x1="441.42" y1="526.0" x2="441.42" y2="528.2" stroke="#333" stroke-width="0.9"/>
<line x1="447.62" y1="526.0" x2="447.62" y2="528.2" stroke="#333" stroke-width="0.9"/>
<line x1="453.83" y1="526.0" x2="453.83" y2="528.2" stroke="#333" stroke-width="0.9"/>
<line x1="460.04" y1="526.0" x2="460.04" y2="530.0" stroke="#333" stroke-width="0.9"/>
<line x1="466.25" y1="526.0" x2="466.25" y2="528.2" stroke="#333" stroke-width="0.9"/>
<line x1="472.45" y1="526.0" x2="472.45" y2="528.2" stroke="#333" stroke-width="0.9"/>
<line x1="478.66" y1="526.0" x2="478.66" y2="528.2" stroke="#333" stroke-width="0.9"/>
<line x1="484.87" y1="526.0" x2="484.87" y2="528.2" stroke="#333" stroke-width="0.9"/>
<line x1="491.07" y1="526.0" x2="491.07" y2="530.0" stroke="#333" stroke-width="0.9"/>
<line x1="497.28" y1="526.0" x2="497.28" y2="528.2" stroke="#333" stroke-width="0.9"/>
<line x1="503.49" y1="526.0" x2="503.49" y2="528.2" stroke="#333" stroke-width="0.9"/>
<line x1="509.70" y1="526.0" x2="509.70" y2="528.2" stroke="#333" stroke-width="0.9"/>
<line x1="515.90" y1="526.0" x2="515.90" y2="528.2" stroke="#333" stroke-width="0.9"/>
<line x1="522.11" y1="526.0" x2="522.11" y2="530.0" stroke="#333" stroke-width="0.9"/>
<line x1="528.32" y1="526.0" x2="528.32" y2="528.2" stroke="#333" stroke-width="0.9"/>
<line x1="534.53" y1="526.0" x2="534.53" y2="528.2" stroke="#333" stroke-width="0.9"/>
<line x1="540.74" y1="526.0" x2="540.74" y2="528.2" stroke="#333" stroke-width="0.9"/>
<line x1="546.94" y1="526.0" x2="546.94" y2="528.2" stroke="#333" stroke-width="0.9"/>
<line x1="553.15" y1="526.0" x2="553.15" y2="530.0" stroke="#333" stroke-width="0.9"/>
<line x1="559.36" y1="526.0" x2="559.36" y2="528.2" stroke="#333" stroke-width="0.9"/>
<line x1="565.56" y1="526.0" x2="565.56" y2="528.2" stroke="#333" stroke-width="0.9"/>
<line x1="571.77" y1="526.0" x2="571.77" y2="528.2" stroke="#333" stroke-width="0.9"/>
<line x1="577.98" y1="526.0" x2="577.98" y2="528.2" stroke="#333" stroke-width="0.9"/>
<line x1="584.19" y1="526.0" x2="584.19" y2="530.0" stroke="#333" stroke-width="0.9"/>
<line x1="590.39" y1="526.0" x2="590.39" y2="528.2" stroke="#333" stroke-width="0.9"/>
<line x1="596.60" y1="526.0" x2="596.60" y2="528.2" stroke="#333" stroke-width="0.9"/>
<line x1="602.81" y1="526.0" x2="602.81" y2="528.2" stroke="#333" stroke-width="0.9"/>
<line x1="609.02" y1="526.0" x2="609.02" y2="528.2" stroke="#333" stroke-width="0.9"/>
<line x1="615.22" y1="526.0" x2="615.22" y2="530.0" stroke="#333" stroke-width="0.9"/>
<line x1="621.43" y1="526.0" x2="621.43" y2="528.2" stroke="#333" stroke-width="0.9"/>
<line x1="627.64" y1="526.0" x2="627.64" y2="528.2" stroke="#333" stroke-width="0.9"/>
<line x1="633.85" y1="526.0" x2="633.85" y2="528.2" stroke="#333" stroke-width="0.9"/>
<line x1="640.05" y1="526.0" x2="640.05" y2="528.2" stroke="#333" stroke-width="0.9"/>
<line x1="646.26" y1="526.0" x2="646.26" y2="530.0" stroke="#333" stroke-width="0.9"/>
<line x1="652.47" y1="526.0" x2="652.47" y2="528.2" stroke="#333" stroke-width="0.9"/>
<line x1="658.68" y1="526.0" x2="658.68" y2="528.2" stroke="#333" stroke-width="0.9"/>
<line x1="664.88" y1="526.0" x2="664.88" y2="528.2" stroke="#333" stroke-width="0.9"/>
<line x1="671.09" y1="526.0" x2="671.09" y2="528.2" stroke="#333" stroke-width="0.9"/>
<line x1="677.30" y1="526.0" x2="677.30" y2="530.0" stroke="#333" stroke-width="0.9"/>
<text x="429.0" y="541.7" font-size="10" text-anchor="middle" fill="#222">0</text>
<text x="460.0" y="541.7" font-size="10" text-anchor="middle" fill="#222">100</text>
<text x="491.1" y="541.7" font-size="10" text-anchor="middle" fill="#222">200</text>
<text x="522.1" y="541.7" font-size="10" text-anchor="middle" fill="#222">300</text>
<text x="553.1" y="541.7" font-size="10" text-anchor="middle" fill="#222">400</text>
<text x="584.2" y="541.7" font-size="10" text-anchor="middle" fill="#222">500</text>
<text x="615.2" y="541.7" font-size="10" text-anchor="middle" fill="#222">600</text>
<text x="646.3" y="541.7" font-size="10" text-anchor="middle" fill="#222">700</text>
<text x="677.3" y="541.7" font-size="10" text-anchor="middle" fill="#222">800</text>
<text x="543" y="556.9" font-size="11.5" font-style="italic" textLength="19.8" lengthAdjust="spacingAndGlyphs" fill="#222">m/z</text>
<text transform="translate(388.6,455.8) rotate(-90)" x="0" y="0" font-size="11.5" textLength="49.4" lengthAdjust="spacingAndGlyphs" fill="#222">Intensity</text>
<text x="631.7" y="348.7" font-size="9.6" textLength="32" lengthAdjust="spacingAndGlyphs" fill="#222">Positive</text>
<text x="625.4" y="518.3" font-size="9.6" textLength="37" lengthAdjust="spacingAndGlyphs" fill="#222">Negative</text>
<path d="M10.7 270L12.3 270.9M12.3 270.9L13.8 271.8M10.8 270.9L13 272.2M13.8 271.8L13.8 273.6M13.8 273.6L13.8 275.4M13.8 275.4L12.3 276.3M12.3 276.3L10.7 277.2M13 275L10.8 276.3M10.7 277.2L9.1 276.3M9.1 276.3L7.6 275.4M7.6 275.4L7.6 273.6M7.6 273.6L7.6 271.8M8.3 274.9L8.3 272.3M7.6 271.8L9.1 270.9M9.1 270.9L10.7 270M7.6 275.4L5.7 275.8M10.7 277.2L10.8 278.5M11.9 281L12.9 282.3M14 271.8L15.1 271.4M15.1 271.4L16.2 271M16.2 271L17.5 272.1M17.5 272.1L18.8 273.1M15.6 271.7L18.2 273.8M18.8 273.1L19.9 272.5M19.9 272.5L21 271.8M21 271.8L22.1 272M22.1 272L23.2 272.2M23.2 272.2L24.3 273M26.7 273.1L28 272.3M28 272.3L29.3 273.1M29.3 273.1L30.6 274M30.6 274L31.9 273.4M31.9 273.4L33.3 272.7M33.3 272.7L34.6 273.5M34.6 273.5L35.9 274.4M35.9 274.4L37.2 274.9M40 275.1L41.6 274.9M41.6 274.9L42.9 275.5M42.9 275.5L44.2 276.2M44.2 276.2L45.8 275.8M45.8 275.8L47.3 275.3M47.3 275.3L48.6 276M48.6 276L49.9 276.6M49.9 276.6L51.5 276.2M23.2 272.2L23.2 270.2M24.1 272.2L24.1 270.2M72.8 268.5L74.2 269.9M74.2 269.9L75.6 271.3M72.7 269.5L74.6 271.4M75.6 271.3L75.1 273.2M75.1 273.2L74.6 275.1M74.6 275.1L72.7 275.6M72.7 275.6L70.8 276.1M73.8 274.5L71.2 275.2M70.8 276.1L69.4 274.7M69.4 274.7L68 273.3M68 273.3L68.5 271.4M68.5 271.4L69 269.5M68.9 272.9L69.6 270.3M69 269.5L70.9 269M70.9 269L72.8 268.5M68 273.3L66.1 273.8M70.8 276.1L70.7 277.5M71.8 281L72.9 283M75.6 271.3L77.1 270.8M77.1 270.8L78.6 270.3M78.6 270.3L80.8 271.6M80.8 271.6L82.9 272.9M78.1 271.1L82.4 273.7M82.9 272.9L84.9 272M84.9 272L86.9 271.1M86.9 271.1L88.2 272.6M91.2 274L93 273.8M93 273.8L94.8 274.9M94.8 274.9L96.5 276M86.9 271.1L87.3 269.4M87.8 271.3L88.2 269.6M96.5 276L96.2 278M105.4 270.4L106.8 271.8M106.8 271.8L108.2 273.2M105.3 271.4L107.2 273.3M108.2 273.2L107.7 275.1M107.7 275.1L107.2 277M107.2 277L105.3 277.5M105.3 277.5L103.4 278M106.4 276.4L103.8 277.1M103.4 278L102 276.6M102 276.6L100.6 275.2M100.6 275.2L101.1 273.3M101.1 273.3L101.6 271.4M101.5 274.8L102.2 272.2M101.6 271.4L103.5 270.9M103.5 270.9L105.4 270.4M96.5 276L98.6 275.6M98.6 275.6L100.6 275.2M108.2 273.2L110.2 272.6M132.1 268.2L133.5 269.6M133.5 269.6L134.9 271M132 269.2L133.9 271.1M134.9 271L134.4 272.9M134.4 272.9L133.9 274.8M133.9 274.8L132 275.3M132 275.3L130.1 275.8M133.1 274.2L130.5 274.9M130.1 275.8L128.7 274.4M128.7 274.4L127.3 273M127.3 273L127.8 271.1M127.8 271.1L128.3 269.2M128.2 272.6L128.9 270M128.3 269.2L130.2 268.7M130.2 268.7L132.1 268.2M127.3 273L125.1 273.6M130.1 275.8L130.2 277.6M131.4 281L132.4 282.5M134.9 271L136.9 270.2M136.9 270.2L139 269.4M139 269.4L140.8 270.5M140.8 270.5L142.5 271.6M142.5 271.6L144.1 271M147.1 271.6L148.6 272.9M148.6 272.9L150.6 272.4M150.6 272.4L152.6 272M152.6 272L154.3 273.3M154.3 273.3L156.1 274.6M152.1 272.7L155.6 275.3M156.1 274.6L157.8 274.2M157.8 274.2L159.6 273.8M148.6 272.9L148.4 274.9M147.7 272.8L147.5 274.8M164.7 268.2L166.1 269.6M166.1 269.6L167.5 271M164.6 269.2L166.5 271.1M167.5 271L167 272.9M167 272.9L166.5 274.8M166.5 274.8L164.6 275.3M164.6 275.3L162.7 275.8M165.7 274.2L163.1 274.9M162.7 275.8L161.3 274.4M161.3 274.4L159.9 273M159.9 273L160.4 271.1M160.4 271.1L160.9 269.2M160.8 272.6L161.5 270M160.9 269.2L162.8 268.7M162.8 268.7L164.7 268.2M167.5 271L169.4 270.2M166.5 274.8L168.1 275.8M169.4 279L169.2 281.2M212.6 269.3L214.6 271.5M214.6 271.5L216.6 273.8M216.6 273.8L215.6 276.6M215.6 276.6L214.7 279.5M214.7 279.5L211.8 280.1M211.8 280.1L208.8 280.7M208.8 280.7L206.8 278.5M206.8 278.5L204.8 276.2M204.8 276.2L205.8 273.4M205.8 273.4L206.7 270.5M206.7 270.5L209.6 269.9M209.6 269.9L212.6 269.3M223 272.7L225 274.9M225 274.9L227 277.2M222.7 274.2L225.5 277.3M227 277.2L226 280M226 280L225.1 282.9M225.1 282.9L222.2 283.5M222.2 283.5L219.2 284.1M224 281.9L219.9 282.7M219.2 284.1L217.2 281.9M217.2 281.9L215.2 279.6M215.2 279.6L216.2 276.8M216.2 276.8L217.1 273.9M216.6 279.2L218 275.2M217.1 273.9L220 273.3M220 273.3L223 272.7M196.6 275.7L197.4 278.6M197.4 278.6L198.2 281.5M195.7 276.8L196.8 280.9M198.2 281.5L196.1 283.6M196.1 283.6L194 285.7M194 285.7L191.1 284.9M191.1 284.9L188.2 284.1M193.4 284.3L189.3 283.2M188.2 284.1L187.4 281.2M187.4 281.2L186.6 278.3M186.6 278.3L188.7 276.2M188.7 276.2L190.8 274.1M188.1 278.6L191.1 275.6M190.8 274.1L193.7 274.9M193.7 274.9L196.6 275.7M196.6 275.7L200.7 275.9M200.7 275.9L204.8 276.2M212.6 269.3L213 266.4M213.5 269.4L213.9 266.5M206.7 270.5L204.1 268.2M223 272.7L224.3 269.5M225.1 282.9L227.8 285.3M186.6 278.3L185 274.7M269.6 270.9L272.5 271.4M272.5 271.4L275.5 271.8M275.5 271.8L276.6 274.6M276.6 274.6L277.7 277.4M277.7 277.4L275.9 279.7M275.9 279.7L274 282.1M274 282.1L271.1 281.6M271.1 281.6L268.1 281.2M268.1 281.2L267 278.4M267 278.4L265.9 275.6M265.9 275.6L267.7 273.3M267.7 273.3L269.6 270.9M279.9 266.8L282.8 267.3M282.8 267.3L285.8 267.7M280.6 268.1L284.8 268.7M285.8 267.7L286.9 270.5M286.9 270.5L288 273.3M288 273.3L286.2 275.6M286.2 275.6L284.3 278M286.5 273.2L283.9 276.5M284.3 278L281.4 277.5M281.4 277.5L278.4 277.1M278.4 277.1L277.3 274.3M277.3 274.3L276.2 271.5M279.2 275.8L277.6 271.9M276.2 271.5L278 269.2M278 269.2L279.9 266.8M260.3 271.3L259.7 274.3M259.7 274.3L259.2 277.2M258.9 272L258.1 276.1M259.2 277.2L256.3 278.2M256.3 278.2L253.5 279.2M253.5 279.2L251.2 277.2M251.2 277.2L248.9 275.3M253.6 277.7L250.4 275M248.9 275.3L249.5 272.3M249.5 272.3L250 269.4M250 269.4L252.9 268.4M252.9 268.4L255.7 267.4M251.3 270.2L255.2 268.8M255.7 267.4L258 269.4M258 269.4L260.3 271.3M259.2 277.2L262.5 276.4M262.5 276.4L265.9 275.6M274 282.1L275.1 284.9M273.2 282.4L274.2 285.2M268.1 281.2L265.9 283.6M284.3 278L285.3 280.9M285.8 267.7L287.8 265.2M248.9 275.3L245.4 273.6M321.7 275.4L321.5 277.5M321.5 277.5L321.4 279.6M321.4 279.6L319.5 280.5M319.5 280.5L317.6 281.4M317.6 281.4L315.9 280.2M315.9 280.2L314.1 279M314.1 279L314.3 276.9M314.3 276.9L314.4 274.8M314.4 274.8L316.3 273.9M316.3 273.9L318.2 273M318.2 273L319.9 274.2M319.9 274.2L321.7 275.4M325.3 282.8L325.1 284.9M325.1 284.9L325 287M324.4 283.3L324.2 286.3M325 287L323.1 287.9M323.1 287.9L321.2 288.8M321.2 288.8L319.5 287.6M319.5 287.6L317.7 286.4M321.2 287.7L318.7 286.1M317.7 286.4L317.9 284.3M317.9 284.3L318 282.2M318 282.2L319.9 281.3M319.9 281.3L321.8 280.4M319 282.7L321.6 281.4M321.8 280.4L323.5 281.6M323.5 281.6L325.3 282.8M311.8 270.8L310.7 272.6M310.7 272.6L309.5 274.3M310.7 270.9L309.2 273.3M309.5 274.3L307.4 274.2M307.4 274.2L305.3 274.1M305.3 274.1L304.4 272.3M304.4 272.3L303.4 270.4M305.8 273.2L304.4 270.6M303.4 270.4L304.5 268.6M304.5 268.6L305.7 266.9M305.7 266.9L307.8 267M307.8 267L309.9 267.1M306.3 267.7L309.2 267.9M309.9 267.1L310.8 268.9M310.8 268.9L311.8 270.8M311.8 270.8L313.1 272.8M313.1 272.8L314.4 274.8M321.7 275.4L323.1 275.2M321.8 276.3L323.2 276.1M325.3 282.8L326.8 281.7M321.2 288.8L321.1 290.5M303.4 270.4L301.6 268.8M318.2 273L318.7 271.4M325.8 262.5L327.4 263.5M329.1 266.3L329.1 268.2M329.1 268.2L327.4 269.1M327.4 269.1L325.8 270.1M325.8 270.1L324.2 269.1M324.2 269.1L322.5 268.2M322.5 268.2L322.5 266.3M322.5 266.3L322.5 264.4M322.5 264.4L324.2 263.5M324.2 263.5L325.8 262.5M322.5 264.4L320.7 262.8M325.8 262.5L325.8 260.1M329.1 264.4L330.8 262.8M320.9 269L322.5 268.2M329.1 268.2L331.5 269.2M331.5 269.2L334 270.3M344.9 271.2L346.6 272.2M346.6 272.2L346.6 274.1M346.6 274.1L346.6 276M346.6 276L344.9 277M344.9 277L343.3 277.9M343.3 277.9L341.7 277M341.7 277L340 276M340 276L340 274.1M340 274.1L340 272.2M340 272.2L341.7 271.2M340 276L337.9 277.1M343.3 277.9L343.1 280.1M346.6 276L348.7 277.1M334 270.3L335.6 269.6M338.7 270.5L340 272.2M346.6 272.2L348.5 270.8M348.5 270.8L350.5 269.4M381.7 275.4L381.5 277.5M381.5 277.5L381.4 279.6M381.4 279.6L379.5 280.5M379.5 280.5L377.6 281.4M377.6 281.4L375.9 280.2M375.9 280.2L374.1 279M374.1 279L374.3 276.9M374.3 276.9L374.4 274.8M374.4 274.8L376.3 273.9M376.3 273.9L378.2 273M378.2 273L379.9 274.2M379.9 274.2L381.7 275.4M385.3 282.8L385.1 284.9M385.1 284.9L385 287M384.4 283.3L384.2 286.3M385 287L383.1 287.9M383.1 287.9L381.2 288.8M381.2 288.8L379.5 287.6M379.5 287.6L377.7 286.4M381.2 287.7L378.7 286.1M377.7 286.4L377.9 284.3M377.9 284.3L378 282.2M378 282.2L379.9 281.3M379.9 281.3L381.8 280.4M379 282.7L381.6 281.4M381.8 280.4L383.5 281.6M383.5 281.6L385.3 282.8M371.8 270.8L370.7 272.6M370.7 272.6L369.5 274.3M370.7 270.9L369.2 273.3M369.5 274.3L367.4 274.2M367.4 274.2L365.3 274.1M365.3 274.1L364.4 272.3M364.4 272.3L363.4 270.4M365.8 273.2L364.4 270.6M363.4 270.4L364.5 268.6M364.5 268.6L365.7 266.9M365.7 266.9L367.8 267M367.8 267L369.9 267.1M366.3 267.7L369.2 267.9M369.9 267.1L370.8 268.9M370.8 268.9L371.8 270.8M371.8 270.8L373.1 272.8M373.1 272.8L374.4 274.8M381.7 275.4L383.1 275.2M381.8 276.3L383.2 276.1M385.3 282.8L386.8 281.7M381.2 288.8L381.1 290.5M363.4 270.4L361.6 268.8M378.2 273L378.7 271.4M385.8 262.5L387.4 263.5M389.1 266.3L389.1 268.2M389.1 268.2L387.4 269.1M387.4 269.1L385.8 270.1M385.8 270.1L384.2 269.1M384.2 269.1L382.5 268.2M382.5 268.2L382.5 266.3M382.5 266.3L382.5 264.4M382.5 264.4L384.2 263.5M384.2 263.5L385.8 262.5M382.5 264.4L380.7 262.8M385.8 262.5L385.8 260.1M389.1 264.4L390.8 262.8M380.9 269L382.5 268.2M389.1 268.2L391.5 269.2M391.5 269.2L394 270.3M404.9 271.2L406.6 272.2M406.6 272.2L406.6 274.1M406.6 274.1L406.6 276M406.6 276L404.9 277M404.9 277L403.3 277.9M403.3 277.9L401.7 277M401.7 277L400 276M400 276L400 274.1M400 274.1L400 272.2M400 272.2L401.7 271.2M400 276L397.9 277.1M403.3 277.9L403.1 280.1M406.6 276L408.7 277.1M394 270.3L395.6 269.6M398.7 270.5L400 272.2M406.6 272.2L408.5 270.8M408.5 270.8L410.5 269.4M19.9 587.7L21.8 588.7M21.8 588.7L23.8 589.7M23.8 589.7L23.9 591.9M23.9 591.9L24 594.1M24 594.1L22.2 595.3M22.2 595.3L20.3 596.5M20.3 596.5L18.4 595.5M18.4 595.5L16.4 594.5M16.4 594.5L16.3 592.3M16.3 592.3L16.2 590.1M16.2 590.1L18 588.9M18 588.9L19.9 587.7M27.8 587.3L29.7 588.3M29.7 588.3L31.7 589.3M28 588.4L30.7 589.8M31.7 589.3L31.8 591.5M31.8 591.5L31.9 593.7M31.9 593.7L30.1 594.9M30.1 594.9L28.2 596.1M30.9 593.3L28.3 595M28.2 596.1L26.3 595.1M26.3 595.1L24.3 594.1M24.3 594.1L24.2 591.9M24.2 591.9L24.1 589.7M25.2 593.4L25 590.3M24.1 589.7L25.9 588.5M25.9 588.5L27.8 587.3M11.8 586.3L10.9 588.3M10.9 588.3L10.1 590.4M10.7 586.6L9.5 589.4M10.1 590.4L7.9 590.7M7.9 590.7L5.7 591M5.7 591L4.4 589.2M4.4 589.2L3 587.5M6 589.9L4.1 587.5M3 587.5L3.9 585.5M3.9 585.5L4.7 583.4M4.7 583.4L6.9 583.1M6.9 583.1L9.1 582.8M5.5 584.2L8.5 583.8M9.1 582.8L10.4 584.6M10.4 584.6L11.8 586.3M11.8 586.3L14 588.2M14 588.2L16.2 590.1M20.3 596.5L20.7 599.3M19.4 596.6L19.8 599.5M31.7 589.3L33.3 587.7M46.6 586.3L48.4 587.4M48.4 587.4L48.4 589.5M48.4 589.5L48.4 591.6M48.4 591.6L46.6 592.7M46.6 592.7L44.7 593.8M44.7 593.8L42.8 592.7M42.8 592.7L41 591.6M41 591.6L41 589.5M41 589.5L41 587.4M41 587.4L42.8 586.3M41 591.6L38.7 592.7M44.7 593.8L44.7 596.2M48.4 591.6L50.8 592.7M38 586.7L41 587.4M48.4 587.4L49.9 585.2M49.9 585.2L51.3 583M51.3 583L50.9 581M89.8 586.3L92 587.5M92 587.5L94.1 588.8M89.9 587.5L93 589.3M94.1 588.8L94.1 591.3M94.1 591.3L94.1 593.8M94.1 593.8L92 595M92 595L89.8 596.3M93 593.3L89.9 595.1M89.8 596.3L87.6 595M87.6 595L85.5 593.8M85.5 593.8L85.5 591.3M85.5 591.3L85.5 588.8M86.5 593L86.5 589.5M85.5 588.8L87.6 587.5M87.6 587.5L89.8 586.3M98.5 586.3L100.7 587.5M100.7 587.5L102.8 588.8M102.8 588.8L102.8 591.3M102.8 591.3L102.8 593.8M102.8 593.8L100.7 595M100.7 595L98.5 596.3M98.5 596.3L96.3 595M96.3 595L94.2 593.8M94.2 593.8L94.2 591.3M94.2 591.3L94.2 588.8M94.2 588.8L96.3 587.5M96.3 587.5L98.5 586.3M107.2 586.3L109.4 587.5M109.4 587.5L111.5 588.8M107.3 587.5L110.4 589.3M111.5 588.8L111.5 591.3M111.5 591.3L111.5 593.8M111.5 593.8L109.4 595M109.4 595L107.2 596.3M110.4 593.3L107.3 595.1M107.2 596.3L105 595M105 595L102.9 593.8M102.9 593.8L102.9 591.3M102.9 591.3L102.9 588.8M103.9 593L103.9 589.5M102.9 588.8L105 587.5M105 587.5L107.2 586.3M98.5 586.3L98.5 583.5M99.4 586.3L99.4 583.5M98.5 596.3L98.5 599M97.6 596.3L97.6 599M89.8 586.3L90.9 584.4M90.2 580.3L88.5 578.1M85.5 593.8L84.3 594.5M84.3 594.5L83.2 595.2M107.2 586.3L108 583.8M85.5 588.8L84 587.2M73.6 585.4L75.6 586.5M75.6 586.5L77.6 587.7M77.6 587.7L77.6 590M75.6 593.5L73.6 594.6M73.6 594.6L71.6 593.5M71.6 593.5L69.6 592.3M69.6 592.3L69.6 590M69.6 590L69.6 587.7M69.6 587.7L71.6 586.5M71.6 586.5L73.6 585.4M73.6 585.4L74 582.4M69.6 587.7L67.2 586.2M69.6 592.3L67 593.8M80.1 586.7L77.6 587.7M73.6 594.6L74.6 597.2M74.6 597.2L75.6 599.8M75.6 599.8L77 601.6M132 590.1L134.4 589.9M134.4 589.9L136.8 589.8M132.8 591L136.1 590.8M136.8 589.8L138.1 591.8M138.1 591.8L139.4 593.8M139.4 593.8L138.3 596M138.3 596L137.2 598.1M138.2 594.1L136.7 597M137.2 598.1L134.8 598.3M134.8 598.3L132.4 598.4M132.4 598.4L131.1 596.4M131.1 596.4L129.8 594.4M132.8 597.3L131 594.4M129.8 594.4L130.9 592.2M130.9 592.2L132 590.1M139 585.5L141.4 585.3M141.4 585.3L143.8 585.2M143.8 585.2L145.1 587.2M145.1 587.2L146.4 589.2M146.4 589.2L145.3 591.4M145.3 591.4L144.2 593.5M144.2 593.5L141.8 593.7M141.8 593.7L139.4 593.8M139.4 593.8L138.1 591.8M138.1 591.8L136.8 589.8M136.8 589.8L137.9 587.6M137.9 587.6L139 585.5M146 580.9L148.4 580.7M148.4 580.7L150.8 580.6M146.8 581.8L150.1 581.6M150.8 580.6L152.1 582.6M152.1 582.6L153.4 584.6M153.4 584.6L152.3 586.8M152.3 586.8L151.2 588.9M152.2 584.9L150.7 587.8M151.2 588.9L148.8 589.1M148.8 589.1L146.4 589.2M146.4 589.2L145.1 587.2M145.1 587.2L143.8 585.2M146.8 588.1L145 585.2M143.8 585.2L144.9 583M144.9 583L146 580.9M139 585.5L138.1 584.1M139.8 585L138.9 583.6M144.2 593.5L145.3 595.6M143.4 594L144.5 596M129.8 594.4L128.4 595.3M128.4 595.3L127 596.2M127 596.2L125.2 593.6M137.2 598.1L139 600.3M150.8 580.6L151.7 579M151.7 579L152.6 577.4M151.2 588.9L152.1 591.1M162.7 587.5L164.6 588.6M164.6 588.6L166.5 589.7M166.5 589.7L166.5 591.9M166.5 591.9L166.5 594.1M166.5 594.1L164.6 595.2M164.6 595.2L162.7 596.3M162.7 596.3L160.8 595.2M158.9 591.9L158.9 589.7M158.9 589.7L160.8 588.6M160.8 588.6L162.7 587.5M158.9 589.7L158.1 587.3M162.7 587.5L164.2 585.8M166.5 589.7L169.4 590.8M155.9 593.7L158.9 594.1M162.7 596.3L163.1 598.4M163.1 598.4L163.5 600.5M163.5 600.5L163.9 602.4M184.2 586.6L185.9 588M185.9 588L187.7 587.8M187.7 587.8L189.4 587.5M189.4 587.5L190.5 589M190.5 589L191.6 590.6M191.6 590.6L192.9 589.5M192.9 589.5L194.2 588.4M194.2 588.4L196.1 589M196.1 589L198.1 589.7M198.1 589.7L199.4 588.2M202.6 587.3L204.3 588M185.9 588L185.2 589.9M185.1 587.7L184.4 589.6M191.6 590.6L190.1 591.9M191.6 590.6L192.7 592.1M192.7 592.1L193.8 593.6M198.1 589.7L198.3 591.5M197.2 589.8L197.5 591.7M208.6 579.1L210.3 580.1M210.3 580.1L212.1 581.1M212.1 581.1L212.1 583.1M212.1 583.1L212.1 585.1M212.1 585.1L210.3 586.1M206.9 586.1L205.1 585.1M205.1 585.1L205.1 583.1M205.1 583.1L205.1 581.1M205.1 581.1L206.9 580.1M206.9 580.1L208.6 579.1M205.1 581.1L203.8 580.8M208.6 579.1L208.6 577.4M212.1 581.1L213.6 579.7M204.3 588L204.7 586.5M204.7 586.5L205.1 585.1M220.3 594.2L218.5 595.3M218.5 595.3L216.8 596.5M216.8 596.5L214.9 595.6M214.9 595.6L213 594.6M213 594.6L212.9 592.5M212.9 592.5L212.7 590.4M212.7 590.4L214.5 589.3M214.5 589.3L216.2 588.1M216.2 588.1L218.1 589M218.1 589L220 590M220 590L220.1 592.1M220.1 592.1L220.3 594.2M216.8 601.2L215 602.3M215 602.3L213.3 603.5M215.8 600.8L213.3 602.4M213.3 603.5L211.4 602.6M211.4 602.6L209.5 601.6M209.5 601.6L209.4 599.5M209.4 599.5L209.2 597.4M210.3 600.9L210.1 598M209.2 597.4L211 596.3M211 596.3L212.7 595.1M212.7 595.1L214.6 596M214.6 596L216.5 597M212.9 596.1L215.6 597.5M216.5 597L216.6 599.1M216.6 599.1L216.8 601.2M224.5 589.1L223.3 587.4M223.3 587.4L222 585.7M224.8 588.1L223.1 585.7M222 585.7L222.9 583.8M222.9 583.8L223.7 581.9M223.7 581.9L225.8 581.7M225.8 581.7L227.9 581.5M224.5 582.7L227.4 582.4M227.9 581.5L229.1 583.2M229.1 583.2L230.4 584.9M230.4 584.9L229.5 586.8M229.5 586.8L228.7 588.7M229.4 585.1L228.1 587.8M228.7 588.7L226.6 588.9M226.6 588.9L224.5 589.1M224.5 589.1L222.2 589.6M222.2 589.6L220 590M212.7 590.4L211.8 590.6M212.6 589.5L211.6 589.7M209.2 597.4L208.7 597.3M213.3 603.5L214.9 604.7M227.9 581.5L229.9 581.2M216.2 588.1L216.2 587.2M214.1 585.7L212.1 585.1M254.7 584.7L255.9 586.8M255.9 586.8L257 589M254.2 585.8L255.8 588.8M257 589L255.7 591M255.7 591L254.5 593M254.5 593L252.1 593M252.1 593L249.7 592.9M253.8 592.1L250.4 591.9M249.7 592.9L248.5 590.8M248.5 590.8L247.4 588.6M247.4 588.6L248.7 586.6M248.7 586.6L249.9 584.6M248.6 588.5L250.4 585.7M249.9 584.6L252.3 584.6M252.3 584.6L254.7 584.7M261.7 589.1L262.9 591.2M262.9 591.2L264 593.4M264 593.4L262.7 595.4M262.7 595.4L261.5 597.4M261.5 597.4L259.1 597.4M259.1 597.4L256.7 597.3M256.7 597.3L255.5 595.2M255.5 595.2L254.4 593M254.4 593L255.7 591M255.7 591L256.9 589M256.9 589L259.3 589M259.3 589L261.7 589.1M268.7 593.5L269.9 595.6M269.9 595.6L271 597.8M268.2 594.6L269.8 597.6M271 597.8L269.7 599.8M269.7 599.8L268.5 601.8M268.5 601.8L266.1 601.8M266.1 601.8L263.7 601.7M267.8 600.9L264.4 600.7M263.7 601.7L262.5 599.6M262.5 599.6L261.4 597.4M261.4 597.4L262.7 595.4M262.7 595.4L263.9 593.4M262.6 597.3L264.4 594.5M263.9 593.4L266.3 593.4M266.3 593.4L268.7 593.5M261.7 589.1L262.9 587.4M262.5 589.6L263.6 587.8M256.7 597.3L256 598.9M255.8 596.9L255.1 598.6M254.7 584.7L256.3 582.6M247.4 588.6L245.9 588.5M242.8 586.4L241.3 584.4M268.5 601.8L269.7 603.4M269.7 603.4L271 605M268.7 593.5L269.9 591.6M282.1 587.7L284 588.8M284 588.8L284 591M284 591L284 593.2M284 593.2L282.1 594.3M282.1 594.3L280.2 595.4M280.2 595.4L278.3 594.3M278.3 594.3L276.4 593.2M276.4 593.2L276.4 591M276.4 591L276.4 588.8M276.4 588.8L278.3 587.7M276.4 593.2L276.1 595.4M284 593.2L285.2 595.6M284 588.8L287 589.2M273.7 589.2L276.4 588.8M280.2 586.6L282.4 584.3M282.4 584.3L284.5 582M284.5 582L284.1 579.6M319.4 589.4L321.4 590.1M321.4 590.1L323.4 590.8M323.4 590.8L323.8 593M323.8 593L324.1 595.1M324.1 595.1L322.5 596.5M322.5 596.5L320.8 597.8M320.8 597.8L318.8 597.1M318.8 597.1L316.8 596.4M316.8 596.4L316.4 594.2M316.4 594.2L316.1 592.1M316.1 592.1L317.7 590.7M317.7 590.7L319.4 589.4M326.8 588.1L328.8 588.8M328.8 588.8L330.8 589.5M327.1 589.1L329.9 590.1M330.8 589.5L331.2 591.7M331.2 591.7L331.5 593.8M331.5 593.8L329.9 595.2M329.9 595.2L328.2 596.5M330.5 593.5L328.2 595.5M328.2 596.5L326.2 595.8M326.2 595.8L324.2 595.1M324.2 595.1L323.8 592.9M323.8 592.9L323.5 590.8M324.9 594.3L324.4 591.3M323.5 590.8L325.1 589.4M325.1 589.4L326.8 588.1M313.9 588.4L313 590.3M313 590.3L312.1 592.3M312.8 588.6L311.6 591.4M312.1 592.3L310 592.5M310 592.5L307.8 592.7M307.8 592.7L306.6 591M306.6 591L305.3 589.2M308.1 591.7L306.4 589.2M305.3 589.2L306.2 587.3M306.2 587.3L307.1 585.3M307.1 585.3L309.2 585.1M309.2 585.1L311.4 584.9M307.8 586.1L310.8 585.8M311.4 584.9L312.6 586.6M312.6 586.6L313.9 588.4M313.9 588.4L315 590.3M315 590.3L316.1 592.1M316.8 596.4L315.8 597.6M328.2 596.5L329.2 598.6M305.3 589.2L303.7 587.7M330.8 589.5L332.4 589M344.2 588.3L346 589.4M346 589.4L346 591.5M346 591.5L346 593.6M346 593.6L344.2 594.7M344.2 594.7L342.4 595.7M342.4 595.7L340.6 594.7M340.6 594.7L338.8 593.6M338.8 593.6L338.8 591.5M338.8 591.5L338.8 589.4M338.8 589.4L340.6 588.3M338.8 593.6L337.3 594.7M342.4 595.7L343 597.1M346 593.6L348.4 593.6M336.4 588.9L338.8 589.4M346 589.4L347.2 587.7M347.2 587.7L348.3 586M348.3 586L348.6 583.7M369.4 583.7L371 584.6M371 584.6L372.6 585.5M369.5 584.6L371.8 585.9M372.6 585.5L372.6 587.4M372.6 587.4L372.6 589.2M372.6 589.2L371 590.2M371 590.2L369.4 591.1M371.8 588.9L369.5 590.2M369.4 591.1L367.8 590.2M367.8 590.2L366.2 589.2M366.2 589.2L366.2 587.4M366.2 587.4L366.2 585.5M366.9 588.7L366.9 586.1M366.2 585.5L367.8 584.6M367.8 584.6L369.4 583.7M366.2 585.5L363.8 586.1M372.6 589.2L374.7 589.8M374.7 589.8L376.7 590.4M376.7 590.4L378.5 591.8M378.5 591.8L380.4 593.3M376.1 591.1L379.8 594M384.5 591.5L386.1 592.4M386.1 592.4L387.7 593.4M384.6 592.4L386.9 593.7M387.7 593.4L387.7 595.2M387.7 595.2L387.7 597.1M387.7 597.1L386.1 598M386.1 598L384.5 598.9M386.9 596.7L384.6 598M384.5 598.9L382.9 598M382.9 598L381.3 597.1M381.3 597.1L381.3 595.2M381.3 595.2L381.3 593.4M382 596.5L382 593.9M381.3 593.4L382.9 592.4M382.9 592.4L384.5 591.5M380.4 593.3L380.8 593.3M380.8 593.3L381.3 593.4M387.7 597.1L389.5 599.5M387.7 593.4L390.1 591.4M404 586.5L405.8 587.5M405.8 587.5L405.8 589.5M405.8 589.5L405.8 591.5M405.8 591.5L404 592.5M404 592.5L402.3 593.5M402.3 593.5L400.6 592.5M400.6 592.5L398.8 591.5M398.8 591.5L398.8 589.5M398.8 589.5L398.8 587.5M398.8 587.5L400.6 586.5M398.8 591.5L398 594M402.3 593.5L403.8 595.6M405.8 591.5L408.3 591.2M395.7 590.5L398.8 591.5M405.8 587.5L406.1 585M406.1 585L406.5 582.5M406.5 582.5L406 580.6M469.5 374.4L469.3 376.9M469.3 376.9L469.2 379.4M469.2 379.4L466.9 380.5M466.9 380.5L464.7 381.6M464.7 381.6L462.6 380.2M462.6 380.2L460.5 378.8M460.5 378.8L460.7 376.3M460.7 376.3L460.8 373.8M460.8 373.8L463.1 372.7M463.1 372.7L465.3 371.6M465.3 371.6L467.4 373M467.4 373L469.5 374.4M473.8 383.1L473.6 385.6M473.6 385.6L473.5 388.1M472.7 383.8L472.5 387.3M473.5 388.1L471.2 389.2M471.2 389.2L469 390.3M469 390.3L466.9 388.9M466.9 388.9L464.8 387.5M468.9 389L466 387.1M464.8 387.5L465 385M465 385L465.1 382.5M465.1 382.5L467.4 381.4M467.4 381.4L469.6 380.3M466.3 383.1L469.4 381.5M469.6 380.3L471.7 381.7M471.7 381.7L473.8 383.1M457 370.2L455.9 372.5M455.9 372.5L454.9 374.8M455.8 370.5L454.3 373.7M454.9 374.8L452.4 375M452.4 375L449.9 375.3M449.9 375.3L448.5 373.2M448.5 373.2L447 371.2M450.3 374.1L448.3 371.2M447 371.2L448.1 368.9M448.1 368.9L449.1 366.6M449.1 366.6L451.6 366.4M451.6 366.4L454.1 366.1M449.9 367.6L453.4 367.2M454.1 366.1L455.5 368.2M455.5 368.2L457 370.2M454.9 374.8L457.9 374.3M457.9 374.3L460.8 373.8M469.5 374.4L471.8 374.1M469.6 375.3L471.9 375M473.8 383.1L476.4 382.5M469 390.3L469.4 393.7M454.1 366.1L453.6 363.6M449.1 366.6L446 366.2M465.3 371.6L465.7 369.5M474.7 358.5L476.7 359.6M476.7 359.6L478.7 360.8M478.7 360.8L478.7 363.1M476.7 366.6L474.7 367.7M474.7 367.7L472.7 366.6M472.7 366.6L470.7 365.4M470.7 365.4L470.7 363.1M470.7 363.1L470.7 360.8M470.7 360.8L472.7 359.6M472.7 359.6L474.7 358.5M470.7 360.8L468.1 359.6M474.7 358.5L475 355.9M478.7 360.8L481.3 359.6M468.4 366.4L470.7 365.4M478.7 365.4L481.3 367M481.3 367L483.9 368.5M498.9 367.8L500.9 368.9M500.9 368.9L500.9 371.2M500.9 371.2L500.9 373.5M500.9 373.5L498.9 374.6M498.9 374.6L496.9 375.8M496.9 375.8L494.9 374.6M494.9 374.6L492.9 373.5M492.9 373.5L492.9 371.2M492.9 371.2L492.9 368.9M492.9 368.9L494.9 367.8M492.9 373.5L490.3 375.1M496.9 375.8L496.9 378.9M500.9 373.5L503.2 375.4M483.9 368.5L485.8 367.7M490.3 367.9L492.9 368.9M500.9 368.9L503.2 367.9M503.2 367.9L505.5 366.9M469.5 484.6L469.3 487.1M469.3 487.1L469.2 489.6M469.2 489.6L466.9 490.7M466.9 490.7L464.7 491.8M464.7 491.8L462.6 490.4M462.6 490.4L460.5 489M460.5 489L460.7 486.5M460.7 486.5L460.8 484M460.8 484L463.1 482.9M463.1 482.9L465.3 481.8M465.3 481.8L467.4 483.2M467.4 483.2L469.5 484.6M473.8 493.3L473.6 495.8M473.6 495.8L473.5 498.3M472.7 494L472.5 497.5M473.5 498.3L471.2 499.4M471.2 499.4L469 500.5M469 500.5L466.9 499.1M466.9 499.1L464.8 497.7M468.9 499.2L466 497.3M464.8 497.7L465 495.2M465 495.2L465.1 492.7M465.1 492.7L467.4 491.6M467.4 491.6L469.6 490.5M466.3 493.3L469.4 491.7M469.6 490.5L471.7 491.9M471.7 491.9L473.8 493.3M457 480.4L455.9 482.7M455.9 482.7L454.9 485M455.8 480.7L454.3 483.9M454.9 485L452.4 485.2M452.4 485.2L449.9 485.5M449.9 485.5L448.5 483.4M448.5 483.4L447 481.4M450.3 484.3L448.3 481.4M447 481.4L448.1 479.1M448.1 479.1L449.1 476.8M449.1 476.8L451.6 476.6M451.6 476.6L454.1 476.3M449.9 477.8L453.4 477.4M454.1 476.3L455.5 478.4M455.5 478.4L457 480.4M454.9 485L457.9 484.5M457.9 484.5L460.8 484M469.5 484.6L471.8 484.3M469.6 485.5L471.9 485.2M473.8 493.3L476.4 492.7M469 500.5L469.4 503.9M454.1 476.3L453.6 473.8M449.1 476.8L446 476.4M465.3 481.8L465.7 479.7M474.7 468.7L476.7 469.9M476.7 469.9L478.7 471M478.7 471L478.7 473.3M476.7 476.8L474.7 477.9M474.7 477.9L472.7 476.8M472.7 476.8L470.7 475.6M470.7 475.6L470.7 473.3M470.7 473.3L470.7 471M470.7 471L472.7 469.9M472.7 469.9L474.7 468.7M470.7 471L468.1 469.8M474.7 468.7L475 466.1M478.7 471L481.3 469.8M468.4 476.6L470.7 475.6M478.7 475.6L481.3 477.1M481.3 477.1L483.9 478.7M498.9 477.9L500.9 479.1M500.9 479.1L500.9 481.4M500.9 481.4L500.9 483.7M500.9 483.7L498.9 484.9M498.9 484.9L496.9 486M496.9 486L494.9 484.9M494.9 484.9L492.9 483.7M492.9 483.7L492.9 481.4M492.9 481.4L492.9 479.1M492.9 479.1L494.9 477.9M492.9 483.7L490.3 485.2M496.9 486L496.9 489.1M500.9 483.7L503.2 485.5M483.9 478.7L485.8 477.9M490.3 478.1L492.9 479.1M500.9 479.1L503.2 478.1M503.2 478.1L505.5 477.1" stroke="#353535" stroke-width="0.72" fill="none"/>
<path d="M5.7 275.8L5 276M10.8 278.5L10.8 278.8M11.6 280.6L11.9 281M23.2 270.2L23.2 269.4M24.1 270.2L24.1 269.4M66.1 273.8L65.2 274M70.7 277.5L70.7 278M71.2 280L71.8 281M87.3 269.4L87.5 268.7M88.2 269.6L88.4 268.9M96.2 278L96.1 278.9M110.2 272.6L111.2 272.3M125.1 273.6L123.9 273.9M130.2 277.6L130.2 278.4M130.9 280.4L131.4 281M148.4 274.9L148.3 275.7M147.5 274.8L147.4 275.6M169.4 270.2L170.4 269.8M168.1 275.8L168.8 276.2M169.6 277.9L169.4 279M213 266.4L213.3 264.6M213.9 266.5L214.2 264.7M204.1 268.2L202.4 266.6M224.3 269.5L225.3 267.3M227.8 285.3L229.7 287.1M185 274.7L183.8 272.1M275.1 284.9L275.7 286.8M274.2 285.2L274.9 287.1M265.9 283.6L264.5 285.2M285.3 280.9L285.9 282.8M287.8 265.2L289 263.7M245.4 273.6L242.9 272.5M323.1 275.2L323.5 275.1M323.2 276.1L323.6 276M326.8 281.7L327.5 281.3M321.1 290.5L321.1 291.2M301.6 268.8L300.6 267.9M318.7 271.4L318.9 270.8M327.4 263.5L328.1 263.9M329.1 265.5L329.1 266.3M320.7 262.8L319.6 261.9M325.8 260.1L325.8 258.7M330.8 262.8L331.7 262M320.2 269.3L320.9 269M344.3 270.9L344.9 271.2M341.7 271.2L342.3 270.9M337.9 277.1L336.8 277.7M343.1 280.1L342.9 281.2M348.7 277.1L349.8 277.7M335.6 269.6L336.3 269.3M338 269.7L338.7 270.5M383.1 275.2L383.5 275.1M383.2 276.1L383.6 276M386.8 281.7L387.5 281.3M381.1 290.5L381.1 291.2M361.6 268.8L360.6 267.9M378.7 271.4L378.9 270.8M387.4 263.5L388.1 263.9M389.1 265.5L389.1 266.3M380.7 262.8L379.6 261.9M385.8 260.1L385.8 258.7M390.8 262.8L391.7 262M380.2 269.3L380.9 269M404.3 270.9L404.9 271.2M401.7 271.2L402.3 270.9M397.9 277.1L396.8 277.7M403.1 280.1L402.9 281.2M408.7 277.1L409.8 277.7M395.6 269.6L396.3 269.3M398 269.7L398.7 270.5M20.7 599.3L20.9 601.1M19.8 599.5L20 601.2M33.3 587.7L34.2 586.8M45.7 585.8L46.6 586.3M42.8 586.3L43.7 585.8M38.7 592.7L37.4 593.3M44.7 596.2L44.7 597.5M50.8 592.7L52.2 593.3M36.1 586.2L38 586.7M50.9 581L50.7 580.1M98.5 583.5L98.5 581.9M99.4 583.5L99.4 581.9M98.5 599L98.5 600.7M97.6 599L97.6 600.7M90.9 584.4L91.4 583.5M91.3 581.6L90.2 580.3M108 583.8L108.5 582.4M84 587.2L83.3 586.4M77.6 590L77.6 591.2M76.6 592.9L75.6 593.5M74 582.4L74.3 580.5M67.2 586.2L65.7 585.3M67 593.8L65.4 594.7M81.6 586L80.1 586.7M77 601.6L77.7 602.6M138.1 584.1L137.9 583.6M138.9 583.6L138.6 583.2M145.3 595.6L145.9 596.6M144.5 596L145.1 597.1M125.2 593.6L123.9 591.9M139 600.3L140.1 601.6M152.1 591.1L152.6 592.2M160.8 595.2L159.8 594.6M158.9 593L158.9 591.9M158.1 587.3L157.7 586M164.2 585.8L165 584.8M169.4 590.8L171.3 591.5M154.1 593.4L155.9 593.7M163.9 602.4L164.1 603.1M183.3 586L184.2 586.6M199.4 588.2L200.1 587.4M201.8 587L202.6 587.3M185.2 589.9L185 590.7M184.4 589.6L184.1 590.4M190.1 591.9L189.3 592.5M198.3 591.5L198.5 592.3M197.5 591.7L197.6 592.4M210.3 586.1L209.6 586.6M207.6 586.6L206.9 586.1M203.8 580.8L203.4 580.7M208.6 577.4L208.6 576.8M213.6 579.7L214.4 579M211.8 590.6L211.5 590.7M211.6 589.7L211.3 589.8M208.7 597.3L208.6 597.2M214.9 604.7L215.6 605.2M229.9 581.2L230.8 581.1M216.2 587.2L216.2 586.9M215 585.9L214.1 585.7M262.9 587.4L263.4 586.5M263.6 587.8L264.2 587M256 598.9L255.7 599.6M255.1 598.6L254.9 599.2M256.3 582.6L257.2 581.4M245.9 588.5L245.4 588.5M243.6 587.5L242.8 586.4M269.9 591.6L270.4 590.6M281.2 587.1L282.1 587.7M278.3 587.7L279.2 587.1M276.1 595.4L275.9 596.5M285.2 595.6L285.9 597M287 589.2L288.8 589.5M272.1 589.5L273.7 589.2M284.1 579.6L283.9 578.3M315.8 597.6L315.5 598M329.2 598.6L329.7 599.6M303.7 587.7L302.9 587M332.4 589L333.1 588.8M343.4 587.8L344.2 588.3M340.6 588.3L341.4 587.8M337.3 594.7L336.7 595.1M343 597.1L343.2 597.5M348.4 593.6L349.6 593.6M335.2 588.6L336.4 588.9M348.6 583.7L348.8 582.5M363.8 586.1L362.5 586.4M389.5 599.5L390.7 601.1M390.1 591.4L391.6 590.2M403.3 586L404 586.5M400.6 586.5L401.3 586M398 594L397.5 595.5M403.8 595.6L404.6 596.9M408.3 591.2L409.7 591.1M393.5 589.8L395.7 590.5M406 580.6L405.8 579.8M471.8 374.1L473.1 374M471.9 375L473.2 374.9M476.4 382.5L477.9 382.2M469.4 393.7L469.8 396.1M453.6 363.6L453.3 362.1M446 366.2L444 365.9M465.7 369.5L465.9 368.5M478.7 363.1L478.7 364.3M477.7 366L476.7 366.6M468.1 359.6L466.5 358.8M475 355.9L475.2 354.5M481.3 359.6L482.9 358.8M467.1 367L468.4 366.4M497.9 367.1L498.9 367.8M494.9 367.8L495.9 367.1M490.3 375.1L488.6 376M496.9 378.9L496.9 380.9M503.2 375.4L504.6 376.5M485.8 367.7L486.7 367.3M488.7 367.3L490.3 367.9M471.8 484.3L473.1 484.2M471.9 485.2L473.2 485.1M476.4 492.7L477.9 492.4M469.4 503.9L469.8 506.3M453.6 473.8L453.3 472.3M446 476.4L444 476.1M465.7 479.7L465.9 478.7M478.7 473.3L478.7 474.5M477.7 476.2L476.7 476.8M468.1 469.8L466.5 469M475 466.1L475.2 464.7M481.3 469.8L482.9 469M467.1 477.2L468.4 476.6M497.9 477.3L498.9 477.9M494.9 477.9L495.9 477.3M490.3 485.2L488.6 486.2M496.9 489.1L496.9 491.1M503.2 485.5L504.6 486.7M485.8 477.9L486.7 477.5M488.7 477.5L490.3 478.1" stroke="#ee4444" stroke-width="0.72" fill="none"/>
<path d="M2.9 276.2L4.9 276.2M9.9 279.7L11.9 279.7M9.9 279.7L11.9 279.7M22.2 268.3L24.2 268.3M63.1 274.2L65.1 274.2M69.7 279L71.7 279M69.7 279L71.7 279M86.8 267.6L88.8 267.6M95 280L97 280M111.3 272L113.3 272M121.8 274.2L123.8 274.2M129.3 279.5L131.3 279.5M129.3 279.5L131.3 279.5M147.2 276.8L149.2 276.8M170.4 269.4L172.4 269.4M168.7 276.8L170.7 276.8M168.7 276.8L170.7 276.8M208.2 280.7L209.4 280.7M212.5 263.5L214.5 263.5M200.6 265.9L202.6 265.9M224.7 266.3L226.7 266.3M229.5 287.8L231.5 287.8M182.3 271.1L184.3 271.1M269 270.9L270.2 270.9M275.1 287.8L277.1 287.8M262.8 286L264.8 286M285.2 283.8L287.2 283.8M288.7 262.8L290.7 262.8M240.9 272L242.9 272M313.5 279L314.7 279M323.5 275L325.5 275M327.4 280.7L329.4 280.7M320 292.3L322 292.3M298.8 267.2L300.8 267.2M318.2 269.8L320.2 269.8M328.5 264.4L329.7 264.4M317.8 261.2L319.8 261.2M324.8 257.6L326.8 257.6M331.5 261.2L333.5 261.2M342.7 270.3L343.9 270.3M334.8 278.2L336.8 278.2M341.8 282.3L343.8 282.3M349.8 278.2L351.8 278.2M336.3 268.8L338.3 268.8M373.5 279L374.7 279M383.5 275L385.5 275M387.4 280.7L389.4 280.7M380 292.3L382 292.3M358.8 267.2L360.8 267.2M378.2 269.8L380.2 269.8M388.5 264.4L389.7 264.4M377.8 261.2L379.8 261.2M384.8 257.6L386.8 257.6M391.5 261.2L393.5 261.2M402.7 270.3L403.9 270.3M394.8 278.2L396.8 278.2M401.8 282.3L403.8 282.3M409.8 278.2L411.8 278.2M396.3 268.8L398.3 268.8M19.3 587.7L20.5 587.7M20 602.2L22 602.2M34 586L36 586M44.1 585.2L45.3 585.2M35.4 593.8L37.4 593.8M43.7 598.6L45.7 598.6M52.2 593.8L54.2 593.8M49.5 579L51.5 579M97.5 580.8L99.5 580.8M97.5 601.8L99.5 601.8M91 582.5L93 582.5M91 582.5L93 582.5M107.8 581.4L109.8 581.4M81.6 585.6L83.6 585.6M77 592.3L78.2 592.3M73.4 579.4L75.4 579.4M63.8 584.7L65.8 584.7M63.4 595.2L65.4 595.2M77.4 603.5L79.4 603.5M136.3 582.7L138.3 582.7M145.4 597.6L147.4 597.6M122.3 591L124.3 591M139.8 602.4L141.8 602.4M152 593.2L154 593.2M158.3 594.1L159.5 594.1M156.4 584.9L158.4 584.9M164.7 584L166.7 584M171.3 591.9L173.3 591.9M163.4 604.2L165.4 604.2M181.4 585.3L183.4 585.3M199.8 586.6L201.8 586.6M183.6 591.7L185.6 591.7M187.5 593.2L189.5 593.2M197.6 593.4L199.6 593.4M208 587.1L209.2 587.1M201.5 580.5L203.5 580.5M207.6 575.7L209.6 575.7M214.2 578.3L216.2 578.3M219.7 594.2L220.9 594.2M209.8 590.8L211.8 590.8M207.2 597.1L209.2 597.1M215.5 605.9L217.5 605.9M230.9 581L232.9 581M215.1 586.2L217.1 586.2M263 585.6L265 585.6M254.3 600.6L256.3 600.6M256.9 580.5L258.9 580.5M243.3 588.4L245.3 588.4M243.3 588.4L245.3 588.4M270 589.7L272 589.7M279.6 586.6L280.8 586.6M274.8 597.6L276.8 597.6M285.4 598L287.4 598M288.9 589.7L290.9 589.7M282.7 577.2L284.7 577.2M318.8 589.4L320 589.4M313.8 598.9L315.8 598.9M329.2 600.6L331.2 600.6M301.1 586.2L303.1 586.2M333.1 588.4L335.1 588.4M341.8 587.3L343 587.3M334.8 595.8L336.8 595.8M342.7 598.5L344.7 598.5M349.7 593.6L351.7 593.6M348 581.4L350 581.4M360.4 586.7L362.4 586.7M390.3 602L392.3 602M391.5 589.5L393.5 589.5M401.7 585.5L402.9 585.5M396.2 596.5L398.2 596.5M404.2 597.8L406.2 597.8M409.8 591L411.8 591M404.5 578.7L406.5 578.7M459.9 378.8L461.1 378.8M473.2 373.9L475.2 373.9M478 382L480 382M468.9 397.2L470.9 397.2M452.1 361L454.1 361M441.9 365.8L443.9 365.8M465.1 367.4L467.1 367.4M478.1 365.4L479.3 365.4M464.5 358.3L466.5 358.3M474.3 353.4L476.3 353.4M482.9 358.3L484.9 358.3M496.3 366.6L497.5 366.6M486.7 376.6L488.7 376.6M495.9 382L497.9 382M504.5 377.2L506.5 377.2M486.7 366.9L488.7 366.9M459.9 489L461.1 489M473.2 484.1L475.2 484.1M478 492.2L480 492.2M468.9 507.4L470.9 507.4M452.1 471.2L454.1 471.2M441.9 476L443.9 476M465.1 477.6L467.1 477.6M478.1 475.6L479.3 475.6M464.5 468.5L466.5 468.5M474.3 463.6L476.3 463.6M482.9 468.5L484.9 468.5M496.3 476.8L497.5 476.8M486.7 486.8L488.7 486.8M495.9 492.2L497.9 492.2M504.5 487.4L506.5 487.4M486.7 477.1L488.7 477.1" stroke="#ee4444" stroke-width="1.5" stroke-opacity="0.75" fill="none"/>
<path d="M24.3 273L24.6 273.2M26.3 273.3L26.7 273.1M37.2 274.9L37.6 275M39.6 275.2L40 275.1M51.5 276.2L51.9 276.1M88.2 272.6L88.8 273.4M90.6 274.1L91.2 274M144.1 271L144.6 270.7M146.4 271L147.1 271.6" stroke="#4a5ef0" stroke-width="0.72" fill="none"/>
<path d="M24.4 273.8L26.4 273.8M37.5 275.3L39.5 275.3M52 275.8L54 275.8M88.5 274.2L90.5 274.2M144.6 270.3L146.6 270.3" stroke="#4a5ef0" stroke-width="1.5" stroke-opacity="0.75" fill="none"/>
<line x1="315" y1="22" x2="460.4" y2="90.1" stroke="#1e1e1e" stroke-width="1.35" stroke-dasharray="4 2.3"/>
<line x1="315" y1="219" x2="460.4" y2="106" stroke="#1e1e1e" stroke-width="1.35" stroke-dasharray="4 2.3"/>
<rect x="460.4" y="90.1" width="20.5" height="15.9" fill="none" stroke="#1e1e1e" stroke-width="1.35" stroke-dasharray="4 2.3"/>
<rect x="515.3" y="162.3" width="9" height="9.6" fill="none" stroke="#1e1e1e" stroke-width="1.3" stroke-dasharray="3 2"/>
<line x1="524.3" y1="162.3" x2="578.3" y2="76.5" stroke="#1e1e1e" stroke-width="1.35" stroke-dasharray="4 2.3"/>
<line x1="524.3" y1="171.9" x2="578.3" y2="168.3" stroke="#1e1e1e" stroke-width="1.35" stroke-dasharray="4 2.3"/>
<rect x="578.3" y="76.5" width="99.9" height="91.8" fill="#fff" stroke="#333" stroke-width="1.5"/>
<line x1="597.8" y1="93.7" x2="661.2" y2="100" stroke="#777" stroke-width="2.2"/>
<line x1="597.8" y1="93.7" x2="624.2" y2="151.3" stroke="#777" stroke-width="1"/>
<line x1="661.2" y1="100" x2="624.2" y2="151.3" stroke="#777" stroke-width="1"/>
<circle cx="597.8" cy="93.7" r="14.8" fill="#c6dbef"/>
<circle cx="661.2" cy="100" r="14.8" fill="#c6dbef"/>
<circle cx="624.2" cy="151.3" r="14.8" fill="#fcbba1"/>
<path d="M600.9 92.5L603 93.7M600.4 93.3L602.5 94.5M603 93.7L605 94.9M602.5 94.5L604.6 95.7M605 94.9L605 97.3M605 97.3L605 99.7M605 99.7L603 100.9M604.6 98.9L602.5 100.1M603 100.9L600.9 102.1M602.5 100.1L600.4 101.3M600.9 102.1L598.8 100.9M598.8 100.9L596.7 99.7M596.7 99.7L596.7 97.3M597.7 99.7L597.7 97.3M596.7 97.3L596.7 94.9M597.7 97.3L597.7 94.9M596.7 94.9L598.8 93.7M598.8 93.7L600.9 92.5M596.7 94.9L596.7 92.5M596.7 92.5L596.7 90.1M596.7 90.1L594.6 88.9M594.6 88.9L592.6 87.7M592.6 87.7L594.6 86.5M593 88.5L595.1 87.3M592.6 87.7L590.5 86.5M596.7 99.7L594.6 100.9M605 94.9L607.1 93.7M664.3 98.8L666.4 100M663.8 99.6L665.9 100.8M666.4 100L668.4 101.2M665.9 100.8L668 102M668.4 101.2L668.4 103.6M668.4 103.6L668.4 106M668.4 106L666.4 107.2M668 105.2L665.9 106.4M666.4 107.2L664.3 108.4M665.9 106.4L663.8 107.6M664.3 108.4L662.2 107.2M662.2 107.2L660.1 106M660.1 106L660.1 103.6M661.1 106L661.1 103.6M660.1 103.6L660.1 101.2M661.1 103.6L661.1 101.2M660.1 101.2L662.2 100M662.2 100L664.3 98.8M660.1 101.2L660.1 98.8M660.1 98.8L660.1 96.4M660.1 96.4L658 95.2M658 95.2L656 94M656 94L658 92.8M656.4 94.8L658.5 93.6M656 94L653.9 92.8M660.1 106L658 107.2M668.4 101.2L670.5 100M620.2 144.4L622.2 145.6M619.8 145.2L621.7 146.3M622.2 145.6L624.2 146.7M621.7 146.3L623.7 147.5M624.2 146.7L624.2 149M624.2 149L624.2 151.3M624.2 151.3L622.2 152.5M623.7 150.5L621.7 151.7M622.2 152.5L620.2 153.6M621.7 151.7L619.8 152.8M620.2 153.6L618.2 152.5M618.2 152.5L616.2 151.3M616.2 151.3L616.2 149M617.2 151.3L617.2 149M616.2 149L616.2 146.7M617.2 149L617.2 146.7M616.2 146.7L618.2 145.6M618.2 145.6L620.2 144.4M616.2 146.7L614.2 145.6M616.2 151.3L614.2 152.5M624.2 151.3L626.2 152.5M626.2 152.5L628.2 153.6M628.2 153.6L630.2 152.5M630.2 152.5L632.2 151.3M632.2 151.3L634.2 152.5M628.2 153.6L628.2 155.9" stroke="#3c3c3c" stroke-width="0.55" fill="none"/>
<path d="M594.6 86.5L595.6 86M595.1 87.3L596 86.8M590.5 86.5L589.6 86M594.6 100.9L593.7 101.4M607.1 93.7L608 93.2M658 92.8L659 92.3M658.5 93.6L659.4 93.1M653.9 92.8L653 92.3M658 107.2L657.1 107.7M670.5 100L671.4 99.5M614.2 145.6L613.4 145M614.2 152.5L613.4 153M634.2 152.5L635 153M628.2 155.9L628.2 156.9" stroke="#f03c3c" stroke-width="0.55" fill="none"/>
<path d="M596 85.3L597.5 85.3M587.6 85.3L589.2 85.3M591.8 102.1L593.3 102.1M608.4 92.5L610 92.5M659.4 91.6L660.9 91.6M651 91.6L652.6 91.6M655.2 108.4L656.7 108.4M671.8 98.8L673.4 98.8" stroke="#f03c3c" stroke-width="1.44" stroke-opacity="0.8" fill="none"/>
<path d="M611.5 144.4L613 144.4M611.5 153.6L613 153.6M635.4 153.6L636.9 153.6M627.4 158.2L628.9 158.2" stroke="#f03c3c" stroke-width="1.38" stroke-opacity="0.8" fill="none"/>
</svg></body></html>
